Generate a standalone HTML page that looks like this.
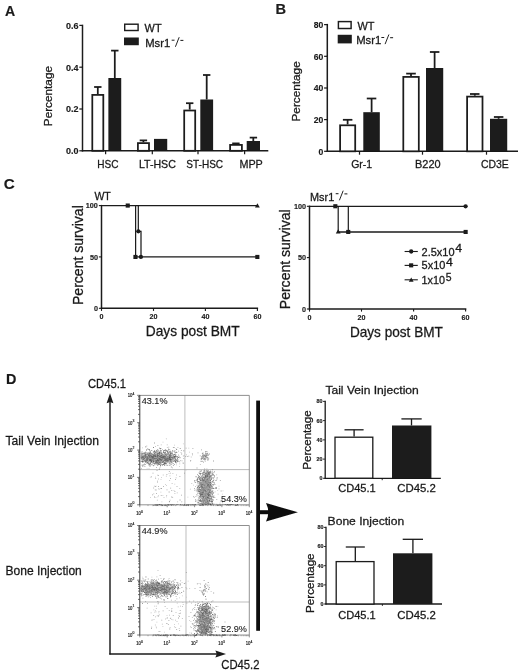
<!DOCTYPE html>
<html><head><meta charset="utf-8"><title>Figure</title>
<style>
html,body{margin:0;padding:0;background:#fff;}
body{width:520px;height:670px;overflow:hidden;font-family:"Liberation Sans",sans-serif;}
svg{display:block;font-family:"Liberation Sans",sans-serif;}
svg text{fill:#1a1a1a;stroke:#1a1a1a;stroke-width:0.28px;}
svg text.b{stroke-width:0.15px;}
</style></head>
<body>
<svg width="520" height="670" viewBox="0 0 520 670">
<rect width="520" height="670" fill="#fff"/>
<g filter="url(#soft)">
<text x="5.0" y="16.1" font-size="14" font-weight="bold" class="b" textLength="10.2" lengthAdjust="spacingAndGlyphs">A</text>
<line x1="82.5" y1="24.7" x2="82.5" y2="151.5" stroke="#1a1a1a" stroke-width="1.5"/>
<line x1="81.8" y1="150.8" x2="268.3" y2="150.8" stroke="#1a1a1a" stroke-width="1.5"/>
<line x1="79.3" y1="150.8" x2="82.5" y2="150.8" stroke="#1a1a1a" stroke-width="1.2"/>
<text x="65.9" y="154.1" font-size="9.4" font-weight="bold" class="b" textLength="12.5" lengthAdjust="spacingAndGlyphs">0.0</text>
<line x1="79.3" y1="109.0" x2="82.5" y2="109.0" stroke="#1a1a1a" stroke-width="1.2"/>
<text x="65.9" y="112.3" font-size="9.4" font-weight="bold" class="b" textLength="12.5" lengthAdjust="spacingAndGlyphs">0.2</text>
<line x1="79.3" y1="67.2" x2="82.5" y2="67.2" stroke="#1a1a1a" stroke-width="1.2"/>
<text x="65.9" y="70.5" font-size="9.4" font-weight="bold" class="b" textLength="12.5" lengthAdjust="spacingAndGlyphs">0.4</text>
<line x1="79.3" y1="25.4" x2="82.5" y2="25.4" stroke="#1a1a1a" stroke-width="1.2"/>
<text x="65.9" y="28.7" font-size="9.4" font-weight="bold" class="b" textLength="12.5" lengthAdjust="spacingAndGlyphs">0.6</text>
<text x="52.4" y="126.2" font-size="11.5" textLength="60.2" lengthAdjust="spacingAndGlyphs" transform="rotate(-90 52.4 126.2)">Percentage</text>
<line x1="97.8" y1="87.0" x2="97.8" y2="94.0" stroke="#1a1a1a" stroke-width="1.75"/>
<line x1="94.1" y1="87.0" x2="101.5" y2="87.0" stroke="#1a1a1a" stroke-width="1.75"/>
<rect x="92.3" y="94.9" width="11.0" height="55.9" fill="#fff" stroke="#1a1a1a" stroke-width="1.75"/>
<line x1="114.8" y1="50.6" x2="114.8" y2="78.0" stroke="#1a1a1a" stroke-width="1.75"/>
<line x1="111.1" y1="50.6" x2="118.5" y2="50.6" stroke="#1a1a1a" stroke-width="1.75"/>
<rect x="108.4" y="78.0" width="12.8" height="72.8" fill="#1a1a1a"/>
<line x1="143.4" y1="140.4" x2="143.4" y2="142.2" stroke="#1a1a1a" stroke-width="1.75"/>
<line x1="139.7" y1="140.4" x2="147.1" y2="140.4" stroke="#1a1a1a" stroke-width="1.75"/>
<rect x="137.9" y="143.1" width="11.1" height="7.7" fill="#fff" stroke="#1a1a1a" stroke-width="1.75"/>
<rect x="154.0" y="138.9" width="13.2" height="11.9" fill="#1a1a1a"/>
<line x1="189.7" y1="103.2" x2="189.7" y2="109.6" stroke="#1a1a1a" stroke-width="1.75"/>
<line x1="186.0" y1="103.2" x2="193.4" y2="103.2" stroke="#1a1a1a" stroke-width="1.75"/>
<rect x="184.2" y="110.5" width="11.0" height="40.3" fill="#fff" stroke="#1a1a1a" stroke-width="1.75"/>
<line x1="206.7" y1="75.0" x2="206.7" y2="99.5" stroke="#1a1a1a" stroke-width="1.75"/>
<line x1="203.0" y1="75.0" x2="210.4" y2="75.0" stroke="#1a1a1a" stroke-width="1.75"/>
<rect x="200.3" y="99.5" width="12.8" height="51.3" fill="#1a1a1a"/>
<line x1="235.9" y1="143.4" x2="235.9" y2="144.0" stroke="#1a1a1a" stroke-width="1.75"/>
<line x1="232.2" y1="143.4" x2="239.6" y2="143.4" stroke="#1a1a1a" stroke-width="1.75"/>
<rect x="230.1" y="144.9" width="11.8" height="5.9" fill="#fff" stroke="#1a1a1a" stroke-width="1.75"/>
<line x1="253.3" y1="137.6" x2="253.3" y2="141.0" stroke="#1a1a1a" stroke-width="1.75"/>
<line x1="249.7" y1="137.6" x2="257.1" y2="137.6" stroke="#1a1a1a" stroke-width="1.75"/>
<rect x="246.7" y="141.0" width="13.3" height="9.8" fill="#1a1a1a"/>
<line x1="105.6" y1="150.8" x2="105.6" y2="154.2" stroke="#1a1a1a" stroke-width="1.2"/>
<line x1="152.3" y1="150.8" x2="152.3" y2="154.2" stroke="#1a1a1a" stroke-width="1.2"/>
<line x1="198.0" y1="150.8" x2="198.0" y2="154.2" stroke="#1a1a1a" stroke-width="1.2"/>
<line x1="244.6" y1="150.8" x2="244.6" y2="154.2" stroke="#1a1a1a" stroke-width="1.2"/>
<text x="97.2" y="168.4" font-size="11.3" textLength="21.2" lengthAdjust="spacingAndGlyphs">HSC</text>
<text x="138.9" y="168.4" font-size="11.3" textLength="37.0" lengthAdjust="spacingAndGlyphs">LT-HSC</text>
<text x="186.3" y="168.4" font-size="11.3" textLength="36.8" lengthAdjust="spacingAndGlyphs">ST-HSC</text>
<text x="239.4" y="168.4" font-size="11.3" textLength="23.4" lengthAdjust="spacingAndGlyphs">MPP</text>
<rect x="124.7" y="24.2" width="13.4" height="6.3" fill="#fff" stroke="#1a1a1a" stroke-width="1.4"/>
<rect x="124.0" y="37.5" width="14.8" height="7.7" fill="#1a1a1a"/>
<text x="144.6" y="31.5" font-size="10.8" textLength="17.0" lengthAdjust="spacingAndGlyphs">WT</text>
<text x="145.2" y="47.0" font-size="10.8" textLength="25.0" lengthAdjust="spacingAndGlyphs">Msr1</text>
<line x1="171.7" y1="40.2" x2="174.5" y2="40.2" stroke="#1a1a1a" stroke-width="1.0"/>
<line x1="175.4" y1="46.8" x2="179.2" y2="37.2" stroke="#1a1a1a" stroke-width="0.95"/>
<line x1="180.4" y1="40.4" x2="183.4" y2="40.4" stroke="#1a1a1a" stroke-width="1.0"/>
<text x="275.5" y="13.7" font-size="14" font-weight="bold" class="b" textLength="10.6" lengthAdjust="spacingAndGlyphs">B</text>
<line x1="327.3" y1="23.9" x2="327.3" y2="152.0" stroke="#1a1a1a" stroke-width="1.5"/>
<line x1="326.6" y1="151.3" x2="518.0" y2="151.3" stroke="#1a1a1a" stroke-width="1.5"/>
<line x1="324.1" y1="151.3" x2="327.3" y2="151.3" stroke="#1a1a1a" stroke-width="1.2"/>
<text x="318.6" y="154.6" font-size="9.4" font-weight="bold" class="b" textLength="4.8" lengthAdjust="spacingAndGlyphs">0</text>
<line x1="324.1" y1="119.6" x2="327.3" y2="119.6" stroke="#1a1a1a" stroke-width="1.2"/>
<text x="313.8" y="122.9" font-size="9.4" font-weight="bold" class="b" textLength="9.6" lengthAdjust="spacingAndGlyphs">20</text>
<line x1="324.1" y1="88.0" x2="327.3" y2="88.0" stroke="#1a1a1a" stroke-width="1.2"/>
<text x="313.8" y="91.2" font-size="9.4" font-weight="bold" class="b" textLength="9.6" lengthAdjust="spacingAndGlyphs">40</text>
<line x1="324.1" y1="56.3" x2="327.3" y2="56.3" stroke="#1a1a1a" stroke-width="1.2"/>
<text x="313.8" y="59.6" font-size="9.4" font-weight="bold" class="b" textLength="9.6" lengthAdjust="spacingAndGlyphs">60</text>
<line x1="324.1" y1="24.6" x2="327.3" y2="24.6" stroke="#1a1a1a" stroke-width="1.2"/>
<text x="313.8" y="27.9" font-size="9.4" font-weight="bold" class="b" textLength="9.6" lengthAdjust="spacingAndGlyphs">80</text>
<text x="300.0" y="121.5" font-size="11.5" textLength="60.2" lengthAdjust="spacingAndGlyphs" transform="rotate(-90 300.0 121.5)">Percentage</text>
<line x1="347.6" y1="119.8" x2="347.6" y2="124.4" stroke="#1a1a1a" stroke-width="1.75"/>
<line x1="342.9" y1="119.8" x2="352.4" y2="119.8" stroke="#1a1a1a" stroke-width="1.75"/>
<rect x="340.1" y="125.3" width="15.1" height="26.0" fill="#fff" stroke="#1a1a1a" stroke-width="1.75"/>
<line x1="371.6" y1="98.5" x2="371.6" y2="112.2" stroke="#1a1a1a" stroke-width="1.75"/>
<line x1="366.8" y1="98.5" x2="376.3" y2="98.5" stroke="#1a1a1a" stroke-width="1.75"/>
<rect x="363.3" y="112.2" width="16.5" height="39.1" fill="#1a1a1a"/>
<line x1="411.0" y1="73.6" x2="411.0" y2="76.0" stroke="#1a1a1a" stroke-width="1.75"/>
<line x1="406.2" y1="73.6" x2="415.8" y2="73.6" stroke="#1a1a1a" stroke-width="1.75"/>
<rect x="403.3" y="76.9" width="15.5" height="74.4" fill="#fff" stroke="#1a1a1a" stroke-width="1.75"/>
<line x1="434.6" y1="52.0" x2="434.6" y2="68.0" stroke="#1a1a1a" stroke-width="1.75"/>
<line x1="429.9" y1="52.0" x2="439.4" y2="52.0" stroke="#1a1a1a" stroke-width="1.75"/>
<rect x="426.0" y="68.0" width="17.2" height="83.3" fill="#1a1a1a"/>
<line x1="474.8" y1="94.0" x2="474.8" y2="95.7" stroke="#1a1a1a" stroke-width="1.75"/>
<line x1="470.0" y1="94.0" x2="479.5" y2="94.0" stroke="#1a1a1a" stroke-width="1.75"/>
<rect x="467.1" y="96.6" width="15.4" height="54.7" fill="#fff" stroke="#1a1a1a" stroke-width="1.75"/>
<line x1="498.6" y1="117.0" x2="498.6" y2="118.8" stroke="#1a1a1a" stroke-width="1.75"/>
<line x1="493.9" y1="117.0" x2="503.4" y2="117.0" stroke="#1a1a1a" stroke-width="1.75"/>
<rect x="490.0" y="118.8" width="17.2" height="32.5" fill="#1a1a1a"/>
<line x1="359.5" y1="151.3" x2="359.5" y2="154.7" stroke="#1a1a1a" stroke-width="1.2"/>
<line x1="422.5" y1="151.3" x2="422.5" y2="154.7" stroke="#1a1a1a" stroke-width="1.2"/>
<line x1="486.5" y1="151.3" x2="486.5" y2="154.7" stroke="#1a1a1a" stroke-width="1.2"/>
<text x="351.2" y="167.5" font-size="11.4" textLength="21.0" lengthAdjust="spacingAndGlyphs">Gr-1</text>
<text x="415.0" y="167.6" font-size="11.3" textLength="25.6" lengthAdjust="spacingAndGlyphs">B220</text>
<text x="481.0" y="167.6" font-size="11.3" textLength="27.8" lengthAdjust="spacingAndGlyphs">CD3E</text>
<rect x="338.4" y="21.6" width="12.7" height="6.9" fill="#fff" stroke="#1a1a1a" stroke-width="1.45"/>
<rect x="337.7" y="34.8" width="14.1" height="8.6" fill="#1a1a1a"/>
<text x="357.4" y="29.6" font-size="10.8" textLength="17.0" lengthAdjust="spacingAndGlyphs">WT</text>
<text x="356.2" y="44.3" font-size="10.8" textLength="25.0" lengthAdjust="spacingAndGlyphs">Msr1</text>
<line x1="381.4" y1="37.5" x2="384.2" y2="37.5" stroke="#1a1a1a" stroke-width="1.0"/>
<line x1="385.1" y1="44.1" x2="388.9" y2="34.5" stroke="#1a1a1a" stroke-width="0.95"/>
<line x1="390.1" y1="37.7" x2="393.1" y2="37.7" stroke="#1a1a1a" stroke-width="1.0"/>
<text x="3.7" y="188.7" font-size="14" font-weight="bold" class="b" textLength="11.0" lengthAdjust="spacingAndGlyphs">C</text>
<line x1="101.5" y1="204.9" x2="101.5" y2="309.0" stroke="#1a1a1a" stroke-width="1.45"/>
<line x1="100.8" y1="308.3" x2="258.1" y2="308.3" stroke="#1a1a1a" stroke-width="1.45"/>
<line x1="98.9" y1="308.3" x2="101.5" y2="308.3" stroke="#1a1a1a" stroke-width="1.1"/>
<text x="94.0" y="311.1" font-size="8.0" font-weight="bold" class="b" textLength="4.0" lengthAdjust="spacingAndGlyphs">0</text>
<line x1="98.9" y1="256.9" x2="101.5" y2="256.9" stroke="#1a1a1a" stroke-width="1.1"/>
<text x="89.9" y="259.8" font-size="8.0" font-weight="bold" class="b" textLength="8.1" lengthAdjust="spacingAndGlyphs">50</text>
<line x1="98.9" y1="205.6" x2="101.5" y2="205.6" stroke="#1a1a1a" stroke-width="1.1"/>
<text x="85.8" y="208.4" font-size="8.0" font-weight="bold" class="b" textLength="12.1" lengthAdjust="spacingAndGlyphs">100</text>
<line x1="101.5" y1="308.3" x2="101.5" y2="310.9" stroke="#1a1a1a" stroke-width="1.1"/>
<text x="99.5" y="319.3" font-size="7.8" font-weight="bold" class="b" textLength="4.0" lengthAdjust="spacingAndGlyphs">0</text>
<line x1="153.5" y1="308.3" x2="153.5" y2="310.9" stroke="#1a1a1a" stroke-width="1.1"/>
<text x="149.5" y="319.3" font-size="7.8" font-weight="bold" class="b" textLength="8.0" lengthAdjust="spacingAndGlyphs">20</text>
<line x1="205.4" y1="308.3" x2="205.4" y2="310.9" stroke="#1a1a1a" stroke-width="1.1"/>
<text x="201.4" y="319.3" font-size="7.8" font-weight="bold" class="b" textLength="8.0" lengthAdjust="spacingAndGlyphs">40</text>
<line x1="257.4" y1="308.3" x2="257.4" y2="310.9" stroke="#1a1a1a" stroke-width="1.1"/>
<text x="253.4" y="319.3" font-size="7.8" font-weight="bold" class="b" textLength="8.0" lengthAdjust="spacingAndGlyphs">60</text>
<text x="82.6" y="305.0" font-size="14.3" textLength="99.8" lengthAdjust="spacingAndGlyphs" transform="rotate(-90 82.6 305.0)">Percent survival</text>
<text x="145.8" y="336.4" font-size="14.5" textLength="93.8" lengthAdjust="spacingAndGlyphs">Days post BMT</text>
<text x="94.4" y="200.0" font-size="10.8" textLength="16.4" lengthAdjust="spacingAndGlyphs">WT</text>
<path d="M101.5 205.6 L257.4 205.6" fill="none" stroke="#1a1a1a" stroke-width="1.2"/>
<path d="M135.6 205.6 L135.6 256.9 L257.4 256.9" fill="none" stroke="#1a1a1a" stroke-width="1.2"/>
<path d="M138.3 205.6 L138.3 231.3 L141.0 231.3 L141.0 256.9" fill="none" stroke="#1a1a1a" stroke-width="1.2"/>
<path d="M257.4 203.2 L259.8 207.5 L255.0 207.5Z" fill="#1a1a1a"/>
<rect x="125.7" y="203.5" width="4.1" height="4.1" fill="#1a1a1a"/>
<rect x="133.4" y="254.9" width="4.1" height="4.1" fill="#1a1a1a"/>
<rect x="255.3" y="254.9" width="4.1" height="4.1" fill="#1a1a1a"/>
<circle cx="138.3" cy="231.3" r="2.15" fill="#1a1a1a"/>
<circle cx="140.9" cy="256.9" r="2.15" fill="#1a1a1a"/>
<line x1="309.5" y1="205.6" x2="309.5" y2="309.7" stroke="#1a1a1a" stroke-width="1.45"/>
<line x1="308.8" y1="309.0" x2="466.3" y2="309.0" stroke="#1a1a1a" stroke-width="1.45"/>
<line x1="306.9" y1="309.0" x2="309.5" y2="309.0" stroke="#1a1a1a" stroke-width="1.1"/>
<text x="301.9" y="311.8" font-size="8.0" font-weight="bold" class="b" textLength="4.0" lengthAdjust="spacingAndGlyphs">0</text>
<line x1="306.9" y1="257.6" x2="309.5" y2="257.6" stroke="#1a1a1a" stroke-width="1.1"/>
<text x="297.9" y="260.4" font-size="8.0" font-weight="bold" class="b" textLength="8.1" lengthAdjust="spacingAndGlyphs">50</text>
<line x1="306.9" y1="206.3" x2="309.5" y2="206.3" stroke="#1a1a1a" stroke-width="1.1"/>
<text x="293.9" y="209.1" font-size="8.0" font-weight="bold" class="b" textLength="12.1" lengthAdjust="spacingAndGlyphs">100</text>
<line x1="309.5" y1="309.0" x2="309.5" y2="311.6" stroke="#1a1a1a" stroke-width="1.1"/>
<text x="307.5" y="320.0" font-size="7.8" font-weight="bold" class="b" textLength="4.0" lengthAdjust="spacingAndGlyphs">0</text>
<line x1="361.5" y1="309.0" x2="361.5" y2="311.6" stroke="#1a1a1a" stroke-width="1.1"/>
<text x="357.5" y="320.0" font-size="7.8" font-weight="bold" class="b" textLength="8.0" lengthAdjust="spacingAndGlyphs">20</text>
<line x1="413.6" y1="309.0" x2="413.6" y2="311.6" stroke="#1a1a1a" stroke-width="1.1"/>
<text x="409.6" y="320.0" font-size="7.8" font-weight="bold" class="b" textLength="8.0" lengthAdjust="spacingAndGlyphs">40</text>
<line x1="465.6" y1="309.0" x2="465.6" y2="311.6" stroke="#1a1a1a" stroke-width="1.1"/>
<text x="461.6" y="320.0" font-size="7.8" font-weight="bold" class="b" textLength="8.0" lengthAdjust="spacingAndGlyphs">60</text>
<text x="289.7" y="309.2" font-size="14.3" textLength="99.8" lengthAdjust="spacingAndGlyphs" transform="rotate(-90 289.7 309.2)">Percent survival</text>
<text x="349.9" y="337.1" font-size="14.5" textLength="93.0" lengthAdjust="spacingAndGlyphs">Days post BMT</text>
<text x="310.0" y="200.5" font-size="10.8" textLength="24.2" lengthAdjust="spacingAndGlyphs">Msr1</text>
<line x1="335.7" y1="193.7" x2="338.5" y2="193.7" stroke="#1a1a1a" stroke-width="1.0"/>
<line x1="339.4" y1="200.3" x2="343.2" y2="190.7" stroke="#1a1a1a" stroke-width="0.95"/>
<line x1="344.4" y1="193.9" x2="347.4" y2="193.9" stroke="#1a1a1a" stroke-width="1.0"/>
<path d="M309.5 206.3 L465.6 206.3" fill="none" stroke="#1a1a1a" stroke-width="1.2"/>
<path d="M338.2 206.3 L338.2 232.0" fill="none" stroke="#1a1a1a" stroke-width="1.2"/>
<path d="M338.2 232.0 L465.6 232.0" fill="none" stroke="#1a1a1a" stroke-width="1.7"/>
<path d="M348.3 206.3 L348.3 232.0" fill="none" stroke="#1a1a1a" stroke-width="1.2"/>
<circle cx="465.6" cy="206.3" r="2.15" fill="#1a1a1a"/>
<rect x="333.3" y="204.2" width="4.1" height="4.1" fill="#1a1a1a"/>
<rect x="346.2" y="229.9" width="4.1" height="4.1" fill="#1a1a1a"/>
<rect x="463.6" y="229.9" width="4.1" height="4.1" fill="#1a1a1a"/>
<path d="M338.2 229.3 L340.6 233.6 L335.8 233.6Z" fill="#1a1a1a"/>
<line x1="404.6" y1="251.5" x2="417.8" y2="251.5" stroke="#1a1a1a" stroke-width="1.1"/>
<circle cx="411.2" cy="251.5" r="2.15" fill="#1a1a1a"/>
<text x="421.6" y="255.5" font-size="10.4" textLength="33.0" lengthAdjust="spacingAndGlyphs">2.5x10</text>
<text x="455.3" y="252.4" font-size="10.2" textLength="6.8" lengthAdjust="spacingAndGlyphs">4</text>
<line x1="404.6" y1="265.4" x2="417.8" y2="265.4" stroke="#1a1a1a" stroke-width="1.1"/>
<rect x="409.1" y="263.3" width="4.1" height="4.1" fill="#1a1a1a"/>
<text x="421.6" y="269.4" font-size="10.4" textLength="23.8" lengthAdjust="spacingAndGlyphs">5x10</text>
<text x="446.1" y="266.3" font-size="10.2" textLength="6.8" lengthAdjust="spacingAndGlyphs">4</text>
<line x1="404.6" y1="279.8" x2="417.8" y2="279.8" stroke="#1a1a1a" stroke-width="1.1"/>
<path d="M411.2 277.4 L413.6 281.7 L408.8 281.7Z" fill="#1a1a1a"/>
<text x="421.6" y="283.8" font-size="10.4" textLength="23.4" lengthAdjust="spacingAndGlyphs">1x10</text>
<text x="445.7" y="280.7" font-size="10.2" textLength="5.8" lengthAdjust="spacingAndGlyphs">5</text>
<text x="6.1" y="383.7" font-size="14" font-weight="bold" class="b" textLength="10.4" lengthAdjust="spacingAndGlyphs">D</text>
<text x="88.0" y="388.0" font-size="12.2" textLength="38.0" lengthAdjust="spacingAndGlyphs">CD45.1</text>
<text x="221.3" y="669.0" font-size="12.2" textLength="38.2" lengthAdjust="spacingAndGlyphs">CD45.2</text>
<text x="5.5" y="444.8" font-size="12.3" textLength="93.6" lengthAdjust="spacingAndGlyphs">Tail Vein Injection</text>
<text x="5.5" y="574.6" font-size="12.3" textLength="76.3" lengthAdjust="spacingAndGlyphs">Bone Injection</text>
<line x1="110.0" y1="401.0" x2="110.0" y2="654.6" stroke="#1a1a1a" stroke-width="1.45"/>
<line x1="109.3" y1="653.9" x2="217.5" y2="653.9" stroke="#1a1a1a" stroke-width="1.45"/>
<path d="M110 393.3 L113.4 403.3 L110 402.0 L106.6 403.3Z" fill="#1a1a1a"/>
<path d="M226.0 653.9 L215.4 657.4 L216.8 653.9 L215.4 650.4Z" fill="#1a1a1a"/>
<line x1="184.9" y1="395.4" x2="184.9" y2="504.8" stroke="#a0a0a0" stroke-width="0.7"/>
<line x1="139.8" y1="469.6" x2="249.3" y2="469.6" stroke="#a0a0a0" stroke-width="0.7"/>
<line x1="139.8" y1="395.4" x2="249.3" y2="395.4" stroke="#7c7c7c" stroke-width="0.85"/>
<line x1="249.3" y1="395.4" x2="249.3" y2="504.8" stroke="#808080" stroke-width="0.85"/>
<line x1="139.8" y1="395.0" x2="139.8" y2="505.2" stroke="#3a3a3a" stroke-width="1.0"/>
<line x1="139.8" y1="504.8" x2="249.3" y2="504.8" stroke="#777" stroke-width="0.8"/>
<path d="M143.4 458.6h0.8v0.8h-0.8zM165.2 462.9h0.8v0.8h-0.8zM148.0 455.5h0.8v0.8h-0.8zM141.2 456.8h0.8v0.8h-0.8zM160.9 456.9h0.8v0.8h-0.8zM147.6 459.0h0.8v0.8h-0.8zM142.5 457.8h0.8v0.8h-0.8zM166.8 465.0h0.8v0.8h-0.8zM157.5 456.2h0.8v0.8h-0.8zM162.8 458.4h0.8v0.8h-0.8zM159.7 462.5h0.8v0.8h-0.8zM160.7 452.6h0.8v0.8h-0.8zM169.6 463.7h0.8v0.8h-0.8zM149.0 457.4h0.8v0.8h-0.8zM153.6 455.5h0.8v0.8h-0.8zM160.0 455.9h0.8v0.8h-0.8zM156.2 459.7h0.8v0.8h-0.8zM163.7 457.6h0.8v0.8h-0.8zM165.5 449.8h0.8v0.8h-0.8zM154.7 458.5h0.8v0.8h-0.8zM168.8 455.1h0.8v0.8h-0.8zM148.3 456.4h0.8v0.8h-0.8zM170.6 459.1h0.8v0.8h-0.8zM175.6 454.6h0.8v0.8h-0.8zM144.3 463.4h0.8v0.8h-0.8zM152.1 457.2h0.8v0.8h-0.8zM158.0 461.3h0.8v0.8h-0.8zM159.3 456.9h0.8v0.8h-0.8zM160.8 458.4h0.8v0.8h-0.8zM175.3 461.0h0.8v0.8h-0.8zM152.1 456.5h0.8v0.8h-0.8zM162.1 458.1h0.8v0.8h-0.8zM144.0 458.2h0.8v0.8h-0.8zM161.6 455.7h0.8v0.8h-0.8zM155.3 458.6h0.8v0.8h-0.8zM170.4 453.9h0.8v0.8h-0.8zM167.0 458.7h0.8v0.8h-0.8zM164.0 457.9h0.8v0.8h-0.8zM167.0 458.3h0.8v0.8h-0.8zM159.9 455.2h0.8v0.8h-0.8zM141.5 459.1h0.8v0.8h-0.8zM144.3 454.6h0.8v0.8h-0.8zM167.8 452.6h0.8v0.8h-0.8zM170.4 459.5h0.8v0.8h-0.8zM181.3 453.6h0.8v0.8h-0.8zM174.8 460.9h0.8v0.8h-0.8zM150.9 450.3h0.8v0.8h-0.8zM161.4 454.1h0.8v0.8h-0.8zM148.6 457.7h0.8v0.8h-0.8zM175.0 452.3h0.8v0.8h-0.8zM168.3 459.6h0.8v0.8h-0.8zM169.1 458.2h0.8v0.8h-0.8zM156.5 457.0h0.8v0.8h-0.8zM162.9 456.3h0.8v0.8h-0.8zM141.3 458.3h0.8v0.8h-0.8zM162.5 460.4h0.8v0.8h-0.8zM158.9 454.4h0.8v0.8h-0.8zM159.8 451.3h0.8v0.8h-0.8zM154.3 456.1h0.8v0.8h-0.8zM158.5 455.6h0.8v0.8h-0.8zM151.4 462.0h0.8v0.8h-0.8zM170.2 455.2h0.8v0.8h-0.8zM157.6 453.6h0.8v0.8h-0.8zM169.4 451.9h0.8v0.8h-0.8zM163.7 455.7h0.8v0.8h-0.8zM163.3 460.5h0.8v0.8h-0.8zM142.8 464.5h0.8v0.8h-0.8zM145.3 455.3h0.8v0.8h-0.8zM156.8 457.3h0.8v0.8h-0.8zM145.2 457.5h0.8v0.8h-0.8zM158.4 456.3h0.8v0.8h-0.8zM163.9 457.2h0.8v0.8h-0.8zM163.9 456.5h0.8v0.8h-0.8zM164.8 456.5h0.8v0.8h-0.8zM147.8 458.0h0.8v0.8h-0.8zM162.6 455.7h0.8v0.8h-0.8zM167.6 457.8h0.8v0.8h-0.8zM156.3 462.7h0.8v0.8h-0.8zM154.1 456.3h0.8v0.8h-0.8zM167.3 460.0h0.8v0.8h-0.8zM149.9 459.4h0.8v0.8h-0.8zM155.1 455.2h0.8v0.8h-0.8zM148.3 464.2h0.8v0.8h-0.8zM175.8 462.4h0.8v0.8h-0.8zM167.1 451.1h0.8v0.8h-0.8zM154.0 463.5h0.8v0.8h-0.8zM155.6 461.2h0.8v0.8h-0.8zM150.4 462.2h0.8v0.8h-0.8zM166.1 461.3h0.8v0.8h-0.8zM160.7 454.8h0.8v0.8h-0.8zM167.1 459.8h0.8v0.8h-0.8zM173.0 458.6h0.8v0.8h-0.8zM142.4 460.7h0.8v0.8h-0.8zM164.6 453.6h0.8v0.8h-0.8zM159.4 455.8h0.8v0.8h-0.8zM160.5 462.6h0.8v0.8h-0.8zM160.6 448.2h0.8v0.8h-0.8zM149.1 456.3h0.8v0.8h-0.8zM156.3 459.7h0.8v0.8h-0.8zM164.3 463.7h0.8v0.8h-0.8zM156.7 459.9h0.8v0.8h-0.8zM169.6 455.9h0.8v0.8h-0.8zM161.6 454.5h0.8v0.8h-0.8zM159.2 456.2h0.8v0.8h-0.8zM167.2 461.2h0.8v0.8h-0.8zM156.1 452.0h0.8v0.8h-0.8zM151.4 454.4h0.8v0.8h-0.8zM156.7 454.5h0.8v0.8h-0.8zM170.6 459.3h0.8v0.8h-0.8zM160.7 456.5h0.8v0.8h-0.8zM161.9 457.0h0.8v0.8h-0.8zM156.8 452.9h0.8v0.8h-0.8zM170.8 460.3h0.8v0.8h-0.8zM188.4 455.7h0.8v0.8h-0.8zM142.4 456.9h0.8v0.8h-0.8zM153.1 458.7h0.8v0.8h-0.8zM163.2 450.4h0.8v0.8h-0.8zM158.4 455.8h0.8v0.8h-0.8zM159.0 455.0h0.8v0.8h-0.8zM159.1 455.9h0.8v0.8h-0.8zM157.1 459.0h0.8v0.8h-0.8zM149.3 460.0h0.8v0.8h-0.8zM156.0 457.4h0.8v0.8h-0.8zM170.9 457.4h0.8v0.8h-0.8zM156.4 457.2h0.8v0.8h-0.8zM148.5 459.9h0.8v0.8h-0.8zM162.7 459.6h0.8v0.8h-0.8zM169.5 458.1h0.8v0.8h-0.8zM163.0 462.3h0.8v0.8h-0.8zM142.7 461.6h0.8v0.8h-0.8zM142.8 458.7h0.8v0.8h-0.8zM147.9 460.8h0.8v0.8h-0.8zM144.4 461.0h0.8v0.8h-0.8zM164.7 460.6h0.8v0.8h-0.8zM149.2 454.0h0.8v0.8h-0.8zM185.3 456.2h0.8v0.8h-0.8zM159.6 457.1h0.8v0.8h-0.8zM179.0 456.4h0.8v0.8h-0.8zM152.7 459.3h0.8v0.8h-0.8zM162.7 459.4h0.8v0.8h-0.8zM157.8 459.7h0.8v0.8h-0.8zM161.6 457.9h0.8v0.8h-0.8zM146.8 462.4h0.8v0.8h-0.8zM171.0 457.7h0.8v0.8h-0.8zM162.3 459.2h0.8v0.8h-0.8zM155.0 455.1h0.8v0.8h-0.8zM142.4 458.5h0.8v0.8h-0.8zM150.2 457.9h0.8v0.8h-0.8zM160.0 457.2h0.8v0.8h-0.8zM149.9 456.1h0.8v0.8h-0.8zM156.9 457.2h0.8v0.8h-0.8zM147.3 453.3h0.8v0.8h-0.8zM152.6 457.7h0.8v0.8h-0.8zM166.7 456.9h0.8v0.8h-0.8zM170.1 456.1h0.8v0.8h-0.8zM146.9 453.4h0.8v0.8h-0.8zM157.4 452.5h0.8v0.8h-0.8zM148.9 454.5h0.8v0.8h-0.8zM166.7 454.3h0.8v0.8h-0.8zM166.3 459.8h0.8v0.8h-0.8zM154.0 453.9h0.8v0.8h-0.8zM151.9 458.1h0.8v0.8h-0.8zM143.4 461.0h0.8v0.8h-0.8zM147.1 458.4h0.8v0.8h-0.8zM153.9 456.4h0.8v0.8h-0.8zM147.3 454.4h0.8v0.8h-0.8zM151.5 453.9h0.8v0.8h-0.8zM148.0 453.3h0.8v0.8h-0.8zM146.9 456.1h0.8v0.8h-0.8zM151.4 455.9h0.8v0.8h-0.8zM148.7 465.2h0.8v0.8h-0.8zM156.8 462.4h0.8v0.8h-0.8zM167.3 456.5h0.8v0.8h-0.8zM152.6 455.1h0.8v0.8h-0.8zM143.8 458.4h0.8v0.8h-0.8zM149.6 451.6h0.8v0.8h-0.8zM156.9 454.8h0.8v0.8h-0.8zM153.5 457.6h0.8v0.8h-0.8zM168.4 457.7h0.8v0.8h-0.8zM155.6 456.7h0.8v0.8h-0.8zM150.4 452.8h0.8v0.8h-0.8zM164.0 457.6h0.8v0.8h-0.8zM153.3 452.0h0.8v0.8h-0.8zM153.8 455.3h0.8v0.8h-0.8zM145.0 453.4h0.8v0.8h-0.8zM144.9 460.5h0.8v0.8h-0.8zM174.5 456.8h0.8v0.8h-0.8zM170.0 458.8h0.8v0.8h-0.8zM148.7 454.8h0.8v0.8h-0.8zM162.9 460.7h0.8v0.8h-0.8zM176.9 460.1h0.8v0.8h-0.8zM166.9 450.2h0.8v0.8h-0.8zM169.2 454.6h0.8v0.8h-0.8zM163.7 456.9h0.8v0.8h-0.8zM159.8 455.4h0.8v0.8h-0.8zM174.2 451.3h0.8v0.8h-0.8zM150.2 462.4h0.8v0.8h-0.8zM171.6 459.4h0.8v0.8h-0.8zM161.3 454.3h0.8v0.8h-0.8zM162.5 458.2h0.8v0.8h-0.8zM173.8 458.5h0.8v0.8h-0.8zM151.6 458.3h0.8v0.8h-0.8zM150.0 455.4h0.8v0.8h-0.8zM158.1 454.4h0.8v0.8h-0.8zM158.5 459.8h0.8v0.8h-0.8zM162.9 451.8h0.8v0.8h-0.8zM155.7 457.4h0.8v0.8h-0.8zM149.4 456.6h0.8v0.8h-0.8zM146.6 463.0h0.8v0.8h-0.8zM149.8 457.1h0.8v0.8h-0.8zM161.4 457.7h0.8v0.8h-0.8zM144.4 455.7h0.8v0.8h-0.8zM152.6 458.7h0.8v0.8h-0.8zM165.9 462.4h0.8v0.8h-0.8zM145.8 458.8h0.8v0.8h-0.8zM170.6 455.6h0.8v0.8h-0.8zM161.0 460.5h0.8v0.8h-0.8zM146.8 456.6h0.8v0.8h-0.8zM152.7 454.7h0.8v0.8h-0.8zM162.2 459.4h0.8v0.8h-0.8zM163.8 460.3h0.8v0.8h-0.8zM160.7 453.3h0.8v0.8h-0.8zM169.9 458.5h0.8v0.8h-0.8zM154.4 464.4h0.8v0.8h-0.8zM169.9 460.4h0.8v0.8h-0.8zM165.7 457.5h0.8v0.8h-0.8zM168.9 456.6h0.8v0.8h-0.8z" fill="#8a8a8a"/>
<path d="M143.5 453.1h0.8v0.8h-0.8zM164.0 452.7h0.8v0.8h-0.8zM142.0 453.0h0.8v0.8h-0.8zM145.4 459.7h0.8v0.8h-0.8zM169.0 457.0h0.8v0.8h-0.8zM152.3 459.8h0.8v0.8h-0.8zM176.4 456.2h0.8v0.8h-0.8zM169.5 461.3h0.8v0.8h-0.8zM152.9 459.8h0.8v0.8h-0.8zM147.9 455.3h0.8v0.8h-0.8zM143.6 457.6h0.8v0.8h-0.8zM152.0 456.5h0.8v0.8h-0.8zM148.6 449.3h0.8v0.8h-0.8zM153.8 456.6h0.8v0.8h-0.8zM156.3 454.5h0.8v0.8h-0.8zM170.4 459.3h0.8v0.8h-0.8zM168.7 459.3h0.8v0.8h-0.8zM165.7 454.9h0.8v0.8h-0.8zM151.6 454.7h0.8v0.8h-0.8zM153.9 456.5h0.8v0.8h-0.8zM174.1 460.2h0.8v0.8h-0.8zM155.7 458.7h0.8v0.8h-0.8zM153.2 457.8h0.8v0.8h-0.8zM158.0 459.2h0.8v0.8h-0.8zM163.2 457.2h0.8v0.8h-0.8zM161.5 455.1h0.8v0.8h-0.8zM158.0 453.3h0.8v0.8h-0.8zM166.2 460.0h0.8v0.8h-0.8zM142.4 465.7h0.8v0.8h-0.8zM153.8 451.4h0.8v0.8h-0.8zM163.1 464.3h0.8v0.8h-0.8zM156.1 462.6h0.8v0.8h-0.8zM154.7 457.5h0.8v0.8h-0.8zM170.1 456.1h0.8v0.8h-0.8zM152.7 458.3h0.8v0.8h-0.8zM155.3 456.9h0.8v0.8h-0.8zM171.2 461.6h0.8v0.8h-0.8zM164.0 457.8h0.8v0.8h-0.8zM162.4 461.8h0.8v0.8h-0.8zM159.1 458.6h0.8v0.8h-0.8zM176.3 448.9h0.8v0.8h-0.8zM160.3 460.5h0.8v0.8h-0.8zM153.4 456.5h0.8v0.8h-0.8zM174.0 457.4h0.8v0.8h-0.8zM159.9 448.2h0.8v0.8h-0.8zM157.0 460.7h0.8v0.8h-0.8zM158.7 452.6h0.8v0.8h-0.8zM143.9 452.8h0.8v0.8h-0.8zM141.2 455.9h0.8v0.8h-0.8zM190.3 460.5h0.8v0.8h-0.8zM157.4 462.9h0.8v0.8h-0.8zM152.5 458.2h0.8v0.8h-0.8zM159.9 456.8h0.8v0.8h-0.8zM166.4 457.6h0.8v0.8h-0.8zM146.9 461.9h0.8v0.8h-0.8zM147.6 458.8h0.8v0.8h-0.8zM162.6 454.0h0.8v0.8h-0.8zM151.9 454.9h0.8v0.8h-0.8zM160.6 455.2h0.8v0.8h-0.8zM143.2 456.2h0.8v0.8h-0.8zM145.4 452.6h0.8v0.8h-0.8zM161.6 458.1h0.8v0.8h-0.8zM143.2 457.6h0.8v0.8h-0.8zM170.1 452.6h0.8v0.8h-0.8zM149.6 465.8h0.8v0.8h-0.8zM173.9 454.5h0.8v0.8h-0.8zM163.0 451.9h0.8v0.8h-0.8zM152.9 455.4h0.8v0.8h-0.8zM153.1 460.9h0.8v0.8h-0.8zM146.4 461.3h0.8v0.8h-0.8zM149.0 453.1h0.8v0.8h-0.8zM145.8 456.0h0.8v0.8h-0.8zM158.0 453.2h0.8v0.8h-0.8zM157.2 459.6h0.8v0.8h-0.8zM149.1 453.6h0.8v0.8h-0.8zM152.8 456.4h0.8v0.8h-0.8zM163.2 461.2h0.8v0.8h-0.8zM145.2 454.3h0.8v0.8h-0.8zM163.9 460.3h0.8v0.8h-0.8zM146.4 459.6h0.8v0.8h-0.8zM160.1 455.9h0.8v0.8h-0.8zM145.6 457.0h0.8v0.8h-0.8zM158.6 464.1h0.8v0.8h-0.8zM164.2 463.6h0.8v0.8h-0.8zM158.4 459.1h0.8v0.8h-0.8zM159.1 455.6h0.8v0.8h-0.8zM151.8 460.8h0.8v0.8h-0.8zM153.7 451.0h0.8v0.8h-0.8zM164.9 454.7h0.8v0.8h-0.8zM165.6 461.1h0.8v0.8h-0.8zM151.5 459.4h0.8v0.8h-0.8zM159.3 452.1h0.8v0.8h-0.8zM152.7 456.2h0.8v0.8h-0.8zM157.3 453.6h0.8v0.8h-0.8zM147.5 456.3h0.8v0.8h-0.8zM153.2 455.3h0.8v0.8h-0.8zM142.2 456.2h0.8v0.8h-0.8zM157.0 458.9h0.8v0.8h-0.8zM155.7 450.7h0.8v0.8h-0.8zM174.8 459.0h0.8v0.8h-0.8zM153.2 447.0h0.8v0.8h-0.8zM169.9 457.3h0.8v0.8h-0.8zM140.8 460.9h0.8v0.8h-0.8zM157.4 464.6h0.8v0.8h-0.8zM150.3 460.2h0.8v0.8h-0.8zM154.5 458.0h0.8v0.8h-0.8zM164.6 457.7h0.8v0.8h-0.8zM159.9 453.4h0.8v0.8h-0.8zM145.1 455.6h0.8v0.8h-0.8zM157.9 450.4h0.8v0.8h-0.8zM144.5 458.2h0.8v0.8h-0.8zM164.7 461.2h0.8v0.8h-0.8zM158.5 455.2h0.8v0.8h-0.8zM150.4 459.1h0.8v0.8h-0.8zM152.4 454.8h0.8v0.8h-0.8zM154.2 455.7h0.8v0.8h-0.8zM140.9 458.0h0.8v0.8h-0.8zM145.4 446.5h0.8v0.8h-0.8zM174.4 460.7h0.8v0.8h-0.8zM177.1 456.5h0.8v0.8h-0.8zM153.1 461.1h0.8v0.8h-0.8zM165.2 458.4h0.8v0.8h-0.8zM151.5 456.3h0.8v0.8h-0.8zM144.3 459.9h0.8v0.8h-0.8zM165.3 460.8h0.8v0.8h-0.8zM143.6 452.4h0.8v0.8h-0.8zM148.1 462.9h0.8v0.8h-0.8zM149.8 459.0h0.8v0.8h-0.8zM161.4 452.8h0.8v0.8h-0.8zM142.4 459.8h0.8v0.8h-0.8zM161.4 454.0h0.8v0.8h-0.8zM150.2 453.8h0.8v0.8h-0.8zM175.0 461.8h0.8v0.8h-0.8zM145.2 459.5h0.8v0.8h-0.8zM142.3 461.1h0.8v0.8h-0.8zM159.0 454.5h0.8v0.8h-0.8zM154.2 454.2h0.8v0.8h-0.8zM150.5 460.1h0.8v0.8h-0.8zM158.9 454.9h0.8v0.8h-0.8zM154.0 450.6h0.8v0.8h-0.8zM162.8 456.9h0.8v0.8h-0.8zM149.0 463.6h0.8v0.8h-0.8zM149.9 457.4h0.8v0.8h-0.8zM146.0 459.3h0.8v0.8h-0.8zM169.4 459.5h0.8v0.8h-0.8zM159.9 457.2h0.8v0.8h-0.8zM142.5 456.9h0.8v0.8h-0.8zM169.8 455.1h0.8v0.8h-0.8zM154.8 452.5h0.8v0.8h-0.8zM154.9 459.4h0.8v0.8h-0.8zM161.6 453.7h0.8v0.8h-0.8zM150.4 457.9h0.8v0.8h-0.8zM154.4 454.5h0.8v0.8h-0.8zM166.4 458.2h0.8v0.8h-0.8zM159.6 463.6h0.8v0.8h-0.8zM166.1 459.2h0.8v0.8h-0.8zM152.3 454.4h0.8v0.8h-0.8zM170.8 453.2h0.8v0.8h-0.8zM159.4 461.9h0.8v0.8h-0.8zM166.4 457.8h0.8v0.8h-0.8zM144.7 464.0h0.8v0.8h-0.8zM153.3 460.9h0.8v0.8h-0.8zM161.7 457.3h0.8v0.8h-0.8zM163.8 450.3h0.8v0.8h-0.8zM155.9 457.7h0.8v0.8h-0.8zM164.8 462.6h0.8v0.8h-0.8zM155.2 463.3h0.8v0.8h-0.8zM150.8 453.3h0.8v0.8h-0.8zM169.8 458.7h0.8v0.8h-0.8zM175.9 452.0h0.8v0.8h-0.8zM150.7 460.3h0.8v0.8h-0.8zM162.5 453.7h0.8v0.8h-0.8zM155.2 456.1h0.8v0.8h-0.8zM145.8 461.8h0.8v0.8h-0.8zM157.5 459.5h0.8v0.8h-0.8zM171.4 454.9h0.8v0.8h-0.8zM167.6 453.2h0.8v0.8h-0.8zM156.8 456.4h0.8v0.8h-0.8zM162.4 458.0h0.8v0.8h-0.8zM149.9 456.0h0.8v0.8h-0.8zM167.1 457.8h0.8v0.8h-0.8zM162.0 457.3h0.8v0.8h-0.8zM171.5 455.2h0.8v0.8h-0.8zM157.7 456.3h0.8v0.8h-0.8zM155.1 458.9h0.8v0.8h-0.8zM153.7 454.4h0.8v0.8h-0.8zM166.8 456.3h0.8v0.8h-0.8zM163.8 459.2h0.8v0.8h-0.8zM156.8 456.1h0.8v0.8h-0.8zM158.8 452.1h0.8v0.8h-0.8zM159.2 458.2h0.8v0.8h-0.8zM162.4 456.7h0.8v0.8h-0.8zM158.0 455.8h0.8v0.8h-0.8zM152.5 457.4h0.8v0.8h-0.8zM155.6 462.3h0.8v0.8h-0.8zM146.0 460.5h0.8v0.8h-0.8zM168.4 460.6h0.8v0.8h-0.8zM161.4 457.2h0.8v0.8h-0.8zM161.2 457.0h0.8v0.8h-0.8zM148.8 454.7h0.8v0.8h-0.8zM168.1 460.7h0.8v0.8h-0.8zM175.3 461.8h0.8v0.8h-0.8zM142.7 458.9h0.8v0.8h-0.8zM164.3 456.3h0.8v0.8h-0.8zM174.3 454.1h0.8v0.8h-0.8zM151.9 457.8h0.8v0.8h-0.8zM174.5 454.3h0.8v0.8h-0.8zM163.8 454.7h0.8v0.8h-0.8zM157.4 460.3h0.8v0.8h-0.8zM171.5 456.9h0.8v0.8h-0.8zM152.4 457.5h0.8v0.8h-0.8zM149.3 455.7h0.8v0.8h-0.8zM165.0 459.5h0.8v0.8h-0.8zM172.0 457.4h0.8v0.8h-0.8zM164.8 456.5h0.8v0.8h-0.8zM149.4 460.0h0.8v0.8h-0.8zM172.7 461.2h0.8v0.8h-0.8zM152.2 458.8h0.8v0.8h-0.8zM165.8 463.0h0.8v0.8h-0.8zM170.3 458.4h0.8v0.8h-0.8zM163.9 463.1h0.8v0.8h-0.8zM161.5 454.3h0.8v0.8h-0.8zM153.1 459.4h0.8v0.8h-0.8zM142.0 454.4h0.8v0.8h-0.8zM167.1 451.5h0.8v0.8h-0.8z" fill="#3a3a3a"/>
<path d="M151.5 458.0h0.8v0.8h-0.8zM154.7 457.3h0.8v0.8h-0.8zM154.4 455.5h0.8v0.8h-0.8zM178.0 450.7h0.8v0.8h-0.8zM172.1 467.5h0.8v0.8h-0.8zM159.5 459.9h0.8v0.8h-0.8zM168.5 457.7h0.8v0.8h-0.8zM166.3 461.3h0.8v0.8h-0.8zM166.7 460.1h0.8v0.8h-0.8zM174.2 456.8h0.8v0.8h-0.8zM167.3 454.1h0.8v0.8h-0.8zM143.2 460.9h0.8v0.8h-0.8zM145.1 458.4h0.8v0.8h-0.8zM167.3 461.0h0.8v0.8h-0.8zM165.8 455.2h0.8v0.8h-0.8zM152.9 451.2h0.8v0.8h-0.8zM148.6 456.2h0.8v0.8h-0.8zM146.8 460.4h0.8v0.8h-0.8zM154.7 457.8h0.8v0.8h-0.8zM158.1 453.9h0.8v0.8h-0.8zM155.4 459.1h0.8v0.8h-0.8zM145.9 457.1h0.8v0.8h-0.8zM156.8 455.7h0.8v0.8h-0.8zM144.4 453.7h0.8v0.8h-0.8zM164.7 453.3h0.8v0.8h-0.8zM176.8 458.3h0.8v0.8h-0.8zM150.7 456.5h0.8v0.8h-0.8zM176.9 461.5h0.8v0.8h-0.8zM148.6 461.5h0.8v0.8h-0.8zM159.4 458.6h0.8v0.8h-0.8zM144.5 456.2h0.8v0.8h-0.8zM166.4 454.2h0.8v0.8h-0.8zM177.0 458.4h0.8v0.8h-0.8zM153.0 456.4h0.8v0.8h-0.8zM155.1 461.9h0.8v0.8h-0.8zM153.7 456.3h0.8v0.8h-0.8zM161.5 454.0h0.8v0.8h-0.8zM146.1 460.9h0.8v0.8h-0.8zM147.6 458.1h0.8v0.8h-0.8zM164.6 458.5h0.8v0.8h-0.8zM152.0 460.6h0.8v0.8h-0.8zM149.6 458.0h0.8v0.8h-0.8zM174.6 458.1h0.8v0.8h-0.8zM151.7 458.8h0.8v0.8h-0.8zM149.0 456.0h0.8v0.8h-0.8zM157.7 459.7h0.8v0.8h-0.8zM152.6 460.4h0.8v0.8h-0.8zM147.8 460.8h0.8v0.8h-0.8zM172.4 455.6h0.8v0.8h-0.8zM166.5 455.9h0.8v0.8h-0.8zM161.1 454.3h0.8v0.8h-0.8zM162.8 452.4h0.8v0.8h-0.8zM172.9 463.1h0.8v0.8h-0.8zM170.4 461.4h0.8v0.8h-0.8zM165.4 458.7h0.8v0.8h-0.8zM174.1 460.1h0.8v0.8h-0.8zM152.8 460.5h0.8v0.8h-0.8zM144.2 464.4h0.8v0.8h-0.8zM144.2 453.7h0.8v0.8h-0.8zM147.3 456.5h0.8v0.8h-0.8zM158.6 461.7h0.8v0.8h-0.8zM164.6 460.0h0.8v0.8h-0.8zM145.9 458.0h0.8v0.8h-0.8zM169.1 455.1h0.8v0.8h-0.8zM155.8 458.4h0.8v0.8h-0.8zM172.6 454.3h0.8v0.8h-0.8zM148.6 462.6h0.8v0.8h-0.8zM165.1 455.1h0.8v0.8h-0.8zM160.9 462.8h0.8v0.8h-0.8zM160.7 458.3h0.8v0.8h-0.8zM159.1 455.8h0.8v0.8h-0.8zM159.2 457.0h0.8v0.8h-0.8zM160.3 454.3h0.8v0.8h-0.8zM153.0 457.7h0.8v0.8h-0.8zM143.9 457.0h0.8v0.8h-0.8zM157.0 453.3h0.8v0.8h-0.8zM158.8 455.5h0.8v0.8h-0.8zM141.8 459.3h0.8v0.8h-0.8zM156.6 461.5h0.8v0.8h-0.8zM142.6 454.4h0.8v0.8h-0.8zM150.3 461.4h0.8v0.8h-0.8zM141.7 459.7h0.8v0.8h-0.8zM156.0 451.7h0.8v0.8h-0.8zM140.8 457.4h0.8v0.8h-0.8zM140.6 457.5h0.8v0.8h-0.8zM169.3 457.5h0.8v0.8h-0.8zM174.6 456.5h0.8v0.8h-0.8zM158.6 459.9h0.8v0.8h-0.8zM156.3 453.1h0.8v0.8h-0.8zM146.0 457.8h0.8v0.8h-0.8zM151.0 459.1h0.8v0.8h-0.8zM152.8 455.0h0.8v0.8h-0.8zM152.9 460.6h0.8v0.8h-0.8zM152.7 453.7h0.8v0.8h-0.8zM148.7 457.7h0.8v0.8h-0.8zM156.0 460.6h0.8v0.8h-0.8zM159.7 452.8h0.8v0.8h-0.8zM163.5 457.8h0.8v0.8h-0.8zM157.5 457.5h0.8v0.8h-0.8zM158.5 457.4h0.8v0.8h-0.8zM140.8 457.6h0.8v0.8h-0.8zM153.2 462.7h0.8v0.8h-0.8zM154.2 459.2h0.8v0.8h-0.8zM162.3 455.6h0.8v0.8h-0.8zM156.5 458.0h0.8v0.8h-0.8zM161.9 461.4h0.8v0.8h-0.8zM168.0 458.0h0.8v0.8h-0.8zM154.4 458.1h0.8v0.8h-0.8zM167.6 458.6h0.8v0.8h-0.8zM160.8 456.8h0.8v0.8h-0.8zM167.5 453.8h0.8v0.8h-0.8zM146.3 457.4h0.8v0.8h-0.8zM167.3 452.2h0.8v0.8h-0.8zM169.6 452.9h0.8v0.8h-0.8zM155.3 456.9h0.8v0.8h-0.8zM173.1 450.8h0.8v0.8h-0.8zM149.3 454.9h0.8v0.8h-0.8zM146.8 459.4h0.8v0.8h-0.8zM161.2 458.4h0.8v0.8h-0.8zM155.1 455.1h0.8v0.8h-0.8zM152.8 462.3h0.8v0.8h-0.8zM167.1 451.6h0.8v0.8h-0.8zM160.3 457.5h0.8v0.8h-0.8zM149.9 458.4h0.8v0.8h-0.8zM165.8 461.5h0.8v0.8h-0.8zM149.0 460.7h0.8v0.8h-0.8zM146.4 459.6h0.8v0.8h-0.8zM151.2 460.8h0.8v0.8h-0.8zM171.6 456.0h0.8v0.8h-0.8zM154.0 457.7h0.8v0.8h-0.8zM170.5 458.9h0.8v0.8h-0.8zM149.2 457.6h0.8v0.8h-0.8zM153.0 456.5h0.8v0.8h-0.8zM152.1 459.3h0.8v0.8h-0.8zM154.1 454.2h0.8v0.8h-0.8zM149.2 457.6h0.8v0.8h-0.8zM174.9 458.5h0.8v0.8h-0.8zM159.0 459.6h0.8v0.8h-0.8zM162.3 456.0h0.8v0.8h-0.8zM167.1 453.8h0.8v0.8h-0.8zM159.6 455.5h0.8v0.8h-0.8zM170.3 456.0h0.8v0.8h-0.8zM157.2 457.6h0.8v0.8h-0.8zM172.2 458.2h0.8v0.8h-0.8zM172.7 460.0h0.8v0.8h-0.8zM156.5 456.6h0.8v0.8h-0.8zM168.4 446.7h0.8v0.8h-0.8zM161.9 459.1h0.8v0.8h-0.8zM145.1 455.0h0.8v0.8h-0.8zM148.2 452.2h0.8v0.8h-0.8zM172.1 460.2h0.8v0.8h-0.8zM155.4 461.4h0.8v0.8h-0.8zM183.3 458.2h0.8v0.8h-0.8zM169.2 465.3h0.8v0.8h-0.8zM168.0 459.7h0.8v0.8h-0.8zM160.0 457.3h0.8v0.8h-0.8zM160.7 459.0h0.8v0.8h-0.8zM147.1 455.7h0.8v0.8h-0.8zM144.9 456.0h0.8v0.8h-0.8zM146.5 459.7h0.8v0.8h-0.8zM156.8 464.5h0.8v0.8h-0.8zM163.3 459.7h0.8v0.8h-0.8zM177.6 459.0h0.8v0.8h-0.8zM150.4 454.3h0.8v0.8h-0.8zM150.4 465.3h0.8v0.8h-0.8zM152.8 459.7h0.8v0.8h-0.8zM167.7 458.4h0.8v0.8h-0.8zM171.9 452.4h0.8v0.8h-0.8zM158.6 453.2h0.8v0.8h-0.8zM164.7 456.0h0.8v0.8h-0.8zM157.1 464.6h0.8v0.8h-0.8zM165.7 458.5h0.8v0.8h-0.8zM165.4 454.3h0.8v0.8h-0.8zM156.3 458.0h0.8v0.8h-0.8zM152.2 462.5h0.8v0.8h-0.8zM159.7 460.1h0.8v0.8h-0.8zM163.5 454.6h0.8v0.8h-0.8zM155.2 461.6h0.8v0.8h-0.8zM155.7 455.6h0.8v0.8h-0.8zM142.2 452.9h0.8v0.8h-0.8zM158.9 459.7h0.8v0.8h-0.8zM159.3 452.4h0.8v0.8h-0.8zM167.6 457.8h0.8v0.8h-0.8zM170.8 454.9h0.8v0.8h-0.8zM160.2 458.7h0.8v0.8h-0.8zM162.8 461.3h0.8v0.8h-0.8zM161.3 454.0h0.8v0.8h-0.8zM144.6 457.3h0.8v0.8h-0.8zM155.8 459.5h0.8v0.8h-0.8zM145.4 452.5h0.8v0.8h-0.8zM142.9 464.6h0.8v0.8h-0.8zM160.7 457.0h0.8v0.8h-0.8zM154.4 459.0h0.8v0.8h-0.8zM144.0 457.4h0.8v0.8h-0.8zM148.0 459.1h0.8v0.8h-0.8zM142.9 454.7h0.8v0.8h-0.8zM156.6 460.5h0.8v0.8h-0.8zM149.3 454.5h0.8v0.8h-0.8zM152.3 457.6h0.8v0.8h-0.8zM159.7 458.4h0.8v0.8h-0.8zM168.4 454.6h0.8v0.8h-0.8zM157.7 458.5h0.8v0.8h-0.8zM162.5 459.6h0.8v0.8h-0.8zM169.4 456.4h0.8v0.8h-0.8zM153.5 458.0h0.8v0.8h-0.8zM159.3 451.2h0.8v0.8h-0.8zM160.9 455.2h0.8v0.8h-0.8zM169.0 459.5h0.8v0.8h-0.8zM142.6 453.7h0.8v0.8h-0.8zM175.5 460.1h0.8v0.8h-0.8zM168.2 456.9h0.8v0.8h-0.8zM165.0 461.7h0.8v0.8h-0.8zM154.2 455.7h0.8v0.8h-0.8zM171.9 453.1h0.8v0.8h-0.8zM148.9 456.3h0.8v0.8h-0.8zM155.4 463.0h0.8v0.8h-0.8zM161.0 451.6h0.8v0.8h-0.8zM164.5 464.2h0.8v0.8h-0.8zM165.3 458.5h0.8v0.8h-0.8zM146.4 456.4h0.8v0.8h-0.8zM159.0 456.0h0.8v0.8h-0.8zM149.5 460.2h0.8v0.8h-0.8zM151.6 454.1h0.8v0.8h-0.8zM175.0 453.6h0.8v0.8h-0.8zM168.2 452.0h0.8v0.8h-0.8zM172.7 457.6h0.8v0.8h-0.8z" fill="#a0a0a0"/>
<path d="M148.5 453.6h0.8v0.8h-0.8zM164.5 458.2h0.8v0.8h-0.8zM154.9 454.6h0.8v0.8h-0.8zM157.7 457.3h0.8v0.8h-0.8zM176.6 459.6h0.8v0.8h-0.8zM164.3 462.4h0.8v0.8h-0.8zM149.5 463.9h0.8v0.8h-0.8zM154.2 456.2h0.8v0.8h-0.8zM164.5 458.4h0.8v0.8h-0.8zM160.2 459.1h0.8v0.8h-0.8zM161.1 455.1h0.8v0.8h-0.8zM150.5 455.6h0.8v0.8h-0.8zM153.7 457.8h0.8v0.8h-0.8zM154.7 461.4h0.8v0.8h-0.8zM172.7 454.2h0.8v0.8h-0.8zM163.9 452.2h0.8v0.8h-0.8zM164.4 456.3h0.8v0.8h-0.8zM174.4 456.1h0.8v0.8h-0.8zM169.6 462.8h0.8v0.8h-0.8zM147.2 462.4h0.8v0.8h-0.8zM152.9 462.6h0.8v0.8h-0.8zM142.7 456.7h0.8v0.8h-0.8zM161.2 458.4h0.8v0.8h-0.8zM155.9 461.1h0.8v0.8h-0.8zM162.1 461.9h0.8v0.8h-0.8zM163.4 456.0h0.8v0.8h-0.8zM162.2 456.3h0.8v0.8h-0.8zM142.6 457.0h0.8v0.8h-0.8zM159.6 458.9h0.8v0.8h-0.8zM150.5 459.9h0.8v0.8h-0.8zM156.4 459.0h0.8v0.8h-0.8zM158.6 454.0h0.8v0.8h-0.8zM161.6 458.4h0.8v0.8h-0.8zM155.3 453.7h0.8v0.8h-0.8zM145.0 461.5h0.8v0.8h-0.8zM175.4 455.8h0.8v0.8h-0.8zM157.7 455.3h0.8v0.8h-0.8zM140.8 457.3h0.8v0.8h-0.8zM154.1 462.9h0.8v0.8h-0.8zM149.6 458.6h0.8v0.8h-0.8zM150.9 461.1h0.8v0.8h-0.8zM149.8 459.8h0.8v0.8h-0.8zM165.1 453.8h0.8v0.8h-0.8zM161.4 456.6h0.8v0.8h-0.8zM141.7 464.8h0.8v0.8h-0.8zM164.9 456.1h0.8v0.8h-0.8zM168.6 457.2h0.8v0.8h-0.8zM155.3 459.2h0.8v0.8h-0.8zM162.9 457.8h0.8v0.8h-0.8zM154.3 453.1h0.8v0.8h-0.8zM158.2 456.0h0.8v0.8h-0.8zM151.0 458.8h0.8v0.8h-0.8zM156.0 461.5h0.8v0.8h-0.8zM151.0 456.5h0.8v0.8h-0.8zM167.2 451.6h0.8v0.8h-0.8zM163.6 455.2h0.8v0.8h-0.8zM175.6 460.7h0.8v0.8h-0.8zM171.2 452.4h0.8v0.8h-0.8zM159.9 456.1h0.8v0.8h-0.8zM153.1 456.2h0.8v0.8h-0.8zM153.3 456.6h0.8v0.8h-0.8zM163.1 456.6h0.8v0.8h-0.8zM147.4 448.5h0.8v0.8h-0.8zM164.7 453.4h0.8v0.8h-0.8zM142.5 457.0h0.8v0.8h-0.8zM171.3 457.1h0.8v0.8h-0.8zM155.1 457.1h0.8v0.8h-0.8zM151.7 457.8h0.8v0.8h-0.8zM151.6 464.2h0.8v0.8h-0.8zM158.1 454.3h0.8v0.8h-0.8zM146.3 458.3h0.8v0.8h-0.8zM148.9 459.1h0.8v0.8h-0.8zM176.5 459.3h0.8v0.8h-0.8zM152.1 457.6h0.8v0.8h-0.8zM141.3 456.1h0.8v0.8h-0.8zM170.4 456.9h0.8v0.8h-0.8zM162.3 461.9h0.8v0.8h-0.8zM169.9 453.6h0.8v0.8h-0.8zM169.0 454.5h0.8v0.8h-0.8zM164.9 457.2h0.8v0.8h-0.8zM154.9 461.5h0.8v0.8h-0.8zM160.4 451.7h0.8v0.8h-0.8zM150.4 455.8h0.8v0.8h-0.8zM161.7 459.6h0.8v0.8h-0.8zM149.2 449.5h0.8v0.8h-0.8zM158.0 463.3h0.8v0.8h-0.8zM141.4 457.7h0.8v0.8h-0.8zM142.7 457.1h0.8v0.8h-0.8zM156.2 460.5h0.8v0.8h-0.8zM154.8 451.7h0.8v0.8h-0.8zM157.7 458.4h0.8v0.8h-0.8zM151.5 457.2h0.8v0.8h-0.8zM145.2 456.6h0.8v0.8h-0.8zM155.2 456.4h0.8v0.8h-0.8zM156.4 450.2h0.8v0.8h-0.8zM175.2 458.4h0.8v0.8h-0.8zM164.0 457.1h0.8v0.8h-0.8zM156.4 459.9h0.8v0.8h-0.8zM146.0 449.6h0.8v0.8h-0.8zM150.6 455.5h0.8v0.8h-0.8zM170.3 456.8h0.8v0.8h-0.8zM149.7 455.0h0.8v0.8h-0.8zM168.7 451.8h0.8v0.8h-0.8zM159.5 455.6h0.8v0.8h-0.8zM166.5 455.0h0.8v0.8h-0.8zM152.9 465.1h0.8v0.8h-0.8zM158.7 458.1h0.8v0.8h-0.8zM169.4 458.8h0.8v0.8h-0.8zM150.0 456.0h0.8v0.8h-0.8zM157.1 455.1h0.8v0.8h-0.8zM140.9 456.0h0.8v0.8h-0.8zM151.3 461.1h0.8v0.8h-0.8zM159.7 460.7h0.8v0.8h-0.8zM167.1 456.5h0.8v0.8h-0.8zM169.1 457.2h0.8v0.8h-0.8zM159.7 463.7h0.8v0.8h-0.8zM157.4 460.0h0.8v0.8h-0.8zM146.9 457.1h0.8v0.8h-0.8zM160.6 459.9h0.8v0.8h-0.8zM161.7 457.2h0.8v0.8h-0.8zM167.8 458.1h0.8v0.8h-0.8zM160.4 456.0h0.8v0.8h-0.8zM170.7 453.7h0.8v0.8h-0.8zM159.5 459.6h0.8v0.8h-0.8zM149.2 455.4h0.8v0.8h-0.8zM161.8 457.5h0.8v0.8h-0.8zM159.5 461.1h0.8v0.8h-0.8zM157.9 460.8h0.8v0.8h-0.8zM174.3 457.4h0.8v0.8h-0.8zM175.3 461.3h0.8v0.8h-0.8zM166.7 460.7h0.8v0.8h-0.8zM156.1 457.7h0.8v0.8h-0.8zM150.0 459.2h0.8v0.8h-0.8zM155.8 461.8h0.8v0.8h-0.8zM149.9 451.5h0.8v0.8h-0.8zM152.8 459.9h0.8v0.8h-0.8zM155.9 456.9h0.8v0.8h-0.8zM159.7 458.6h0.8v0.8h-0.8zM161.0 456.7h0.8v0.8h-0.8zM165.4 459.1h0.8v0.8h-0.8zM159.3 456.0h0.8v0.8h-0.8zM156.7 454.4h0.8v0.8h-0.8zM165.8 459.4h0.8v0.8h-0.8zM165.0 449.8h0.8v0.8h-0.8zM146.9 458.3h0.8v0.8h-0.8zM173.6 455.9h0.8v0.8h-0.8zM145.6 456.5h0.8v0.8h-0.8zM148.3 461.8h0.8v0.8h-0.8zM145.5 454.4h0.8v0.8h-0.8zM161.8 457.4h0.8v0.8h-0.8zM146.9 457.0h0.8v0.8h-0.8zM168.3 456.0h0.8v0.8h-0.8zM162.2 464.7h0.8v0.8h-0.8zM162.8 455.9h0.8v0.8h-0.8zM170.1 459.0h0.8v0.8h-0.8zM169.5 457.4h0.8v0.8h-0.8zM169.1 456.4h0.8v0.8h-0.8zM164.6 456.7h0.8v0.8h-0.8zM171.6 462.7h0.8v0.8h-0.8zM157.1 458.8h0.8v0.8h-0.8zM154.5 458.0h0.8v0.8h-0.8zM168.7 458.3h0.8v0.8h-0.8zM160.3 465.1h0.8v0.8h-0.8zM158.9 461.7h0.8v0.8h-0.8zM154.9 456.5h0.8v0.8h-0.8zM168.0 448.8h0.8v0.8h-0.8zM165.1 451.9h0.8v0.8h-0.8zM167.2 459.9h0.8v0.8h-0.8zM173.5 457.0h0.8v0.8h-0.8zM156.7 456.5h0.8v0.8h-0.8zM162.3 461.5h0.8v0.8h-0.8zM147.4 459.1h0.8v0.8h-0.8zM158.2 463.5h0.8v0.8h-0.8zM170.2 459.6h0.8v0.8h-0.8zM151.7 455.9h0.8v0.8h-0.8zM140.8 454.9h0.8v0.8h-0.8zM161.0 460.8h0.8v0.8h-0.8zM160.9 456.5h0.8v0.8h-0.8zM171.6 459.0h0.8v0.8h-0.8zM171.9 457.6h0.8v0.8h-0.8zM154.2 454.6h0.8v0.8h-0.8zM163.2 450.7h0.8v0.8h-0.8zM169.5 450.9h0.8v0.8h-0.8zM162.5 464.1h0.8v0.8h-0.8zM176.4 459.3h0.8v0.8h-0.8zM168.9 459.5h0.8v0.8h-0.8zM183.4 450.5h0.8v0.8h-0.8zM144.8 455.0h0.8v0.8h-0.8zM174.8 459.7h0.8v0.8h-0.8zM160.6 462.1h0.8v0.8h-0.8zM160.5 459.4h0.8v0.8h-0.8zM154.8 452.2h0.8v0.8h-0.8zM165.9 450.7h0.8v0.8h-0.8zM158.1 460.1h0.8v0.8h-0.8zM155.6 456.3h0.8v0.8h-0.8zM147.7 453.9h0.8v0.8h-0.8zM165.2 459.8h0.8v0.8h-0.8zM166.4 453.6h0.8v0.8h-0.8zM158.4 462.2h0.8v0.8h-0.8zM162.5 461.9h0.8v0.8h-0.8zM172.9 458.5h0.8v0.8h-0.8zM155.2 460.0h0.8v0.8h-0.8zM156.7 460.2h0.8v0.8h-0.8zM157.5 451.6h0.8v0.8h-0.8zM143.6 459.1h0.8v0.8h-0.8zM150.6 461.4h0.8v0.8h-0.8zM165.8 463.4h0.8v0.8h-0.8zM154.8 456.5h0.8v0.8h-0.8zM155.8 461.6h0.8v0.8h-0.8zM142.0 456.3h0.8v0.8h-0.8zM143.7 459.5h0.8v0.8h-0.8zM157.4 457.1h0.8v0.8h-0.8zM151.4 457.6h0.8v0.8h-0.8zM156.8 458.4h0.8v0.8h-0.8zM175.8 451.7h0.8v0.8h-0.8zM159.0 458.7h0.8v0.8h-0.8zM173.0 456.7h0.8v0.8h-0.8zM149.1 456.4h0.8v0.8h-0.8zM143.8 454.8h0.8v0.8h-0.8zM149.7 460.4h0.8v0.8h-0.8zM153.0 460.9h0.8v0.8h-0.8zM167.4 459.3h0.8v0.8h-0.8zM159.8 456.1h0.8v0.8h-0.8zM162.3 458.6h0.8v0.8h-0.8zM162.4 458.5h0.8v0.8h-0.8zM168.5 455.4h0.8v0.8h-0.8zM175.0 456.5h0.8v0.8h-0.8zM150.7 460.4h0.8v0.8h-0.8zM170.0 451.4h0.8v0.8h-0.8z" fill="#555"/>
<path d="M141.3 454.0h0.8v0.8h-0.8zM162.3 457.4h0.8v0.8h-0.8zM158.7 454.1h0.8v0.8h-0.8zM150.5 456.5h0.8v0.8h-0.8zM150.5 458.5h0.8v0.8h-0.8zM168.2 459.9h0.8v0.8h-0.8zM158.8 462.5h0.8v0.8h-0.8zM169.1 455.7h0.8v0.8h-0.8zM164.4 450.3h0.8v0.8h-0.8zM157.4 457.9h0.8v0.8h-0.8zM168.0 453.2h0.8v0.8h-0.8zM147.2 460.1h0.8v0.8h-0.8zM154.7 461.8h0.8v0.8h-0.8zM164.8 462.7h0.8v0.8h-0.8zM146.0 453.9h0.8v0.8h-0.8zM161.5 459.8h0.8v0.8h-0.8zM171.6 456.8h0.8v0.8h-0.8zM150.9 460.3h0.8v0.8h-0.8zM153.6 454.7h0.8v0.8h-0.8zM159.6 462.8h0.8v0.8h-0.8zM165.7 455.7h0.8v0.8h-0.8zM169.8 459.8h0.8v0.8h-0.8zM178.2 456.8h0.8v0.8h-0.8zM162.1 454.3h0.8v0.8h-0.8zM166.2 458.2h0.8v0.8h-0.8zM164.6 458.9h0.8v0.8h-0.8zM142.2 456.7h0.8v0.8h-0.8zM144.5 456.7h0.8v0.8h-0.8zM148.8 456.4h0.8v0.8h-0.8zM153.4 458.9h0.8v0.8h-0.8zM144.0 457.9h0.8v0.8h-0.8zM160.9 452.9h0.8v0.8h-0.8zM155.2 455.4h0.8v0.8h-0.8zM142.1 455.9h0.8v0.8h-0.8zM146.8 457.7h0.8v0.8h-0.8zM166.0 458.8h0.8v0.8h-0.8zM156.2 459.2h0.8v0.8h-0.8zM157.6 460.5h0.8v0.8h-0.8zM168.2 459.3h0.8v0.8h-0.8zM150.8 460.5h0.8v0.8h-0.8zM159.0 447.8h0.8v0.8h-0.8zM165.9 455.0h0.8v0.8h-0.8zM169.4 462.6h0.8v0.8h-0.8zM154.4 453.8h0.8v0.8h-0.8zM175.2 455.3h0.8v0.8h-0.8zM157.0 459.5h0.8v0.8h-0.8zM160.4 460.3h0.8v0.8h-0.8zM157.2 461.5h0.8v0.8h-0.8zM141.7 455.0h0.8v0.8h-0.8zM177.1 461.1h0.8v0.8h-0.8zM143.8 455.8h0.8v0.8h-0.8zM166.8 462.2h0.8v0.8h-0.8zM156.2 461.7h0.8v0.8h-0.8zM146.3 455.7h0.8v0.8h-0.8zM157.9 460.2h0.8v0.8h-0.8zM162.1 454.4h0.8v0.8h-0.8zM154.5 455.2h0.8v0.8h-0.8zM164.9 463.3h0.8v0.8h-0.8zM150.2 463.1h0.8v0.8h-0.8zM151.5 458.4h0.8v0.8h-0.8zM170.3 460.9h0.8v0.8h-0.8zM161.0 459.6h0.8v0.8h-0.8zM159.1 456.1h0.8v0.8h-0.8zM161.4 457.8h0.8v0.8h-0.8zM158.0 459.3h0.8v0.8h-0.8zM164.7 460.0h0.8v0.8h-0.8zM167.5 456.1h0.8v0.8h-0.8zM159.1 455.1h0.8v0.8h-0.8zM154.4 457.9h0.8v0.8h-0.8zM162.2 459.2h0.8v0.8h-0.8zM158.9 460.1h0.8v0.8h-0.8zM168.8 449.0h0.8v0.8h-0.8zM163.4 462.8h0.8v0.8h-0.8zM151.8 462.4h0.8v0.8h-0.8zM160.3 457.8h0.8v0.8h-0.8zM169.0 454.7h0.8v0.8h-0.8zM149.6 459.4h0.8v0.8h-0.8zM176.3 460.3h0.8v0.8h-0.8zM140.9 457.4h0.8v0.8h-0.8zM167.4 451.1h0.8v0.8h-0.8zM160.1 456.6h0.8v0.8h-0.8zM157.2 462.1h0.8v0.8h-0.8zM155.3 454.5h0.8v0.8h-0.8zM153.7 456.1h0.8v0.8h-0.8zM156.5 460.0h0.8v0.8h-0.8zM162.7 455.8h0.8v0.8h-0.8zM150.6 459.4h0.8v0.8h-0.8zM153.9 455.3h0.8v0.8h-0.8zM164.9 453.8h0.8v0.8h-0.8zM161.5 457.8h0.8v0.8h-0.8zM157.0 457.1h0.8v0.8h-0.8zM141.5 453.3h0.8v0.8h-0.8zM140.8 456.2h0.8v0.8h-0.8zM145.3 461.7h0.8v0.8h-0.8zM163.8 457.5h0.8v0.8h-0.8zM149.1 459.4h0.8v0.8h-0.8zM151.8 459.5h0.8v0.8h-0.8zM153.7 459.0h0.8v0.8h-0.8zM157.6 455.8h0.8v0.8h-0.8zM145.1 456.8h0.8v0.8h-0.8zM144.6 454.9h0.8v0.8h-0.8zM165.0 460.4h0.8v0.8h-0.8zM169.9 453.6h0.8v0.8h-0.8zM160.2 455.5h0.8v0.8h-0.8zM165.3 457.2h0.8v0.8h-0.8zM142.2 461.6h0.8v0.8h-0.8zM161.4 458.6h0.8v0.8h-0.8zM156.6 454.3h0.8v0.8h-0.8zM161.9 458.5h0.8v0.8h-0.8zM150.5 455.0h0.8v0.8h-0.8zM155.1 460.9h0.8v0.8h-0.8zM161.4 456.5h0.8v0.8h-0.8zM149.2 460.2h0.8v0.8h-0.8zM163.7 460.0h0.8v0.8h-0.8zM147.6 457.2h0.8v0.8h-0.8zM162.2 456.7h0.8v0.8h-0.8zM145.0 460.6h0.8v0.8h-0.8zM156.8 456.6h0.8v0.8h-0.8zM145.6 454.6h0.8v0.8h-0.8zM159.8 458.9h0.8v0.8h-0.8zM162.3 457.9h0.8v0.8h-0.8zM173.1 455.8h0.8v0.8h-0.8zM147.2 454.4h0.8v0.8h-0.8zM172.2 450.3h0.8v0.8h-0.8zM153.6 459.0h0.8v0.8h-0.8zM154.8 455.1h0.8v0.8h-0.8zM157.3 458.6h0.8v0.8h-0.8zM173.9 464.0h0.8v0.8h-0.8zM158.9 453.1h0.8v0.8h-0.8zM153.4 454.5h0.8v0.8h-0.8zM140.6 453.5h0.8v0.8h-0.8zM148.9 456.8h0.8v0.8h-0.8zM154.1 461.5h0.8v0.8h-0.8zM148.4 457.6h0.8v0.8h-0.8zM164.9 456.9h0.8v0.8h-0.8zM178.4 461.2h0.8v0.8h-0.8zM165.0 459.2h0.8v0.8h-0.8zM177.1 457.9h0.8v0.8h-0.8zM168.1 458.3h0.8v0.8h-0.8zM158.7 462.2h0.8v0.8h-0.8zM151.6 456.8h0.8v0.8h-0.8zM163.3 456.6h0.8v0.8h-0.8zM145.0 461.3h0.8v0.8h-0.8zM172.9 465.0h0.8v0.8h-0.8zM156.4 462.0h0.8v0.8h-0.8zM154.2 455.1h0.8v0.8h-0.8zM143.0 458.2h0.8v0.8h-0.8zM160.1 449.7h0.8v0.8h-0.8zM149.4 452.0h0.8v0.8h-0.8zM164.2 457.1h0.8v0.8h-0.8zM164.4 462.1h0.8v0.8h-0.8zM152.8 453.7h0.8v0.8h-0.8zM158.1 453.4h0.8v0.8h-0.8zM146.9 458.7h0.8v0.8h-0.8zM152.0 456.0h0.8v0.8h-0.8zM161.0 453.1h0.8v0.8h-0.8zM156.6 463.2h0.8v0.8h-0.8zM149.1 455.0h0.8v0.8h-0.8zM159.3 453.3h0.8v0.8h-0.8zM175.5 456.7h0.8v0.8h-0.8zM157.2 453.1h0.8v0.8h-0.8zM170.6 461.7h0.8v0.8h-0.8zM155.0 457.2h0.8v0.8h-0.8zM148.1 459.4h0.8v0.8h-0.8zM171.7 458.9h0.8v0.8h-0.8zM162.5 455.6h0.8v0.8h-0.8zM143.2 455.5h0.8v0.8h-0.8zM150.5 461.7h0.8v0.8h-0.8zM142.1 458.2h0.8v0.8h-0.8zM155.1 462.2h0.8v0.8h-0.8zM147.5 456.2h0.8v0.8h-0.8zM158.3 463.5h0.8v0.8h-0.8zM164.8 451.4h0.8v0.8h-0.8zM165.2 458.5h0.8v0.8h-0.8zM144.2 456.3h0.8v0.8h-0.8zM166.7 458.1h0.8v0.8h-0.8zM150.7 455.9h0.8v0.8h-0.8zM149.6 463.8h0.8v0.8h-0.8zM155.0 458.4h0.8v0.8h-0.8zM160.5 457.9h0.8v0.8h-0.8zM163.0 457.8h0.8v0.8h-0.8zM158.5 457.6h0.8v0.8h-0.8zM168.5 462.4h0.8v0.8h-0.8zM141.5 452.6h0.8v0.8h-0.8zM156.1 450.8h0.8v0.8h-0.8zM169.6 454.8h0.8v0.8h-0.8zM179.5 457.4h0.8v0.8h-0.8zM170.6 460.7h0.8v0.8h-0.8zM150.2 456.8h0.8v0.8h-0.8zM163.2 456.7h0.8v0.8h-0.8zM151.6 453.6h0.8v0.8h-0.8zM154.6 458.6h0.8v0.8h-0.8zM167.2 455.8h0.8v0.8h-0.8zM166.8 457.0h0.8v0.8h-0.8zM177.9 457.1h0.8v0.8h-0.8zM173.2 455.3h0.8v0.8h-0.8zM148.5 458.3h0.8v0.8h-0.8zM151.4 456.6h0.8v0.8h-0.8zM163.3 460.9h0.8v0.8h-0.8zM143.1 457.0h0.8v0.8h-0.8zM157.6 461.6h0.8v0.8h-0.8zM168.4 454.3h0.8v0.8h-0.8zM141.0 457.5h0.8v0.8h-0.8zM143.6 460.0h0.8v0.8h-0.8zM151.0 454.9h0.8v0.8h-0.8zM164.5 457.0h0.8v0.8h-0.8zM165.8 450.1h0.8v0.8h-0.8zM144.2 452.8h0.8v0.8h-0.8zM145.2 457.0h0.8v0.8h-0.8zM154.4 460.1h0.8v0.8h-0.8zM149.6 454.4h0.8v0.8h-0.8zM156.9 450.8h0.8v0.8h-0.8zM164.1 456.1h0.8v0.8h-0.8zM157.9 455.3h0.8v0.8h-0.8zM161.7 456.6h0.8v0.8h-0.8zM146.6 453.2h0.8v0.8h-0.8zM150.3 452.6h0.8v0.8h-0.8zM168.4 458.3h0.8v0.8h-0.8zM153.5 455.3h0.8v0.8h-0.8zM167.4 457.9h0.8v0.8h-0.8zM159.7 452.0h0.8v0.8h-0.8zM156.0 463.4h0.8v0.8h-0.8zM164.0 456.6h0.8v0.8h-0.8zM171.1 459.4h0.8v0.8h-0.8zM166.9 458.0h0.8v0.8h-0.8zM159.0 454.6h0.8v0.8h-0.8zM166.6 458.3h0.8v0.8h-0.8zM166.8 459.3h0.8v0.8h-0.8zM171.9 453.5h0.8v0.8h-0.8z" fill="#6e6e6e"/>
<path d="M158.9 455.2h0.8v0.8h-0.8zM159.6 461.2h0.8v0.8h-0.8zM162.2 454.4h0.8v0.8h-0.8zM146.1 462.4h0.8v0.8h-0.8zM189.1 451.7h0.8v0.8h-0.8zM174.2 453.7h0.8v0.8h-0.8zM169.1 461.6h0.8v0.8h-0.8zM162.6 441.8h0.8v0.8h-0.8zM152.6 452.7h0.8v0.8h-0.8zM175.6 447.9h0.8v0.8h-0.8zM146.4 445.6h0.8v0.8h-0.8zM178.4 459.8h0.8v0.8h-0.8zM158.1 456.3h0.8v0.8h-0.8zM140.7 451.0h0.8v0.8h-0.8zM162.3 459.7h0.8v0.8h-0.8zM157.0 457.7h0.8v0.8h-0.8zM152.2 455.1h0.8v0.8h-0.8zM155.9 459.1h0.8v0.8h-0.8zM176.7 452.2h0.8v0.8h-0.8zM159.3 454.7h0.8v0.8h-0.8zM172.1 450.6h0.8v0.8h-0.8zM188.4 447.8h0.8v0.8h-0.8zM159.6 460.2h0.8v0.8h-0.8zM160.9 453.8h0.8v0.8h-0.8zM185.6 469.7h0.8v0.8h-0.8zM155.2 459.0h0.8v0.8h-0.8zM182.9 443.4h0.8v0.8h-0.8zM190.8 456.6h0.8v0.8h-0.8zM141.7 458.2h0.8v0.8h-0.8zM176.1 464.5h0.8v0.8h-0.8zM179.1 466.3h0.8v0.8h-0.8zM148.3 459.0h0.8v0.8h-0.8zM156.2 454.6h0.8v0.8h-0.8zM166.4 463.2h0.8v0.8h-0.8zM183.8 455.0h0.8v0.8h-0.8zM148.6 468.2h0.8v0.8h-0.8zM146.7 468.4h0.8v0.8h-0.8zM163.2 462.4h0.8v0.8h-0.8zM164.1 463.8h0.8v0.8h-0.8zM164.8 453.0h0.8v0.8h-0.8zM142.0 454.8h0.8v0.8h-0.8zM154.7 457.0h0.8v0.8h-0.8zM182.8 463.1h0.8v0.8h-0.8zM167.1 451.7h0.8v0.8h-0.8zM141.7 452.4h0.8v0.8h-0.8zM144.8 461.9h0.8v0.8h-0.8zM174.7 450.4h0.8v0.8h-0.8zM153.4 464.9h0.8v0.8h-0.8zM174.3 452.1h0.8v0.8h-0.8zM166.7 456.4h0.8v0.8h-0.8zM158.0 454.1h0.8v0.8h-0.8zM174.0 444.8h0.8v0.8h-0.8zM140.9 452.8h0.8v0.8h-0.8zM161.0 458.3h0.8v0.8h-0.8zM160.2 452.6h0.8v0.8h-0.8zM160.7 455.7h0.8v0.8h-0.8zM162.7 458.6h0.8v0.8h-0.8zM170.2 450.9h0.8v0.8h-0.8zM151.2 450.2h0.8v0.8h-0.8zM149.3 454.4h0.8v0.8h-0.8zM171.3 455.7h0.8v0.8h-0.8zM141.9 451.2h0.8v0.8h-0.8zM154.5 454.1h0.8v0.8h-0.8zM169.6 465.3h0.8v0.8h-0.8zM169.0 461.1h0.8v0.8h-0.8zM176.7 457.1h0.8v0.8h-0.8zM152.8 452.2h0.8v0.8h-0.8zM156.0 469.8h0.8v0.8h-0.8zM155.0 451.1h0.8v0.8h-0.8zM150.5 457.9h0.8v0.8h-0.8zM166.6 454.9h0.8v0.8h-0.8zM164.5 455.1h0.8v0.8h-0.8zM176.2 474.6h0.8v0.8h-0.8zM157.0 465.2h0.8v0.8h-0.8zM162.8 474.6h0.8v0.8h-0.8zM155.8 450.9h0.8v0.8h-0.8zM179.9 457.0h0.8v0.8h-0.8zM140.9 456.3h0.8v0.8h-0.8zM142.0 447.5h0.8v0.8h-0.8zM162.6 458.4h0.8v0.8h-0.8zM155.4 453.2h0.8v0.8h-0.8zM173.1 465.0h0.8v0.8h-0.8zM147.8 452.7h0.8v0.8h-0.8z" fill="#b8b8b8"/>
<path d="M155.7 457.1h0.8v0.8h-0.8zM156.1 454.7h0.8v0.8h-0.8zM161.0 462.1h0.8v0.8h-0.8zM166.8 444.4h0.8v0.8h-0.8zM144.0 455.4h0.8v0.8h-0.8zM182.9 455.6h0.8v0.8h-0.8zM191.9 453.0h0.8v0.8h-0.8zM147.8 449.1h0.8v0.8h-0.8zM199.9 464.0h0.8v0.8h-0.8zM155.0 446.3h0.8v0.8h-0.8zM167.5 456.2h0.8v0.8h-0.8zM163.7 454.5h0.8v0.8h-0.8zM186.0 454.5h0.8v0.8h-0.8zM169.7 449.7h0.8v0.8h-0.8zM165.9 438.4h0.8v0.8h-0.8zM172.7 457.8h0.8v0.8h-0.8zM177.5 460.4h0.8v0.8h-0.8zM151.3 464.2h0.8v0.8h-0.8zM169.3 454.2h0.8v0.8h-0.8zM154.1 456.9h0.8v0.8h-0.8zM167.5 457.3h0.8v0.8h-0.8zM172.0 461.6h0.8v0.8h-0.8zM164.6 456.9h0.8v0.8h-0.8zM152.9 465.5h0.8v0.8h-0.8zM162.2 449.2h0.8v0.8h-0.8zM174.4 450.2h0.8v0.8h-0.8zM144.5 466.1h0.8v0.8h-0.8zM155.8 452.0h0.8v0.8h-0.8zM170.1 464.4h0.8v0.8h-0.8zM144.4 460.4h0.8v0.8h-0.8zM154.8 456.9h0.8v0.8h-0.8zM158.3 459.2h0.8v0.8h-0.8zM165.9 453.8h0.8v0.8h-0.8zM154.5 456.9h0.8v0.8h-0.8zM179.4 463.4h0.8v0.8h-0.8zM164.4 453.2h0.8v0.8h-0.8zM151.6 458.5h0.8v0.8h-0.8zM161.1 461.5h0.8v0.8h-0.8zM177.5 446.9h0.8v0.8h-0.8zM170.6 457.3h0.8v0.8h-0.8zM155.4 461.2h0.8v0.8h-0.8zM155.6 463.9h0.8v0.8h-0.8zM160.8 444.4h0.8v0.8h-0.8zM157.5 445.1h0.8v0.8h-0.8zM152.5 459.3h0.8v0.8h-0.8zM156.4 457.0h0.8v0.8h-0.8zM178.2 454.5h0.8v0.8h-0.8zM165.2 461.1h0.8v0.8h-0.8zM153.9 458.9h0.8v0.8h-0.8zM180.6 451.9h0.8v0.8h-0.8zM156.9 449.4h0.8v0.8h-0.8zM178.4 455.0h0.8v0.8h-0.8zM160.9 454.0h0.8v0.8h-0.8zM145.3 451.6h0.8v0.8h-0.8zM176.0 462.4h0.8v0.8h-0.8zM166.9 446.9h0.8v0.8h-0.8zM150.0 454.0h0.8v0.8h-0.8zM141.5 456.2h0.8v0.8h-0.8zM157.4 449.1h0.8v0.8h-0.8zM156.0 463.3h0.8v0.8h-0.8zM176.9 456.6h0.8v0.8h-0.8zM166.0 453.8h0.8v0.8h-0.8zM165.9 457.3h0.8v0.8h-0.8zM200.6 458.0h0.8v0.8h-0.8zM168.3 452.6h0.8v0.8h-0.8zM164.8 449.2h0.8v0.8h-0.8zM180.2 460.0h0.8v0.8h-0.8zM149.7 463.5h0.8v0.8h-0.8zM161.3 464.1h0.8v0.8h-0.8zM141.1 468.0h0.8v0.8h-0.8zM155.8 451.7h0.8v0.8h-0.8zM156.8 470.0h0.8v0.8h-0.8zM165.8 456.1h0.8v0.8h-0.8zM153.5 451.7h0.8v0.8h-0.8zM160.4 463.4h0.8v0.8h-0.8zM156.7 451.0h0.8v0.8h-0.8zM149.6 457.8h0.8v0.8h-0.8zM172.1 459.3h0.8v0.8h-0.8zM150.0 456.3h0.8v0.8h-0.8zM165.1 449.4h0.8v0.8h-0.8z" fill="#a4a4a4"/>
<path d="M185.7 447.7h0.8v0.8h-0.8zM141.0 460.7h0.8v0.8h-0.8zM158.4 458.5h0.8v0.8h-0.8zM201.0 449.5h0.8v0.8h-0.8zM155.8 455.0h0.8v0.8h-0.8zM167.1 461.1h0.8v0.8h-0.8zM170.9 466.6h0.8v0.8h-0.8zM161.8 455.8h0.8v0.8h-0.8zM151.5 450.2h0.8v0.8h-0.8zM184.0 472.8h0.8v0.8h-0.8zM168.0 449.8h0.8v0.8h-0.8zM179.4 461.4h0.8v0.8h-0.8zM170.5 451.0h0.8v0.8h-0.8zM149.4 450.0h0.8v0.8h-0.8zM156.0 466.9h0.8v0.8h-0.8zM165.7 464.7h0.8v0.8h-0.8zM159.2 455.3h0.8v0.8h-0.8zM166.1 457.8h0.8v0.8h-0.8zM158.9 469.1h0.8v0.8h-0.8zM143.2 457.6h0.8v0.8h-0.8zM168.9 470.9h0.8v0.8h-0.8zM142.6 457.9h0.8v0.8h-0.8zM171.5 456.0h0.8v0.8h-0.8zM162.0 458.0h0.8v0.8h-0.8zM181.6 460.4h0.8v0.8h-0.8zM192.0 454.5h0.8v0.8h-0.8zM165.7 453.9h0.8v0.8h-0.8zM179.8 448.1h0.8v0.8h-0.8zM165.8 453.8h0.8v0.8h-0.8zM145.8 457.1h0.8v0.8h-0.8zM170.4 456.9h0.8v0.8h-0.8zM154.2 442.6h0.8v0.8h-0.8zM171.7 457.9h0.8v0.8h-0.8zM167.8 461.5h0.8v0.8h-0.8zM173.8 447.3h0.8v0.8h-0.8zM161.0 450.3h0.8v0.8h-0.8zM171.3 463.9h0.8v0.8h-0.8zM160.1 450.2h0.8v0.8h-0.8zM173.3 460.6h0.8v0.8h-0.8zM164.2 458.9h0.8v0.8h-0.8zM172.2 451.5h0.8v0.8h-0.8zM162.2 461.5h0.8v0.8h-0.8zM154.2 460.7h0.8v0.8h-0.8zM164.0 465.1h0.8v0.8h-0.8zM159.6 459.7h0.8v0.8h-0.8zM157.5 463.3h0.8v0.8h-0.8zM172.9 446.9h0.8v0.8h-0.8zM159.9 466.4h0.8v0.8h-0.8zM157.5 453.0h0.8v0.8h-0.8zM159.8 460.5h0.8v0.8h-0.8zM180.9 450.0h0.8v0.8h-0.8zM157.7 461.6h0.8v0.8h-0.8zM145.5 452.1h0.8v0.8h-0.8zM146.1 455.6h0.8v0.8h-0.8zM148.8 453.1h0.8v0.8h-0.8zM150.3 453.8h0.8v0.8h-0.8zM167.5 464.8h0.8v0.8h-0.8zM182.7 462.5h0.8v0.8h-0.8zM186.9 456.2h0.8v0.8h-0.8zM147.2 452.5h0.8v0.8h-0.8zM147.2 461.5h0.8v0.8h-0.8zM160.3 461.0h0.8v0.8h-0.8zM196.6 467.6h0.8v0.8h-0.8zM192.5 448.3h0.8v0.8h-0.8zM168.4 457.9h0.8v0.8h-0.8zM159.8 450.2h0.8v0.8h-0.8zM153.9 456.0h0.8v0.8h-0.8zM170.1 455.4h0.8v0.8h-0.8zM142.4 459.5h0.8v0.8h-0.8zM159.3 467.7h0.8v0.8h-0.8zM163.9 455.0h0.8v0.8h-0.8z" fill="#8a8a8a"/>
<path d="M207.1 503.8h0.8v0.8h-0.8zM208.7 489.4h0.8v0.8h-0.8zM205.2 490.3h0.8v0.8h-0.8zM205.3 487.9h0.8v0.8h-0.8zM203.1 503.8h0.8v0.8h-0.8zM204.9 481.8h0.8v0.8h-0.8zM200.2 495.1h0.8v0.8h-0.8zM204.8 490.1h0.8v0.8h-0.8zM204.6 486.5h0.8v0.8h-0.8zM201.6 483.9h0.8v0.8h-0.8zM203.9 496.5h0.8v0.8h-0.8zM209.1 487.2h0.8v0.8h-0.8zM208.1 489.5h0.8v0.8h-0.8zM211.5 477.1h0.8v0.8h-0.8zM200.9 470.2h0.8v0.8h-0.8zM197.9 475.1h0.8v0.8h-0.8zM213.5 495.6h0.8v0.8h-0.8zM204.6 482.9h0.8v0.8h-0.8zM207.2 496.8h0.8v0.8h-0.8zM212.3 477.7h0.8v0.8h-0.8zM199.2 503.8h0.8v0.8h-0.8zM208.6 493.5h0.8v0.8h-0.8zM207.5 477.0h0.8v0.8h-0.8zM201.6 479.7h0.8v0.8h-0.8zM205.2 480.4h0.8v0.8h-0.8zM200.6 494.1h0.8v0.8h-0.8zM211.6 500.8h0.8v0.8h-0.8zM203.8 483.6h0.8v0.8h-0.8zM208.7 487.1h0.8v0.8h-0.8zM205.3 478.6h0.8v0.8h-0.8zM208.0 480.3h0.8v0.8h-0.8zM208.3 476.6h0.8v0.8h-0.8zM207.0 499.3h0.8v0.8h-0.8zM206.2 499.2h0.8v0.8h-0.8zM205.1 503.8h0.8v0.8h-0.8zM206.0 490.7h0.8v0.8h-0.8zM204.9 503.8h0.8v0.8h-0.8zM204.5 482.8h0.8v0.8h-0.8zM203.4 493.8h0.8v0.8h-0.8zM204.8 489.2h0.8v0.8h-0.8zM205.6 481.1h0.8v0.8h-0.8zM207.8 501.3h0.8v0.8h-0.8zM206.0 488.4h0.8v0.8h-0.8zM194.6 481.8h0.8v0.8h-0.8zM209.2 484.8h0.8v0.8h-0.8zM209.9 482.0h0.8v0.8h-0.8zM200.7 500.2h0.8v0.8h-0.8zM198.9 488.3h0.8v0.8h-0.8zM202.1 484.1h0.8v0.8h-0.8zM203.3 495.5h0.8v0.8h-0.8zM199.0 489.6h0.8v0.8h-0.8zM206.2 488.4h0.8v0.8h-0.8zM208.6 485.6h0.8v0.8h-0.8zM204.9 488.3h0.8v0.8h-0.8zM207.5 472.7h0.8v0.8h-0.8zM203.1 474.4h0.8v0.8h-0.8zM208.1 503.8h0.8v0.8h-0.8zM204.8 503.5h0.8v0.8h-0.8zM204.8 503.8h0.8v0.8h-0.8zM207.5 485.9h0.8v0.8h-0.8zM204.9 480.3h0.8v0.8h-0.8zM207.1 487.6h0.8v0.8h-0.8zM208.8 482.2h0.8v0.8h-0.8zM208.5 490.6h0.8v0.8h-0.8zM202.8 503.4h0.8v0.8h-0.8zM206.4 475.9h0.8v0.8h-0.8zM201.8 503.5h0.8v0.8h-0.8zM208.0 496.0h0.8v0.8h-0.8zM207.0 484.8h0.8v0.8h-0.8zM200.6 484.1h0.8v0.8h-0.8zM204.1 486.3h0.8v0.8h-0.8zM199.8 503.8h0.8v0.8h-0.8zM207.5 472.2h0.8v0.8h-0.8zM207.6 495.0h0.8v0.8h-0.8zM207.2 489.5h0.8v0.8h-0.8zM206.5 474.6h0.8v0.8h-0.8zM203.8 490.8h0.8v0.8h-0.8zM203.1 500.4h0.8v0.8h-0.8zM208.9 481.9h0.8v0.8h-0.8zM203.7 477.2h0.8v0.8h-0.8zM209.4 496.5h0.8v0.8h-0.8zM207.6 489.6h0.8v0.8h-0.8zM201.9 482.4h0.8v0.8h-0.8zM204.1 480.3h0.8v0.8h-0.8zM209.3 486.4h0.8v0.8h-0.8zM201.4 491.9h0.8v0.8h-0.8zM202.0 495.1h0.8v0.8h-0.8zM210.5 477.5h0.8v0.8h-0.8zM204.9 482.8h0.8v0.8h-0.8zM206.2 470.2h0.8v0.8h-0.8zM201.4 501.1h0.8v0.8h-0.8zM207.4 487.4h0.8v0.8h-0.8zM206.3 491.6h0.8v0.8h-0.8zM204.2 499.7h0.8v0.8h-0.8zM207.4 498.0h0.8v0.8h-0.8zM207.5 479.9h0.8v0.8h-0.8zM207.7 503.0h0.8v0.8h-0.8zM205.4 490.5h0.8v0.8h-0.8zM200.2 501.0h0.8v0.8h-0.8zM208.2 497.8h0.8v0.8h-0.8zM199.1 503.8h0.8v0.8h-0.8zM204.7 480.1h0.8v0.8h-0.8zM209.4 483.6h0.8v0.8h-0.8zM201.2 482.0h0.8v0.8h-0.8zM201.1 485.5h0.8v0.8h-0.8zM205.1 503.8h0.8v0.8h-0.8zM200.3 479.9h0.8v0.8h-0.8zM204.5 489.1h0.8v0.8h-0.8zM204.6 490.7h0.8v0.8h-0.8zM205.0 491.4h0.8v0.8h-0.8zM210.6 472.7h0.8v0.8h-0.8zM199.9 483.1h0.8v0.8h-0.8zM206.3 481.1h0.8v0.8h-0.8zM202.5 473.1h0.8v0.8h-0.8zM206.0 480.2h0.8v0.8h-0.8zM207.2 499.8h0.8v0.8h-0.8zM210.2 503.7h0.8v0.8h-0.8zM205.1 473.4h0.8v0.8h-0.8zM202.2 483.2h0.8v0.8h-0.8zM208.0 474.1h0.8v0.8h-0.8zM198.2 498.5h0.8v0.8h-0.8zM201.8 501.3h0.8v0.8h-0.8zM204.2 474.3h0.8v0.8h-0.8zM201.2 495.8h0.8v0.8h-0.8zM208.9 498.4h0.8v0.8h-0.8zM211.9 481.8h0.8v0.8h-0.8zM207.3 494.0h0.8v0.8h-0.8zM208.8 477.8h0.8v0.8h-0.8zM204.5 492.6h0.8v0.8h-0.8zM204.2 491.8h0.8v0.8h-0.8zM202.1 493.3h0.8v0.8h-0.8zM201.7 480.3h0.8v0.8h-0.8zM210.2 476.0h0.8v0.8h-0.8zM208.5 500.9h0.8v0.8h-0.8zM206.9 502.2h0.8v0.8h-0.8zM198.8 478.0h0.8v0.8h-0.8zM210.0 479.6h0.8v0.8h-0.8zM207.3 481.7h0.8v0.8h-0.8zM206.3 491.3h0.8v0.8h-0.8zM206.1 483.2h0.8v0.8h-0.8zM198.3 503.8h0.8v0.8h-0.8zM207.5 473.8h0.8v0.8h-0.8zM197.1 489.6h0.8v0.8h-0.8zM204.7 486.8h0.8v0.8h-0.8zM206.8 481.2h0.8v0.8h-0.8zM206.6 495.3h0.8v0.8h-0.8zM203.4 491.0h0.8v0.8h-0.8zM203.4 488.7h0.8v0.8h-0.8zM209.5 484.9h0.8v0.8h-0.8zM207.5 496.7h0.8v0.8h-0.8zM203.0 493.8h0.8v0.8h-0.8zM204.3 480.9h0.8v0.8h-0.8zM208.2 491.3h0.8v0.8h-0.8zM207.2 473.7h0.8v0.8h-0.8zM203.8 494.3h0.8v0.8h-0.8zM203.3 483.2h0.8v0.8h-0.8zM208.1 484.3h0.8v0.8h-0.8zM201.5 496.1h0.8v0.8h-0.8zM204.5 479.7h0.8v0.8h-0.8zM204.8 489.8h0.8v0.8h-0.8zM211.5 503.8h0.8v0.8h-0.8zM200.1 495.1h0.8v0.8h-0.8zM207.4 488.8h0.8v0.8h-0.8zM207.6 503.8h0.8v0.8h-0.8zM201.6 501.2h0.8v0.8h-0.8zM202.3 489.2h0.8v0.8h-0.8zM199.4 491.0h0.8v0.8h-0.8zM208.9 497.4h0.8v0.8h-0.8zM203.7 477.7h0.8v0.8h-0.8zM210.9 478.2h0.8v0.8h-0.8zM200.9 500.8h0.8v0.8h-0.8zM206.0 489.6h0.8v0.8h-0.8zM205.4 481.2h0.8v0.8h-0.8zM205.0 490.6h0.8v0.8h-0.8zM203.8 499.1h0.8v0.8h-0.8zM205.9 503.8h0.8v0.8h-0.8zM204.0 486.9h0.8v0.8h-0.8zM203.6 496.8h0.8v0.8h-0.8zM203.5 470.2h0.8v0.8h-0.8zM204.0 497.9h0.8v0.8h-0.8zM207.7 488.5h0.8v0.8h-0.8zM208.9 490.5h0.8v0.8h-0.8zM201.5 503.8h0.8v0.8h-0.8zM202.2 483.9h0.8v0.8h-0.8zM205.6 487.7h0.8v0.8h-0.8zM204.9 495.3h0.8v0.8h-0.8zM209.3 479.5h0.8v0.8h-0.8zM204.1 482.2h0.8v0.8h-0.8zM209.4 475.9h0.8v0.8h-0.8zM202.0 479.3h0.8v0.8h-0.8zM203.8 488.8h0.8v0.8h-0.8zM207.6 482.6h0.8v0.8h-0.8zM210.9 499.2h0.8v0.8h-0.8zM209.3 492.7h0.8v0.8h-0.8zM200.4 482.7h0.8v0.8h-0.8zM208.7 485.8h0.8v0.8h-0.8zM199.8 479.1h0.8v0.8h-0.8zM207.1 488.1h0.8v0.8h-0.8zM207.8 495.6h0.8v0.8h-0.8zM206.7 484.8h0.8v0.8h-0.8zM203.9 489.4h0.8v0.8h-0.8zM208.1 486.1h0.8v0.8h-0.8zM209.7 490.1h0.8v0.8h-0.8zM209.0 503.8h0.8v0.8h-0.8zM202.6 471.9h0.8v0.8h-0.8zM205.2 484.9h0.8v0.8h-0.8zM200.4 489.4h0.8v0.8h-0.8zM201.3 489.4h0.8v0.8h-0.8zM207.0 498.6h0.8v0.8h-0.8zM206.8 495.0h0.8v0.8h-0.8zM201.3 479.3h0.8v0.8h-0.8zM199.7 498.9h0.8v0.8h-0.8zM205.4 492.8h0.8v0.8h-0.8zM205.3 473.6h0.8v0.8h-0.8zM207.7 503.8h0.8v0.8h-0.8zM202.2 501.5h0.8v0.8h-0.8zM207.0 490.9h0.8v0.8h-0.8zM206.1 492.3h0.8v0.8h-0.8zM210.8 483.2h0.8v0.8h-0.8zM208.7 488.7h0.8v0.8h-0.8zM206.2 476.4h0.8v0.8h-0.8zM211.3 493.2h0.8v0.8h-0.8zM204.0 503.2h0.8v0.8h-0.8zM199.7 503.8h0.8v0.8h-0.8zM203.2 489.6h0.8v0.8h-0.8zM200.3 503.8h0.8v0.8h-0.8zM206.7 503.8h0.8v0.8h-0.8zM208.9 503.8h0.8v0.8h-0.8zM201.0 484.5h0.8v0.8h-0.8zM205.1 497.9h0.8v0.8h-0.8zM207.6 484.8h0.8v0.8h-0.8zM202.1 486.2h0.8v0.8h-0.8zM207.0 503.8h0.8v0.8h-0.8zM200.8 483.8h0.8v0.8h-0.8zM201.6 479.2h0.8v0.8h-0.8zM205.3 472.9h0.8v0.8h-0.8zM204.1 503.8h0.8v0.8h-0.8zM209.5 472.2h0.8v0.8h-0.8zM202.8 487.0h0.8v0.8h-0.8zM207.4 486.3h0.8v0.8h-0.8zM200.7 503.3h0.8v0.8h-0.8zM207.2 478.6h0.8v0.8h-0.8zM197.9 485.9h0.8v0.8h-0.8zM213.0 503.8h0.8v0.8h-0.8zM212.7 472.5h0.8v0.8h-0.8zM205.7 488.4h0.8v0.8h-0.8zM203.3 489.1h0.8v0.8h-0.8zM206.0 503.4h0.8v0.8h-0.8zM201.4 482.4h0.8v0.8h-0.8zM209.9 495.6h0.8v0.8h-0.8zM209.0 485.0h0.8v0.8h-0.8zM203.8 474.1h0.8v0.8h-0.8zM205.2 484.2h0.8v0.8h-0.8zM205.9 483.9h0.8v0.8h-0.8zM204.5 503.8h0.8v0.8h-0.8zM205.0 490.5h0.8v0.8h-0.8zM202.1 475.5h0.8v0.8h-0.8zM206.3 490.3h0.8v0.8h-0.8zM203.1 499.6h0.8v0.8h-0.8zM202.1 485.2h0.8v0.8h-0.8zM201.4 497.7h0.8v0.8h-0.8zM202.9 503.8h0.8v0.8h-0.8zM206.5 487.1h0.8v0.8h-0.8zM196.8 477.5h0.8v0.8h-0.8zM205.3 492.1h0.8v0.8h-0.8zM202.2 478.1h0.8v0.8h-0.8zM203.7 491.7h0.8v0.8h-0.8zM206.7 473.7h0.8v0.8h-0.8zM203.8 475.4h0.8v0.8h-0.8zM203.0 495.8h0.8v0.8h-0.8zM195.7 476.2h0.8v0.8h-0.8zM209.3 503.8h0.8v0.8h-0.8zM201.0 477.2h0.8v0.8h-0.8zM203.3 482.8h0.8v0.8h-0.8zM197.4 489.3h0.8v0.8h-0.8zM204.4 486.6h0.8v0.8h-0.8zM205.2 482.6h0.8v0.8h-0.8zM207.1 490.6h0.8v0.8h-0.8zM201.5 491.8h0.8v0.8h-0.8zM199.1 487.0h0.8v0.8h-0.8zM214.1 476.2h0.8v0.8h-0.8zM202.5 489.6h0.8v0.8h-0.8zM212.3 493.3h0.8v0.8h-0.8zM213.3 492.2h0.8v0.8h-0.8zM207.2 485.1h0.8v0.8h-0.8zM202.6 486.9h0.8v0.8h-0.8zM204.6 482.2h0.8v0.8h-0.8zM208.7 473.6h0.8v0.8h-0.8zM209.9 488.4h0.8v0.8h-0.8zM209.0 500.5h0.8v0.8h-0.8zM208.6 503.8h0.8v0.8h-0.8zM201.5 492.3h0.8v0.8h-0.8zM204.7 500.0h0.8v0.8h-0.8zM201.9 487.7h0.8v0.8h-0.8zM204.0 471.8h0.8v0.8h-0.8zM206.4 495.0h0.8v0.8h-0.8zM209.8 499.4h0.8v0.8h-0.8zM207.6 481.9h0.8v0.8h-0.8zM203.8 482.7h0.8v0.8h-0.8zM198.2 487.5h0.8v0.8h-0.8zM208.7 488.1h0.8v0.8h-0.8zM199.7 481.8h0.8v0.8h-0.8zM208.0 485.2h0.8v0.8h-0.8zM208.2 503.8h0.8v0.8h-0.8z" fill="#8a8a8a"/>
<path d="M205.8 482.0h0.8v0.8h-0.8zM201.8 487.8h0.8v0.8h-0.8zM200.8 494.5h0.8v0.8h-0.8zM205.1 483.5h0.8v0.8h-0.8zM199.7 500.2h0.8v0.8h-0.8zM202.9 488.0h0.8v0.8h-0.8zM200.5 486.8h0.8v0.8h-0.8zM209.5 494.0h0.8v0.8h-0.8zM199.1 485.0h0.8v0.8h-0.8zM197.8 499.8h0.8v0.8h-0.8zM199.3 486.9h0.8v0.8h-0.8zM204.3 483.6h0.8v0.8h-0.8zM207.1 497.1h0.8v0.8h-0.8zM207.2 498.2h0.8v0.8h-0.8zM205.0 485.9h0.8v0.8h-0.8zM204.9 475.1h0.8v0.8h-0.8zM207.7 475.5h0.8v0.8h-0.8zM204.1 496.2h0.8v0.8h-0.8zM200.0 500.4h0.8v0.8h-0.8zM208.1 491.1h0.8v0.8h-0.8zM206.5 489.0h0.8v0.8h-0.8zM202.6 489.5h0.8v0.8h-0.8zM205.8 481.4h0.8v0.8h-0.8zM208.8 483.1h0.8v0.8h-0.8zM203.9 484.1h0.8v0.8h-0.8zM206.0 494.3h0.8v0.8h-0.8zM207.0 486.7h0.8v0.8h-0.8zM208.0 486.9h0.8v0.8h-0.8zM205.1 476.1h0.8v0.8h-0.8zM206.4 496.3h0.8v0.8h-0.8zM206.7 476.3h0.8v0.8h-0.8zM205.0 492.8h0.8v0.8h-0.8zM207.8 485.0h0.8v0.8h-0.8zM206.3 483.3h0.8v0.8h-0.8zM201.7 489.5h0.8v0.8h-0.8zM200.1 491.3h0.8v0.8h-0.8zM215.6 480.2h0.8v0.8h-0.8zM204.6 485.5h0.8v0.8h-0.8zM203.3 495.2h0.8v0.8h-0.8zM203.0 503.8h0.8v0.8h-0.8zM203.8 491.8h0.8v0.8h-0.8zM197.2 480.8h0.8v0.8h-0.8zM199.8 478.6h0.8v0.8h-0.8zM209.5 495.8h0.8v0.8h-0.8zM205.9 498.6h0.8v0.8h-0.8zM203.2 491.6h0.8v0.8h-0.8zM207.3 479.7h0.8v0.8h-0.8zM208.0 484.6h0.8v0.8h-0.8zM198.8 491.4h0.8v0.8h-0.8zM203.5 479.3h0.8v0.8h-0.8zM198.7 478.6h0.8v0.8h-0.8zM204.8 481.4h0.8v0.8h-0.8zM202.6 483.1h0.8v0.8h-0.8zM202.3 498.0h0.8v0.8h-0.8zM194.0 480.4h0.8v0.8h-0.8zM202.8 502.1h0.8v0.8h-0.8zM200.9 483.3h0.8v0.8h-0.8zM212.1 490.7h0.8v0.8h-0.8zM201.1 495.0h0.8v0.8h-0.8zM204.7 500.4h0.8v0.8h-0.8zM209.5 498.4h0.8v0.8h-0.8zM208.9 488.6h0.8v0.8h-0.8zM205.9 490.4h0.8v0.8h-0.8zM206.7 500.8h0.8v0.8h-0.8zM205.3 483.5h0.8v0.8h-0.8zM208.8 472.8h0.8v0.8h-0.8zM203.5 483.9h0.8v0.8h-0.8zM200.8 489.9h0.8v0.8h-0.8zM210.3 481.5h0.8v0.8h-0.8zM206.9 479.1h0.8v0.8h-0.8zM207.7 473.8h0.8v0.8h-0.8zM197.1 478.6h0.8v0.8h-0.8zM196.5 494.4h0.8v0.8h-0.8zM204.6 473.6h0.8v0.8h-0.8zM205.0 485.7h0.8v0.8h-0.8zM206.9 486.3h0.8v0.8h-0.8zM206.1 497.6h0.8v0.8h-0.8zM212.2 473.6h0.8v0.8h-0.8zM199.8 473.8h0.8v0.8h-0.8zM204.6 476.2h0.8v0.8h-0.8zM209.1 494.5h0.8v0.8h-0.8zM203.8 490.4h0.8v0.8h-0.8zM206.7 475.8h0.8v0.8h-0.8zM206.8 474.0h0.8v0.8h-0.8zM200.0 489.4h0.8v0.8h-0.8zM201.5 480.2h0.8v0.8h-0.8zM210.9 490.8h0.8v0.8h-0.8zM198.7 489.7h0.8v0.8h-0.8zM203.9 489.8h0.8v0.8h-0.8zM205.5 487.1h0.8v0.8h-0.8zM205.7 475.1h0.8v0.8h-0.8zM201.6 495.6h0.8v0.8h-0.8zM202.6 494.0h0.8v0.8h-0.8zM202.5 488.8h0.8v0.8h-0.8zM204.9 489.5h0.8v0.8h-0.8zM199.3 492.7h0.8v0.8h-0.8zM203.1 497.3h0.8v0.8h-0.8zM201.7 490.2h0.8v0.8h-0.8zM202.3 495.4h0.8v0.8h-0.8zM206.8 503.8h0.8v0.8h-0.8zM202.4 492.0h0.8v0.8h-0.8zM209.6 498.1h0.8v0.8h-0.8zM208.9 485.9h0.8v0.8h-0.8zM208.4 491.7h0.8v0.8h-0.8zM201.0 483.2h0.8v0.8h-0.8zM202.8 490.9h0.8v0.8h-0.8zM210.4 471.2h0.8v0.8h-0.8zM200.9 498.4h0.8v0.8h-0.8zM208.5 484.0h0.8v0.8h-0.8zM207.6 484.8h0.8v0.8h-0.8zM204.0 500.0h0.8v0.8h-0.8zM199.1 503.8h0.8v0.8h-0.8zM208.9 500.1h0.8v0.8h-0.8zM203.6 488.7h0.8v0.8h-0.8zM210.3 503.8h0.8v0.8h-0.8zM202.8 499.4h0.8v0.8h-0.8zM206.1 487.7h0.8v0.8h-0.8zM200.2 485.6h0.8v0.8h-0.8zM199.7 496.3h0.8v0.8h-0.8zM204.9 498.2h0.8v0.8h-0.8zM207.5 489.0h0.8v0.8h-0.8zM205.3 483.6h0.8v0.8h-0.8zM208.8 489.8h0.8v0.8h-0.8zM205.0 476.7h0.8v0.8h-0.8zM203.7 485.0h0.8v0.8h-0.8zM202.5 499.9h0.8v0.8h-0.8zM202.7 492.4h0.8v0.8h-0.8zM206.4 488.7h0.8v0.8h-0.8zM206.7 479.3h0.8v0.8h-0.8zM208.1 480.6h0.8v0.8h-0.8zM206.1 488.6h0.8v0.8h-0.8zM209.5 503.5h0.8v0.8h-0.8zM205.3 496.5h0.8v0.8h-0.8zM207.1 471.4h0.8v0.8h-0.8zM203.3 480.2h0.8v0.8h-0.8zM210.0 479.9h0.8v0.8h-0.8zM206.2 472.9h0.8v0.8h-0.8zM200.9 486.3h0.8v0.8h-0.8zM211.7 493.4h0.8v0.8h-0.8zM203.9 488.9h0.8v0.8h-0.8zM207.0 491.2h0.8v0.8h-0.8zM206.9 496.6h0.8v0.8h-0.8zM207.3 497.0h0.8v0.8h-0.8zM208.0 479.8h0.8v0.8h-0.8zM204.7 487.4h0.8v0.8h-0.8zM211.1 501.3h0.8v0.8h-0.8zM212.0 501.3h0.8v0.8h-0.8zM196.7 479.4h0.8v0.8h-0.8zM207.7 502.4h0.8v0.8h-0.8zM204.9 496.3h0.8v0.8h-0.8zM205.9 503.8h0.8v0.8h-0.8zM205.0 487.2h0.8v0.8h-0.8zM200.4 494.2h0.8v0.8h-0.8zM202.1 478.0h0.8v0.8h-0.8zM204.1 478.8h0.8v0.8h-0.8zM207.7 491.9h0.8v0.8h-0.8zM205.0 483.7h0.8v0.8h-0.8zM207.5 503.8h0.8v0.8h-0.8zM205.7 501.9h0.8v0.8h-0.8zM206.2 480.8h0.8v0.8h-0.8zM202.1 503.6h0.8v0.8h-0.8zM201.3 485.5h0.8v0.8h-0.8zM203.1 488.0h0.8v0.8h-0.8zM202.5 494.1h0.8v0.8h-0.8zM203.9 477.2h0.8v0.8h-0.8zM206.1 491.4h0.8v0.8h-0.8zM205.0 497.1h0.8v0.8h-0.8zM205.3 494.0h0.8v0.8h-0.8zM209.1 477.0h0.8v0.8h-0.8zM207.8 495.3h0.8v0.8h-0.8zM207.8 470.6h0.8v0.8h-0.8zM202.8 480.2h0.8v0.8h-0.8zM209.8 484.2h0.8v0.8h-0.8zM207.2 503.8h0.8v0.8h-0.8zM205.9 491.1h0.8v0.8h-0.8zM206.9 488.1h0.8v0.8h-0.8zM203.2 495.7h0.8v0.8h-0.8zM200.7 488.9h0.8v0.8h-0.8zM209.6 485.3h0.8v0.8h-0.8zM204.4 483.7h0.8v0.8h-0.8zM197.8 480.9h0.8v0.8h-0.8zM204.9 483.7h0.8v0.8h-0.8zM204.5 482.1h0.8v0.8h-0.8zM202.3 503.8h0.8v0.8h-0.8zM198.1 490.6h0.8v0.8h-0.8zM204.8 483.3h0.8v0.8h-0.8zM202.2 478.1h0.8v0.8h-0.8zM197.9 486.5h0.8v0.8h-0.8zM207.8 503.8h0.8v0.8h-0.8zM206.5 503.8h0.8v0.8h-0.8zM206.1 500.8h0.8v0.8h-0.8zM207.8 492.1h0.8v0.8h-0.8zM205.9 495.0h0.8v0.8h-0.8zM199.2 483.4h0.8v0.8h-0.8zM204.9 503.8h0.8v0.8h-0.8zM205.1 491.2h0.8v0.8h-0.8zM207.7 503.8h0.8v0.8h-0.8zM201.0 501.2h0.8v0.8h-0.8zM201.8 480.8h0.8v0.8h-0.8zM209.1 500.5h0.8v0.8h-0.8zM207.5 490.8h0.8v0.8h-0.8zM211.3 491.9h0.8v0.8h-0.8zM205.6 503.0h0.8v0.8h-0.8zM202.3 503.8h0.8v0.8h-0.8zM202.8 503.8h0.8v0.8h-0.8zM208.3 488.9h0.8v0.8h-0.8zM208.2 494.6h0.8v0.8h-0.8zM205.3 481.9h0.8v0.8h-0.8zM202.5 487.0h0.8v0.8h-0.8zM205.5 475.8h0.8v0.8h-0.8zM203.4 501.1h0.8v0.8h-0.8zM209.8 490.1h0.8v0.8h-0.8zM206.2 499.0h0.8v0.8h-0.8zM205.8 474.2h0.8v0.8h-0.8zM199.0 476.2h0.8v0.8h-0.8zM205.8 498.1h0.8v0.8h-0.8zM204.3 493.5h0.8v0.8h-0.8zM202.0 478.6h0.8v0.8h-0.8zM204.7 473.5h0.8v0.8h-0.8zM197.2 487.1h0.8v0.8h-0.8zM206.6 493.2h0.8v0.8h-0.8zM205.1 503.8h0.8v0.8h-0.8zM203.1 491.6h0.8v0.8h-0.8zM207.5 486.8h0.8v0.8h-0.8zM201.9 489.6h0.8v0.8h-0.8zM202.6 493.0h0.8v0.8h-0.8zM208.2 482.6h0.8v0.8h-0.8zM210.6 478.5h0.8v0.8h-0.8zM210.3 503.8h0.8v0.8h-0.8zM210.8 503.8h0.8v0.8h-0.8zM206.3 496.5h0.8v0.8h-0.8zM207.0 480.1h0.8v0.8h-0.8zM207.5 492.3h0.8v0.8h-0.8zM198.9 485.4h0.8v0.8h-0.8zM211.9 488.3h0.8v0.8h-0.8zM203.9 484.9h0.8v0.8h-0.8zM203.2 496.7h0.8v0.8h-0.8zM206.7 503.3h0.8v0.8h-0.8zM202.7 481.6h0.8v0.8h-0.8zM210.7 486.5h0.8v0.8h-0.8zM202.7 476.4h0.8v0.8h-0.8zM207.3 500.3h0.8v0.8h-0.8zM206.2 477.1h0.8v0.8h-0.8zM209.5 485.7h0.8v0.8h-0.8zM203.2 488.7h0.8v0.8h-0.8zM203.7 486.2h0.8v0.8h-0.8zM209.3 497.9h0.8v0.8h-0.8zM205.4 489.7h0.8v0.8h-0.8zM203.1 486.2h0.8v0.8h-0.8zM203.2 483.5h0.8v0.8h-0.8zM207.2 474.9h0.8v0.8h-0.8zM206.0 487.9h0.8v0.8h-0.8zM199.6 493.4h0.8v0.8h-0.8zM203.1 479.6h0.8v0.8h-0.8zM206.0 502.1h0.8v0.8h-0.8zM209.9 481.9h0.8v0.8h-0.8zM201.9 492.2h0.8v0.8h-0.8zM204.6 484.3h0.8v0.8h-0.8zM199.6 472.7h0.8v0.8h-0.8zM209.2 487.7h0.8v0.8h-0.8zM202.1 492.7h0.8v0.8h-0.8zM201.7 485.3h0.8v0.8h-0.8zM209.2 491.4h0.8v0.8h-0.8zM206.4 481.3h0.8v0.8h-0.8zM201.3 491.9h0.8v0.8h-0.8zM205.0 495.0h0.8v0.8h-0.8zM205.4 480.4h0.8v0.8h-0.8zM201.5 493.9h0.8v0.8h-0.8zM209.2 482.8h0.8v0.8h-0.8zM203.1 471.7h0.8v0.8h-0.8zM202.4 492.5h0.8v0.8h-0.8zM205.3 503.0h0.8v0.8h-0.8zM209.5 486.1h0.8v0.8h-0.8zM201.7 486.0h0.8v0.8h-0.8zM204.0 479.1h0.8v0.8h-0.8zM206.4 489.8h0.8v0.8h-0.8zM208.3 496.8h0.8v0.8h-0.8zM205.2 492.3h0.8v0.8h-0.8zM210.6 484.6h0.8v0.8h-0.8zM205.0 481.0h0.8v0.8h-0.8zM211.8 490.8h0.8v0.8h-0.8zM203.6 503.3h0.8v0.8h-0.8zM208.8 478.5h0.8v0.8h-0.8zM206.7 483.9h0.8v0.8h-0.8zM199.2 472.7h0.8v0.8h-0.8z" fill="#3a3a3a"/>
<path d="M206.1 485.9h0.8v0.8h-0.8zM208.8 473.3h0.8v0.8h-0.8zM209.8 490.4h0.8v0.8h-0.8zM207.6 479.2h0.8v0.8h-0.8zM205.5 488.4h0.8v0.8h-0.8zM202.3 488.2h0.8v0.8h-0.8zM206.7 475.7h0.8v0.8h-0.8zM208.2 472.9h0.8v0.8h-0.8zM198.5 481.0h0.8v0.8h-0.8zM204.7 501.5h0.8v0.8h-0.8zM200.0 496.7h0.8v0.8h-0.8zM199.8 493.2h0.8v0.8h-0.8zM205.3 497.1h0.8v0.8h-0.8zM204.3 479.2h0.8v0.8h-0.8zM208.4 500.3h0.8v0.8h-0.8zM202.7 479.4h0.8v0.8h-0.8zM201.9 482.6h0.8v0.8h-0.8zM209.0 503.8h0.8v0.8h-0.8zM203.3 492.1h0.8v0.8h-0.8zM206.2 487.1h0.8v0.8h-0.8zM209.1 499.1h0.8v0.8h-0.8zM212.0 486.5h0.8v0.8h-0.8zM209.3 484.9h0.8v0.8h-0.8zM204.7 491.9h0.8v0.8h-0.8zM202.8 496.9h0.8v0.8h-0.8zM215.3 487.5h0.8v0.8h-0.8zM203.0 484.4h0.8v0.8h-0.8zM204.0 493.1h0.8v0.8h-0.8zM204.8 478.4h0.8v0.8h-0.8zM203.2 486.6h0.8v0.8h-0.8zM211.7 502.0h0.8v0.8h-0.8zM205.6 501.4h0.8v0.8h-0.8zM202.5 494.2h0.8v0.8h-0.8zM209.8 483.5h0.8v0.8h-0.8zM200.7 488.4h0.8v0.8h-0.8zM206.1 501.7h0.8v0.8h-0.8zM201.5 482.1h0.8v0.8h-0.8zM209.6 476.3h0.8v0.8h-0.8zM200.1 491.8h0.8v0.8h-0.8zM201.3 492.5h0.8v0.8h-0.8zM204.8 478.4h0.8v0.8h-0.8zM205.0 488.5h0.8v0.8h-0.8zM206.9 485.6h0.8v0.8h-0.8zM206.3 490.3h0.8v0.8h-0.8zM202.1 488.8h0.8v0.8h-0.8zM209.9 496.5h0.8v0.8h-0.8zM209.7 495.7h0.8v0.8h-0.8zM209.4 474.4h0.8v0.8h-0.8zM207.9 503.8h0.8v0.8h-0.8zM205.5 477.8h0.8v0.8h-0.8zM204.9 479.9h0.8v0.8h-0.8zM207.2 480.3h0.8v0.8h-0.8zM206.6 503.8h0.8v0.8h-0.8zM202.0 485.2h0.8v0.8h-0.8zM213.1 496.7h0.8v0.8h-0.8zM206.0 497.1h0.8v0.8h-0.8zM202.8 491.5h0.8v0.8h-0.8zM199.7 500.4h0.8v0.8h-0.8zM202.7 481.5h0.8v0.8h-0.8zM202.6 487.9h0.8v0.8h-0.8zM207.4 478.4h0.8v0.8h-0.8zM209.1 494.5h0.8v0.8h-0.8zM209.6 503.8h0.8v0.8h-0.8zM202.3 475.4h0.8v0.8h-0.8zM211.6 503.8h0.8v0.8h-0.8zM204.9 488.7h0.8v0.8h-0.8zM196.9 491.4h0.8v0.8h-0.8zM203.6 484.0h0.8v0.8h-0.8zM205.7 491.0h0.8v0.8h-0.8zM203.7 485.1h0.8v0.8h-0.8zM209.3 473.6h0.8v0.8h-0.8zM204.2 483.4h0.8v0.8h-0.8zM210.9 478.8h0.8v0.8h-0.8zM202.6 474.2h0.8v0.8h-0.8zM203.1 503.8h0.8v0.8h-0.8zM207.9 480.3h0.8v0.8h-0.8zM201.8 478.2h0.8v0.8h-0.8zM210.2 483.5h0.8v0.8h-0.8zM210.9 479.1h0.8v0.8h-0.8zM201.9 478.4h0.8v0.8h-0.8zM207.7 491.4h0.8v0.8h-0.8zM206.6 489.0h0.8v0.8h-0.8zM198.1 489.6h0.8v0.8h-0.8zM209.4 472.4h0.8v0.8h-0.8zM206.9 489.5h0.8v0.8h-0.8zM200.7 503.8h0.8v0.8h-0.8zM204.3 503.8h0.8v0.8h-0.8zM209.0 500.8h0.8v0.8h-0.8zM206.1 483.4h0.8v0.8h-0.8zM198.2 501.9h0.8v0.8h-0.8zM209.5 491.2h0.8v0.8h-0.8zM204.7 502.7h0.8v0.8h-0.8zM203.5 487.3h0.8v0.8h-0.8zM207.2 482.2h0.8v0.8h-0.8zM205.2 494.1h0.8v0.8h-0.8zM202.7 490.1h0.8v0.8h-0.8zM201.2 500.8h0.8v0.8h-0.8zM204.5 470.4h0.8v0.8h-0.8zM198.9 499.9h0.8v0.8h-0.8zM211.0 475.0h0.8v0.8h-0.8zM211.6 503.8h0.8v0.8h-0.8zM209.7 489.4h0.8v0.8h-0.8zM209.2 498.5h0.8v0.8h-0.8zM201.8 488.6h0.8v0.8h-0.8zM204.6 491.6h0.8v0.8h-0.8zM209.8 483.5h0.8v0.8h-0.8zM205.8 488.0h0.8v0.8h-0.8zM206.6 496.1h0.8v0.8h-0.8zM198.9 491.1h0.8v0.8h-0.8zM202.5 473.5h0.8v0.8h-0.8zM207.1 494.7h0.8v0.8h-0.8zM206.6 502.7h0.8v0.8h-0.8zM201.6 493.9h0.8v0.8h-0.8zM200.7 485.4h0.8v0.8h-0.8zM204.2 502.8h0.8v0.8h-0.8zM204.2 492.7h0.8v0.8h-0.8zM209.7 488.0h0.8v0.8h-0.8zM204.2 503.8h0.8v0.8h-0.8zM202.9 483.8h0.8v0.8h-0.8zM201.6 485.0h0.8v0.8h-0.8zM205.2 491.9h0.8v0.8h-0.8zM209.8 488.4h0.8v0.8h-0.8zM200.8 494.3h0.8v0.8h-0.8zM199.6 496.1h0.8v0.8h-0.8zM202.1 487.7h0.8v0.8h-0.8zM205.6 502.0h0.8v0.8h-0.8zM204.0 494.7h0.8v0.8h-0.8zM205.4 490.8h0.8v0.8h-0.8zM204.3 503.8h0.8v0.8h-0.8zM207.8 487.2h0.8v0.8h-0.8zM204.5 470.8h0.8v0.8h-0.8zM203.0 477.1h0.8v0.8h-0.8zM204.3 486.0h0.8v0.8h-0.8zM203.3 492.1h0.8v0.8h-0.8zM201.8 482.5h0.8v0.8h-0.8zM201.5 492.9h0.8v0.8h-0.8zM207.3 486.3h0.8v0.8h-0.8zM212.0 503.0h0.8v0.8h-0.8zM209.0 503.8h0.8v0.8h-0.8zM208.8 494.2h0.8v0.8h-0.8zM204.4 471.7h0.8v0.8h-0.8zM200.3 476.9h0.8v0.8h-0.8zM203.9 480.7h0.8v0.8h-0.8zM200.8 486.5h0.8v0.8h-0.8zM206.6 493.0h0.8v0.8h-0.8zM204.7 487.3h0.8v0.8h-0.8zM206.4 497.2h0.8v0.8h-0.8zM212.0 494.5h0.8v0.8h-0.8zM202.8 492.2h0.8v0.8h-0.8zM203.6 486.7h0.8v0.8h-0.8zM207.7 488.1h0.8v0.8h-0.8zM210.5 488.9h0.8v0.8h-0.8zM203.5 489.5h0.8v0.8h-0.8zM212.4 496.0h0.8v0.8h-0.8zM210.1 492.3h0.8v0.8h-0.8zM205.1 499.4h0.8v0.8h-0.8zM206.7 494.4h0.8v0.8h-0.8zM208.0 472.3h0.8v0.8h-0.8zM206.5 486.5h0.8v0.8h-0.8zM203.7 494.8h0.8v0.8h-0.8zM205.3 494.0h0.8v0.8h-0.8zM212.0 481.3h0.8v0.8h-0.8zM204.6 472.5h0.8v0.8h-0.8zM205.4 490.3h0.8v0.8h-0.8zM204.2 503.8h0.8v0.8h-0.8zM206.4 482.7h0.8v0.8h-0.8zM204.3 491.6h0.8v0.8h-0.8zM208.7 472.5h0.8v0.8h-0.8zM206.9 497.9h0.8v0.8h-0.8zM207.0 503.8h0.8v0.8h-0.8zM204.0 481.8h0.8v0.8h-0.8zM209.2 476.0h0.8v0.8h-0.8zM210.0 475.2h0.8v0.8h-0.8zM205.1 482.3h0.8v0.8h-0.8zM211.0 498.1h0.8v0.8h-0.8zM206.6 497.4h0.8v0.8h-0.8zM214.0 471.5h0.8v0.8h-0.8zM209.1 491.9h0.8v0.8h-0.8zM206.5 503.8h0.8v0.8h-0.8zM206.9 482.8h0.8v0.8h-0.8zM201.0 485.1h0.8v0.8h-0.8zM200.2 494.7h0.8v0.8h-0.8zM209.7 503.8h0.8v0.8h-0.8zM207.2 494.3h0.8v0.8h-0.8zM206.9 485.8h0.8v0.8h-0.8zM202.9 484.6h0.8v0.8h-0.8zM205.1 497.3h0.8v0.8h-0.8zM199.8 503.8h0.8v0.8h-0.8zM213.3 488.2h0.8v0.8h-0.8zM205.0 491.5h0.8v0.8h-0.8zM208.5 502.1h0.8v0.8h-0.8zM205.0 477.1h0.8v0.8h-0.8zM205.3 496.6h0.8v0.8h-0.8zM202.2 486.3h0.8v0.8h-0.8zM201.5 503.8h0.8v0.8h-0.8zM205.8 477.3h0.8v0.8h-0.8zM205.3 489.6h0.8v0.8h-0.8zM208.0 491.9h0.8v0.8h-0.8zM205.9 494.0h0.8v0.8h-0.8zM215.9 487.2h0.8v0.8h-0.8zM200.2 480.1h0.8v0.8h-0.8zM208.2 494.4h0.8v0.8h-0.8zM206.7 494.1h0.8v0.8h-0.8zM206.1 496.9h0.8v0.8h-0.8zM200.1 503.8h0.8v0.8h-0.8zM204.7 488.6h0.8v0.8h-0.8zM201.8 483.9h0.8v0.8h-0.8zM200.6 503.8h0.8v0.8h-0.8zM204.3 480.3h0.8v0.8h-0.8zM205.4 482.4h0.8v0.8h-0.8zM206.8 470.7h0.8v0.8h-0.8zM207.1 501.3h0.8v0.8h-0.8zM206.0 480.7h0.8v0.8h-0.8zM205.0 494.5h0.8v0.8h-0.8zM209.2 477.2h0.8v0.8h-0.8zM204.2 493.4h0.8v0.8h-0.8zM203.0 478.7h0.8v0.8h-0.8zM210.9 484.9h0.8v0.8h-0.8zM206.4 486.3h0.8v0.8h-0.8zM209.3 481.9h0.8v0.8h-0.8zM206.5 485.8h0.8v0.8h-0.8zM207.4 503.8h0.8v0.8h-0.8zM205.7 502.3h0.8v0.8h-0.8zM200.7 490.3h0.8v0.8h-0.8zM204.6 499.0h0.8v0.8h-0.8zM201.9 491.2h0.8v0.8h-0.8zM200.4 503.4h0.8v0.8h-0.8zM209.0 503.8h0.8v0.8h-0.8zM204.3 485.5h0.8v0.8h-0.8zM202.0 484.9h0.8v0.8h-0.8zM205.3 503.4h0.8v0.8h-0.8zM206.5 497.5h0.8v0.8h-0.8zM206.3 482.2h0.8v0.8h-0.8zM206.6 502.6h0.8v0.8h-0.8zM204.8 484.4h0.8v0.8h-0.8zM203.4 479.1h0.8v0.8h-0.8zM201.6 503.8h0.8v0.8h-0.8zM203.5 490.6h0.8v0.8h-0.8zM204.9 485.6h0.8v0.8h-0.8zM204.0 487.9h0.8v0.8h-0.8zM206.9 500.5h0.8v0.8h-0.8zM200.8 495.3h0.8v0.8h-0.8zM202.2 478.9h0.8v0.8h-0.8zM201.7 489.1h0.8v0.8h-0.8zM202.7 481.5h0.8v0.8h-0.8zM203.4 489.3h0.8v0.8h-0.8zM202.7 494.9h0.8v0.8h-0.8zM210.7 501.4h0.8v0.8h-0.8zM210.5 472.5h0.8v0.8h-0.8zM204.9 484.2h0.8v0.8h-0.8zM205.9 479.3h0.8v0.8h-0.8zM203.5 486.6h0.8v0.8h-0.8zM207.7 492.5h0.8v0.8h-0.8zM212.5 474.7h0.8v0.8h-0.8zM206.0 481.1h0.8v0.8h-0.8zM206.2 475.8h0.8v0.8h-0.8zM211.2 496.2h0.8v0.8h-0.8zM204.2 479.9h0.8v0.8h-0.8zM205.9 493.7h0.8v0.8h-0.8zM202.6 491.0h0.8v0.8h-0.8zM198.8 481.4h0.8v0.8h-0.8zM210.2 495.3h0.8v0.8h-0.8zM203.9 499.9h0.8v0.8h-0.8zM207.4 494.4h0.8v0.8h-0.8zM205.9 500.9h0.8v0.8h-0.8zM207.6 487.4h0.8v0.8h-0.8zM201.3 494.7h0.8v0.8h-0.8zM200.0 473.5h0.8v0.8h-0.8zM199.8 483.9h0.8v0.8h-0.8zM207.0 483.6h0.8v0.8h-0.8zM207.1 475.5h0.8v0.8h-0.8zM204.3 492.6h0.8v0.8h-0.8zM205.5 494.3h0.8v0.8h-0.8zM203.3 490.6h0.8v0.8h-0.8zM207.0 489.4h0.8v0.8h-0.8zM201.2 487.5h0.8v0.8h-0.8zM205.8 503.8h0.8v0.8h-0.8zM207.3 484.2h0.8v0.8h-0.8zM203.6 488.5h0.8v0.8h-0.8zM210.2 493.4h0.8v0.8h-0.8zM202.5 491.5h0.8v0.8h-0.8z" fill="#555"/>
<path d="M207.0 500.2h0.8v0.8h-0.8zM204.9 498.6h0.8v0.8h-0.8zM200.3 489.7h0.8v0.8h-0.8zM208.2 498.2h0.8v0.8h-0.8zM207.4 497.3h0.8v0.8h-0.8zM202.8 492.0h0.8v0.8h-0.8zM206.4 479.5h0.8v0.8h-0.8zM213.1 474.4h0.8v0.8h-0.8zM205.7 497.4h0.8v0.8h-0.8zM201.1 480.2h0.8v0.8h-0.8zM203.6 503.8h0.8v0.8h-0.8zM209.3 478.8h0.8v0.8h-0.8zM209.0 486.2h0.8v0.8h-0.8zM198.3 485.8h0.8v0.8h-0.8zM204.4 494.7h0.8v0.8h-0.8zM207.9 497.5h0.8v0.8h-0.8zM204.2 478.8h0.8v0.8h-0.8zM209.7 489.0h0.8v0.8h-0.8zM206.2 479.9h0.8v0.8h-0.8zM200.5 499.9h0.8v0.8h-0.8zM202.8 480.4h0.8v0.8h-0.8zM207.4 489.4h0.8v0.8h-0.8zM200.4 493.5h0.8v0.8h-0.8zM197.9 477.2h0.8v0.8h-0.8zM201.3 493.2h0.8v0.8h-0.8zM212.0 484.0h0.8v0.8h-0.8zM205.5 485.7h0.8v0.8h-0.8zM201.1 484.7h0.8v0.8h-0.8zM206.6 477.9h0.8v0.8h-0.8zM206.1 480.4h0.8v0.8h-0.8zM205.4 498.3h0.8v0.8h-0.8zM205.1 490.2h0.8v0.8h-0.8zM209.7 472.2h0.8v0.8h-0.8zM203.1 490.8h0.8v0.8h-0.8zM198.7 489.0h0.8v0.8h-0.8zM201.7 501.5h0.8v0.8h-0.8zM209.5 498.9h0.8v0.8h-0.8zM198.8 477.0h0.8v0.8h-0.8zM202.9 485.9h0.8v0.8h-0.8zM208.5 485.0h0.8v0.8h-0.8zM200.7 478.5h0.8v0.8h-0.8zM208.3 497.0h0.8v0.8h-0.8zM207.3 491.3h0.8v0.8h-0.8zM203.6 488.2h0.8v0.8h-0.8zM200.5 471.1h0.8v0.8h-0.8zM200.5 491.2h0.8v0.8h-0.8zM207.1 479.9h0.8v0.8h-0.8zM208.6 494.3h0.8v0.8h-0.8zM206.8 493.5h0.8v0.8h-0.8zM204.8 489.5h0.8v0.8h-0.8zM202.7 483.6h0.8v0.8h-0.8zM206.7 491.8h0.8v0.8h-0.8zM203.8 491.6h0.8v0.8h-0.8zM211.6 499.8h0.8v0.8h-0.8zM204.8 487.3h0.8v0.8h-0.8zM211.2 486.3h0.8v0.8h-0.8zM206.6 485.6h0.8v0.8h-0.8zM200.4 482.2h0.8v0.8h-0.8zM207.1 488.6h0.8v0.8h-0.8zM205.3 490.9h0.8v0.8h-0.8zM206.3 474.3h0.8v0.8h-0.8zM213.1 487.9h0.8v0.8h-0.8zM203.8 490.3h0.8v0.8h-0.8zM207.7 491.4h0.8v0.8h-0.8zM205.7 485.3h0.8v0.8h-0.8zM197.9 488.3h0.8v0.8h-0.8zM199.8 483.9h0.8v0.8h-0.8zM203.1 481.5h0.8v0.8h-0.8zM203.7 479.1h0.8v0.8h-0.8zM199.0 478.7h0.8v0.8h-0.8zM210.0 484.2h0.8v0.8h-0.8zM205.8 502.3h0.8v0.8h-0.8zM202.0 477.3h0.8v0.8h-0.8zM202.6 482.4h0.8v0.8h-0.8zM209.5 471.2h0.8v0.8h-0.8zM213.2 484.2h0.8v0.8h-0.8zM209.2 494.9h0.8v0.8h-0.8zM207.7 490.6h0.8v0.8h-0.8zM205.5 487.8h0.8v0.8h-0.8zM204.8 485.6h0.8v0.8h-0.8zM207.8 503.8h0.8v0.8h-0.8zM206.3 493.7h0.8v0.8h-0.8zM205.0 499.6h0.8v0.8h-0.8zM209.2 492.3h0.8v0.8h-0.8zM209.2 490.5h0.8v0.8h-0.8zM208.1 492.9h0.8v0.8h-0.8zM203.4 500.4h0.8v0.8h-0.8zM199.7 473.3h0.8v0.8h-0.8zM208.8 495.4h0.8v0.8h-0.8zM204.4 495.9h0.8v0.8h-0.8zM199.4 493.6h0.8v0.8h-0.8zM207.1 479.5h0.8v0.8h-0.8zM202.8 488.9h0.8v0.8h-0.8zM205.1 502.5h0.8v0.8h-0.8zM205.1 491.9h0.8v0.8h-0.8zM204.5 490.9h0.8v0.8h-0.8zM206.0 488.2h0.8v0.8h-0.8zM205.5 500.9h0.8v0.8h-0.8zM199.6 495.5h0.8v0.8h-0.8zM203.3 498.3h0.8v0.8h-0.8zM203.3 490.0h0.8v0.8h-0.8zM203.4 479.3h0.8v0.8h-0.8zM205.8 488.4h0.8v0.8h-0.8zM202.8 484.5h0.8v0.8h-0.8zM198.5 490.9h0.8v0.8h-0.8zM201.1 484.5h0.8v0.8h-0.8zM210.0 479.2h0.8v0.8h-0.8zM211.7 500.6h0.8v0.8h-0.8zM208.4 478.2h0.8v0.8h-0.8zM204.8 502.6h0.8v0.8h-0.8zM199.5 496.0h0.8v0.8h-0.8zM205.1 503.8h0.8v0.8h-0.8zM203.8 478.4h0.8v0.8h-0.8zM209.9 498.3h0.8v0.8h-0.8zM207.4 482.3h0.8v0.8h-0.8zM201.0 483.3h0.8v0.8h-0.8zM200.9 502.8h0.8v0.8h-0.8zM204.4 491.0h0.8v0.8h-0.8zM210.3 492.2h0.8v0.8h-0.8zM206.5 494.6h0.8v0.8h-0.8zM195.3 501.3h0.8v0.8h-0.8zM203.8 493.2h0.8v0.8h-0.8zM204.5 477.9h0.8v0.8h-0.8zM208.0 493.2h0.8v0.8h-0.8zM204.7 501.7h0.8v0.8h-0.8zM202.5 496.2h0.8v0.8h-0.8zM203.5 493.9h0.8v0.8h-0.8zM206.7 498.8h0.8v0.8h-0.8zM204.5 489.8h0.8v0.8h-0.8zM200.1 499.3h0.8v0.8h-0.8zM204.3 489.0h0.8v0.8h-0.8zM206.2 489.4h0.8v0.8h-0.8zM204.9 475.2h0.8v0.8h-0.8zM201.9 496.7h0.8v0.8h-0.8zM205.1 483.3h0.8v0.8h-0.8zM216.2 488.3h0.8v0.8h-0.8zM205.3 488.5h0.8v0.8h-0.8zM207.1 493.1h0.8v0.8h-0.8zM203.9 487.6h0.8v0.8h-0.8zM202.4 492.0h0.8v0.8h-0.8zM203.0 502.3h0.8v0.8h-0.8zM205.9 481.2h0.8v0.8h-0.8zM205.3 487.2h0.8v0.8h-0.8zM206.9 487.8h0.8v0.8h-0.8zM212.8 492.8h0.8v0.8h-0.8zM207.9 475.8h0.8v0.8h-0.8zM201.1 491.6h0.8v0.8h-0.8zM205.6 492.3h0.8v0.8h-0.8zM211.2 498.1h0.8v0.8h-0.8zM209.4 487.5h0.8v0.8h-0.8zM211.8 491.3h0.8v0.8h-0.8zM209.7 476.0h0.8v0.8h-0.8zM202.5 487.0h0.8v0.8h-0.8zM205.4 486.2h0.8v0.8h-0.8zM212.9 481.8h0.8v0.8h-0.8zM205.4 497.3h0.8v0.8h-0.8zM197.8 484.8h0.8v0.8h-0.8zM201.9 487.9h0.8v0.8h-0.8zM204.9 495.8h0.8v0.8h-0.8zM207.6 486.4h0.8v0.8h-0.8zM207.0 490.1h0.8v0.8h-0.8zM207.6 488.1h0.8v0.8h-0.8zM207.5 501.2h0.8v0.8h-0.8zM208.1 492.2h0.8v0.8h-0.8zM206.2 496.8h0.8v0.8h-0.8zM205.7 499.7h0.8v0.8h-0.8zM201.4 472.9h0.8v0.8h-0.8zM211.7 499.2h0.8v0.8h-0.8zM205.5 483.3h0.8v0.8h-0.8zM201.4 487.7h0.8v0.8h-0.8zM204.5 485.7h0.8v0.8h-0.8zM207.2 485.6h0.8v0.8h-0.8zM201.1 489.6h0.8v0.8h-0.8zM205.7 489.2h0.8v0.8h-0.8zM202.8 472.0h0.8v0.8h-0.8zM207.4 476.0h0.8v0.8h-0.8zM207.3 478.1h0.8v0.8h-0.8zM208.3 473.6h0.8v0.8h-0.8zM205.8 481.5h0.8v0.8h-0.8zM205.4 493.6h0.8v0.8h-0.8zM205.8 499.1h0.8v0.8h-0.8zM204.8 494.8h0.8v0.8h-0.8zM197.2 486.7h0.8v0.8h-0.8zM200.2 500.5h0.8v0.8h-0.8zM209.4 494.9h0.8v0.8h-0.8zM201.6 495.9h0.8v0.8h-0.8zM209.1 492.1h0.8v0.8h-0.8zM214.7 488.0h0.8v0.8h-0.8zM203.8 492.6h0.8v0.8h-0.8zM205.2 499.1h0.8v0.8h-0.8zM206.3 478.9h0.8v0.8h-0.8zM210.2 501.2h0.8v0.8h-0.8zM207.4 498.2h0.8v0.8h-0.8zM201.1 492.7h0.8v0.8h-0.8zM202.6 489.4h0.8v0.8h-0.8zM214.4 497.0h0.8v0.8h-0.8zM201.1 475.8h0.8v0.8h-0.8zM207.4 500.0h0.8v0.8h-0.8zM213.2 480.0h0.8v0.8h-0.8zM206.4 482.8h0.8v0.8h-0.8zM200.3 495.2h0.8v0.8h-0.8zM205.9 496.5h0.8v0.8h-0.8zM205.8 502.4h0.8v0.8h-0.8zM211.1 496.9h0.8v0.8h-0.8zM203.8 495.4h0.8v0.8h-0.8zM203.7 486.9h0.8v0.8h-0.8zM201.6 483.7h0.8v0.8h-0.8zM210.0 489.8h0.8v0.8h-0.8zM200.9 485.9h0.8v0.8h-0.8zM207.7 477.5h0.8v0.8h-0.8zM205.5 490.0h0.8v0.8h-0.8zM203.1 482.9h0.8v0.8h-0.8zM207.7 499.2h0.8v0.8h-0.8zM207.0 472.6h0.8v0.8h-0.8zM206.3 487.1h0.8v0.8h-0.8zM205.0 483.3h0.8v0.8h-0.8zM197.3 488.5h0.8v0.8h-0.8zM206.2 472.3h0.8v0.8h-0.8zM202.8 493.0h0.8v0.8h-0.8zM203.1 482.5h0.8v0.8h-0.8zM206.5 478.3h0.8v0.8h-0.8zM202.0 499.7h0.8v0.8h-0.8zM213.1 477.6h0.8v0.8h-0.8zM201.8 480.0h0.8v0.8h-0.8zM199.5 482.2h0.8v0.8h-0.8zM204.7 503.8h0.8v0.8h-0.8zM205.7 480.8h0.8v0.8h-0.8zM202.6 483.0h0.8v0.8h-0.8zM204.1 493.7h0.8v0.8h-0.8zM203.1 490.8h0.8v0.8h-0.8zM199.2 488.4h0.8v0.8h-0.8zM203.0 495.9h0.8v0.8h-0.8zM210.1 487.0h0.8v0.8h-0.8zM204.8 494.8h0.8v0.8h-0.8zM207.5 497.4h0.8v0.8h-0.8zM208.1 503.0h0.8v0.8h-0.8zM204.5 483.9h0.8v0.8h-0.8zM207.5 491.2h0.8v0.8h-0.8zM201.9 493.5h0.8v0.8h-0.8zM201.4 488.3h0.8v0.8h-0.8zM202.9 492.4h0.8v0.8h-0.8zM205.3 479.8h0.8v0.8h-0.8zM195.9 490.5h0.8v0.8h-0.8zM205.9 500.5h0.8v0.8h-0.8zM207.2 478.9h0.8v0.8h-0.8zM204.6 483.6h0.8v0.8h-0.8zM203.3 494.6h0.8v0.8h-0.8zM202.7 499.1h0.8v0.8h-0.8zM208.6 493.5h0.8v0.8h-0.8zM206.1 492.8h0.8v0.8h-0.8zM203.1 477.0h0.8v0.8h-0.8zM204.5 480.4h0.8v0.8h-0.8zM205.3 481.8h0.8v0.8h-0.8zM209.0 476.9h0.8v0.8h-0.8zM202.3 484.4h0.8v0.8h-0.8zM204.0 484.3h0.8v0.8h-0.8zM206.5 503.8h0.8v0.8h-0.8zM199.8 492.0h0.8v0.8h-0.8zM204.5 490.5h0.8v0.8h-0.8zM209.8 477.0h0.8v0.8h-0.8zM199.5 489.2h0.8v0.8h-0.8zM200.2 492.4h0.8v0.8h-0.8zM203.1 492.6h0.8v0.8h-0.8zM206.7 481.9h0.8v0.8h-0.8zM207.1 498.3h0.8v0.8h-0.8zM209.2 479.9h0.8v0.8h-0.8zM205.8 500.1h0.8v0.8h-0.8zM203.0 503.8h0.8v0.8h-0.8zM198.4 476.5h0.8v0.8h-0.8zM205.9 484.8h0.8v0.8h-0.8zM208.1 496.6h0.8v0.8h-0.8zM207.9 481.6h0.8v0.8h-0.8zM210.8 476.0h0.8v0.8h-0.8zM213.9 474.9h0.8v0.8h-0.8zM210.5 499.8h0.8v0.8h-0.8zM206.2 503.8h0.8v0.8h-0.8zM199.7 486.6h0.8v0.8h-0.8zM204.3 492.2h0.8v0.8h-0.8zM211.8 491.4h0.8v0.8h-0.8zM207.6 487.7h0.8v0.8h-0.8zM205.0 486.7h0.8v0.8h-0.8zM207.6 484.5h0.8v0.8h-0.8zM204.4 490.7h0.8v0.8h-0.8zM206.5 477.1h0.8v0.8h-0.8zM207.8 490.4h0.8v0.8h-0.8zM208.1 503.8h0.8v0.8h-0.8zM204.6 501.2h0.8v0.8h-0.8z" fill="#6e6e6e"/>
<path d="M204.0 481.3h0.8v0.8h-0.8zM208.3 489.9h0.8v0.8h-0.8zM207.6 491.8h0.8v0.8h-0.8zM205.5 482.1h0.8v0.8h-0.8zM205.6 481.2h0.8v0.8h-0.8zM201.5 489.3h0.8v0.8h-0.8zM211.9 487.4h0.8v0.8h-0.8zM203.8 482.9h0.8v0.8h-0.8zM205.9 471.8h0.8v0.8h-0.8zM207.0 480.3h0.8v0.8h-0.8zM208.0 492.3h0.8v0.8h-0.8zM205.1 492.3h0.8v0.8h-0.8zM201.0 480.7h0.8v0.8h-0.8zM206.1 503.8h0.8v0.8h-0.8zM200.3 475.5h0.8v0.8h-0.8zM201.9 490.9h0.8v0.8h-0.8zM205.8 490.5h0.8v0.8h-0.8zM203.1 495.4h0.8v0.8h-0.8zM204.4 483.9h0.8v0.8h-0.8zM203.6 494.8h0.8v0.8h-0.8zM204.0 480.4h0.8v0.8h-0.8zM208.9 483.8h0.8v0.8h-0.8zM201.2 493.4h0.8v0.8h-0.8zM208.9 485.0h0.8v0.8h-0.8zM203.8 503.8h0.8v0.8h-0.8zM197.0 482.8h0.8v0.8h-0.8zM207.6 470.6h0.8v0.8h-0.8zM203.5 474.0h0.8v0.8h-0.8zM207.3 498.3h0.8v0.8h-0.8zM203.1 499.0h0.8v0.8h-0.8zM209.8 495.7h0.8v0.8h-0.8zM211.0 487.8h0.8v0.8h-0.8zM212.9 485.2h0.8v0.8h-0.8zM207.1 477.6h0.8v0.8h-0.8zM208.2 475.0h0.8v0.8h-0.8zM198.5 472.5h0.8v0.8h-0.8zM210.0 491.3h0.8v0.8h-0.8zM208.4 497.7h0.8v0.8h-0.8zM201.8 490.0h0.8v0.8h-0.8zM205.5 477.3h0.8v0.8h-0.8zM212.7 481.5h0.8v0.8h-0.8zM203.7 492.5h0.8v0.8h-0.8zM204.9 486.0h0.8v0.8h-0.8zM203.7 484.4h0.8v0.8h-0.8zM206.1 494.5h0.8v0.8h-0.8zM205.1 502.4h0.8v0.8h-0.8zM206.6 475.1h0.8v0.8h-0.8zM201.4 480.1h0.8v0.8h-0.8zM206.3 490.7h0.8v0.8h-0.8zM207.2 487.6h0.8v0.8h-0.8zM209.4 482.8h0.8v0.8h-0.8zM201.9 491.5h0.8v0.8h-0.8zM204.5 494.9h0.8v0.8h-0.8zM209.4 496.2h0.8v0.8h-0.8zM206.2 484.0h0.8v0.8h-0.8zM205.8 495.7h0.8v0.8h-0.8zM201.1 477.9h0.8v0.8h-0.8zM208.0 486.7h0.8v0.8h-0.8zM212.4 491.9h0.8v0.8h-0.8zM208.8 482.9h0.8v0.8h-0.8zM206.3 477.1h0.8v0.8h-0.8zM207.5 491.0h0.8v0.8h-0.8zM199.7 470.4h0.8v0.8h-0.8zM206.8 486.6h0.8v0.8h-0.8zM204.5 483.2h0.8v0.8h-0.8zM204.7 488.0h0.8v0.8h-0.8zM204.9 480.1h0.8v0.8h-0.8zM205.7 503.8h0.8v0.8h-0.8zM208.1 483.0h0.8v0.8h-0.8zM202.1 481.2h0.8v0.8h-0.8zM208.0 488.6h0.8v0.8h-0.8zM212.2 499.1h0.8v0.8h-0.8zM208.6 488.7h0.8v0.8h-0.8zM201.3 489.2h0.8v0.8h-0.8zM210.1 493.4h0.8v0.8h-0.8zM205.3 492.9h0.8v0.8h-0.8zM202.0 481.8h0.8v0.8h-0.8zM205.2 496.4h0.8v0.8h-0.8zM204.0 482.6h0.8v0.8h-0.8zM206.8 488.6h0.8v0.8h-0.8zM208.5 490.6h0.8v0.8h-0.8zM203.1 494.4h0.8v0.8h-0.8zM206.0 484.5h0.8v0.8h-0.8zM206.7 491.5h0.8v0.8h-0.8zM194.6 489.5h0.8v0.8h-0.8zM205.3 486.3h0.8v0.8h-0.8zM212.9 474.1h0.8v0.8h-0.8zM207.2 470.8h0.8v0.8h-0.8zM208.3 480.6h0.8v0.8h-0.8zM209.3 499.2h0.8v0.8h-0.8zM203.5 489.8h0.8v0.8h-0.8zM196.3 488.7h0.8v0.8h-0.8zM206.8 484.0h0.8v0.8h-0.8zM205.4 486.8h0.8v0.8h-0.8zM206.3 494.1h0.8v0.8h-0.8zM206.2 484.8h0.8v0.8h-0.8zM211.0 485.5h0.8v0.8h-0.8zM204.0 493.1h0.8v0.8h-0.8zM208.2 480.0h0.8v0.8h-0.8zM203.4 487.5h0.8v0.8h-0.8zM201.1 500.5h0.8v0.8h-0.8zM209.3 475.2h0.8v0.8h-0.8zM195.6 480.1h0.8v0.8h-0.8zM196.9 502.4h0.8v0.8h-0.8zM203.8 491.2h0.8v0.8h-0.8zM206.2 486.6h0.8v0.8h-0.8zM205.5 493.9h0.8v0.8h-0.8zM201.7 481.6h0.8v0.8h-0.8zM206.2 474.0h0.8v0.8h-0.8zM206.6 490.2h0.8v0.8h-0.8zM207.6 501.4h0.8v0.8h-0.8zM203.7 500.3h0.8v0.8h-0.8zM204.1 497.8h0.8v0.8h-0.8zM200.4 496.7h0.8v0.8h-0.8zM202.1 489.0h0.8v0.8h-0.8zM211.3 498.9h0.8v0.8h-0.8zM203.6 502.2h0.8v0.8h-0.8zM209.3 481.2h0.8v0.8h-0.8zM207.1 481.9h0.8v0.8h-0.8zM198.5 497.1h0.8v0.8h-0.8zM203.4 488.6h0.8v0.8h-0.8zM205.0 501.3h0.8v0.8h-0.8zM205.4 492.6h0.8v0.8h-0.8zM209.4 497.0h0.8v0.8h-0.8zM201.3 483.4h0.8v0.8h-0.8zM205.2 488.4h0.8v0.8h-0.8zM200.9 482.1h0.8v0.8h-0.8zM204.4 494.3h0.8v0.8h-0.8zM199.5 483.7h0.8v0.8h-0.8zM203.5 494.5h0.8v0.8h-0.8zM203.7 503.8h0.8v0.8h-0.8zM207.3 498.6h0.8v0.8h-0.8zM207.7 481.7h0.8v0.8h-0.8zM203.4 489.5h0.8v0.8h-0.8zM209.4 477.4h0.8v0.8h-0.8zM200.9 478.3h0.8v0.8h-0.8zM200.0 486.8h0.8v0.8h-0.8zM204.6 484.6h0.8v0.8h-0.8zM208.9 485.9h0.8v0.8h-0.8zM203.4 499.4h0.8v0.8h-0.8zM205.3 482.8h0.8v0.8h-0.8zM203.7 491.7h0.8v0.8h-0.8zM206.9 491.1h0.8v0.8h-0.8zM204.4 495.5h0.8v0.8h-0.8zM203.6 501.7h0.8v0.8h-0.8zM202.6 482.4h0.8v0.8h-0.8zM211.1 496.7h0.8v0.8h-0.8zM206.2 480.0h0.8v0.8h-0.8zM202.6 497.5h0.8v0.8h-0.8zM207.4 490.1h0.8v0.8h-0.8zM205.5 486.4h0.8v0.8h-0.8zM207.6 487.6h0.8v0.8h-0.8zM200.4 503.8h0.8v0.8h-0.8zM208.6 498.6h0.8v0.8h-0.8zM207.1 498.5h0.8v0.8h-0.8zM206.2 486.2h0.8v0.8h-0.8zM205.2 503.8h0.8v0.8h-0.8zM205.0 492.8h0.8v0.8h-0.8zM205.3 502.7h0.8v0.8h-0.8zM201.6 481.5h0.8v0.8h-0.8zM203.2 476.4h0.8v0.8h-0.8zM206.2 490.1h0.8v0.8h-0.8zM206.8 491.2h0.8v0.8h-0.8zM206.3 503.6h0.8v0.8h-0.8zM205.7 489.2h0.8v0.8h-0.8zM202.8 481.2h0.8v0.8h-0.8zM202.1 477.3h0.8v0.8h-0.8zM202.1 488.5h0.8v0.8h-0.8zM208.3 496.2h0.8v0.8h-0.8zM203.2 503.8h0.8v0.8h-0.8zM202.5 476.9h0.8v0.8h-0.8zM197.7 488.2h0.8v0.8h-0.8zM204.1 496.7h0.8v0.8h-0.8zM206.4 490.2h0.8v0.8h-0.8zM202.5 493.3h0.8v0.8h-0.8zM203.0 473.6h0.8v0.8h-0.8zM200.5 490.5h0.8v0.8h-0.8zM195.0 486.0h0.8v0.8h-0.8zM212.9 499.0h0.8v0.8h-0.8zM199.6 485.0h0.8v0.8h-0.8zM201.8 503.5h0.8v0.8h-0.8zM203.5 471.5h0.8v0.8h-0.8zM201.5 489.6h0.8v0.8h-0.8zM211.7 503.8h0.8v0.8h-0.8zM211.1 481.8h0.8v0.8h-0.8zM200.5 482.3h0.8v0.8h-0.8zM200.9 495.6h0.8v0.8h-0.8zM204.4 503.8h0.8v0.8h-0.8zM206.2 489.9h0.8v0.8h-0.8zM205.3 491.4h0.8v0.8h-0.8zM203.4 503.8h0.8v0.8h-0.8zM205.1 475.4h0.8v0.8h-0.8zM202.4 486.2h0.8v0.8h-0.8zM197.1 480.1h0.8v0.8h-0.8zM212.6 472.4h0.8v0.8h-0.8zM209.4 494.6h0.8v0.8h-0.8zM203.3 479.1h0.8v0.8h-0.8zM207.2 492.6h0.8v0.8h-0.8zM207.3 489.3h0.8v0.8h-0.8zM205.2 477.8h0.8v0.8h-0.8zM205.7 484.6h0.8v0.8h-0.8zM208.4 487.7h0.8v0.8h-0.8zM198.9 484.6h0.8v0.8h-0.8zM201.0 476.3h0.8v0.8h-0.8zM206.2 483.5h0.8v0.8h-0.8zM204.2 488.3h0.8v0.8h-0.8zM208.7 483.7h0.8v0.8h-0.8zM199.6 484.6h0.8v0.8h-0.8zM206.8 482.4h0.8v0.8h-0.8zM205.9 480.9h0.8v0.8h-0.8zM207.5 490.2h0.8v0.8h-0.8zM202.1 490.4h0.8v0.8h-0.8zM203.5 485.7h0.8v0.8h-0.8zM212.4 495.8h0.8v0.8h-0.8zM211.6 481.4h0.8v0.8h-0.8zM209.3 484.4h0.8v0.8h-0.8zM204.9 498.9h0.8v0.8h-0.8zM204.7 497.5h0.8v0.8h-0.8zM204.3 484.8h0.8v0.8h-0.8zM203.6 489.1h0.8v0.8h-0.8zM202.2 499.0h0.8v0.8h-0.8zM206.9 491.9h0.8v0.8h-0.8zM203.2 493.9h0.8v0.8h-0.8zM202.2 488.5h0.8v0.8h-0.8zM212.3 491.5h0.8v0.8h-0.8zM203.3 488.0h0.8v0.8h-0.8zM206.2 484.8h0.8v0.8h-0.8zM209.2 488.8h0.8v0.8h-0.8zM210.4 492.8h0.8v0.8h-0.8zM208.0 490.8h0.8v0.8h-0.8zM206.7 497.7h0.8v0.8h-0.8zM201.4 490.8h0.8v0.8h-0.8zM208.8 503.8h0.8v0.8h-0.8zM206.7 499.7h0.8v0.8h-0.8zM201.5 500.7h0.8v0.8h-0.8zM208.6 489.9h0.8v0.8h-0.8zM204.0 478.7h0.8v0.8h-0.8zM203.7 474.0h0.8v0.8h-0.8zM205.1 483.1h0.8v0.8h-0.8zM203.6 483.3h0.8v0.8h-0.8zM207.4 478.1h0.8v0.8h-0.8zM202.8 479.1h0.8v0.8h-0.8zM205.5 481.5h0.8v0.8h-0.8zM205.8 475.9h0.8v0.8h-0.8zM210.5 476.4h0.8v0.8h-0.8zM210.1 470.5h0.8v0.8h-0.8zM202.1 494.8h0.8v0.8h-0.8zM206.3 471.3h0.8v0.8h-0.8zM205.8 495.0h0.8v0.8h-0.8zM199.0 496.4h0.8v0.8h-0.8zM205.9 487.9h0.8v0.8h-0.8zM210.6 494.5h0.8v0.8h-0.8zM205.1 489.2h0.8v0.8h-0.8zM204.8 488.3h0.8v0.8h-0.8zM210.9 483.2h0.8v0.8h-0.8zM206.5 486.7h0.8v0.8h-0.8zM209.0 481.2h0.8v0.8h-0.8zM200.3 486.0h0.8v0.8h-0.8zM200.1 491.2h0.8v0.8h-0.8zM203.2 494.7h0.8v0.8h-0.8zM205.6 487.2h0.8v0.8h-0.8zM207.8 500.1h0.8v0.8h-0.8zM199.4 479.6h0.8v0.8h-0.8zM202.7 503.2h0.8v0.8h-0.8zM206.1 489.1h0.8v0.8h-0.8zM201.9 487.9h0.8v0.8h-0.8zM206.8 487.7h0.8v0.8h-0.8zM201.1 496.1h0.8v0.8h-0.8zM210.0 495.2h0.8v0.8h-0.8zM199.6 496.7h0.8v0.8h-0.8zM206.6 493.9h0.8v0.8h-0.8zM203.6 479.3h0.8v0.8h-0.8zM205.4 498.4h0.8v0.8h-0.8zM202.5 496.7h0.8v0.8h-0.8zM200.6 461.1h0.8v0.8h-0.8zM208.3 500.0h0.8v0.8h-0.8zM205.5 483.7h0.8v0.8h-0.8zM202.2 478.0h0.8v0.8h-0.8zM204.1 485.9h0.8v0.8h-0.8zM207.3 479.7h0.8v0.8h-0.8zM203.5 490.9h0.8v0.8h-0.8zM202.8 502.7h0.8v0.8h-0.8zM199.3 483.5h0.8v0.8h-0.8zM203.1 483.8h0.8v0.8h-0.8zM206.0 501.1h0.8v0.8h-0.8zM201.1 491.6h0.8v0.8h-0.8zM206.3 502.4h0.8v0.8h-0.8zM209.4 499.3h0.8v0.8h-0.8zM204.7 496.1h0.8v0.8h-0.8zM206.9 481.4h0.8v0.8h-0.8zM212.5 487.0h0.8v0.8h-0.8zM205.6 493.9h0.8v0.8h-0.8zM207.3 491.1h0.8v0.8h-0.8zM204.5 483.1h0.8v0.8h-0.8zM206.0 497.1h0.8v0.8h-0.8zM207.2 495.6h0.8v0.8h-0.8zM203.4 498.4h0.8v0.8h-0.8zM204.0 488.6h0.8v0.8h-0.8zM207.7 479.6h0.8v0.8h-0.8zM203.3 500.4h0.8v0.8h-0.8zM202.1 482.9h0.8v0.8h-0.8zM206.2 492.6h0.8v0.8h-0.8zM206.8 486.3h0.8v0.8h-0.8zM205.2 497.4h0.8v0.8h-0.8zM208.8 475.5h0.8v0.8h-0.8zM209.9 488.2h0.8v0.8h-0.8zM208.5 475.5h0.8v0.8h-0.8zM203.1 483.3h0.8v0.8h-0.8zM210.7 497.9h0.8v0.8h-0.8zM210.9 487.9h0.8v0.8h-0.8zM207.3 486.2h0.8v0.8h-0.8zM206.2 498.0h0.8v0.8h-0.8z" fill="#a0a0a0"/>
<path d="M210.4 477.8h0.8v0.8h-0.8zM202.0 482.6h0.8v0.8h-0.8zM205.8 495.4h0.8v0.8h-0.8zM209.8 488.1h0.8v0.8h-0.8zM201.9 476.5h0.8v0.8h-0.8zM205.6 492.6h0.8v0.8h-0.8zM204.8 485.4h0.8v0.8h-0.8zM202.4 495.2h0.8v0.8h-0.8zM198.9 476.4h0.8v0.8h-0.8zM196.5 487.7h0.8v0.8h-0.8zM204.3 502.7h0.8v0.8h-0.8zM195.7 500.6h0.8v0.8h-0.8zM210.9 484.5h0.8v0.8h-0.8zM205.7 481.8h0.8v0.8h-0.8zM198.9 492.4h0.8v0.8h-0.8zM210.1 489.4h0.8v0.8h-0.8zM222.0 502.3h0.8v0.8h-0.8zM207.8 486.9h0.8v0.8h-0.8zM207.2 495.3h0.8v0.8h-0.8zM221.9 493.8h0.8v0.8h-0.8zM203.7 490.8h0.8v0.8h-0.8zM198.8 503.8h0.8v0.8h-0.8zM203.5 482.2h0.8v0.8h-0.8zM205.4 474.2h0.8v0.8h-0.8zM203.0 486.4h0.8v0.8h-0.8zM193.1 484.8h0.8v0.8h-0.8zM204.4 491.6h0.8v0.8h-0.8zM205.8 501.4h0.8v0.8h-0.8zM207.5 476.9h0.8v0.8h-0.8zM209.9 490.7h0.8v0.8h-0.8zM205.6 500.0h0.8v0.8h-0.8zM204.1 473.7h0.8v0.8h-0.8zM204.5 496.9h0.8v0.8h-0.8zM197.7 496.4h0.8v0.8h-0.8zM200.8 502.2h0.8v0.8h-0.8zM202.3 490.7h0.8v0.8h-0.8zM210.2 478.9h0.8v0.8h-0.8zM222.6 490.5h0.8v0.8h-0.8zM205.8 478.6h0.8v0.8h-0.8zM203.7 482.8h0.8v0.8h-0.8zM209.0 488.4h0.8v0.8h-0.8zM202.0 484.9h0.8v0.8h-0.8zM200.7 479.0h0.8v0.8h-0.8zM210.5 479.1h0.8v0.8h-0.8zM214.7 491.5h0.8v0.8h-0.8zM205.0 503.8h0.8v0.8h-0.8zM218.6 485.8h0.8v0.8h-0.8zM207.5 482.4h0.8v0.8h-0.8zM199.3 470.9h0.8v0.8h-0.8zM212.1 493.1h0.8v0.8h-0.8zM203.4 503.8h0.8v0.8h-0.8zM203.1 484.7h0.8v0.8h-0.8zM212.0 484.5h0.8v0.8h-0.8zM207.9 490.9h0.8v0.8h-0.8zM209.6 488.2h0.8v0.8h-0.8zM217.3 490.0h0.8v0.8h-0.8zM208.1 491.0h0.8v0.8h-0.8zM211.9 489.8h0.8v0.8h-0.8zM199.5 503.8h0.8v0.8h-0.8zM206.3 484.9h0.8v0.8h-0.8zM209.9 500.5h0.8v0.8h-0.8zM197.7 499.6h0.8v0.8h-0.8zM204.1 492.1h0.8v0.8h-0.8zM205.9 490.0h0.8v0.8h-0.8zM211.1 491.9h0.8v0.8h-0.8zM209.0 497.1h0.8v0.8h-0.8zM187.5 496.8h0.8v0.8h-0.8zM202.9 498.4h0.8v0.8h-0.8zM203.4 486.1h0.8v0.8h-0.8zM206.7 496.0h0.8v0.8h-0.8zM198.0 488.2h0.8v0.8h-0.8zM198.9 488.5h0.8v0.8h-0.8zM214.8 484.0h0.8v0.8h-0.8zM204.1 502.2h0.8v0.8h-0.8zM205.2 503.8h0.8v0.8h-0.8zM210.5 472.9h0.8v0.8h-0.8zM208.9 498.8h0.8v0.8h-0.8zM199.2 484.8h0.8v0.8h-0.8zM201.4 485.5h0.8v0.8h-0.8zM201.1 497.7h0.8v0.8h-0.8zM203.9 481.5h0.8v0.8h-0.8zM214.2 477.2h0.8v0.8h-0.8zM207.4 503.8h0.8v0.8h-0.8zM206.4 491.8h0.8v0.8h-0.8zM212.7 490.4h0.8v0.8h-0.8z" fill="#b8b8b8"/>
<path d="M200.8 497.2h0.8v0.8h-0.8zM211.8 494.1h0.8v0.8h-0.8zM207.8 486.5h0.8v0.8h-0.8zM206.2 487.2h0.8v0.8h-0.8zM202.6 484.5h0.8v0.8h-0.8zM195.2 481.9h0.8v0.8h-0.8zM208.8 471.3h0.8v0.8h-0.8zM208.7 489.6h0.8v0.8h-0.8zM207.7 503.8h0.8v0.8h-0.8zM206.9 481.3h0.8v0.8h-0.8zM209.2 482.1h0.8v0.8h-0.8zM199.8 477.6h0.8v0.8h-0.8zM211.9 469.2h0.8v0.8h-0.8zM212.0 471.5h0.8v0.8h-0.8zM208.3 485.4h0.8v0.8h-0.8zM203.1 490.5h0.8v0.8h-0.8zM220.7 490.6h0.8v0.8h-0.8zM204.7 500.3h0.8v0.8h-0.8zM195.6 476.5h0.8v0.8h-0.8zM217.0 477.4h0.8v0.8h-0.8zM202.7 491.5h0.8v0.8h-0.8zM205.5 493.1h0.8v0.8h-0.8zM203.3 479.3h0.8v0.8h-0.8zM197.2 474.0h0.8v0.8h-0.8zM216.5 478.8h0.8v0.8h-0.8zM207.0 489.7h0.8v0.8h-0.8zM197.3 501.7h0.8v0.8h-0.8zM208.6 497.7h0.8v0.8h-0.8zM197.3 489.8h0.8v0.8h-0.8zM207.4 482.5h0.8v0.8h-0.8zM201.6 499.7h0.8v0.8h-0.8zM211.6 474.0h0.8v0.8h-0.8zM197.2 481.4h0.8v0.8h-0.8zM209.0 477.5h0.8v0.8h-0.8zM216.4 498.9h0.8v0.8h-0.8zM212.7 480.2h0.8v0.8h-0.8zM205.8 482.8h0.8v0.8h-0.8zM210.7 495.8h0.8v0.8h-0.8zM207.0 477.9h0.8v0.8h-0.8zM202.3 499.4h0.8v0.8h-0.8zM213.5 479.5h0.8v0.8h-0.8zM198.4 475.8h0.8v0.8h-0.8zM200.9 503.8h0.8v0.8h-0.8zM196.8 481.7h0.8v0.8h-0.8zM206.8 470.8h0.8v0.8h-0.8zM208.6 481.4h0.8v0.8h-0.8zM205.4 496.8h0.8v0.8h-0.8zM208.8 498.3h0.8v0.8h-0.8zM201.2 488.4h0.8v0.8h-0.8zM206.1 477.3h0.8v0.8h-0.8zM207.4 501.8h0.8v0.8h-0.8zM198.2 492.7h0.8v0.8h-0.8zM204.1 480.7h0.8v0.8h-0.8zM201.9 493.0h0.8v0.8h-0.8zM210.9 497.6h0.8v0.8h-0.8zM196.6 484.8h0.8v0.8h-0.8zM206.2 472.8h0.8v0.8h-0.8zM193.3 496.2h0.8v0.8h-0.8zM195.3 498.9h0.8v0.8h-0.8zM205.6 492.4h0.8v0.8h-0.8zM204.8 503.3h0.8v0.8h-0.8zM204.1 470.3h0.8v0.8h-0.8zM204.4 503.8h0.8v0.8h-0.8zM209.2 475.9h0.8v0.8h-0.8zM211.0 487.8h0.8v0.8h-0.8zM214.0 482.6h0.8v0.8h-0.8zM195.5 496.3h0.8v0.8h-0.8zM197.7 503.8h0.8v0.8h-0.8zM201.1 491.1h0.8v0.8h-0.8zM207.2 492.9h0.8v0.8h-0.8zM203.7 490.3h0.8v0.8h-0.8zM204.3 468.6h0.8v0.8h-0.8zM202.7 503.8h0.8v0.8h-0.8zM208.9 503.8h0.8v0.8h-0.8zM202.7 479.4h0.8v0.8h-0.8zM200.8 495.2h0.8v0.8h-0.8zM202.8 501.1h0.8v0.8h-0.8zM208.8 475.2h0.8v0.8h-0.8zM199.1 501.4h0.8v0.8h-0.8zM202.9 487.0h0.8v0.8h-0.8zM199.2 497.8h0.8v0.8h-0.8zM202.7 490.8h0.8v0.8h-0.8zM211.1 498.1h0.8v0.8h-0.8zM207.7 486.0h0.8v0.8h-0.8zM212.7 497.1h0.8v0.8h-0.8zM204.4 480.1h0.8v0.8h-0.8zM204.2 496.3h0.8v0.8h-0.8zM194.1 488.3h0.8v0.8h-0.8zM212.3 469.4h0.8v0.8h-0.8zM204.1 498.7h0.8v0.8h-0.8zM205.3 488.5h0.8v0.8h-0.8zM216.6 477.4h0.8v0.8h-0.8zM203.1 498.1h0.8v0.8h-0.8zM213.7 503.8h0.8v0.8h-0.8zM220.4 500.6h0.8v0.8h-0.8zM202.7 501.2h0.8v0.8h-0.8zM198.1 503.8h0.8v0.8h-0.8zM208.8 491.8h0.8v0.8h-0.8zM202.9 491.2h0.8v0.8h-0.8zM207.3 496.2h0.8v0.8h-0.8zM198.8 482.4h0.8v0.8h-0.8zM198.7 482.1h0.8v0.8h-0.8zM205.6 503.8h0.8v0.8h-0.8zM202.8 480.3h0.8v0.8h-0.8zM201.4 490.4h0.8v0.8h-0.8z" fill="#8a8a8a"/>
<path d="M201.0 503.8h0.8v0.8h-0.8zM206.5 483.4h0.8v0.8h-0.8zM198.1 503.8h0.8v0.8h-0.8zM195.4 500.2h0.8v0.8h-0.8zM216.3 474.4h0.8v0.8h-0.8zM197.1 486.8h0.8v0.8h-0.8zM203.5 493.2h0.8v0.8h-0.8zM195.9 479.7h0.8v0.8h-0.8zM215.9 487.4h0.8v0.8h-0.8zM207.1 477.5h0.8v0.8h-0.8zM205.2 485.2h0.8v0.8h-0.8zM205.6 500.1h0.8v0.8h-0.8zM211.7 497.8h0.8v0.8h-0.8zM218.6 488.4h0.8v0.8h-0.8zM210.1 483.1h0.8v0.8h-0.8zM210.2 489.2h0.8v0.8h-0.8zM191.4 482.9h0.8v0.8h-0.8zM205.3 489.3h0.8v0.8h-0.8zM211.0 487.6h0.8v0.8h-0.8zM207.2 503.8h0.8v0.8h-0.8zM210.6 475.1h0.8v0.8h-0.8zM203.6 498.3h0.8v0.8h-0.8zM203.6 492.9h0.8v0.8h-0.8zM208.0 490.3h0.8v0.8h-0.8zM200.6 489.2h0.8v0.8h-0.8zM200.8 488.0h0.8v0.8h-0.8zM197.6 489.0h0.8v0.8h-0.8zM204.6 471.9h0.8v0.8h-0.8zM205.7 478.0h0.8v0.8h-0.8zM213.7 482.5h0.8v0.8h-0.8zM189.9 488.7h0.8v0.8h-0.8zM200.1 480.9h0.8v0.8h-0.8zM217.7 493.7h0.8v0.8h-0.8zM207.6 474.2h0.8v0.8h-0.8zM199.6 498.1h0.8v0.8h-0.8zM212.0 488.1h0.8v0.8h-0.8zM205.8 488.1h0.8v0.8h-0.8zM197.0 493.3h0.8v0.8h-0.8zM211.9 490.7h0.8v0.8h-0.8zM203.9 487.0h0.8v0.8h-0.8zM216.4 503.8h0.8v0.8h-0.8zM206.5 468.6h0.8v0.8h-0.8zM213.2 492.8h0.8v0.8h-0.8zM203.8 501.1h0.8v0.8h-0.8zM199.3 503.8h0.8v0.8h-0.8zM201.5 492.5h0.8v0.8h-0.8zM204.9 484.1h0.8v0.8h-0.8zM211.9 495.7h0.8v0.8h-0.8zM204.5 499.6h0.8v0.8h-0.8zM214.6 503.8h0.8v0.8h-0.8zM206.5 473.8h0.8v0.8h-0.8zM214.0 484.0h0.8v0.8h-0.8zM201.7 501.7h0.8v0.8h-0.8zM207.5 487.4h0.8v0.8h-0.8zM206.0 472.1h0.8v0.8h-0.8zM201.0 489.4h0.8v0.8h-0.8zM201.1 483.3h0.8v0.8h-0.8zM211.5 495.6h0.8v0.8h-0.8zM210.9 496.6h0.8v0.8h-0.8zM197.7 495.3h0.8v0.8h-0.8zM194.4 490.0h0.8v0.8h-0.8zM212.2 485.8h0.8v0.8h-0.8zM202.9 494.9h0.8v0.8h-0.8zM222.4 503.8h0.8v0.8h-0.8zM207.5 488.1h0.8v0.8h-0.8zM209.4 473.1h0.8v0.8h-0.8zM198.6 501.0h0.8v0.8h-0.8zM199.8 491.6h0.8v0.8h-0.8zM201.6 500.9h0.8v0.8h-0.8zM205.6 493.9h0.8v0.8h-0.8zM208.7 484.7h0.8v0.8h-0.8zM201.2 491.1h0.8v0.8h-0.8zM204.1 481.6h0.8v0.8h-0.8zM219.6 502.7h0.8v0.8h-0.8zM198.4 483.3h0.8v0.8h-0.8zM198.6 485.1h0.8v0.8h-0.8zM201.3 495.1h0.8v0.8h-0.8zM211.9 474.7h0.8v0.8h-0.8zM200.0 503.8h0.8v0.8h-0.8zM219.9 480.1h0.8v0.8h-0.8zM206.3 502.4h0.8v0.8h-0.8zM205.7 479.7h0.8v0.8h-0.8zM203.7 493.4h0.8v0.8h-0.8zM193.8 497.0h0.8v0.8h-0.8zM205.0 480.3h0.8v0.8h-0.8zM205.9 503.3h0.8v0.8h-0.8zM209.6 490.0h0.8v0.8h-0.8zM201.4 479.5h0.8v0.8h-0.8zM205.6 499.1h0.8v0.8h-0.8zM209.3 498.7h0.8v0.8h-0.8zM205.3 487.3h0.8v0.8h-0.8zM204.4 494.6h0.8v0.8h-0.8zM212.9 500.0h0.8v0.8h-0.8zM204.9 499.0h0.8v0.8h-0.8zM197.9 490.1h0.8v0.8h-0.8z" fill="#a4a4a4"/>
<path d="M205.1 456.1h0.8v0.8h-0.8zM205.8 453.3h0.8v0.8h-0.8zM206.8 455.0h0.8v0.8h-0.8zM203.9 455.2h0.8v0.8h-0.8zM204.7 455.3h0.8v0.8h-0.8zM206.9 457.1h0.8v0.8h-0.8zM202.4 453.6h0.8v0.8h-0.8zM203.5 456.1h0.8v0.8h-0.8zM208.1 454.8h0.8v0.8h-0.8zM203.7 458.3h0.8v0.8h-0.8zM204.3 458.0h0.8v0.8h-0.8zM205.7 455.4h0.8v0.8h-0.8zM203.5 456.6h0.8v0.8h-0.8zM202.0 455.0h0.8v0.8h-0.8zM205.8 456.4h0.8v0.8h-0.8zM204.1 458.8h0.8v0.8h-0.8zM207.0 453.3h0.8v0.8h-0.8zM201.1 457.9h0.8v0.8h-0.8zM205.8 456.4h0.8v0.8h-0.8zM208.3 457.7h0.8v0.8h-0.8zM203.2 455.6h0.8v0.8h-0.8zM205.0 452.7h0.8v0.8h-0.8zM206.5 451.3h0.8v0.8h-0.8zM205.7 454.6h0.8v0.8h-0.8zM205.3 451.2h0.8v0.8h-0.8zM205.8 455.3h0.8v0.8h-0.8zM206.2 457.5h0.8v0.8h-0.8zM201.8 456.2h0.8v0.8h-0.8z" fill="#6a6a6a"/>
<path d="M206.5 456.5h0.8v0.8h-0.8zM202.0 458.2h0.8v0.8h-0.8zM203.2 457.3h0.8v0.8h-0.8zM201.6 461.3h0.8v0.8h-0.8zM201.9 453.2h0.8v0.8h-0.8zM203.6 455.9h0.8v0.8h-0.8zM203.3 455.4h0.8v0.8h-0.8zM199.8 455.5h0.8v0.8h-0.8zM203.3 457.7h0.8v0.8h-0.8zM204.2 455.1h0.8v0.8h-0.8zM209.2 453.6h0.8v0.8h-0.8zM203.2 459.2h0.8v0.8h-0.8zM201.4 458.6h0.8v0.8h-0.8zM203.6 454.8h0.8v0.8h-0.8zM204.8 456.6h0.8v0.8h-0.8zM202.1 456.8h0.8v0.8h-0.8zM205.1 459.5h0.8v0.8h-0.8zM213.0 460.6h0.8v0.8h-0.8zM202.4 457.8h0.8v0.8h-0.8zM207.5 460.3h0.8v0.8h-0.8zM201.4 457.0h0.8v0.8h-0.8zM206.8 454.3h0.8v0.8h-0.8zM201.1 456.5h0.8v0.8h-0.8zM201.7 460.8h0.8v0.8h-0.8zM203.9 458.0h0.8v0.8h-0.8zM204.1 459.2h0.8v0.8h-0.8zM203.4 457.8h0.8v0.8h-0.8zM205.6 454.1h0.8v0.8h-0.8zM197.6 452.4h0.8v0.8h-0.8zM202.6 452.6h0.8v0.8h-0.8zM205.6 455.4h0.8v0.8h-0.8zM205.4 458.8h0.8v0.8h-0.8zM205.1 457.8h0.8v0.8h-0.8zM207.4 452.8h0.8v0.8h-0.8zM207.5 459.1h0.8v0.8h-0.8z" fill="#888"/>
<path d="M205.6 453.4h0.8v0.8h-0.8zM207.7 454.0h0.8v0.8h-0.8zM204.3 459.6h0.8v0.8h-0.8zM204.9 454.8h0.8v0.8h-0.8zM203.0 461.9h0.8v0.8h-0.8zM206.5 453.2h0.8v0.8h-0.8zM203.1 454.0h0.8v0.8h-0.8zM201.2 459.1h0.8v0.8h-0.8zM203.7 454.0h0.8v0.8h-0.8zM203.0 457.0h0.8v0.8h-0.8zM208.3 458.8h0.8v0.8h-0.8zM204.8 461.0h0.8v0.8h-0.8zM205.9 456.9h0.8v0.8h-0.8zM202.7 460.9h0.8v0.8h-0.8zM207.1 457.9h0.8v0.8h-0.8zM207.6 454.2h0.8v0.8h-0.8zM200.5 459.5h0.8v0.8h-0.8zM207.9 458.8h0.8v0.8h-0.8zM205.5 451.6h0.8v0.8h-0.8zM204.3 458.8h0.8v0.8h-0.8zM206.1 456.0h0.8v0.8h-0.8zM205.2 457.8h0.8v0.8h-0.8zM201.7 456.1h0.8v0.8h-0.8zM206.9 457.0h0.8v0.8h-0.8zM203.8 457.7h0.8v0.8h-0.8zM207.5 454.4h0.8v0.8h-0.8zM202.8 455.8h0.8v0.8h-0.8z" fill="#a8a8a8"/>
<path d="M165.9 475.8h0.8v0.8h-0.8zM157.4 474.7h0.8v0.8h-0.8zM153.3 487.6h0.8v0.8h-0.8zM157.9 475.1h0.8v0.8h-0.8zM174.5 493.2h0.8v0.8h-0.8zM156.9 499.7h0.8v0.8h-0.8zM172.5 473.2h0.8v0.8h-0.8zM163.6 497.0h0.8v0.8h-0.8zM169.7 499.7h0.8v0.8h-0.8zM177.3 501.4h0.8v0.8h-0.8zM160.8 495.1h0.8v0.8h-0.8zM169.5 475.5h0.8v0.8h-0.8zM160.5 488.2h0.8v0.8h-0.8zM153.4 493.4h0.8v0.8h-0.8zM176.8 492.5h0.8v0.8h-0.8zM169.3 480.3h0.8v0.8h-0.8zM175.7 477.4h0.8v0.8h-0.8zM179.5 476.1h0.8v0.8h-0.8zM179.4 488.2h0.8v0.8h-0.8zM153.9 485.7h0.8v0.8h-0.8zM158.2 488.5h0.8v0.8h-0.8zM170.1 472.8h0.8v0.8h-0.8zM166.3 495.3h0.8v0.8h-0.8zM172.3 497.2h0.8v0.8h-0.8zM158.0 495.4h0.8v0.8h-0.8z" fill="#a4a4a4"/>
<path d="M157.2 482.3h0.8v0.8h-0.8zM168.6 472.9h0.8v0.8h-0.8zM173.6 490.0h0.8v0.8h-0.8zM171.7 483.1h0.8v0.8h-0.8zM161.2 476.9h0.8v0.8h-0.8zM160.6 479.0h0.8v0.8h-0.8zM166.2 496.4h0.8v0.8h-0.8zM149.9 476.8h0.8v0.8h-0.8zM155.2 476.8h0.8v0.8h-0.8zM166.1 485.2h0.8v0.8h-0.8zM155.3 478.1h0.8v0.8h-0.8zM155.7 485.7h0.8v0.8h-0.8zM161.5 501.5h0.8v0.8h-0.8zM154.7 489.5h0.8v0.8h-0.8zM155.5 497.0h0.8v0.8h-0.8zM158.1 478.6h0.8v0.8h-0.8zM159.2 488.7h0.8v0.8h-0.8zM174.4 483.7h0.8v0.8h-0.8zM160.5 491.8h0.8v0.8h-0.8zM162.5 495.0h0.8v0.8h-0.8zM157.4 496.4h0.8v0.8h-0.8zM165.0 484.0h0.8v0.8h-0.8zM150.2 496.9h0.8v0.8h-0.8z" fill="#b8b8b8"/>
<path d="M151.0 476.4h0.8v0.8h-0.8zM166.5 474.2h0.8v0.8h-0.8zM171.4 490.3h0.8v0.8h-0.8zM175.2 479.0h0.8v0.8h-0.8zM158.2 485.9h0.8v0.8h-0.8zM170.3 487.8h0.8v0.8h-0.8zM179.6 499.6h0.8v0.8h-0.8zM174.5 491.3h0.8v0.8h-0.8zM155.2 486.0h0.8v0.8h-0.8zM181.4 501.4h0.8v0.8h-0.8zM168.9 501.4h0.8v0.8h-0.8zM152.6 472.8h0.8v0.8h-0.8zM155.6 489.6h0.8v0.8h-0.8zM179.7 499.8h0.8v0.8h-0.8zM160.9 488.1h0.8v0.8h-0.8zM157.0 480.7h0.8v0.8h-0.8zM154.0 496.6h0.8v0.8h-0.8zM163.2 485.9h0.8v0.8h-0.8zM168.7 491.6h0.8v0.8h-0.8zM156.1 493.3h0.8v0.8h-0.8zM171.4 496.6h0.8v0.8h-0.8zM170.2 478.2h0.8v0.8h-0.8zM176.6 486.2h0.8v0.8h-0.8zM152.2 494.4h0.8v0.8h-0.8zM181.2 494.8h0.8v0.8h-0.8zM166.6 489.5h0.8v0.8h-0.8zM169.0 500.9h0.8v0.8h-0.8z" fill="#8a8a8a"/>
<path d="M226.4 504.6h0.8v0.8h-0.8zM201.9 504.3h0.8v0.8h-0.8zM229.0 504.4h0.8v0.8h-0.8zM157.2 504.9h0.8v0.8h-0.8zM217.0 505.0h0.8v0.8h-0.8zM227.3 504.1h0.8v0.8h-0.8zM155.2 504.6h0.8v0.8h-0.8zM237.0 504.0h0.8v0.8h-0.8zM184.7 505.0h0.8v0.8h-0.8zM201.4 505.0h0.8v0.8h-0.8zM156.9 504.3h0.8v0.8h-0.8zM156.3 504.8h0.8v0.8h-0.8zM168.5 504.9h0.8v0.8h-0.8zM186.6 504.9h0.8v0.8h-0.8zM205.7 504.2h0.8v0.8h-0.8zM190.6 504.2h0.8v0.8h-0.8zM210.0 504.1h0.8v0.8h-0.8zM184.2 504.8h0.8v0.8h-0.8zM205.4 504.2h0.8v0.8h-0.8zM217.8 505.0h0.8v0.8h-0.8zM217.1 505.0h0.8v0.8h-0.8zM188.0 504.2h0.8v0.8h-0.8zM202.6 504.1h0.8v0.8h-0.8zM185.9 504.5h0.8v0.8h-0.8zM159.0 504.1h0.8v0.8h-0.8zM162.2 504.9h0.8v0.8h-0.8zM171.5 504.2h0.8v0.8h-0.8zM226.3 504.5h0.8v0.8h-0.8zM180.4 504.1h0.8v0.8h-0.8zM161.9 505.1h0.8v0.8h-0.8zM164.9 504.9h0.8v0.8h-0.8zM237.2 504.7h0.8v0.8h-0.8zM169.7 504.1h0.8v0.8h-0.8zM228.1 504.5h0.8v0.8h-0.8zM167.9 504.5h0.8v0.8h-0.8zM205.1 504.5h0.8v0.8h-0.8zM200.1 504.9h0.8v0.8h-0.8zM184.1 504.4h0.8v0.8h-0.8zM184.2 504.2h0.8v0.8h-0.8zM161.4 504.2h0.8v0.8h-0.8zM158.6 504.1h0.8v0.8h-0.8zM176.6 504.1h0.8v0.8h-0.8zM203.3 505.0h0.8v0.8h-0.8zM231.0 504.1h0.8v0.8h-0.8zM230.7 504.1h0.8v0.8h-0.8zM232.5 504.3h0.8v0.8h-0.8zM225.0 504.3h0.8v0.8h-0.8zM173.4 504.6h0.8v0.8h-0.8zM235.1 505.0h0.8v0.8h-0.8zM199.4 505.0h0.8v0.8h-0.8zM194.9 504.1h0.8v0.8h-0.8zM172.3 504.5h0.8v0.8h-0.8z" fill="#444"/>
<path d="M230.2 504.1h0.8v0.8h-0.8zM187.7 504.3h0.8v0.8h-0.8zM164.5 505.0h0.8v0.8h-0.8zM227.3 504.5h0.8v0.8h-0.8zM193.7 504.1h0.8v0.8h-0.8zM235.6 505.0h0.8v0.8h-0.8zM167.5 504.1h0.8v0.8h-0.8zM171.4 504.5h0.8v0.8h-0.8zM161.9 505.0h0.8v0.8h-0.8zM192.3 504.1h0.8v0.8h-0.8zM228.6 504.1h0.8v0.8h-0.8zM186.6 504.7h0.8v0.8h-0.8zM236.2 505.1h0.8v0.8h-0.8zM218.6 504.3h0.8v0.8h-0.8zM219.6 504.4h0.8v0.8h-0.8zM153.3 505.0h0.8v0.8h-0.8zM182.0 504.4h0.8v0.8h-0.8zM195.5 504.8h0.8v0.8h-0.8zM187.1 504.2h0.8v0.8h-0.8zM229.7 504.5h0.8v0.8h-0.8zM211.8 504.4h0.8v0.8h-0.8zM181.5 505.0h0.8v0.8h-0.8zM183.5 505.0h0.8v0.8h-0.8zM154.7 504.0h0.8v0.8h-0.8zM193.5 504.2h0.8v0.8h-0.8zM232.6 504.5h0.8v0.8h-0.8zM188.2 505.1h0.8v0.8h-0.8zM202.0 504.6h0.8v0.8h-0.8zM216.4 504.5h0.8v0.8h-0.8zM161.3 505.0h0.8v0.8h-0.8zM160.1 504.5h0.8v0.8h-0.8zM223.7 504.3h0.8v0.8h-0.8zM165.8 504.9h0.8v0.8h-0.8zM160.3 504.3h0.8v0.8h-0.8zM170.7 504.5h0.8v0.8h-0.8zM170.8 505.1h0.8v0.8h-0.8zM168.2 504.2h0.8v0.8h-0.8zM156.3 504.2h0.8v0.8h-0.8zM221.8 504.4h0.8v0.8h-0.8zM216.9 504.6h0.8v0.8h-0.8zM208.0 504.5h0.8v0.8h-0.8z" fill="#666"/>
<path d="M174.0 504.2h0.8v0.8h-0.8zM186.2 504.1h0.8v0.8h-0.8zM155.1 504.5h0.8v0.8h-0.8zM199.3 504.7h0.8v0.8h-0.8zM205.7 504.7h0.8v0.8h-0.8zM167.2 504.1h0.8v0.8h-0.8zM155.8 504.5h0.8v0.8h-0.8zM178.3 504.0h0.8v0.8h-0.8zM227.9 505.0h0.8v0.8h-0.8zM203.3 504.9h0.8v0.8h-0.8zM188.4 504.2h0.8v0.8h-0.8zM231.6 504.2h0.8v0.8h-0.8zM176.3 504.8h0.8v0.8h-0.8zM217.1 505.1h0.8v0.8h-0.8zM189.5 504.3h0.8v0.8h-0.8zM210.7 505.0h0.8v0.8h-0.8zM220.2 504.2h0.8v0.8h-0.8zM156.3 504.5h0.8v0.8h-0.8zM164.7 504.1h0.8v0.8h-0.8zM213.2 504.6h0.8v0.8h-0.8zM155.1 504.1h0.8v0.8h-0.8zM228.2 504.6h0.8v0.8h-0.8zM231.8 504.3h0.8v0.8h-0.8zM203.7 504.2h0.8v0.8h-0.8zM235.0 504.0h0.8v0.8h-0.8zM154.8 504.5h0.8v0.8h-0.8zM162.5 504.9h0.8v0.8h-0.8zM220.0 504.9h0.8v0.8h-0.8zM199.9 505.0h0.8v0.8h-0.8zM187.1 504.3h0.8v0.8h-0.8zM186.6 504.7h0.8v0.8h-0.8zM236.7 505.0h0.8v0.8h-0.8zM236.0 504.6h0.8v0.8h-0.8zM154.2 505.0h0.8v0.8h-0.8zM234.9 504.4h0.8v0.8h-0.8zM165.6 504.5h0.8v0.8h-0.8zM172.4 504.2h0.8v0.8h-0.8z" fill="#888"/>
<line x1="148.0" y1="504.8" x2="148.0" y2="506.1" stroke="#666" stroke-width="0.5"/>
<line x1="138.0" y1="496.6" x2="139.8" y2="496.6" stroke="#333" stroke-width="0.7"/>
<line x1="152.9" y1="504.8" x2="152.9" y2="506.1" stroke="#666" stroke-width="0.5"/>
<line x1="138.0" y1="491.7" x2="139.8" y2="491.7" stroke="#333" stroke-width="0.7"/>
<line x1="156.3" y1="504.8" x2="156.3" y2="506.1" stroke="#666" stroke-width="0.5"/>
<line x1="138.0" y1="488.3" x2="139.8" y2="488.3" stroke="#333" stroke-width="0.7"/>
<line x1="158.9" y1="504.8" x2="158.9" y2="506.1" stroke="#666" stroke-width="0.5"/>
<line x1="138.0" y1="485.7" x2="139.8" y2="485.7" stroke="#333" stroke-width="0.7"/>
<line x1="161.1" y1="504.8" x2="161.1" y2="506.1" stroke="#666" stroke-width="0.5"/>
<line x1="138.0" y1="483.5" x2="139.8" y2="483.5" stroke="#333" stroke-width="0.7"/>
<line x1="162.9" y1="504.8" x2="162.9" y2="506.1" stroke="#666" stroke-width="0.5"/>
<line x1="138.0" y1="481.7" x2="139.8" y2="481.7" stroke="#333" stroke-width="0.7"/>
<line x1="164.5" y1="504.8" x2="164.5" y2="506.1" stroke="#666" stroke-width="0.5"/>
<line x1="138.0" y1="480.1" x2="139.8" y2="480.1" stroke="#333" stroke-width="0.7"/>
<line x1="165.9" y1="504.8" x2="165.9" y2="506.1" stroke="#666" stroke-width="0.5"/>
<line x1="138.0" y1="478.7" x2="139.8" y2="478.7" stroke="#333" stroke-width="0.7"/>
<line x1="175.4" y1="504.8" x2="175.4" y2="506.1" stroke="#666" stroke-width="0.5"/>
<line x1="138.0" y1="469.2" x2="139.8" y2="469.2" stroke="#333" stroke-width="0.7"/>
<line x1="180.2" y1="504.8" x2="180.2" y2="506.1" stroke="#666" stroke-width="0.5"/>
<line x1="138.0" y1="464.4" x2="139.8" y2="464.4" stroke="#333" stroke-width="0.7"/>
<line x1="183.7" y1="504.8" x2="183.7" y2="506.1" stroke="#666" stroke-width="0.5"/>
<line x1="138.0" y1="460.9" x2="139.8" y2="460.9" stroke="#333" stroke-width="0.7"/>
<line x1="186.3" y1="504.8" x2="186.3" y2="506.1" stroke="#666" stroke-width="0.5"/>
<line x1="138.0" y1="458.3" x2="139.8" y2="458.3" stroke="#333" stroke-width="0.7"/>
<line x1="188.5" y1="504.8" x2="188.5" y2="506.1" stroke="#666" stroke-width="0.5"/>
<line x1="138.0" y1="456.1" x2="139.8" y2="456.1" stroke="#333" stroke-width="0.7"/>
<line x1="190.3" y1="504.8" x2="190.3" y2="506.1" stroke="#666" stroke-width="0.5"/>
<line x1="138.0" y1="454.3" x2="139.8" y2="454.3" stroke="#333" stroke-width="0.7"/>
<line x1="191.9" y1="504.8" x2="191.9" y2="506.1" stroke="#666" stroke-width="0.5"/>
<line x1="138.0" y1="452.7" x2="139.8" y2="452.7" stroke="#333" stroke-width="0.7"/>
<line x1="193.3" y1="504.8" x2="193.3" y2="506.1" stroke="#666" stroke-width="0.5"/>
<line x1="138.0" y1="451.3" x2="139.8" y2="451.3" stroke="#333" stroke-width="0.7"/>
<line x1="202.8" y1="504.8" x2="202.8" y2="506.1" stroke="#666" stroke-width="0.5"/>
<line x1="138.0" y1="441.8" x2="139.8" y2="441.8" stroke="#333" stroke-width="0.7"/>
<line x1="207.6" y1="504.8" x2="207.6" y2="506.1" stroke="#666" stroke-width="0.5"/>
<line x1="138.0" y1="437.0" x2="139.8" y2="437.0" stroke="#333" stroke-width="0.7"/>
<line x1="211.0" y1="504.8" x2="211.0" y2="506.1" stroke="#666" stroke-width="0.5"/>
<line x1="138.0" y1="433.6" x2="139.8" y2="433.6" stroke="#333" stroke-width="0.7"/>
<line x1="213.7" y1="504.8" x2="213.7" y2="506.1" stroke="#666" stroke-width="0.5"/>
<line x1="138.0" y1="430.9" x2="139.8" y2="430.9" stroke="#333" stroke-width="0.7"/>
<line x1="215.9" y1="504.8" x2="215.9" y2="506.1" stroke="#666" stroke-width="0.5"/>
<line x1="138.0" y1="428.7" x2="139.8" y2="428.7" stroke="#333" stroke-width="0.7"/>
<line x1="217.7" y1="504.8" x2="217.7" y2="506.1" stroke="#666" stroke-width="0.5"/>
<line x1="138.0" y1="426.9" x2="139.8" y2="426.9" stroke="#333" stroke-width="0.7"/>
<line x1="219.3" y1="504.8" x2="219.3" y2="506.1" stroke="#666" stroke-width="0.5"/>
<line x1="138.0" y1="425.3" x2="139.8" y2="425.3" stroke="#333" stroke-width="0.7"/>
<line x1="220.7" y1="504.8" x2="220.7" y2="506.1" stroke="#666" stroke-width="0.5"/>
<line x1="138.0" y1="423.9" x2="139.8" y2="423.9" stroke="#333" stroke-width="0.7"/>
<line x1="230.2" y1="504.8" x2="230.2" y2="506.1" stroke="#666" stroke-width="0.5"/>
<line x1="138.0" y1="414.4" x2="139.8" y2="414.4" stroke="#333" stroke-width="0.7"/>
<line x1="235.0" y1="504.8" x2="235.0" y2="506.1" stroke="#666" stroke-width="0.5"/>
<line x1="138.0" y1="409.6" x2="139.8" y2="409.6" stroke="#333" stroke-width="0.7"/>
<line x1="238.4" y1="504.8" x2="238.4" y2="506.1" stroke="#666" stroke-width="0.5"/>
<line x1="138.0" y1="406.2" x2="139.8" y2="406.2" stroke="#333" stroke-width="0.7"/>
<line x1="241.1" y1="504.8" x2="241.1" y2="506.1" stroke="#666" stroke-width="0.5"/>
<line x1="138.0" y1="403.5" x2="139.8" y2="403.5" stroke="#333" stroke-width="0.7"/>
<line x1="243.2" y1="504.8" x2="243.2" y2="506.1" stroke="#666" stroke-width="0.5"/>
<line x1="138.0" y1="401.4" x2="139.8" y2="401.4" stroke="#333" stroke-width="0.7"/>
<line x1="245.1" y1="504.8" x2="245.1" y2="506.1" stroke="#666" stroke-width="0.5"/>
<line x1="138.0" y1="399.5" x2="139.8" y2="399.5" stroke="#333" stroke-width="0.7"/>
<line x1="246.6" y1="504.8" x2="246.6" y2="506.1" stroke="#666" stroke-width="0.5"/>
<line x1="138.0" y1="398.0" x2="139.8" y2="398.0" stroke="#333" stroke-width="0.7"/>
<line x1="248.0" y1="504.8" x2="248.0" y2="506.1" stroke="#666" stroke-width="0.5"/>
<line x1="138.0" y1="396.6" x2="139.8" y2="396.6" stroke="#333" stroke-width="0.7"/>
<line x1="139.8" y1="504.8" x2="139.8" y2="507.2" stroke="#444" stroke-width="0.6"/>
<line x1="137.2" y1="504.8" x2="139.8" y2="504.8" stroke="#333" stroke-width="0.7"/>
<text x="136.2" y="514.8" font-size="5.4" textLength="4.7" lengthAdjust="spacingAndGlyphs" fill="#222" style="stroke-width:0.2px">10</text>
<text x="141.0" y="512.6" font-size="3.4" fill="#222" style="stroke-width:0.15px">0</text>
<text x="127.7" y="506.7" font-size="5.4" textLength="4.7" lengthAdjust="spacingAndGlyphs" fill="#222" style="stroke-width:0.2px">10</text>
<text x="132.6" y="504.2" font-size="3.4" fill="#222" style="stroke-width:0.15px">0</text>
<line x1="167.2" y1="504.8" x2="167.2" y2="507.2" stroke="#444" stroke-width="0.6"/>
<line x1="137.2" y1="477.4" x2="139.8" y2="477.4" stroke="#333" stroke-width="0.7"/>
<text x="163.6" y="514.8" font-size="5.4" textLength="4.7" lengthAdjust="spacingAndGlyphs" fill="#222" style="stroke-width:0.2px">10</text>
<text x="168.4" y="512.6" font-size="3.4" fill="#222" style="stroke-width:0.15px">1</text>
<text x="127.7" y="479.3" font-size="5.4" textLength="4.7" lengthAdjust="spacingAndGlyphs" fill="#222" style="stroke-width:0.2px">10</text>
<text x="132.6" y="476.8" font-size="3.4" fill="#222" style="stroke-width:0.15px">1</text>
<line x1="194.6" y1="504.8" x2="194.6" y2="507.2" stroke="#444" stroke-width="0.6"/>
<line x1="137.2" y1="450.1" x2="139.8" y2="450.1" stroke="#333" stroke-width="0.7"/>
<text x="191.0" y="514.8" font-size="5.4" textLength="4.7" lengthAdjust="spacingAndGlyphs" fill="#222" style="stroke-width:0.2px">10</text>
<text x="195.8" y="512.6" font-size="3.4" fill="#222" style="stroke-width:0.15px">2</text>
<text x="127.7" y="451.9" font-size="5.4" textLength="4.7" lengthAdjust="spacingAndGlyphs" fill="#222" style="stroke-width:0.2px">10</text>
<text x="132.6" y="449.4" font-size="3.4" fill="#222" style="stroke-width:0.15px">2</text>
<line x1="221.9" y1="504.8" x2="221.9" y2="507.2" stroke="#444" stroke-width="0.6"/>
<line x1="137.2" y1="422.7" x2="139.8" y2="422.7" stroke="#333" stroke-width="0.7"/>
<text x="218.3" y="514.8" font-size="5.4" textLength="4.7" lengthAdjust="spacingAndGlyphs" fill="#222" style="stroke-width:0.2px">10</text>
<text x="223.1" y="512.6" font-size="3.4" fill="#222" style="stroke-width:0.15px">3</text>
<text x="127.7" y="424.6" font-size="5.4" textLength="4.7" lengthAdjust="spacingAndGlyphs" fill="#222" style="stroke-width:0.2px">10</text>
<text x="132.6" y="422.1" font-size="3.4" fill="#222" style="stroke-width:0.15px">3</text>
<line x1="249.3" y1="504.8" x2="249.3" y2="507.2" stroke="#444" stroke-width="0.6"/>
<line x1="137.2" y1="395.3" x2="139.8" y2="395.3" stroke="#333" stroke-width="0.7"/>
<text x="245.7" y="514.8" font-size="5.4" textLength="4.7" lengthAdjust="spacingAndGlyphs" fill="#222" style="stroke-width:0.2px">10</text>
<text x="250.5" y="512.6" font-size="3.4" fill="#222" style="stroke-width:0.15px">4</text>
<text x="127.7" y="397.2" font-size="5.4" textLength="4.7" lengthAdjust="spacingAndGlyphs" fill="#222" style="stroke-width:0.2px">10</text>
<text x="132.6" y="394.7" font-size="3.4" fill="#222" style="stroke-width:0.15px">4</text>
<text x="141.7" y="404.3" font-size="9.8" textLength="25.8" lengthAdjust="spacingAndGlyphs" fill="#222" style="stroke-width:0.12px">43.1%</text>
<text x="221.1" y="501.9" font-size="9.8" textLength="25.8" lengthAdjust="spacingAndGlyphs" fill="#222" style="stroke-width:0.12px">54.3%</text>
<line x1="186.0" y1="525.5" x2="186.0" y2="635.0" stroke="#a0a0a0" stroke-width="0.7"/>
<line x1="139.8" y1="602.0" x2="249.3" y2="602.0" stroke="#a0a0a0" stroke-width="0.7"/>
<line x1="139.8" y1="525.5" x2="249.3" y2="525.5" stroke="#7c7c7c" stroke-width="0.85"/>
<line x1="249.3" y1="525.5" x2="249.3" y2="635.0" stroke="#808080" stroke-width="0.85"/>
<line x1="139.8" y1="525.1" x2="139.8" y2="635.4" stroke="#3a3a3a" stroke-width="1.0"/>
<line x1="139.8" y1="635.0" x2="249.3" y2="635.0" stroke="#777" stroke-width="0.8"/>
<path d="M179.9 584.4h0.8v0.8h-0.8zM153.6 588.4h0.8v0.8h-0.8zM168.8 587.7h0.8v0.8h-0.8zM153.6 589.1h0.8v0.8h-0.8zM159.8 589.2h0.8v0.8h-0.8zM153.2 592.7h0.8v0.8h-0.8zM155.7 589.8h0.8v0.8h-0.8zM144.6 579.7h0.8v0.8h-0.8zM163.3 587.5h0.8v0.8h-0.8zM148.4 587.3h0.8v0.8h-0.8zM164.5 589.1h0.8v0.8h-0.8zM155.9 584.8h0.8v0.8h-0.8zM147.5 587.7h0.8v0.8h-0.8zM145.4 591.6h0.8v0.8h-0.8zM152.8 593.9h0.8v0.8h-0.8zM161.4 586.2h0.8v0.8h-0.8zM152.4 588.7h0.8v0.8h-0.8zM147.6 590.3h0.8v0.8h-0.8zM154.8 586.3h0.8v0.8h-0.8zM150.6 587.7h0.8v0.8h-0.8zM160.0 588.9h0.8v0.8h-0.8zM150.8 579.8h0.8v0.8h-0.8zM142.2 590.5h0.8v0.8h-0.8zM161.2 586.6h0.8v0.8h-0.8zM162.8 586.6h0.8v0.8h-0.8zM147.2 586.2h0.8v0.8h-0.8zM143.0 586.3h0.8v0.8h-0.8zM152.1 586.8h0.8v0.8h-0.8zM167.2 593.5h0.8v0.8h-0.8zM164.7 590.6h0.8v0.8h-0.8zM165.6 589.6h0.8v0.8h-0.8zM156.7 584.5h0.8v0.8h-0.8zM150.6 585.3h0.8v0.8h-0.8zM166.4 594.4h0.8v0.8h-0.8zM166.7 589.4h0.8v0.8h-0.8zM167.8 585.5h0.8v0.8h-0.8zM140.8 587.0h0.8v0.8h-0.8zM152.1 586.3h0.8v0.8h-0.8zM177.9 587.1h0.8v0.8h-0.8zM149.8 589.4h0.8v0.8h-0.8zM164.0 581.3h0.8v0.8h-0.8zM159.9 588.2h0.8v0.8h-0.8zM152.0 582.2h0.8v0.8h-0.8zM140.6 588.0h0.8v0.8h-0.8zM157.4 595.6h0.8v0.8h-0.8zM160.0 590.1h0.8v0.8h-0.8zM144.4 587.2h0.8v0.8h-0.8zM151.7 588.4h0.8v0.8h-0.8zM165.7 592.8h0.8v0.8h-0.8zM171.2 594.4h0.8v0.8h-0.8zM145.3 594.3h0.8v0.8h-0.8zM168.5 590.7h0.8v0.8h-0.8zM154.2 586.8h0.8v0.8h-0.8zM151.7 583.6h0.8v0.8h-0.8zM151.8 585.3h0.8v0.8h-0.8zM172.4 586.6h0.8v0.8h-0.8zM156.3 588.8h0.8v0.8h-0.8zM151.3 593.1h0.8v0.8h-0.8zM148.2 592.0h0.8v0.8h-0.8zM155.1 592.1h0.8v0.8h-0.8zM165.6 582.4h0.8v0.8h-0.8zM172.1 590.6h0.8v0.8h-0.8zM163.6 588.9h0.8v0.8h-0.8zM146.5 594.7h0.8v0.8h-0.8zM151.0 592.3h0.8v0.8h-0.8zM164.4 587.8h0.8v0.8h-0.8zM149.4 590.8h0.8v0.8h-0.8zM144.5 585.8h0.8v0.8h-0.8zM152.8 588.2h0.8v0.8h-0.8zM163.7 589.0h0.8v0.8h-0.8zM160.3 587.2h0.8v0.8h-0.8zM170.3 587.8h0.8v0.8h-0.8zM168.0 586.8h0.8v0.8h-0.8zM149.1 587.7h0.8v0.8h-0.8zM149.2 589.1h0.8v0.8h-0.8zM147.6 594.4h0.8v0.8h-0.8zM145.9 591.9h0.8v0.8h-0.8zM144.0 588.8h0.8v0.8h-0.8zM154.4 589.6h0.8v0.8h-0.8zM150.9 582.9h0.8v0.8h-0.8zM158.3 591.9h0.8v0.8h-0.8zM156.9 586.6h0.8v0.8h-0.8zM143.6 588.4h0.8v0.8h-0.8zM146.9 587.9h0.8v0.8h-0.8zM156.8 588.2h0.8v0.8h-0.8zM166.9 584.2h0.8v0.8h-0.8zM151.8 587.9h0.8v0.8h-0.8zM160.2 588.5h0.8v0.8h-0.8zM150.7 588.0h0.8v0.8h-0.8zM158.2 583.3h0.8v0.8h-0.8zM161.8 589.0h0.8v0.8h-0.8zM175.2 586.6h0.8v0.8h-0.8zM153.4 588.2h0.8v0.8h-0.8zM151.6 588.9h0.8v0.8h-0.8zM147.3 591.0h0.8v0.8h-0.8zM158.9 589.5h0.8v0.8h-0.8zM168.6 583.6h0.8v0.8h-0.8zM156.5 596.7h0.8v0.8h-0.8zM173.2 589.3h0.8v0.8h-0.8zM157.4 585.4h0.8v0.8h-0.8zM153.1 584.8h0.8v0.8h-0.8zM161.6 588.8h0.8v0.8h-0.8zM167.4 588.5h0.8v0.8h-0.8zM157.1 593.4h0.8v0.8h-0.8zM158.3 589.4h0.8v0.8h-0.8zM150.3 588.6h0.8v0.8h-0.8zM155.9 590.3h0.8v0.8h-0.8zM160.5 589.9h0.8v0.8h-0.8zM163.3 592.2h0.8v0.8h-0.8zM167.4 582.2h0.8v0.8h-0.8zM154.6 586.2h0.8v0.8h-0.8zM156.9 591.4h0.8v0.8h-0.8zM162.7 585.2h0.8v0.8h-0.8zM144.8 588.6h0.8v0.8h-0.8zM164.2 588.3h0.8v0.8h-0.8zM163.0 585.9h0.8v0.8h-0.8zM167.1 587.2h0.8v0.8h-0.8zM145.5 586.6h0.8v0.8h-0.8zM153.1 594.3h0.8v0.8h-0.8zM148.8 592.3h0.8v0.8h-0.8zM170.2 588.3h0.8v0.8h-0.8zM163.6 590.8h0.8v0.8h-0.8zM143.7 586.1h0.8v0.8h-0.8zM150.8 586.7h0.8v0.8h-0.8zM168.6 589.4h0.8v0.8h-0.8zM171.4 592.7h0.8v0.8h-0.8zM165.4 586.8h0.8v0.8h-0.8zM141.0 590.5h0.8v0.8h-0.8zM171.5 586.5h0.8v0.8h-0.8zM158.3 582.9h0.8v0.8h-0.8zM159.7 587.4h0.8v0.8h-0.8zM164.2 591.6h0.8v0.8h-0.8zM158.4 584.2h0.8v0.8h-0.8zM161.8 585.8h0.8v0.8h-0.8zM155.2 591.8h0.8v0.8h-0.8zM152.6 587.2h0.8v0.8h-0.8zM157.5 591.1h0.8v0.8h-0.8zM164.2 588.0h0.8v0.8h-0.8zM154.3 589.1h0.8v0.8h-0.8zM167.1 592.1h0.8v0.8h-0.8zM154.2 584.3h0.8v0.8h-0.8zM158.0 596.8h0.8v0.8h-0.8zM142.7 579.8h0.8v0.8h-0.8zM149.9 583.9h0.8v0.8h-0.8zM161.9 585.2h0.8v0.8h-0.8zM166.0 585.1h0.8v0.8h-0.8zM141.3 587.7h0.8v0.8h-0.8zM173.9 593.5h0.8v0.8h-0.8zM154.8 587.9h0.8v0.8h-0.8zM164.7 585.3h0.8v0.8h-0.8zM155.8 581.9h0.8v0.8h-0.8zM162.7 587.0h0.8v0.8h-0.8zM155.3 589.0h0.8v0.8h-0.8zM158.6 587.2h0.8v0.8h-0.8zM145.0 586.5h0.8v0.8h-0.8zM172.5 592.6h0.8v0.8h-0.8zM174.9 591.7h0.8v0.8h-0.8zM164.8 585.4h0.8v0.8h-0.8zM152.5 583.2h0.8v0.8h-0.8zM162.5 586.1h0.8v0.8h-0.8zM153.7 589.7h0.8v0.8h-0.8zM165.9 589.1h0.8v0.8h-0.8zM158.0 584.8h0.8v0.8h-0.8zM163.8 584.5h0.8v0.8h-0.8zM166.1 586.1h0.8v0.8h-0.8zM166.0 587.4h0.8v0.8h-0.8zM165.5 591.4h0.8v0.8h-0.8zM158.8 582.7h0.8v0.8h-0.8zM156.3 585.2h0.8v0.8h-0.8zM151.6 588.2h0.8v0.8h-0.8zM159.4 589.4h0.8v0.8h-0.8zM163.5 587.5h0.8v0.8h-0.8zM165.6 596.4h0.8v0.8h-0.8zM148.7 588.0h0.8v0.8h-0.8zM142.4 588.3h0.8v0.8h-0.8zM169.4 588.4h0.8v0.8h-0.8zM158.2 591.2h0.8v0.8h-0.8zM149.4 590.3h0.8v0.8h-0.8zM163.5 585.4h0.8v0.8h-0.8zM160.0 585.8h0.8v0.8h-0.8zM147.5 591.0h0.8v0.8h-0.8zM161.9 593.1h0.8v0.8h-0.8zM158.8 590.0h0.8v0.8h-0.8zM158.7 592.2h0.8v0.8h-0.8zM145.7 590.7h0.8v0.8h-0.8zM152.7 591.4h0.8v0.8h-0.8zM155.7 589.8h0.8v0.8h-0.8zM150.1 591.3h0.8v0.8h-0.8zM143.9 592.1h0.8v0.8h-0.8zM169.3 588.2h0.8v0.8h-0.8zM170.1 595.2h0.8v0.8h-0.8zM151.7 587.8h0.8v0.8h-0.8zM141.3 586.8h0.8v0.8h-0.8zM144.3 588.3h0.8v0.8h-0.8zM168.4 583.2h0.8v0.8h-0.8zM141.5 586.1h0.8v0.8h-0.8zM140.9 588.8h0.8v0.8h-0.8zM150.2 594.6h0.8v0.8h-0.8zM150.8 585.3h0.8v0.8h-0.8zM168.8 591.4h0.8v0.8h-0.8zM144.9 587.0h0.8v0.8h-0.8zM163.2 582.0h0.8v0.8h-0.8zM164.5 590.0h0.8v0.8h-0.8zM154.6 589.0h0.8v0.8h-0.8zM154.6 593.7h0.8v0.8h-0.8zM148.2 593.4h0.8v0.8h-0.8zM163.0 593.2h0.8v0.8h-0.8zM167.2 591.8h0.8v0.8h-0.8zM171.1 587.7h0.8v0.8h-0.8zM169.7 585.5h0.8v0.8h-0.8zM162.0 588.7h0.8v0.8h-0.8zM141.6 594.8h0.8v0.8h-0.8zM153.2 580.5h0.8v0.8h-0.8zM174.0 584.6h0.8v0.8h-0.8zM147.2 582.2h0.8v0.8h-0.8zM151.1 586.8h0.8v0.8h-0.8zM154.8 592.9h0.8v0.8h-0.8zM161.3 580.7h0.8v0.8h-0.8zM146.8 588.8h0.8v0.8h-0.8zM175.9 592.4h0.8v0.8h-0.8zM175.1 593.4h0.8v0.8h-0.8zM157.3 591.1h0.8v0.8h-0.8zM153.1 587.6h0.8v0.8h-0.8zM167.3 587.5h0.8v0.8h-0.8zM141.2 583.3h0.8v0.8h-0.8zM143.7 589.2h0.8v0.8h-0.8zM146.0 589.2h0.8v0.8h-0.8zM159.2 583.2h0.8v0.8h-0.8zM155.9 579.8h0.8v0.8h-0.8zM154.5 582.9h0.8v0.8h-0.8zM161.2 591.5h0.8v0.8h-0.8zM161.5 591.1h0.8v0.8h-0.8zM150.4 588.7h0.8v0.8h-0.8zM153.4 592.5h0.8v0.8h-0.8zM148.5 588.4h0.8v0.8h-0.8zM165.4 591.2h0.8v0.8h-0.8zM151.9 586.5h0.8v0.8h-0.8zM151.2 586.8h0.8v0.8h-0.8zM160.9 585.2h0.8v0.8h-0.8zM149.2 587.7h0.8v0.8h-0.8zM174.2 588.1h0.8v0.8h-0.8zM160.3 584.5h0.8v0.8h-0.8zM144.4 584.5h0.8v0.8h-0.8zM158.4 589.2h0.8v0.8h-0.8zM173.2 591.0h0.8v0.8h-0.8zM153.1 582.9h0.8v0.8h-0.8zM151.4 586.2h0.8v0.8h-0.8zM151.1 591.4h0.8v0.8h-0.8zM154.9 587.2h0.8v0.8h-0.8z" fill="#3a3a3a"/>
<path d="M165.4 588.5h0.8v0.8h-0.8zM166.7 590.2h0.8v0.8h-0.8zM164.7 590.2h0.8v0.8h-0.8zM159.7 588.0h0.8v0.8h-0.8zM155.9 585.1h0.8v0.8h-0.8zM148.9 588.7h0.8v0.8h-0.8zM146.5 589.3h0.8v0.8h-0.8zM165.1 581.6h0.8v0.8h-0.8zM161.6 591.5h0.8v0.8h-0.8zM156.6 589.4h0.8v0.8h-0.8zM154.5 588.6h0.8v0.8h-0.8zM147.3 590.5h0.8v0.8h-0.8zM156.5 597.9h0.8v0.8h-0.8zM158.5 592.7h0.8v0.8h-0.8zM146.8 595.3h0.8v0.8h-0.8zM161.0 590.7h0.8v0.8h-0.8zM164.9 589.3h0.8v0.8h-0.8zM149.6 588.5h0.8v0.8h-0.8zM147.5 590.1h0.8v0.8h-0.8zM156.2 582.0h0.8v0.8h-0.8zM155.0 591.0h0.8v0.8h-0.8zM168.9 588.4h0.8v0.8h-0.8zM165.3 592.0h0.8v0.8h-0.8zM149.8 594.0h0.8v0.8h-0.8zM159.2 584.0h0.8v0.8h-0.8zM150.7 590.0h0.8v0.8h-0.8zM158.1 587.3h0.8v0.8h-0.8zM148.9 592.0h0.8v0.8h-0.8zM153.4 581.7h0.8v0.8h-0.8zM174.3 584.8h0.8v0.8h-0.8zM161.6 589.7h0.8v0.8h-0.8zM147.7 589.8h0.8v0.8h-0.8zM165.9 584.0h0.8v0.8h-0.8zM167.3 583.0h0.8v0.8h-0.8zM151.0 593.7h0.8v0.8h-0.8zM169.1 594.3h0.8v0.8h-0.8zM143.8 586.1h0.8v0.8h-0.8zM160.4 588.9h0.8v0.8h-0.8zM149.1 592.0h0.8v0.8h-0.8zM163.3 593.1h0.8v0.8h-0.8zM152.6 583.6h0.8v0.8h-0.8zM167.6 588.7h0.8v0.8h-0.8zM156.2 583.3h0.8v0.8h-0.8zM153.8 586.4h0.8v0.8h-0.8zM146.9 581.1h0.8v0.8h-0.8zM166.8 591.1h0.8v0.8h-0.8zM160.3 584.9h0.8v0.8h-0.8zM154.2 581.4h0.8v0.8h-0.8zM142.6 587.8h0.8v0.8h-0.8zM144.8 588.2h0.8v0.8h-0.8zM155.0 589.2h0.8v0.8h-0.8zM142.2 591.3h0.8v0.8h-0.8zM160.1 586.9h0.8v0.8h-0.8zM159.9 586.8h0.8v0.8h-0.8zM168.8 589.2h0.8v0.8h-0.8zM141.6 588.0h0.8v0.8h-0.8zM166.6 585.9h0.8v0.8h-0.8zM149.4 586.5h0.8v0.8h-0.8zM162.0 585.7h0.8v0.8h-0.8zM140.6 587.2h0.8v0.8h-0.8zM154.2 586.2h0.8v0.8h-0.8zM158.6 586.5h0.8v0.8h-0.8zM155.0 582.1h0.8v0.8h-0.8zM152.7 580.0h0.8v0.8h-0.8zM163.8 583.4h0.8v0.8h-0.8zM171.1 584.8h0.8v0.8h-0.8zM174.1 588.7h0.8v0.8h-0.8zM159.7 585.6h0.8v0.8h-0.8zM170.5 588.6h0.8v0.8h-0.8zM150.4 590.3h0.8v0.8h-0.8zM143.5 586.2h0.8v0.8h-0.8zM158.5 592.1h0.8v0.8h-0.8zM150.0 591.2h0.8v0.8h-0.8zM165.8 587.7h0.8v0.8h-0.8zM156.3 584.8h0.8v0.8h-0.8zM142.9 588.5h0.8v0.8h-0.8zM147.2 588.9h0.8v0.8h-0.8zM144.9 589.2h0.8v0.8h-0.8zM158.0 582.0h0.8v0.8h-0.8zM157.0 587.8h0.8v0.8h-0.8zM151.6 581.2h0.8v0.8h-0.8zM147.1 591.1h0.8v0.8h-0.8zM165.8 590.3h0.8v0.8h-0.8zM146.6 587.9h0.8v0.8h-0.8zM152.3 588.9h0.8v0.8h-0.8zM162.5 588.6h0.8v0.8h-0.8zM157.4 591.6h0.8v0.8h-0.8zM147.4 586.7h0.8v0.8h-0.8zM142.6 587.9h0.8v0.8h-0.8zM173.9 585.5h0.8v0.8h-0.8zM151.9 591.7h0.8v0.8h-0.8zM157.3 587.9h0.8v0.8h-0.8zM146.7 586.2h0.8v0.8h-0.8zM158.1 589.7h0.8v0.8h-0.8zM156.6 587.6h0.8v0.8h-0.8zM164.3 585.4h0.8v0.8h-0.8zM157.5 585.9h0.8v0.8h-0.8zM170.2 585.2h0.8v0.8h-0.8zM142.7 590.9h0.8v0.8h-0.8zM156.3 588.2h0.8v0.8h-0.8zM170.3 596.2h0.8v0.8h-0.8zM157.6 585.2h0.8v0.8h-0.8zM153.7 591.4h0.8v0.8h-0.8zM141.6 591.6h0.8v0.8h-0.8zM160.7 590.9h0.8v0.8h-0.8zM161.6 596.3h0.8v0.8h-0.8zM172.8 588.6h0.8v0.8h-0.8zM149.9 585.7h0.8v0.8h-0.8zM151.3 583.4h0.8v0.8h-0.8zM166.0 589.6h0.8v0.8h-0.8zM172.2 589.5h0.8v0.8h-0.8zM163.6 578.1h0.8v0.8h-0.8zM168.5 586.0h0.8v0.8h-0.8zM153.3 590.2h0.8v0.8h-0.8zM149.5 591.8h0.8v0.8h-0.8zM160.9 588.2h0.8v0.8h-0.8zM145.6 590.4h0.8v0.8h-0.8zM166.2 589.3h0.8v0.8h-0.8zM149.6 585.1h0.8v0.8h-0.8zM166.4 592.1h0.8v0.8h-0.8zM165.5 591.1h0.8v0.8h-0.8zM166.1 591.8h0.8v0.8h-0.8zM165.5 583.3h0.8v0.8h-0.8zM145.7 590.1h0.8v0.8h-0.8zM171.8 591.7h0.8v0.8h-0.8zM160.8 584.5h0.8v0.8h-0.8zM173.4 586.3h0.8v0.8h-0.8zM170.8 591.0h0.8v0.8h-0.8zM168.0 589.5h0.8v0.8h-0.8zM154.6 591.6h0.8v0.8h-0.8zM142.7 588.7h0.8v0.8h-0.8zM147.7 583.4h0.8v0.8h-0.8zM144.7 588.7h0.8v0.8h-0.8zM148.8 589.1h0.8v0.8h-0.8zM163.6 587.2h0.8v0.8h-0.8zM157.3 590.1h0.8v0.8h-0.8zM148.4 585.6h0.8v0.8h-0.8zM156.8 584.6h0.8v0.8h-0.8zM148.9 586.2h0.8v0.8h-0.8zM159.6 583.7h0.8v0.8h-0.8zM149.2 595.4h0.8v0.8h-0.8zM158.6 583.8h0.8v0.8h-0.8zM163.1 584.7h0.8v0.8h-0.8zM142.7 587.9h0.8v0.8h-0.8zM156.9 587.9h0.8v0.8h-0.8zM163.4 585.6h0.8v0.8h-0.8zM156.0 589.3h0.8v0.8h-0.8zM161.9 590.1h0.8v0.8h-0.8zM161.9 591.5h0.8v0.8h-0.8zM170.8 581.2h0.8v0.8h-0.8zM160.8 593.6h0.8v0.8h-0.8zM160.0 586.8h0.8v0.8h-0.8zM156.0 591.9h0.8v0.8h-0.8zM147.6 583.1h0.8v0.8h-0.8zM162.8 589.1h0.8v0.8h-0.8zM164.2 592.4h0.8v0.8h-0.8zM173.9 585.6h0.8v0.8h-0.8zM159.9 588.2h0.8v0.8h-0.8zM175.7 595.9h0.8v0.8h-0.8zM154.2 584.6h0.8v0.8h-0.8zM173.3 585.3h0.8v0.8h-0.8zM143.5 586.8h0.8v0.8h-0.8zM168.4 590.2h0.8v0.8h-0.8zM156.0 585.9h0.8v0.8h-0.8zM148.4 587.6h0.8v0.8h-0.8zM156.0 594.4h0.8v0.8h-0.8zM163.2 582.4h0.8v0.8h-0.8zM159.3 589.4h0.8v0.8h-0.8zM153.3 587.4h0.8v0.8h-0.8zM163.1 584.6h0.8v0.8h-0.8zM162.2 590.7h0.8v0.8h-0.8zM167.6 586.0h0.8v0.8h-0.8zM165.4 583.7h0.8v0.8h-0.8zM149.1 591.9h0.8v0.8h-0.8zM148.1 588.9h0.8v0.8h-0.8zM147.9 585.4h0.8v0.8h-0.8zM159.1 584.4h0.8v0.8h-0.8zM169.3 589.4h0.8v0.8h-0.8zM157.1 580.9h0.8v0.8h-0.8zM143.7 589.4h0.8v0.8h-0.8zM141.8 582.1h0.8v0.8h-0.8zM164.5 589.0h0.8v0.8h-0.8zM165.7 586.9h0.8v0.8h-0.8zM148.4 587.8h0.8v0.8h-0.8zM162.2 587.7h0.8v0.8h-0.8zM148.5 588.0h0.8v0.8h-0.8zM160.8 582.7h0.8v0.8h-0.8zM158.7 588.3h0.8v0.8h-0.8zM153.2 592.2h0.8v0.8h-0.8zM150.7 587.8h0.8v0.8h-0.8zM154.9 584.0h0.8v0.8h-0.8zM165.9 585.9h0.8v0.8h-0.8zM143.9 594.2h0.8v0.8h-0.8zM151.2 589.0h0.8v0.8h-0.8zM158.3 588.6h0.8v0.8h-0.8zM144.7 591.5h0.8v0.8h-0.8zM153.5 591.4h0.8v0.8h-0.8zM153.0 588.7h0.8v0.8h-0.8zM141.3 585.4h0.8v0.8h-0.8zM150.0 583.6h0.8v0.8h-0.8zM163.1 582.2h0.8v0.8h-0.8zM166.1 588.7h0.8v0.8h-0.8zM170.2 585.2h0.8v0.8h-0.8zM169.7 594.5h0.8v0.8h-0.8zM144.6 588.4h0.8v0.8h-0.8zM143.6 588.9h0.8v0.8h-0.8zM157.4 588.5h0.8v0.8h-0.8zM157.2 592.0h0.8v0.8h-0.8zM155.9 585.7h0.8v0.8h-0.8zM166.4 587.7h0.8v0.8h-0.8zM151.1 585.9h0.8v0.8h-0.8zM146.4 586.3h0.8v0.8h-0.8zM163.1 587.8h0.8v0.8h-0.8zM154.8 595.2h0.8v0.8h-0.8zM143.2 587.0h0.8v0.8h-0.8zM164.8 593.0h0.8v0.8h-0.8zM165.9 586.1h0.8v0.8h-0.8zM151.2 588.7h0.8v0.8h-0.8zM160.2 587.9h0.8v0.8h-0.8zM158.3 587.5h0.8v0.8h-0.8zM167.3 583.6h0.8v0.8h-0.8zM152.8 589.6h0.8v0.8h-0.8zM156.3 584.8h0.8v0.8h-0.8zM151.2 587.7h0.8v0.8h-0.8zM157.5 601.1h0.8v0.8h-0.8zM172.8 591.0h0.8v0.8h-0.8zM162.0 588.6h0.8v0.8h-0.8z" fill="#8a8a8a"/>
<path d="M150.3 587.9h0.8v0.8h-0.8zM145.9 586.2h0.8v0.8h-0.8zM165.6 585.9h0.8v0.8h-0.8zM150.5 582.0h0.8v0.8h-0.8zM150.9 589.5h0.8v0.8h-0.8zM181.3 591.9h0.8v0.8h-0.8zM154.4 584.6h0.8v0.8h-0.8zM166.7 588.3h0.8v0.8h-0.8zM152.2 596.0h0.8v0.8h-0.8zM155.2 589.6h0.8v0.8h-0.8zM170.5 596.3h0.8v0.8h-0.8zM161.9 588.0h0.8v0.8h-0.8zM174.1 591.9h0.8v0.8h-0.8zM149.0 584.6h0.8v0.8h-0.8zM140.4 589.5h0.8v0.8h-0.8zM165.0 588.8h0.8v0.8h-0.8zM142.3 583.6h0.8v0.8h-0.8zM145.4 585.6h0.8v0.8h-0.8zM146.5 592.9h0.8v0.8h-0.8zM165.6 592.5h0.8v0.8h-0.8zM152.8 586.7h0.8v0.8h-0.8zM162.5 582.5h0.8v0.8h-0.8zM147.0 584.5h0.8v0.8h-0.8zM167.8 590.8h0.8v0.8h-0.8zM156.6 586.7h0.8v0.8h-0.8zM158.9 582.7h0.8v0.8h-0.8zM170.7 586.6h0.8v0.8h-0.8zM147.1 585.2h0.8v0.8h-0.8zM140.5 593.6h0.8v0.8h-0.8zM147.5 587.8h0.8v0.8h-0.8zM161.3 588.9h0.8v0.8h-0.8zM164.8 590.6h0.8v0.8h-0.8zM171.6 589.3h0.8v0.8h-0.8zM158.5 584.0h0.8v0.8h-0.8zM152.2 594.2h0.8v0.8h-0.8zM167.5 588.0h0.8v0.8h-0.8zM177.4 586.6h0.8v0.8h-0.8zM153.9 594.4h0.8v0.8h-0.8zM144.7 587.9h0.8v0.8h-0.8zM169.3 584.1h0.8v0.8h-0.8zM153.6 594.0h0.8v0.8h-0.8zM163.2 589.5h0.8v0.8h-0.8zM148.0 590.6h0.8v0.8h-0.8zM157.5 591.3h0.8v0.8h-0.8zM164.0 586.3h0.8v0.8h-0.8zM167.4 585.0h0.8v0.8h-0.8zM158.2 585.0h0.8v0.8h-0.8zM169.6 591.5h0.8v0.8h-0.8zM147.5 587.6h0.8v0.8h-0.8zM146.7 586.2h0.8v0.8h-0.8zM177.8 588.3h0.8v0.8h-0.8zM155.6 591.4h0.8v0.8h-0.8zM166.4 587.2h0.8v0.8h-0.8zM169.6 592.0h0.8v0.8h-0.8zM172.9 587.0h0.8v0.8h-0.8zM168.4 590.3h0.8v0.8h-0.8zM155.0 589.8h0.8v0.8h-0.8zM165.9 589.9h0.8v0.8h-0.8zM149.9 584.4h0.8v0.8h-0.8zM148.9 588.8h0.8v0.8h-0.8zM145.5 591.5h0.8v0.8h-0.8zM144.1 587.4h0.8v0.8h-0.8zM155.5 594.3h0.8v0.8h-0.8zM164.7 585.3h0.8v0.8h-0.8zM168.5 591.7h0.8v0.8h-0.8zM183.3 590.7h0.8v0.8h-0.8zM167.0 591.8h0.8v0.8h-0.8zM154.7 586.4h0.8v0.8h-0.8zM164.5 592.1h0.8v0.8h-0.8zM152.7 589.5h0.8v0.8h-0.8zM169.7 588.5h0.8v0.8h-0.8zM141.0 590.4h0.8v0.8h-0.8zM166.4 589.9h0.8v0.8h-0.8zM170.0 591.4h0.8v0.8h-0.8zM151.6 586.1h0.8v0.8h-0.8zM175.2 591.1h0.8v0.8h-0.8zM165.6 592.2h0.8v0.8h-0.8zM155.9 589.1h0.8v0.8h-0.8zM146.9 586.6h0.8v0.8h-0.8zM150.5 592.0h0.8v0.8h-0.8zM159.3 587.0h0.8v0.8h-0.8zM177.4 583.6h0.8v0.8h-0.8zM161.1 589.8h0.8v0.8h-0.8zM142.6 589.1h0.8v0.8h-0.8zM166.3 592.5h0.8v0.8h-0.8zM156.0 592.3h0.8v0.8h-0.8zM163.3 588.0h0.8v0.8h-0.8zM152.4 587.8h0.8v0.8h-0.8zM156.0 590.8h0.8v0.8h-0.8zM164.0 586.7h0.8v0.8h-0.8zM147.1 592.6h0.8v0.8h-0.8zM145.0 589.9h0.8v0.8h-0.8zM161.2 587.7h0.8v0.8h-0.8zM152.5 588.9h0.8v0.8h-0.8zM147.8 586.4h0.8v0.8h-0.8zM157.2 587.9h0.8v0.8h-0.8zM154.8 592.0h0.8v0.8h-0.8zM163.3 592.2h0.8v0.8h-0.8zM145.5 589.3h0.8v0.8h-0.8zM149.7 586.6h0.8v0.8h-0.8zM143.6 590.4h0.8v0.8h-0.8zM171.2 587.0h0.8v0.8h-0.8zM163.9 593.9h0.8v0.8h-0.8zM149.7 588.5h0.8v0.8h-0.8zM169.6 584.1h0.8v0.8h-0.8zM149.2 591.9h0.8v0.8h-0.8zM153.6 594.3h0.8v0.8h-0.8zM143.7 581.0h0.8v0.8h-0.8zM159.2 589.8h0.8v0.8h-0.8zM156.9 585.6h0.8v0.8h-0.8zM149.2 587.5h0.8v0.8h-0.8zM148.1 592.2h0.8v0.8h-0.8zM163.7 591.5h0.8v0.8h-0.8zM154.0 588.1h0.8v0.8h-0.8zM146.6 592.8h0.8v0.8h-0.8zM146.9 590.4h0.8v0.8h-0.8zM146.3 584.1h0.8v0.8h-0.8zM159.4 586.4h0.8v0.8h-0.8zM167.2 595.7h0.8v0.8h-0.8zM144.5 592.1h0.8v0.8h-0.8zM161.2 589.4h0.8v0.8h-0.8zM163.9 591.4h0.8v0.8h-0.8zM156.0 590.0h0.8v0.8h-0.8zM163.4 592.9h0.8v0.8h-0.8zM143.1 594.5h0.8v0.8h-0.8zM146.8 582.9h0.8v0.8h-0.8zM160.9 581.6h0.8v0.8h-0.8zM159.6 589.1h0.8v0.8h-0.8zM158.6 590.2h0.8v0.8h-0.8zM167.4 598.1h0.8v0.8h-0.8zM153.9 589.5h0.8v0.8h-0.8zM144.9 585.6h0.8v0.8h-0.8zM158.1 582.7h0.8v0.8h-0.8zM154.5 587.4h0.8v0.8h-0.8zM155.9 589.1h0.8v0.8h-0.8zM142.2 586.3h0.8v0.8h-0.8zM145.3 586.2h0.8v0.8h-0.8zM151.2 593.3h0.8v0.8h-0.8zM163.7 599.7h0.8v0.8h-0.8zM147.4 584.9h0.8v0.8h-0.8zM163.0 589.1h0.8v0.8h-0.8zM152.5 589.8h0.8v0.8h-0.8zM150.6 586.6h0.8v0.8h-0.8zM168.0 587.4h0.8v0.8h-0.8zM142.1 589.1h0.8v0.8h-0.8zM156.7 592.4h0.8v0.8h-0.8zM158.5 589.0h0.8v0.8h-0.8zM153.9 588.2h0.8v0.8h-0.8zM162.5 581.3h0.8v0.8h-0.8zM151.7 591.5h0.8v0.8h-0.8zM148.6 581.5h0.8v0.8h-0.8zM169.7 584.3h0.8v0.8h-0.8zM143.7 588.8h0.8v0.8h-0.8zM150.9 585.0h0.8v0.8h-0.8zM164.0 587.8h0.8v0.8h-0.8zM154.4 583.4h0.8v0.8h-0.8zM164.0 587.1h0.8v0.8h-0.8zM164.4 590.8h0.8v0.8h-0.8zM175.9 585.1h0.8v0.8h-0.8zM156.0 588.4h0.8v0.8h-0.8zM172.0 587.8h0.8v0.8h-0.8zM160.5 591.6h0.8v0.8h-0.8zM161.0 586.9h0.8v0.8h-0.8zM144.0 588.3h0.8v0.8h-0.8zM165.5 589.1h0.8v0.8h-0.8zM155.2 587.2h0.8v0.8h-0.8zM148.7 588.6h0.8v0.8h-0.8zM168.1 589.9h0.8v0.8h-0.8zM151.4 587.0h0.8v0.8h-0.8zM147.6 594.0h0.8v0.8h-0.8zM148.7 591.2h0.8v0.8h-0.8zM143.3 590.1h0.8v0.8h-0.8zM143.3 587.4h0.8v0.8h-0.8zM164.4 584.7h0.8v0.8h-0.8zM158.6 589.2h0.8v0.8h-0.8zM148.8 588.1h0.8v0.8h-0.8zM147.0 586.4h0.8v0.8h-0.8zM166.0 581.2h0.8v0.8h-0.8zM153.5 590.0h0.8v0.8h-0.8zM162.4 589.2h0.8v0.8h-0.8zM152.1 590.5h0.8v0.8h-0.8zM168.6 581.2h0.8v0.8h-0.8zM155.5 589.0h0.8v0.8h-0.8zM160.0 587.3h0.8v0.8h-0.8zM150.5 593.3h0.8v0.8h-0.8zM143.2 590.9h0.8v0.8h-0.8zM170.3 587.6h0.8v0.8h-0.8zM172.5 585.6h0.8v0.8h-0.8zM154.4 585.7h0.8v0.8h-0.8zM145.0 583.6h0.8v0.8h-0.8zM162.9 586.0h0.8v0.8h-0.8zM153.9 586.8h0.8v0.8h-0.8zM156.1 591.0h0.8v0.8h-0.8zM159.2 589.2h0.8v0.8h-0.8zM148.7 589.6h0.8v0.8h-0.8zM154.9 587.8h0.8v0.8h-0.8zM161.2 588.2h0.8v0.8h-0.8zM147.7 594.0h0.8v0.8h-0.8zM146.9 592.8h0.8v0.8h-0.8zM143.9 587.2h0.8v0.8h-0.8zM146.6 584.4h0.8v0.8h-0.8zM158.9 583.6h0.8v0.8h-0.8zM142.1 586.9h0.8v0.8h-0.8zM168.3 583.4h0.8v0.8h-0.8zM144.9 584.9h0.8v0.8h-0.8zM157.2 587.8h0.8v0.8h-0.8zM148.4 585.9h0.8v0.8h-0.8zM158.4 585.3h0.8v0.8h-0.8zM141.5 585.6h0.8v0.8h-0.8zM157.3 588.1h0.8v0.8h-0.8zM153.8 589.2h0.8v0.8h-0.8zM147.4 592.8h0.8v0.8h-0.8zM141.6 581.0h0.8v0.8h-0.8zM151.2 585.5h0.8v0.8h-0.8z" fill="#555"/>
<path d="M155.8 588.8h0.8v0.8h-0.8zM142.3 585.6h0.8v0.8h-0.8zM159.8 593.6h0.8v0.8h-0.8zM156.6 584.9h0.8v0.8h-0.8zM150.2 597.2h0.8v0.8h-0.8zM149.8 584.5h0.8v0.8h-0.8zM153.1 589.9h0.8v0.8h-0.8zM141.1 586.5h0.8v0.8h-0.8zM157.9 583.9h0.8v0.8h-0.8zM149.3 586.0h0.8v0.8h-0.8zM160.2 587.8h0.8v0.8h-0.8zM154.0 586.7h0.8v0.8h-0.8zM142.4 587.1h0.8v0.8h-0.8zM156.8 581.2h0.8v0.8h-0.8zM160.4 592.4h0.8v0.8h-0.8zM158.5 586.9h0.8v0.8h-0.8zM171.3 587.8h0.8v0.8h-0.8zM162.5 584.0h0.8v0.8h-0.8zM142.0 591.5h0.8v0.8h-0.8zM169.4 587.3h0.8v0.8h-0.8zM157.5 588.6h0.8v0.8h-0.8zM159.6 583.9h0.8v0.8h-0.8zM161.2 587.9h0.8v0.8h-0.8zM147.3 588.0h0.8v0.8h-0.8zM147.2 591.8h0.8v0.8h-0.8zM148.5 592.7h0.8v0.8h-0.8zM147.2 585.8h0.8v0.8h-0.8zM158.2 590.2h0.8v0.8h-0.8zM160.6 585.9h0.8v0.8h-0.8zM149.7 588.7h0.8v0.8h-0.8zM158.7 585.2h0.8v0.8h-0.8zM157.3 586.7h0.8v0.8h-0.8zM145.9 584.6h0.8v0.8h-0.8zM155.2 589.9h0.8v0.8h-0.8zM172.5 587.3h0.8v0.8h-0.8zM145.9 586.8h0.8v0.8h-0.8zM155.8 585.4h0.8v0.8h-0.8zM143.5 588.6h0.8v0.8h-0.8zM169.9 589.3h0.8v0.8h-0.8zM143.3 587.5h0.8v0.8h-0.8zM148.6 587.1h0.8v0.8h-0.8zM153.5 587.8h0.8v0.8h-0.8zM140.5 586.7h0.8v0.8h-0.8zM164.7 589.6h0.8v0.8h-0.8zM145.4 587.5h0.8v0.8h-0.8zM159.4 589.7h0.8v0.8h-0.8zM163.5 593.9h0.8v0.8h-0.8zM160.7 584.8h0.8v0.8h-0.8zM150.5 586.9h0.8v0.8h-0.8zM146.3 590.6h0.8v0.8h-0.8zM154.5 584.9h0.8v0.8h-0.8zM163.1 584.8h0.8v0.8h-0.8zM154.6 585.9h0.8v0.8h-0.8zM148.5 591.2h0.8v0.8h-0.8zM147.6 590.8h0.8v0.8h-0.8zM150.5 587.8h0.8v0.8h-0.8zM158.2 589.6h0.8v0.8h-0.8zM148.3 583.0h0.8v0.8h-0.8zM155.9 587.9h0.8v0.8h-0.8zM164.0 587.8h0.8v0.8h-0.8zM141.6 585.1h0.8v0.8h-0.8zM164.9 582.5h0.8v0.8h-0.8zM154.9 586.3h0.8v0.8h-0.8zM147.6 586.4h0.8v0.8h-0.8zM141.8 591.6h0.8v0.8h-0.8zM165.2 582.1h0.8v0.8h-0.8zM144.8 589.3h0.8v0.8h-0.8zM150.4 589.5h0.8v0.8h-0.8zM157.1 587.7h0.8v0.8h-0.8zM170.5 583.9h0.8v0.8h-0.8zM141.3 585.7h0.8v0.8h-0.8zM161.5 593.0h0.8v0.8h-0.8zM175.7 584.0h0.8v0.8h-0.8zM151.8 590.2h0.8v0.8h-0.8zM168.3 593.3h0.8v0.8h-0.8zM154.8 588.2h0.8v0.8h-0.8zM149.3 589.7h0.8v0.8h-0.8zM167.6 591.0h0.8v0.8h-0.8zM162.0 591.1h0.8v0.8h-0.8zM169.4 580.1h0.8v0.8h-0.8zM145.7 590.1h0.8v0.8h-0.8zM146.4 580.9h0.8v0.8h-0.8zM167.2 588.1h0.8v0.8h-0.8zM149.8 593.0h0.8v0.8h-0.8zM149.6 584.6h0.8v0.8h-0.8zM146.6 586.8h0.8v0.8h-0.8zM150.1 582.7h0.8v0.8h-0.8zM150.8 585.2h0.8v0.8h-0.8zM159.7 593.7h0.8v0.8h-0.8zM150.7 590.4h0.8v0.8h-0.8zM158.8 590.0h0.8v0.8h-0.8zM149.3 588.9h0.8v0.8h-0.8zM142.1 587.5h0.8v0.8h-0.8zM167.9 588.4h0.8v0.8h-0.8zM161.8 588.0h0.8v0.8h-0.8zM169.0 583.7h0.8v0.8h-0.8zM168.5 590.1h0.8v0.8h-0.8zM148.3 584.2h0.8v0.8h-0.8zM157.0 587.6h0.8v0.8h-0.8zM155.7 588.1h0.8v0.8h-0.8zM177.4 582.1h0.8v0.8h-0.8zM151.8 595.5h0.8v0.8h-0.8zM149.6 587.8h0.8v0.8h-0.8zM165.0 589.5h0.8v0.8h-0.8zM141.3 587.3h0.8v0.8h-0.8zM165.6 594.0h0.8v0.8h-0.8zM155.7 581.3h0.8v0.8h-0.8zM156.1 591.1h0.8v0.8h-0.8zM151.8 590.6h0.8v0.8h-0.8zM145.3 593.2h0.8v0.8h-0.8zM153.5 590.1h0.8v0.8h-0.8zM147.8 584.6h0.8v0.8h-0.8zM141.5 583.6h0.8v0.8h-0.8zM163.9 586.5h0.8v0.8h-0.8zM167.2 588.2h0.8v0.8h-0.8zM153.4 588.2h0.8v0.8h-0.8zM148.8 585.6h0.8v0.8h-0.8zM162.9 588.0h0.8v0.8h-0.8zM163.0 590.1h0.8v0.8h-0.8zM159.3 591.8h0.8v0.8h-0.8zM163.3 589.8h0.8v0.8h-0.8zM169.5 593.4h0.8v0.8h-0.8zM164.9 590.3h0.8v0.8h-0.8zM174.4 590.1h0.8v0.8h-0.8zM160.9 590.7h0.8v0.8h-0.8zM148.3 589.0h0.8v0.8h-0.8zM154.4 588.5h0.8v0.8h-0.8zM156.0 590.7h0.8v0.8h-0.8zM157.8 586.5h0.8v0.8h-0.8zM150.2 590.5h0.8v0.8h-0.8zM160.2 596.3h0.8v0.8h-0.8zM169.0 588.8h0.8v0.8h-0.8zM143.5 586.4h0.8v0.8h-0.8zM160.7 584.9h0.8v0.8h-0.8zM146.5 590.8h0.8v0.8h-0.8zM143.9 589.4h0.8v0.8h-0.8zM160.4 586.1h0.8v0.8h-0.8zM168.4 590.9h0.8v0.8h-0.8zM163.8 593.4h0.8v0.8h-0.8zM158.2 584.0h0.8v0.8h-0.8zM151.8 585.1h0.8v0.8h-0.8zM157.3 585.4h0.8v0.8h-0.8zM172.6 584.5h0.8v0.8h-0.8zM166.4 593.8h0.8v0.8h-0.8zM163.6 591.4h0.8v0.8h-0.8zM154.6 588.0h0.8v0.8h-0.8zM145.1 584.5h0.8v0.8h-0.8zM158.9 587.1h0.8v0.8h-0.8zM163.1 587.5h0.8v0.8h-0.8zM157.4 590.6h0.8v0.8h-0.8zM158.8 591.2h0.8v0.8h-0.8zM160.2 593.6h0.8v0.8h-0.8zM176.5 587.3h0.8v0.8h-0.8zM172.7 588.2h0.8v0.8h-0.8zM142.1 587.6h0.8v0.8h-0.8zM147.7 591.9h0.8v0.8h-0.8zM147.7 588.4h0.8v0.8h-0.8zM172.1 591.0h0.8v0.8h-0.8zM153.0 584.7h0.8v0.8h-0.8zM147.9 594.6h0.8v0.8h-0.8zM162.2 595.7h0.8v0.8h-0.8zM167.4 588.2h0.8v0.8h-0.8zM165.3 580.9h0.8v0.8h-0.8zM170.8 590.4h0.8v0.8h-0.8zM153.4 584.5h0.8v0.8h-0.8zM159.1 587.9h0.8v0.8h-0.8zM167.8 589.9h0.8v0.8h-0.8zM162.5 588.6h0.8v0.8h-0.8zM155.1 582.3h0.8v0.8h-0.8zM153.3 585.6h0.8v0.8h-0.8zM173.3 583.4h0.8v0.8h-0.8zM161.9 587.6h0.8v0.8h-0.8zM162.3 587.7h0.8v0.8h-0.8zM145.7 591.5h0.8v0.8h-0.8zM154.9 593.7h0.8v0.8h-0.8zM166.7 588.2h0.8v0.8h-0.8zM143.1 588.8h0.8v0.8h-0.8zM149.3 586.2h0.8v0.8h-0.8zM172.9 590.8h0.8v0.8h-0.8zM151.3 585.9h0.8v0.8h-0.8zM143.4 587.0h0.8v0.8h-0.8zM163.2 593.2h0.8v0.8h-0.8zM142.6 583.0h0.8v0.8h-0.8zM149.7 590.6h0.8v0.8h-0.8zM143.0 586.8h0.8v0.8h-0.8zM167.5 589.0h0.8v0.8h-0.8zM169.0 590.1h0.8v0.8h-0.8zM149.9 584.3h0.8v0.8h-0.8zM177.0 590.4h0.8v0.8h-0.8zM150.4 586.9h0.8v0.8h-0.8zM151.1 593.9h0.8v0.8h-0.8zM158.1 588.5h0.8v0.8h-0.8zM162.4 584.2h0.8v0.8h-0.8zM146.2 588.2h0.8v0.8h-0.8zM146.9 593.5h0.8v0.8h-0.8zM149.6 589.0h0.8v0.8h-0.8zM147.6 588.5h0.8v0.8h-0.8zM156.2 585.0h0.8v0.8h-0.8zM161.3 588.9h0.8v0.8h-0.8zM164.0 591.5h0.8v0.8h-0.8zM171.3 592.7h0.8v0.8h-0.8zM166.3 582.6h0.8v0.8h-0.8zM176.3 582.3h0.8v0.8h-0.8zM145.1 586.5h0.8v0.8h-0.8zM151.1 592.4h0.8v0.8h-0.8zM148.7 592.6h0.8v0.8h-0.8zM149.8 585.4h0.8v0.8h-0.8zM150.9 588.9h0.8v0.8h-0.8zM155.3 593.0h0.8v0.8h-0.8zM143.4 584.9h0.8v0.8h-0.8zM173.0 589.2h0.8v0.8h-0.8zM153.2 590.8h0.8v0.8h-0.8zM150.9 591.4h0.8v0.8h-0.8zM153.4 592.2h0.8v0.8h-0.8zM144.1 587.1h0.8v0.8h-0.8zM168.9 585.7h0.8v0.8h-0.8zM159.4 590.6h0.8v0.8h-0.8zM143.2 588.8h0.8v0.8h-0.8zM167.4 592.0h0.8v0.8h-0.8zM148.5 591.5h0.8v0.8h-0.8z" fill="#a0a0a0"/>
<path d="M158.9 590.1h0.8v0.8h-0.8zM149.8 590.2h0.8v0.8h-0.8zM153.0 588.3h0.8v0.8h-0.8zM144.9 587.2h0.8v0.8h-0.8zM175.0 586.6h0.8v0.8h-0.8zM167.0 587.2h0.8v0.8h-0.8zM148.8 586.5h0.8v0.8h-0.8zM175.2 589.8h0.8v0.8h-0.8zM142.8 591.3h0.8v0.8h-0.8zM164.4 587.0h0.8v0.8h-0.8zM158.1 588.7h0.8v0.8h-0.8zM155.2 580.5h0.8v0.8h-0.8zM155.1 584.7h0.8v0.8h-0.8zM173.8 587.3h0.8v0.8h-0.8zM141.1 590.6h0.8v0.8h-0.8zM167.5 583.4h0.8v0.8h-0.8zM153.3 586.8h0.8v0.8h-0.8zM162.5 588.6h0.8v0.8h-0.8zM159.6 592.0h0.8v0.8h-0.8zM168.0 594.3h0.8v0.8h-0.8zM155.1 584.4h0.8v0.8h-0.8zM177.5 589.2h0.8v0.8h-0.8zM154.2 586.7h0.8v0.8h-0.8zM151.2 589.2h0.8v0.8h-0.8zM147.0 586.2h0.8v0.8h-0.8zM153.1 582.0h0.8v0.8h-0.8zM162.2 588.0h0.8v0.8h-0.8zM155.5 582.7h0.8v0.8h-0.8zM152.9 589.4h0.8v0.8h-0.8zM157.3 588.6h0.8v0.8h-0.8zM157.1 582.0h0.8v0.8h-0.8zM157.0 593.0h0.8v0.8h-0.8zM155.8 587.9h0.8v0.8h-0.8zM149.6 587.5h0.8v0.8h-0.8zM151.1 589.9h0.8v0.8h-0.8zM165.5 583.8h0.8v0.8h-0.8zM145.4 584.4h0.8v0.8h-0.8zM155.6 590.2h0.8v0.8h-0.8zM151.2 588.7h0.8v0.8h-0.8zM173.3 581.4h0.8v0.8h-0.8zM146.1 592.2h0.8v0.8h-0.8zM146.0 587.7h0.8v0.8h-0.8zM151.7 587.2h0.8v0.8h-0.8zM161.5 590.6h0.8v0.8h-0.8zM155.3 587.5h0.8v0.8h-0.8zM146.5 584.7h0.8v0.8h-0.8zM156.9 582.8h0.8v0.8h-0.8zM145.4 593.2h0.8v0.8h-0.8zM156.9 587.8h0.8v0.8h-0.8zM172.5 591.9h0.8v0.8h-0.8zM168.2 585.2h0.8v0.8h-0.8zM141.7 586.2h0.8v0.8h-0.8zM154.8 588.3h0.8v0.8h-0.8zM157.6 592.4h0.8v0.8h-0.8zM172.2 587.4h0.8v0.8h-0.8zM157.2 585.2h0.8v0.8h-0.8zM145.8 594.0h0.8v0.8h-0.8zM156.7 592.2h0.8v0.8h-0.8zM145.2 583.5h0.8v0.8h-0.8zM168.9 586.9h0.8v0.8h-0.8zM156.2 588.9h0.8v0.8h-0.8zM172.4 583.7h0.8v0.8h-0.8zM146.7 586.5h0.8v0.8h-0.8zM156.1 584.5h0.8v0.8h-0.8zM150.3 591.9h0.8v0.8h-0.8zM156.1 586.1h0.8v0.8h-0.8zM149.8 588.4h0.8v0.8h-0.8zM166.1 592.8h0.8v0.8h-0.8zM156.8 586.2h0.8v0.8h-0.8zM146.2 587.3h0.8v0.8h-0.8zM157.3 588.4h0.8v0.8h-0.8zM164.1 588.5h0.8v0.8h-0.8zM147.0 584.4h0.8v0.8h-0.8zM151.8 591.0h0.8v0.8h-0.8zM145.0 588.3h0.8v0.8h-0.8zM152.8 583.7h0.8v0.8h-0.8zM146.4 584.3h0.8v0.8h-0.8zM157.9 585.2h0.8v0.8h-0.8zM143.3 587.8h0.8v0.8h-0.8zM148.0 584.8h0.8v0.8h-0.8zM145.5 589.7h0.8v0.8h-0.8zM142.5 589.2h0.8v0.8h-0.8zM140.7 589.0h0.8v0.8h-0.8zM151.4 585.1h0.8v0.8h-0.8zM152.3 588.2h0.8v0.8h-0.8zM161.6 586.3h0.8v0.8h-0.8zM168.8 588.3h0.8v0.8h-0.8zM142.6 585.5h0.8v0.8h-0.8zM169.4 587.9h0.8v0.8h-0.8zM172.6 583.8h0.8v0.8h-0.8zM145.4 593.0h0.8v0.8h-0.8zM164.0 594.7h0.8v0.8h-0.8zM160.7 585.6h0.8v0.8h-0.8zM168.9 588.6h0.8v0.8h-0.8zM166.8 590.5h0.8v0.8h-0.8zM147.4 587.1h0.8v0.8h-0.8zM150.4 586.6h0.8v0.8h-0.8zM149.4 587.0h0.8v0.8h-0.8zM163.3 593.5h0.8v0.8h-0.8zM155.9 590.3h0.8v0.8h-0.8zM157.6 582.4h0.8v0.8h-0.8zM165.5 589.3h0.8v0.8h-0.8zM158.7 585.0h0.8v0.8h-0.8zM154.7 591.4h0.8v0.8h-0.8zM142.9 587.0h0.8v0.8h-0.8zM167.4 592.5h0.8v0.8h-0.8zM156.4 588.3h0.8v0.8h-0.8zM150.3 590.6h0.8v0.8h-0.8zM165.3 587.8h0.8v0.8h-0.8zM145.6 589.9h0.8v0.8h-0.8zM156.4 584.9h0.8v0.8h-0.8zM147.6 584.6h0.8v0.8h-0.8zM163.9 586.1h0.8v0.8h-0.8zM166.8 586.2h0.8v0.8h-0.8zM148.9 591.1h0.8v0.8h-0.8zM150.9 584.0h0.8v0.8h-0.8zM167.8 591.4h0.8v0.8h-0.8zM163.1 588.7h0.8v0.8h-0.8zM161.4 584.1h0.8v0.8h-0.8zM172.0 593.1h0.8v0.8h-0.8zM141.8 585.6h0.8v0.8h-0.8zM174.6 586.1h0.8v0.8h-0.8zM154.2 585.2h0.8v0.8h-0.8zM146.7 591.7h0.8v0.8h-0.8zM144.5 592.5h0.8v0.8h-0.8zM147.5 584.4h0.8v0.8h-0.8zM158.5 587.0h0.8v0.8h-0.8zM153.5 582.7h0.8v0.8h-0.8zM161.8 588.5h0.8v0.8h-0.8zM143.3 591.3h0.8v0.8h-0.8zM169.1 593.7h0.8v0.8h-0.8zM152.5 593.6h0.8v0.8h-0.8zM149.0 587.6h0.8v0.8h-0.8zM150.6 589.9h0.8v0.8h-0.8zM156.2 583.5h0.8v0.8h-0.8zM152.5 588.2h0.8v0.8h-0.8zM165.7 593.8h0.8v0.8h-0.8zM153.6 585.4h0.8v0.8h-0.8zM177.4 588.1h0.8v0.8h-0.8zM161.6 589.8h0.8v0.8h-0.8zM177.1 594.2h0.8v0.8h-0.8zM157.0 589.2h0.8v0.8h-0.8zM172.6 589.9h0.8v0.8h-0.8zM175.1 586.4h0.8v0.8h-0.8zM153.0 588.5h0.8v0.8h-0.8zM156.9 583.2h0.8v0.8h-0.8zM152.3 588.0h0.8v0.8h-0.8zM169.3 589.1h0.8v0.8h-0.8zM147.8 596.4h0.8v0.8h-0.8zM158.2 589.5h0.8v0.8h-0.8zM159.6 588.7h0.8v0.8h-0.8zM168.9 589.5h0.8v0.8h-0.8zM140.7 591.3h0.8v0.8h-0.8zM163.9 584.1h0.8v0.8h-0.8zM161.1 594.9h0.8v0.8h-0.8zM174.5 587.7h0.8v0.8h-0.8zM156.3 585.9h0.8v0.8h-0.8zM145.9 594.1h0.8v0.8h-0.8zM166.8 583.0h0.8v0.8h-0.8zM148.3 594.3h0.8v0.8h-0.8zM167.3 585.1h0.8v0.8h-0.8zM169.4 583.5h0.8v0.8h-0.8zM150.6 594.7h0.8v0.8h-0.8zM148.7 589.4h0.8v0.8h-0.8zM164.1 595.2h0.8v0.8h-0.8zM145.5 588.2h0.8v0.8h-0.8zM157.6 589.7h0.8v0.8h-0.8zM147.4 591.7h0.8v0.8h-0.8zM174.4 588.2h0.8v0.8h-0.8zM156.5 582.1h0.8v0.8h-0.8zM178.0 586.7h0.8v0.8h-0.8zM149.0 584.7h0.8v0.8h-0.8zM163.3 579.2h0.8v0.8h-0.8zM162.7 586.4h0.8v0.8h-0.8zM154.1 584.5h0.8v0.8h-0.8zM142.6 589.9h0.8v0.8h-0.8zM155.4 582.8h0.8v0.8h-0.8zM169.7 589.7h0.8v0.8h-0.8zM161.8 586.9h0.8v0.8h-0.8zM159.5 588.8h0.8v0.8h-0.8zM151.1 590.7h0.8v0.8h-0.8zM177.4 588.2h0.8v0.8h-0.8zM160.4 587.0h0.8v0.8h-0.8zM164.2 590.9h0.8v0.8h-0.8zM158.0 587.1h0.8v0.8h-0.8zM171.5 587.1h0.8v0.8h-0.8zM169.1 588.2h0.8v0.8h-0.8zM165.9 590.6h0.8v0.8h-0.8zM165.9 592.6h0.8v0.8h-0.8zM156.4 587.6h0.8v0.8h-0.8zM145.6 590.2h0.8v0.8h-0.8zM144.8 587.5h0.8v0.8h-0.8zM146.2 595.8h0.8v0.8h-0.8zM141.5 593.2h0.8v0.8h-0.8zM155.5 588.3h0.8v0.8h-0.8zM149.8 586.4h0.8v0.8h-0.8zM144.7 580.7h0.8v0.8h-0.8zM160.9 589.1h0.8v0.8h-0.8zM166.8 581.8h0.8v0.8h-0.8zM156.5 584.3h0.8v0.8h-0.8zM159.8 597.7h0.8v0.8h-0.8zM149.4 586.5h0.8v0.8h-0.8zM151.0 589.7h0.8v0.8h-0.8zM168.0 591.5h0.8v0.8h-0.8zM155.1 596.0h0.8v0.8h-0.8zM162.3 588.8h0.8v0.8h-0.8zM154.2 590.2h0.8v0.8h-0.8zM155.4 587.4h0.8v0.8h-0.8zM158.2 595.6h0.8v0.8h-0.8zM166.9 589.7h0.8v0.8h-0.8zM147.9 586.3h0.8v0.8h-0.8zM157.4 584.8h0.8v0.8h-0.8zM146.6 594.1h0.8v0.8h-0.8zM147.5 590.4h0.8v0.8h-0.8zM169.8 583.6h0.8v0.8h-0.8zM155.8 588.3h0.8v0.8h-0.8zM152.4 584.4h0.8v0.8h-0.8zM147.3 585.2h0.8v0.8h-0.8zM147.4 588.2h0.8v0.8h-0.8zM156.5 583.8h0.8v0.8h-0.8zM171.2 592.9h0.8v0.8h-0.8zM151.5 585.1h0.8v0.8h-0.8zM146.1 585.6h0.8v0.8h-0.8zM146.4 590.7h0.8v0.8h-0.8zM152.0 586.9h0.8v0.8h-0.8zM173.4 592.8h0.8v0.8h-0.8zM165.2 581.9h0.8v0.8h-0.8zM159.3 587.3h0.8v0.8h-0.8zM161.6 588.9h0.8v0.8h-0.8zM149.3 587.8h0.8v0.8h-0.8zM171.0 584.4h0.8v0.8h-0.8zM144.3 585.9h0.8v0.8h-0.8zM153.2 594.5h0.8v0.8h-0.8zM168.9 582.5h0.8v0.8h-0.8zM165.0 589.5h0.8v0.8h-0.8zM148.6 589.2h0.8v0.8h-0.8zM153.1 584.9h0.8v0.8h-0.8zM157.7 588.2h0.8v0.8h-0.8z" fill="#6e6e6e"/>
<path d="M170.9 599.7h0.8v0.8h-0.8zM164.1 593.1h0.8v0.8h-0.8zM150.7 581.1h0.8v0.8h-0.8zM186.5 602.8h0.8v0.8h-0.8zM171.9 580.7h0.8v0.8h-0.8zM161.6 595.2h0.8v0.8h-0.8zM159.2 585.2h0.8v0.8h-0.8zM140.8 593.6h0.8v0.8h-0.8zM161.4 585.7h0.8v0.8h-0.8zM155.1 584.0h0.8v0.8h-0.8zM142.1 603.1h0.8v0.8h-0.8zM141.1 593.8h0.8v0.8h-0.8zM183.9 583.1h0.8v0.8h-0.8zM157.1 592.6h0.8v0.8h-0.8zM159.7 574.9h0.8v0.8h-0.8zM156.4 592.3h0.8v0.8h-0.8zM158.2 578.8h0.8v0.8h-0.8zM145.6 576.6h0.8v0.8h-0.8zM163.8 599.5h0.8v0.8h-0.8zM163.7 585.4h0.8v0.8h-0.8zM159.6 583.7h0.8v0.8h-0.8zM141.0 595.5h0.8v0.8h-0.8zM156.9 594.6h0.8v0.8h-0.8zM166.0 585.1h0.8v0.8h-0.8zM151.2 582.3h0.8v0.8h-0.8zM157.8 602.6h0.8v0.8h-0.8zM147.1 602.9h0.8v0.8h-0.8zM161.4 586.8h0.8v0.8h-0.8zM168.5 584.5h0.8v0.8h-0.8zM154.9 594.5h0.8v0.8h-0.8zM149.5 589.0h0.8v0.8h-0.8zM177.1 588.2h0.8v0.8h-0.8zM176.5 598.5h0.8v0.8h-0.8zM152.8 591.6h0.8v0.8h-0.8zM148.8 592.2h0.8v0.8h-0.8zM156.1 593.4h0.8v0.8h-0.8zM159.7 586.7h0.8v0.8h-0.8zM178.0 584.4h0.8v0.8h-0.8zM146.2 593.1h0.8v0.8h-0.8zM156.3 597.8h0.8v0.8h-0.8zM147.8 578.6h0.8v0.8h-0.8zM171.7 590.1h0.8v0.8h-0.8zM144.2 590.8h0.8v0.8h-0.8zM150.6 592.9h0.8v0.8h-0.8zM147.7 583.8h0.8v0.8h-0.8zM162.2 592.1h0.8v0.8h-0.8zM171.3 594.2h0.8v0.8h-0.8zM155.8 593.9h0.8v0.8h-0.8zM171.2 582.3h0.8v0.8h-0.8zM152.4 579.3h0.8v0.8h-0.8zM141.7 589.1h0.8v0.8h-0.8zM172.2 585.9h0.8v0.8h-0.8zM154.9 589.1h0.8v0.8h-0.8zM173.8 584.3h0.8v0.8h-0.8zM158.1 584.8h0.8v0.8h-0.8zM185.9 572.0h0.8v0.8h-0.8zM155.7 583.3h0.8v0.8h-0.8zM142.6 578.3h0.8v0.8h-0.8zM180.3 580.4h0.8v0.8h-0.8zM160.0 593.0h0.8v0.8h-0.8zM169.6 587.6h0.8v0.8h-0.8zM151.9 588.8h0.8v0.8h-0.8zM142.5 597.7h0.8v0.8h-0.8zM163.4 583.3h0.8v0.8h-0.8zM156.6 591.4h0.8v0.8h-0.8zM179.7 583.2h0.8v0.8h-0.8zM162.3 580.2h0.8v0.8h-0.8zM151.8 590.4h0.8v0.8h-0.8zM145.2 595.7h0.8v0.8h-0.8zM151.9 585.1h0.8v0.8h-0.8zM145.3 600.9h0.8v0.8h-0.8zM140.4 590.0h0.8v0.8h-0.8zM146.5 587.7h0.8v0.8h-0.8zM170.2 596.6h0.8v0.8h-0.8zM152.2 583.4h0.8v0.8h-0.8zM164.1 583.4h0.8v0.8h-0.8zM154.8 590.0h0.8v0.8h-0.8zM153.9 591.0h0.8v0.8h-0.8zM145.1 591.2h0.8v0.8h-0.8zM194.6 587.9h0.8v0.8h-0.8zM186.4 588.4h0.8v0.8h-0.8z" fill="#8a8a8a"/>
<path d="M167.9 593.0h0.8v0.8h-0.8zM150.2 589.7h0.8v0.8h-0.8zM174.8 600.3h0.8v0.8h-0.8zM142.8 590.0h0.8v0.8h-0.8zM149.1 592.8h0.8v0.8h-0.8zM160.0 586.2h0.8v0.8h-0.8zM176.8 594.1h0.8v0.8h-0.8zM178.3 584.9h0.8v0.8h-0.8zM150.6 583.6h0.8v0.8h-0.8zM161.6 590.7h0.8v0.8h-0.8zM167.9 587.7h0.8v0.8h-0.8zM150.9 592.0h0.8v0.8h-0.8zM163.3 598.9h0.8v0.8h-0.8zM173.4 579.9h0.8v0.8h-0.8zM176.8 602.8h0.8v0.8h-0.8zM156.5 576.4h0.8v0.8h-0.8zM157.7 603.5h0.8v0.8h-0.8zM163.1 591.3h0.8v0.8h-0.8zM158.7 585.4h0.8v0.8h-0.8zM157.8 596.8h0.8v0.8h-0.8zM159.6 583.7h0.8v0.8h-0.8zM167.3 581.2h0.8v0.8h-0.8zM150.8 586.2h0.8v0.8h-0.8zM152.5 582.3h0.8v0.8h-0.8zM177.2 592.2h0.8v0.8h-0.8zM157.2 584.2h0.8v0.8h-0.8zM158.5 590.6h0.8v0.8h-0.8zM144.8 586.3h0.8v0.8h-0.8zM185.6 587.0h0.8v0.8h-0.8zM158.3 586.6h0.8v0.8h-0.8zM144.1 594.0h0.8v0.8h-0.8zM153.7 586.0h0.8v0.8h-0.8zM164.1 602.2h0.8v0.8h-0.8zM169.3 591.2h0.8v0.8h-0.8zM175.1 579.4h0.8v0.8h-0.8zM162.9 582.1h0.8v0.8h-0.8zM161.8 587.2h0.8v0.8h-0.8zM159.0 597.2h0.8v0.8h-0.8zM153.4 591.2h0.8v0.8h-0.8zM153.9 579.1h0.8v0.8h-0.8zM174.2 582.2h0.8v0.8h-0.8zM168.0 579.7h0.8v0.8h-0.8zM154.8 583.7h0.8v0.8h-0.8zM154.2 584.4h0.8v0.8h-0.8zM166.0 585.0h0.8v0.8h-0.8zM145.4 579.0h0.8v0.8h-0.8zM143.0 587.3h0.8v0.8h-0.8zM178.8 591.8h0.8v0.8h-0.8zM168.4 585.8h0.8v0.8h-0.8zM172.8 595.0h0.8v0.8h-0.8zM161.3 598.6h0.8v0.8h-0.8zM154.7 592.1h0.8v0.8h-0.8zM149.0 583.7h0.8v0.8h-0.8zM155.3 590.4h0.8v0.8h-0.8zM179.6 592.9h0.8v0.8h-0.8zM141.8 587.0h0.8v0.8h-0.8zM168.7 578.3h0.8v0.8h-0.8zM146.9 587.6h0.8v0.8h-0.8zM155.2 586.3h0.8v0.8h-0.8zM140.7 580.1h0.8v0.8h-0.8zM165.3 590.3h0.8v0.8h-0.8zM160.3 593.1h0.8v0.8h-0.8zM160.6 578.3h0.8v0.8h-0.8zM167.2 580.8h0.8v0.8h-0.8zM146.7 607.8h0.8v0.8h-0.8zM182.5 602.2h0.8v0.8h-0.8zM144.1 581.5h0.8v0.8h-0.8zM149.8 591.3h0.8v0.8h-0.8zM179.4 588.2h0.8v0.8h-0.8zM150.4 581.9h0.8v0.8h-0.8zM175.8 592.3h0.8v0.8h-0.8zM162.3 593.1h0.8v0.8h-0.8zM177.9 585.2h0.8v0.8h-0.8zM170.7 593.8h0.8v0.8h-0.8zM162.5 584.5h0.8v0.8h-0.8zM160.4 591.9h0.8v0.8h-0.8zM169.3 590.3h0.8v0.8h-0.8z" fill="#a4a4a4"/>
<path d="M187.7 580.7h0.8v0.8h-0.8zM169.6 587.7h0.8v0.8h-0.8zM150.4 588.9h0.8v0.8h-0.8zM142.3 576.7h0.8v0.8h-0.8zM152.0 580.5h0.8v0.8h-0.8zM153.6 585.0h0.8v0.8h-0.8zM145.4 591.3h0.8v0.8h-0.8zM155.8 586.1h0.8v0.8h-0.8zM162.7 596.3h0.8v0.8h-0.8zM181.9 595.5h0.8v0.8h-0.8zM182.2 606.1h0.8v0.8h-0.8zM159.8 589.1h0.8v0.8h-0.8zM173.7 584.2h0.8v0.8h-0.8zM171.4 586.7h0.8v0.8h-0.8zM149.6 594.1h0.8v0.8h-0.8zM157.8 591.4h0.8v0.8h-0.8zM177.7 593.1h0.8v0.8h-0.8zM178.0 585.6h0.8v0.8h-0.8zM145.4 576.5h0.8v0.8h-0.8zM145.6 593.0h0.8v0.8h-0.8zM164.7 595.8h0.8v0.8h-0.8zM162.5 584.0h0.8v0.8h-0.8zM155.9 594.4h0.8v0.8h-0.8zM149.9 586.7h0.8v0.8h-0.8zM155.6 582.1h0.8v0.8h-0.8zM151.4 588.1h0.8v0.8h-0.8zM158.5 592.8h0.8v0.8h-0.8zM185.9 596.8h0.8v0.8h-0.8zM174.2 579.0h0.8v0.8h-0.8zM145.6 585.4h0.8v0.8h-0.8zM151.2 579.2h0.8v0.8h-0.8zM164.7 586.2h0.8v0.8h-0.8zM181.9 586.9h0.8v0.8h-0.8zM141.9 588.0h0.8v0.8h-0.8zM147.3 582.6h0.8v0.8h-0.8zM150.5 583.7h0.8v0.8h-0.8zM151.3 592.8h0.8v0.8h-0.8zM164.9 585.8h0.8v0.8h-0.8zM155.5 590.9h0.8v0.8h-0.8zM153.6 592.3h0.8v0.8h-0.8zM159.0 588.7h0.8v0.8h-0.8zM152.1 582.2h0.8v0.8h-0.8zM163.4 587.2h0.8v0.8h-0.8zM179.0 597.5h0.8v0.8h-0.8zM147.5 590.2h0.8v0.8h-0.8zM174.6 579.0h0.8v0.8h-0.8zM159.4 593.7h0.8v0.8h-0.8zM167.2 580.7h0.8v0.8h-0.8zM148.3 590.0h0.8v0.8h-0.8zM163.2 593.8h0.8v0.8h-0.8zM157.6 570.1h0.8v0.8h-0.8zM181.1 586.9h0.8v0.8h-0.8zM189.3 588.2h0.8v0.8h-0.8zM156.4 596.1h0.8v0.8h-0.8zM167.7 584.6h0.8v0.8h-0.8zM149.4 594.1h0.8v0.8h-0.8zM173.5 584.4h0.8v0.8h-0.8zM160.0 592.0h0.8v0.8h-0.8zM149.6 593.4h0.8v0.8h-0.8zM154.9 582.2h0.8v0.8h-0.8zM147.8 586.8h0.8v0.8h-0.8zM162.4 590.7h0.8v0.8h-0.8zM170.5 591.0h0.8v0.8h-0.8zM166.6 596.5h0.8v0.8h-0.8zM162.8 595.7h0.8v0.8h-0.8zM156.6 593.9h0.8v0.8h-0.8zM177.3 585.6h0.8v0.8h-0.8zM178.6 584.9h0.8v0.8h-0.8zM160.4 590.7h0.8v0.8h-0.8zM156.0 593.2h0.8v0.8h-0.8zM170.7 582.8h0.8v0.8h-0.8zM151.5 576.8h0.8v0.8h-0.8zM185.0 582.6h0.8v0.8h-0.8zM159.5 594.5h0.8v0.8h-0.8zM181.7 582.0h0.8v0.8h-0.8zM166.6 589.5h0.8v0.8h-0.8zM153.7 583.3h0.8v0.8h-0.8z" fill="#b8b8b8"/>
<path d="M210.2 634.0h0.8v0.8h-0.8zM209.0 625.9h0.8v0.8h-0.8zM203.8 632.2h0.8v0.8h-0.8zM211.5 609.7h0.8v0.8h-0.8zM207.2 622.6h0.8v0.8h-0.8zM199.1 631.6h0.8v0.8h-0.8zM202.0 634.0h0.8v0.8h-0.8zM204.6 632.9h0.8v0.8h-0.8zM207.9 611.9h0.8v0.8h-0.8zM208.4 616.1h0.8v0.8h-0.8zM203.0 621.4h0.8v0.8h-0.8zM207.2 603.1h0.8v0.8h-0.8zM204.4 610.8h0.8v0.8h-0.8zM203.9 617.7h0.8v0.8h-0.8zM207.2 618.7h0.8v0.8h-0.8zM205.3 611.3h0.8v0.8h-0.8zM205.7 631.0h0.8v0.8h-0.8zM202.5 625.2h0.8v0.8h-0.8zM201.9 615.9h0.8v0.8h-0.8zM201.7 610.5h0.8v0.8h-0.8zM199.7 615.9h0.8v0.8h-0.8zM200.6 616.4h0.8v0.8h-0.8zM195.5 625.9h0.8v0.8h-0.8zM204.9 618.5h0.8v0.8h-0.8zM204.3 617.7h0.8v0.8h-0.8zM201.3 633.5h0.8v0.8h-0.8zM202.9 624.6h0.8v0.8h-0.8zM204.8 627.1h0.8v0.8h-0.8zM197.6 607.0h0.8v0.8h-0.8zM203.9 634.0h0.8v0.8h-0.8zM205.0 633.3h0.8v0.8h-0.8zM204.6 617.6h0.8v0.8h-0.8zM212.2 634.0h0.8v0.8h-0.8zM203.5 621.0h0.8v0.8h-0.8zM203.5 623.2h0.8v0.8h-0.8zM207.7 616.5h0.8v0.8h-0.8zM204.5 607.8h0.8v0.8h-0.8zM202.0 634.0h0.8v0.8h-0.8zM200.5 621.7h0.8v0.8h-0.8zM202.3 615.8h0.8v0.8h-0.8zM206.4 634.0h0.8v0.8h-0.8zM202.8 609.7h0.8v0.8h-0.8zM208.7 623.3h0.8v0.8h-0.8zM195.7 630.9h0.8v0.8h-0.8zM202.2 603.9h0.8v0.8h-0.8zM204.2 627.1h0.8v0.8h-0.8zM202.7 632.0h0.8v0.8h-0.8zM205.4 606.0h0.8v0.8h-0.8zM199.0 623.0h0.8v0.8h-0.8zM206.5 619.8h0.8v0.8h-0.8zM206.6 616.0h0.8v0.8h-0.8zM199.6 625.0h0.8v0.8h-0.8zM203.2 603.9h0.8v0.8h-0.8zM204.8 612.1h0.8v0.8h-0.8zM208.0 618.9h0.8v0.8h-0.8zM202.2 609.3h0.8v0.8h-0.8zM207.0 626.8h0.8v0.8h-0.8zM198.6 633.9h0.8v0.8h-0.8zM206.5 621.6h0.8v0.8h-0.8zM200.4 617.0h0.8v0.8h-0.8zM204.8 616.5h0.8v0.8h-0.8zM206.8 634.0h0.8v0.8h-0.8zM200.4 620.2h0.8v0.8h-0.8zM202.7 627.1h0.8v0.8h-0.8zM206.4 631.1h0.8v0.8h-0.8zM212.0 609.9h0.8v0.8h-0.8zM202.0 621.6h0.8v0.8h-0.8zM207.4 618.5h0.8v0.8h-0.8zM204.5 611.9h0.8v0.8h-0.8zM211.1 627.7h0.8v0.8h-0.8zM201.0 629.9h0.8v0.8h-0.8zM202.8 622.2h0.8v0.8h-0.8zM205.7 621.6h0.8v0.8h-0.8zM203.6 622.4h0.8v0.8h-0.8zM202.6 634.0h0.8v0.8h-0.8zM197.8 611.5h0.8v0.8h-0.8zM208.0 634.0h0.8v0.8h-0.8zM197.2 604.8h0.8v0.8h-0.8zM203.7 620.7h0.8v0.8h-0.8zM210.2 618.8h0.8v0.8h-0.8zM207.8 615.6h0.8v0.8h-0.8zM203.1 619.1h0.8v0.8h-0.8zM203.0 626.7h0.8v0.8h-0.8zM204.2 625.2h0.8v0.8h-0.8zM201.9 618.8h0.8v0.8h-0.8zM210.6 619.3h0.8v0.8h-0.8zM201.0 608.0h0.8v0.8h-0.8zM211.7 625.8h0.8v0.8h-0.8zM198.7 617.6h0.8v0.8h-0.8zM207.3 616.1h0.8v0.8h-0.8zM204.5 626.4h0.8v0.8h-0.8zM210.1 634.0h0.8v0.8h-0.8zM203.9 621.4h0.8v0.8h-0.8zM202.7 614.4h0.8v0.8h-0.8zM203.9 628.6h0.8v0.8h-0.8zM206.0 619.2h0.8v0.8h-0.8zM206.5 622.6h0.8v0.8h-0.8zM205.1 624.2h0.8v0.8h-0.8zM205.7 634.0h0.8v0.8h-0.8zM203.1 621.1h0.8v0.8h-0.8zM198.8 616.1h0.8v0.8h-0.8zM205.8 617.7h0.8v0.8h-0.8zM203.2 619.7h0.8v0.8h-0.8zM211.1 632.3h0.8v0.8h-0.8zM200.2 618.3h0.8v0.8h-0.8zM208.8 626.9h0.8v0.8h-0.8zM204.3 616.4h0.8v0.8h-0.8zM204.3 625.2h0.8v0.8h-0.8zM200.1 603.9h0.8v0.8h-0.8zM205.4 616.4h0.8v0.8h-0.8zM197.5 630.4h0.8v0.8h-0.8zM206.5 613.0h0.8v0.8h-0.8zM205.5 617.7h0.8v0.8h-0.8zM202.8 621.5h0.8v0.8h-0.8zM201.9 616.1h0.8v0.8h-0.8zM205.3 616.5h0.8v0.8h-0.8zM209.9 612.4h0.8v0.8h-0.8zM207.1 631.5h0.8v0.8h-0.8zM203.6 627.9h0.8v0.8h-0.8zM209.3 621.2h0.8v0.8h-0.8zM198.7 621.5h0.8v0.8h-0.8zM202.6 612.6h0.8v0.8h-0.8zM194.6 615.2h0.8v0.8h-0.8zM198.4 630.6h0.8v0.8h-0.8zM202.2 605.1h0.8v0.8h-0.8zM208.2 615.3h0.8v0.8h-0.8zM204.7 631.8h0.8v0.8h-0.8zM203.5 606.2h0.8v0.8h-0.8zM210.4 629.5h0.8v0.8h-0.8zM197.3 612.0h0.8v0.8h-0.8zM202.3 619.1h0.8v0.8h-0.8zM208.5 627.0h0.8v0.8h-0.8zM202.5 627.9h0.8v0.8h-0.8zM209.9 630.8h0.8v0.8h-0.8zM205.9 608.9h0.8v0.8h-0.8zM206.8 631.0h0.8v0.8h-0.8zM205.8 605.6h0.8v0.8h-0.8zM203.8 622.8h0.8v0.8h-0.8zM202.9 619.0h0.8v0.8h-0.8zM204.1 630.2h0.8v0.8h-0.8zM200.4 619.1h0.8v0.8h-0.8zM193.7 615.3h0.8v0.8h-0.8zM197.8 616.3h0.8v0.8h-0.8zM205.0 615.6h0.8v0.8h-0.8zM198.0 609.4h0.8v0.8h-0.8zM215.0 614.4h0.8v0.8h-0.8zM203.5 615.5h0.8v0.8h-0.8zM203.6 621.6h0.8v0.8h-0.8zM208.5 622.3h0.8v0.8h-0.8zM204.4 623.3h0.8v0.8h-0.8zM199.4 615.1h0.8v0.8h-0.8zM201.9 633.2h0.8v0.8h-0.8zM203.9 616.0h0.8v0.8h-0.8zM205.2 611.4h0.8v0.8h-0.8zM204.8 617.9h0.8v0.8h-0.8zM207.0 629.3h0.8v0.8h-0.8zM202.5 607.5h0.8v0.8h-0.8zM205.3 629.1h0.8v0.8h-0.8zM206.1 618.1h0.8v0.8h-0.8zM208.4 628.1h0.8v0.8h-0.8zM197.3 632.7h0.8v0.8h-0.8zM207.4 634.0h0.8v0.8h-0.8zM202.6 624.0h0.8v0.8h-0.8zM203.2 614.2h0.8v0.8h-0.8zM203.4 616.2h0.8v0.8h-0.8zM204.6 618.7h0.8v0.8h-0.8zM203.2 625.6h0.8v0.8h-0.8zM202.9 610.2h0.8v0.8h-0.8zM204.7 634.0h0.8v0.8h-0.8zM205.1 634.0h0.8v0.8h-0.8zM201.9 623.9h0.8v0.8h-0.8zM197.2 611.3h0.8v0.8h-0.8zM201.3 628.4h0.8v0.8h-0.8zM200.7 632.3h0.8v0.8h-0.8zM205.6 622.5h0.8v0.8h-0.8zM205.1 629.7h0.8v0.8h-0.8zM197.8 628.7h0.8v0.8h-0.8zM212.2 614.1h0.8v0.8h-0.8zM204.8 612.2h0.8v0.8h-0.8zM199.3 607.6h0.8v0.8h-0.8zM201.8 610.5h0.8v0.8h-0.8zM202.8 621.7h0.8v0.8h-0.8zM202.1 633.4h0.8v0.8h-0.8zM205.2 629.4h0.8v0.8h-0.8zM205.8 606.6h0.8v0.8h-0.8zM203.0 633.0h0.8v0.8h-0.8zM205.7 626.0h0.8v0.8h-0.8zM211.0 629.4h0.8v0.8h-0.8zM200.9 612.0h0.8v0.8h-0.8zM210.1 607.6h0.8v0.8h-0.8zM202.3 623.0h0.8v0.8h-0.8zM203.4 618.2h0.8v0.8h-0.8zM209.4 611.2h0.8v0.8h-0.8zM205.0 613.6h0.8v0.8h-0.8zM209.9 624.4h0.8v0.8h-0.8zM203.8 623.8h0.8v0.8h-0.8zM201.7 629.1h0.8v0.8h-0.8zM207.8 629.0h0.8v0.8h-0.8zM210.3 615.7h0.8v0.8h-0.8zM202.4 613.9h0.8v0.8h-0.8zM199.4 621.4h0.8v0.8h-0.8zM198.9 617.6h0.8v0.8h-0.8zM208.6 623.3h0.8v0.8h-0.8zM205.5 608.7h0.8v0.8h-0.8zM212.9 616.7h0.8v0.8h-0.8zM201.7 626.0h0.8v0.8h-0.8zM207.4 616.0h0.8v0.8h-0.8zM204.0 618.8h0.8v0.8h-0.8zM202.8 631.9h0.8v0.8h-0.8zM203.4 628.6h0.8v0.8h-0.8zM203.9 621.0h0.8v0.8h-0.8zM205.3 612.2h0.8v0.8h-0.8zM208.0 606.1h0.8v0.8h-0.8zM203.5 626.0h0.8v0.8h-0.8zM202.6 631.0h0.8v0.8h-0.8zM207.7 628.4h0.8v0.8h-0.8zM201.2 610.3h0.8v0.8h-0.8zM208.0 620.8h0.8v0.8h-0.8zM203.6 626.8h0.8v0.8h-0.8zM210.3 622.4h0.8v0.8h-0.8zM206.2 616.2h0.8v0.8h-0.8zM203.7 622.6h0.8v0.8h-0.8zM204.2 625.9h0.8v0.8h-0.8zM206.0 618.8h0.8v0.8h-0.8zM200.9 628.6h0.8v0.8h-0.8zM206.3 625.2h0.8v0.8h-0.8zM205.8 604.6h0.8v0.8h-0.8zM206.5 613.8h0.8v0.8h-0.8zM202.1 633.4h0.8v0.8h-0.8zM208.7 622.5h0.8v0.8h-0.8zM208.8 625.9h0.8v0.8h-0.8zM204.4 609.4h0.8v0.8h-0.8zM204.7 631.9h0.8v0.8h-0.8zM205.0 634.0h0.8v0.8h-0.8zM200.1 624.8h0.8v0.8h-0.8zM205.3 625.9h0.8v0.8h-0.8zM206.1 629.6h0.8v0.8h-0.8zM202.6 624.1h0.8v0.8h-0.8zM203.9 610.4h0.8v0.8h-0.8zM214.5 613.6h0.8v0.8h-0.8zM213.5 615.4h0.8v0.8h-0.8zM199.7 622.1h0.8v0.8h-0.8zM207.5 614.9h0.8v0.8h-0.8zM201.7 613.9h0.8v0.8h-0.8zM203.9 621.3h0.8v0.8h-0.8zM203.7 621.0h0.8v0.8h-0.8zM204.2 617.7h0.8v0.8h-0.8zM200.9 621.3h0.8v0.8h-0.8zM202.9 628.2h0.8v0.8h-0.8zM199.1 630.4h0.8v0.8h-0.8zM206.4 625.4h0.8v0.8h-0.8zM206.1 623.1h0.8v0.8h-0.8zM199.9 625.6h0.8v0.8h-0.8zM196.8 633.3h0.8v0.8h-0.8zM205.8 627.4h0.8v0.8h-0.8zM202.7 625.4h0.8v0.8h-0.8zM199.8 634.0h0.8v0.8h-0.8zM199.9 625.7h0.8v0.8h-0.8zM207.0 622.0h0.8v0.8h-0.8zM204.3 616.7h0.8v0.8h-0.8zM206.3 610.4h0.8v0.8h-0.8zM204.1 628.7h0.8v0.8h-0.8zM204.1 634.0h0.8v0.8h-0.8zM202.7 616.7h0.8v0.8h-0.8zM205.6 613.1h0.8v0.8h-0.8zM202.9 621.4h0.8v0.8h-0.8zM205.0 629.3h0.8v0.8h-0.8zM207.5 631.5h0.8v0.8h-0.8zM199.8 616.3h0.8v0.8h-0.8zM198.0 609.3h0.8v0.8h-0.8zM211.4 634.0h0.8v0.8h-0.8zM210.2 607.5h0.8v0.8h-0.8zM202.1 609.4h0.8v0.8h-0.8zM202.5 607.9h0.8v0.8h-0.8zM209.3 618.9h0.8v0.8h-0.8zM206.4 614.8h0.8v0.8h-0.8zM206.6 618.5h0.8v0.8h-0.8zM205.7 626.8h0.8v0.8h-0.8zM206.7 621.1h0.8v0.8h-0.8zM210.8 631.5h0.8v0.8h-0.8zM201.6 628.3h0.8v0.8h-0.8zM204.7 632.5h0.8v0.8h-0.8zM204.0 614.9h0.8v0.8h-0.8zM201.3 621.6h0.8v0.8h-0.8zM208.9 612.1h0.8v0.8h-0.8zM203.5 610.3h0.8v0.8h-0.8zM207.6 624.8h0.8v0.8h-0.8zM207.8 616.4h0.8v0.8h-0.8zM207.2 611.2h0.8v0.8h-0.8zM204.0 627.1h0.8v0.8h-0.8zM203.4 615.3h0.8v0.8h-0.8zM207.8 630.4h0.8v0.8h-0.8zM200.9 634.0h0.8v0.8h-0.8zM204.9 623.5h0.8v0.8h-0.8zM200.7 618.3h0.8v0.8h-0.8zM205.0 624.0h0.8v0.8h-0.8zM200.1 631.5h0.8v0.8h-0.8zM201.3 629.5h0.8v0.8h-0.8zM206.0 612.6h0.8v0.8h-0.8zM201.7 631.5h0.8v0.8h-0.8zM206.0 608.2h0.8v0.8h-0.8zM210.3 633.7h0.8v0.8h-0.8zM202.3 613.0h0.8v0.8h-0.8zM202.7 615.1h0.8v0.8h-0.8zM201.9 607.5h0.8v0.8h-0.8zM204.1 606.3h0.8v0.8h-0.8zM200.7 632.2h0.8v0.8h-0.8zM201.5 627.3h0.8v0.8h-0.8zM202.0 619.2h0.8v0.8h-0.8zM204.3 634.0h0.8v0.8h-0.8zM206.6 615.3h0.8v0.8h-0.8zM197.8 626.3h0.8v0.8h-0.8zM202.1 609.1h0.8v0.8h-0.8zM212.5 614.2h0.8v0.8h-0.8zM205.6 618.6h0.8v0.8h-0.8zM213.3 625.0h0.8v0.8h-0.8zM203.9 631.9h0.8v0.8h-0.8zM205.9 634.0h0.8v0.8h-0.8zM204.2 625.6h0.8v0.8h-0.8zM207.3 617.8h0.8v0.8h-0.8zM207.2 624.8h0.8v0.8h-0.8zM203.6 631.4h0.8v0.8h-0.8zM203.3 622.5h0.8v0.8h-0.8zM203.4 619.7h0.8v0.8h-0.8z" fill="#555"/>
<path d="M201.0 609.2h0.8v0.8h-0.8zM211.8 620.9h0.8v0.8h-0.8zM200.9 625.2h0.8v0.8h-0.8zM198.8 628.2h0.8v0.8h-0.8zM209.7 621.6h0.8v0.8h-0.8zM205.9 633.2h0.8v0.8h-0.8zM204.1 623.4h0.8v0.8h-0.8zM199.2 622.0h0.8v0.8h-0.8zM202.0 617.5h0.8v0.8h-0.8zM210.6 630.9h0.8v0.8h-0.8zM202.5 617.9h0.8v0.8h-0.8zM207.7 621.0h0.8v0.8h-0.8zM205.6 630.8h0.8v0.8h-0.8zM201.0 621.0h0.8v0.8h-0.8zM200.2 621.4h0.8v0.8h-0.8zM203.5 619.7h0.8v0.8h-0.8zM203.6 615.6h0.8v0.8h-0.8zM202.8 624.4h0.8v0.8h-0.8zM211.0 619.3h0.8v0.8h-0.8zM204.9 629.6h0.8v0.8h-0.8zM203.7 624.6h0.8v0.8h-0.8zM210.5 629.5h0.8v0.8h-0.8zM201.7 627.3h0.8v0.8h-0.8zM204.1 618.6h0.8v0.8h-0.8zM201.1 615.5h0.8v0.8h-0.8zM203.1 616.6h0.8v0.8h-0.8zM197.6 625.1h0.8v0.8h-0.8zM209.4 613.7h0.8v0.8h-0.8zM204.4 633.4h0.8v0.8h-0.8zM201.4 613.8h0.8v0.8h-0.8zM202.4 630.7h0.8v0.8h-0.8zM207.6 622.5h0.8v0.8h-0.8zM206.2 629.0h0.8v0.8h-0.8zM198.5 628.8h0.8v0.8h-0.8zM201.8 626.5h0.8v0.8h-0.8zM211.2 612.7h0.8v0.8h-0.8zM203.1 634.0h0.8v0.8h-0.8zM204.8 629.0h0.8v0.8h-0.8zM205.4 609.3h0.8v0.8h-0.8zM201.6 616.7h0.8v0.8h-0.8zM208.8 611.3h0.8v0.8h-0.8zM199.5 614.3h0.8v0.8h-0.8zM204.9 617.0h0.8v0.8h-0.8zM201.8 620.3h0.8v0.8h-0.8zM201.2 626.9h0.8v0.8h-0.8zM204.4 634.0h0.8v0.8h-0.8zM203.0 621.3h0.8v0.8h-0.8zM204.5 610.9h0.8v0.8h-0.8zM206.6 621.0h0.8v0.8h-0.8zM206.7 618.5h0.8v0.8h-0.8zM203.5 603.8h0.8v0.8h-0.8zM204.4 621.9h0.8v0.8h-0.8zM203.4 617.0h0.8v0.8h-0.8zM208.3 622.3h0.8v0.8h-0.8zM214.7 615.7h0.8v0.8h-0.8zM208.5 631.9h0.8v0.8h-0.8zM209.8 624.7h0.8v0.8h-0.8zM196.8 618.3h0.8v0.8h-0.8zM204.7 608.6h0.8v0.8h-0.8zM204.5 609.3h0.8v0.8h-0.8zM200.3 621.0h0.8v0.8h-0.8zM201.0 630.0h0.8v0.8h-0.8zM202.4 612.6h0.8v0.8h-0.8zM205.2 617.6h0.8v0.8h-0.8zM202.9 627.3h0.8v0.8h-0.8zM202.1 617.7h0.8v0.8h-0.8zM206.1 612.8h0.8v0.8h-0.8zM206.8 611.9h0.8v0.8h-0.8zM209.7 634.0h0.8v0.8h-0.8zM202.8 620.9h0.8v0.8h-0.8zM203.3 609.7h0.8v0.8h-0.8zM205.6 627.2h0.8v0.8h-0.8zM209.9 619.1h0.8v0.8h-0.8zM204.5 612.0h0.8v0.8h-0.8zM202.1 617.9h0.8v0.8h-0.8zM203.3 614.5h0.8v0.8h-0.8zM205.6 607.3h0.8v0.8h-0.8zM200.7 612.2h0.8v0.8h-0.8zM207.9 624.8h0.8v0.8h-0.8zM201.1 609.9h0.8v0.8h-0.8zM203.5 611.9h0.8v0.8h-0.8zM206.3 614.3h0.8v0.8h-0.8zM206.5 629.7h0.8v0.8h-0.8zM207.2 634.0h0.8v0.8h-0.8zM207.7 615.6h0.8v0.8h-0.8zM203.2 617.1h0.8v0.8h-0.8zM200.5 622.3h0.8v0.8h-0.8zM206.9 624.4h0.8v0.8h-0.8zM203.1 626.7h0.8v0.8h-0.8zM199.6 616.6h0.8v0.8h-0.8zM201.5 619.8h0.8v0.8h-0.8zM201.1 613.4h0.8v0.8h-0.8zM206.4 617.1h0.8v0.8h-0.8zM204.3 620.9h0.8v0.8h-0.8zM207.2 615.3h0.8v0.8h-0.8zM204.5 620.7h0.8v0.8h-0.8zM204.1 610.2h0.8v0.8h-0.8zM203.7 612.6h0.8v0.8h-0.8zM198.4 628.4h0.8v0.8h-0.8zM197.7 630.1h0.8v0.8h-0.8zM198.2 608.8h0.8v0.8h-0.8zM203.9 616.3h0.8v0.8h-0.8zM206.9 622.4h0.8v0.8h-0.8zM207.0 612.0h0.8v0.8h-0.8zM202.7 630.1h0.8v0.8h-0.8zM208.0 622.2h0.8v0.8h-0.8zM202.8 621.4h0.8v0.8h-0.8zM204.9 634.0h0.8v0.8h-0.8zM203.3 628.7h0.8v0.8h-0.8zM203.6 617.5h0.8v0.8h-0.8zM201.0 607.9h0.8v0.8h-0.8zM203.7 624.7h0.8v0.8h-0.8zM197.3 624.9h0.8v0.8h-0.8zM204.5 616.7h0.8v0.8h-0.8zM202.0 619.9h0.8v0.8h-0.8zM202.7 606.6h0.8v0.8h-0.8zM203.3 608.2h0.8v0.8h-0.8zM202.5 632.2h0.8v0.8h-0.8zM196.2 634.0h0.8v0.8h-0.8zM206.1 608.8h0.8v0.8h-0.8zM204.1 634.0h0.8v0.8h-0.8zM206.0 608.8h0.8v0.8h-0.8zM208.1 619.1h0.8v0.8h-0.8zM202.5 612.8h0.8v0.8h-0.8zM207.5 613.4h0.8v0.8h-0.8zM203.2 615.6h0.8v0.8h-0.8zM210.2 626.7h0.8v0.8h-0.8zM202.8 623.9h0.8v0.8h-0.8zM201.6 621.4h0.8v0.8h-0.8zM201.6 606.8h0.8v0.8h-0.8zM205.8 623.1h0.8v0.8h-0.8zM200.1 619.8h0.8v0.8h-0.8zM207.8 621.6h0.8v0.8h-0.8zM200.9 612.5h0.8v0.8h-0.8zM199.4 622.5h0.8v0.8h-0.8zM204.0 608.1h0.8v0.8h-0.8zM201.8 619.2h0.8v0.8h-0.8zM206.9 606.3h0.8v0.8h-0.8zM205.8 634.0h0.8v0.8h-0.8zM202.6 624.4h0.8v0.8h-0.8zM207.0 621.3h0.8v0.8h-0.8zM202.3 618.1h0.8v0.8h-0.8zM194.1 633.3h0.8v0.8h-0.8zM202.0 613.1h0.8v0.8h-0.8zM202.2 617.3h0.8v0.8h-0.8zM202.8 628.8h0.8v0.8h-0.8zM200.3 623.4h0.8v0.8h-0.8zM208.6 634.0h0.8v0.8h-0.8zM207.5 613.4h0.8v0.8h-0.8zM204.2 609.7h0.8v0.8h-0.8zM208.3 608.2h0.8v0.8h-0.8zM205.7 618.3h0.8v0.8h-0.8zM210.9 611.9h0.8v0.8h-0.8zM204.8 608.8h0.8v0.8h-0.8zM210.5 618.3h0.8v0.8h-0.8zM209.5 611.5h0.8v0.8h-0.8zM204.6 632.9h0.8v0.8h-0.8zM201.7 622.5h0.8v0.8h-0.8zM205.3 631.9h0.8v0.8h-0.8zM206.6 609.7h0.8v0.8h-0.8zM199.4 631.8h0.8v0.8h-0.8zM204.5 603.0h0.8v0.8h-0.8zM194.2 614.7h0.8v0.8h-0.8zM211.7 631.9h0.8v0.8h-0.8zM200.5 630.7h0.8v0.8h-0.8zM201.8 634.0h0.8v0.8h-0.8zM205.9 604.3h0.8v0.8h-0.8zM210.0 604.0h0.8v0.8h-0.8zM207.5 616.2h0.8v0.8h-0.8zM197.0 620.6h0.8v0.8h-0.8zM206.5 630.0h0.8v0.8h-0.8zM209.3 625.8h0.8v0.8h-0.8zM205.1 618.0h0.8v0.8h-0.8zM204.4 634.0h0.8v0.8h-0.8zM208.0 626.5h0.8v0.8h-0.8zM198.8 607.9h0.8v0.8h-0.8zM199.2 611.9h0.8v0.8h-0.8zM206.3 615.4h0.8v0.8h-0.8zM206.4 630.4h0.8v0.8h-0.8zM204.2 634.0h0.8v0.8h-0.8zM201.6 620.3h0.8v0.8h-0.8zM201.6 625.3h0.8v0.8h-0.8zM206.6 613.3h0.8v0.8h-0.8zM206.1 632.6h0.8v0.8h-0.8zM208.4 621.5h0.8v0.8h-0.8zM207.4 607.6h0.8v0.8h-0.8zM208.3 626.5h0.8v0.8h-0.8zM207.3 629.0h0.8v0.8h-0.8zM207.4 628.4h0.8v0.8h-0.8zM206.2 619.8h0.8v0.8h-0.8zM204.9 606.9h0.8v0.8h-0.8zM199.2 622.3h0.8v0.8h-0.8zM206.4 619.1h0.8v0.8h-0.8zM202.6 628.9h0.8v0.8h-0.8zM205.6 598.8h0.8v0.8h-0.8zM203.9 621.8h0.8v0.8h-0.8zM214.9 631.3h0.8v0.8h-0.8zM211.4 634.0h0.8v0.8h-0.8zM205.3 611.2h0.8v0.8h-0.8zM206.1 625.7h0.8v0.8h-0.8zM203.2 627.2h0.8v0.8h-0.8zM210.5 628.3h0.8v0.8h-0.8zM199.5 616.8h0.8v0.8h-0.8zM211.4 618.4h0.8v0.8h-0.8zM201.6 625.6h0.8v0.8h-0.8zM206.4 610.9h0.8v0.8h-0.8zM204.0 629.8h0.8v0.8h-0.8zM201.2 628.0h0.8v0.8h-0.8zM205.4 610.5h0.8v0.8h-0.8zM201.7 615.4h0.8v0.8h-0.8zM201.5 618.1h0.8v0.8h-0.8zM210.3 627.8h0.8v0.8h-0.8zM201.2 621.4h0.8v0.8h-0.8zM207.4 613.0h0.8v0.8h-0.8zM210.0 613.1h0.8v0.8h-0.8zM203.9 617.9h0.8v0.8h-0.8zM204.1 627.3h0.8v0.8h-0.8zM200.3 610.5h0.8v0.8h-0.8zM203.2 622.6h0.8v0.8h-0.8zM200.7 634.0h0.8v0.8h-0.8zM198.8 621.0h0.8v0.8h-0.8zM191.9 623.5h0.8v0.8h-0.8zM206.6 602.5h0.8v0.8h-0.8zM203.6 634.0h0.8v0.8h-0.8zM209.1 620.2h0.8v0.8h-0.8zM203.4 621.6h0.8v0.8h-0.8zM202.1 613.0h0.8v0.8h-0.8zM203.3 620.6h0.8v0.8h-0.8zM206.7 624.6h0.8v0.8h-0.8zM198.6 613.1h0.8v0.8h-0.8zM202.1 618.6h0.8v0.8h-0.8zM202.3 608.4h0.8v0.8h-0.8zM199.5 619.3h0.8v0.8h-0.8zM203.2 633.5h0.8v0.8h-0.8zM207.8 631.8h0.8v0.8h-0.8zM205.3 629.7h0.8v0.8h-0.8zM206.4 622.6h0.8v0.8h-0.8zM202.4 630.4h0.8v0.8h-0.8zM202.7 625.9h0.8v0.8h-0.8zM210.4 623.6h0.8v0.8h-0.8zM208.4 621.5h0.8v0.8h-0.8zM203.5 611.8h0.8v0.8h-0.8zM205.1 624.9h0.8v0.8h-0.8zM208.8 616.6h0.8v0.8h-0.8zM207.6 625.1h0.8v0.8h-0.8zM206.1 612.6h0.8v0.8h-0.8zM204.6 629.8h0.8v0.8h-0.8zM210.8 634.0h0.8v0.8h-0.8zM202.8 612.9h0.8v0.8h-0.8zM200.2 621.6h0.8v0.8h-0.8zM201.0 634.0h0.8v0.8h-0.8zM203.0 629.7h0.8v0.8h-0.8zM196.0 634.0h0.8v0.8h-0.8zM204.5 627.8h0.8v0.8h-0.8zM201.3 631.9h0.8v0.8h-0.8zM200.6 615.1h0.8v0.8h-0.8zM198.4 625.2h0.8v0.8h-0.8zM204.2 610.8h0.8v0.8h-0.8zM208.6 627.1h0.8v0.8h-0.8zM197.1 629.6h0.8v0.8h-0.8zM209.6 627.2h0.8v0.8h-0.8zM206.2 627.8h0.8v0.8h-0.8zM207.2 634.0h0.8v0.8h-0.8zM199.7 605.9h0.8v0.8h-0.8zM202.3 609.2h0.8v0.8h-0.8zM207.2 614.2h0.8v0.8h-0.8zM206.9 615.4h0.8v0.8h-0.8zM200.2 614.4h0.8v0.8h-0.8zM198.6 613.7h0.8v0.8h-0.8zM205.8 620.2h0.8v0.8h-0.8zM205.5 609.0h0.8v0.8h-0.8zM205.8 626.9h0.8v0.8h-0.8zM204.1 627.4h0.8v0.8h-0.8zM201.6 631.5h0.8v0.8h-0.8zM199.9 624.2h0.8v0.8h-0.8zM206.0 616.7h0.8v0.8h-0.8zM206.9 629.0h0.8v0.8h-0.8zM200.9 623.5h0.8v0.8h-0.8zM210.0 622.8h0.8v0.8h-0.8zM201.9 623.9h0.8v0.8h-0.8zM202.0 614.6h0.8v0.8h-0.8zM203.3 623.1h0.8v0.8h-0.8zM203.6 627.3h0.8v0.8h-0.8zM202.9 612.7h0.8v0.8h-0.8zM206.9 620.2h0.8v0.8h-0.8zM208.9 611.9h0.8v0.8h-0.8zM213.5 616.9h0.8v0.8h-0.8zM204.5 615.3h0.8v0.8h-0.8zM202.2 620.4h0.8v0.8h-0.8zM204.1 630.8h0.8v0.8h-0.8zM204.2 620.2h0.8v0.8h-0.8zM213.6 627.5h0.8v0.8h-0.8zM202.2 618.1h0.8v0.8h-0.8zM204.1 634.0h0.8v0.8h-0.8zM207.1 634.0h0.8v0.8h-0.8zM209.5 621.7h0.8v0.8h-0.8z" fill="#3a3a3a"/>
<path d="M204.9 630.4h0.8v0.8h-0.8zM205.4 623.3h0.8v0.8h-0.8zM203.4 620.6h0.8v0.8h-0.8zM201.5 625.3h0.8v0.8h-0.8zM204.7 634.0h0.8v0.8h-0.8zM204.9 627.8h0.8v0.8h-0.8zM207.9 613.7h0.8v0.8h-0.8zM202.1 620.5h0.8v0.8h-0.8zM207.1 614.1h0.8v0.8h-0.8zM204.2 607.8h0.8v0.8h-0.8zM199.7 613.4h0.8v0.8h-0.8zM205.0 622.0h0.8v0.8h-0.8zM205.7 608.5h0.8v0.8h-0.8zM206.8 628.1h0.8v0.8h-0.8zM204.9 619.6h0.8v0.8h-0.8zM205.8 610.2h0.8v0.8h-0.8zM203.7 615.3h0.8v0.8h-0.8zM209.4 612.7h0.8v0.8h-0.8zM204.8 634.0h0.8v0.8h-0.8zM207.1 629.4h0.8v0.8h-0.8zM210.3 616.7h0.8v0.8h-0.8zM209.1 610.8h0.8v0.8h-0.8zM206.9 609.2h0.8v0.8h-0.8zM203.4 608.6h0.8v0.8h-0.8zM202.8 625.2h0.8v0.8h-0.8zM198.0 612.0h0.8v0.8h-0.8zM212.5 608.4h0.8v0.8h-0.8zM206.4 626.2h0.8v0.8h-0.8zM206.6 620.3h0.8v0.8h-0.8zM204.5 631.0h0.8v0.8h-0.8zM192.9 608.0h0.8v0.8h-0.8zM200.9 618.2h0.8v0.8h-0.8zM201.1 616.8h0.8v0.8h-0.8zM203.2 624.9h0.8v0.8h-0.8zM203.5 625.3h0.8v0.8h-0.8zM199.9 633.7h0.8v0.8h-0.8zM203.9 609.1h0.8v0.8h-0.8zM208.6 618.5h0.8v0.8h-0.8zM204.0 614.9h0.8v0.8h-0.8zM197.1 616.2h0.8v0.8h-0.8zM213.3 628.2h0.8v0.8h-0.8zM205.7 627.4h0.8v0.8h-0.8zM205.2 634.0h0.8v0.8h-0.8zM196.4 623.8h0.8v0.8h-0.8zM208.3 625.8h0.8v0.8h-0.8zM208.3 613.7h0.8v0.8h-0.8zM200.6 618.4h0.8v0.8h-0.8zM200.5 613.5h0.8v0.8h-0.8zM199.0 623.1h0.8v0.8h-0.8zM206.1 624.9h0.8v0.8h-0.8zM206.3 634.0h0.8v0.8h-0.8zM203.9 624.2h0.8v0.8h-0.8zM192.3 634.0h0.8v0.8h-0.8zM209.3 619.4h0.8v0.8h-0.8zM206.5 626.4h0.8v0.8h-0.8zM201.0 620.3h0.8v0.8h-0.8zM200.9 617.2h0.8v0.8h-0.8zM202.0 634.0h0.8v0.8h-0.8zM203.7 617.5h0.8v0.8h-0.8zM205.7 614.6h0.8v0.8h-0.8zM199.3 607.9h0.8v0.8h-0.8zM198.6 617.8h0.8v0.8h-0.8zM206.7 622.9h0.8v0.8h-0.8zM200.8 622.2h0.8v0.8h-0.8zM207.8 627.7h0.8v0.8h-0.8zM207.4 620.4h0.8v0.8h-0.8zM199.0 622.2h0.8v0.8h-0.8zM204.4 632.8h0.8v0.8h-0.8zM202.7 629.5h0.8v0.8h-0.8zM209.4 611.0h0.8v0.8h-0.8zM200.2 611.5h0.8v0.8h-0.8zM198.7 625.1h0.8v0.8h-0.8zM199.3 606.4h0.8v0.8h-0.8zM205.6 615.0h0.8v0.8h-0.8zM204.1 634.0h0.8v0.8h-0.8zM205.2 620.6h0.8v0.8h-0.8zM197.9 615.7h0.8v0.8h-0.8zM198.4 620.0h0.8v0.8h-0.8zM211.4 631.6h0.8v0.8h-0.8zM201.2 615.9h0.8v0.8h-0.8zM211.6 623.6h0.8v0.8h-0.8zM200.1 631.4h0.8v0.8h-0.8zM197.3 622.6h0.8v0.8h-0.8zM203.6 611.2h0.8v0.8h-0.8zM204.1 634.0h0.8v0.8h-0.8zM204.3 623.7h0.8v0.8h-0.8zM203.1 628.1h0.8v0.8h-0.8zM201.8 618.9h0.8v0.8h-0.8zM205.7 615.9h0.8v0.8h-0.8zM202.0 606.7h0.8v0.8h-0.8zM209.4 625.2h0.8v0.8h-0.8zM201.6 634.0h0.8v0.8h-0.8zM212.0 628.8h0.8v0.8h-0.8zM207.5 605.6h0.8v0.8h-0.8zM208.3 621.3h0.8v0.8h-0.8zM204.9 623.7h0.8v0.8h-0.8zM196.0 610.7h0.8v0.8h-0.8zM205.0 619.5h0.8v0.8h-0.8zM203.2 607.9h0.8v0.8h-0.8zM203.2 632.0h0.8v0.8h-0.8zM204.3 624.0h0.8v0.8h-0.8zM199.8 619.5h0.8v0.8h-0.8zM205.5 628.5h0.8v0.8h-0.8zM199.4 614.5h0.8v0.8h-0.8zM200.2 610.7h0.8v0.8h-0.8zM210.5 622.8h0.8v0.8h-0.8zM198.9 626.4h0.8v0.8h-0.8zM199.6 612.1h0.8v0.8h-0.8zM204.3 622.1h0.8v0.8h-0.8zM208.9 625.7h0.8v0.8h-0.8zM199.7 619.2h0.8v0.8h-0.8zM206.9 618.7h0.8v0.8h-0.8zM203.6 622.1h0.8v0.8h-0.8zM205.0 626.5h0.8v0.8h-0.8zM198.3 626.4h0.8v0.8h-0.8zM199.5 626.4h0.8v0.8h-0.8zM206.7 620.7h0.8v0.8h-0.8zM203.0 619.7h0.8v0.8h-0.8zM201.8 621.9h0.8v0.8h-0.8zM203.9 619.6h0.8v0.8h-0.8zM198.6 613.3h0.8v0.8h-0.8zM209.1 616.6h0.8v0.8h-0.8zM201.8 622.3h0.8v0.8h-0.8zM201.4 623.7h0.8v0.8h-0.8zM207.4 631.5h0.8v0.8h-0.8zM205.5 605.4h0.8v0.8h-0.8zM198.0 616.0h0.8v0.8h-0.8zM201.7 625.9h0.8v0.8h-0.8zM201.3 608.5h0.8v0.8h-0.8zM206.2 624.3h0.8v0.8h-0.8zM207.6 628.8h0.8v0.8h-0.8zM202.5 620.1h0.8v0.8h-0.8zM204.4 604.8h0.8v0.8h-0.8zM207.2 615.8h0.8v0.8h-0.8zM205.0 630.4h0.8v0.8h-0.8zM203.6 614.5h0.8v0.8h-0.8zM194.2 629.7h0.8v0.8h-0.8zM195.5 620.5h0.8v0.8h-0.8zM206.3 632.8h0.8v0.8h-0.8zM200.4 621.0h0.8v0.8h-0.8zM196.8 630.4h0.8v0.8h-0.8zM203.1 607.5h0.8v0.8h-0.8zM196.7 615.9h0.8v0.8h-0.8zM207.5 605.7h0.8v0.8h-0.8zM202.4 626.7h0.8v0.8h-0.8zM211.6 629.6h0.8v0.8h-0.8zM193.9 622.7h0.8v0.8h-0.8zM198.8 622.6h0.8v0.8h-0.8zM202.3 622.1h0.8v0.8h-0.8zM210.5 629.4h0.8v0.8h-0.8zM204.9 624.4h0.8v0.8h-0.8zM196.7 619.1h0.8v0.8h-0.8zM204.4 618.4h0.8v0.8h-0.8zM200.9 620.7h0.8v0.8h-0.8zM208.3 634.0h0.8v0.8h-0.8zM204.1 610.2h0.8v0.8h-0.8zM207.1 610.3h0.8v0.8h-0.8zM202.4 625.5h0.8v0.8h-0.8zM210.0 606.7h0.8v0.8h-0.8zM204.2 619.9h0.8v0.8h-0.8zM215.3 617.2h0.8v0.8h-0.8zM203.7 616.9h0.8v0.8h-0.8zM206.3 634.0h0.8v0.8h-0.8zM196.2 612.1h0.8v0.8h-0.8zM194.1 609.3h0.8v0.8h-0.8zM197.5 615.0h0.8v0.8h-0.8zM207.6 610.9h0.8v0.8h-0.8zM199.0 617.1h0.8v0.8h-0.8zM198.2 606.9h0.8v0.8h-0.8zM200.3 613.5h0.8v0.8h-0.8zM201.3 620.1h0.8v0.8h-0.8zM204.1 629.7h0.8v0.8h-0.8zM203.8 634.0h0.8v0.8h-0.8zM200.0 613.3h0.8v0.8h-0.8zM203.2 616.1h0.8v0.8h-0.8zM203.7 619.4h0.8v0.8h-0.8zM198.5 623.7h0.8v0.8h-0.8zM202.5 623.6h0.8v0.8h-0.8zM202.6 629.0h0.8v0.8h-0.8zM203.2 626.7h0.8v0.8h-0.8zM206.1 634.0h0.8v0.8h-0.8zM211.8 615.8h0.8v0.8h-0.8zM204.6 634.0h0.8v0.8h-0.8zM203.3 618.4h0.8v0.8h-0.8zM205.0 634.0h0.8v0.8h-0.8zM208.0 629.8h0.8v0.8h-0.8zM200.0 616.4h0.8v0.8h-0.8zM195.3 619.9h0.8v0.8h-0.8zM205.5 621.4h0.8v0.8h-0.8zM202.2 620.2h0.8v0.8h-0.8zM202.4 634.0h0.8v0.8h-0.8zM200.7 617.8h0.8v0.8h-0.8zM204.6 620.3h0.8v0.8h-0.8zM205.0 603.4h0.8v0.8h-0.8zM207.8 627.6h0.8v0.8h-0.8zM205.8 617.4h0.8v0.8h-0.8zM204.0 625.9h0.8v0.8h-0.8zM199.8 610.6h0.8v0.8h-0.8zM211.4 612.4h0.8v0.8h-0.8zM208.9 614.3h0.8v0.8h-0.8zM206.7 619.3h0.8v0.8h-0.8zM204.4 619.5h0.8v0.8h-0.8zM205.8 617.1h0.8v0.8h-0.8zM201.8 629.4h0.8v0.8h-0.8zM206.2 625.9h0.8v0.8h-0.8zM209.2 632.0h0.8v0.8h-0.8zM203.4 630.5h0.8v0.8h-0.8zM206.6 622.2h0.8v0.8h-0.8zM196.3 617.1h0.8v0.8h-0.8zM202.6 611.4h0.8v0.8h-0.8zM199.5 626.7h0.8v0.8h-0.8zM201.6 612.6h0.8v0.8h-0.8zM207.1 623.3h0.8v0.8h-0.8zM197.4 633.4h0.8v0.8h-0.8zM206.8 629.1h0.8v0.8h-0.8zM198.2 634.0h0.8v0.8h-0.8zM207.2 608.4h0.8v0.8h-0.8zM204.5 630.7h0.8v0.8h-0.8zM206.2 627.0h0.8v0.8h-0.8zM204.0 609.1h0.8v0.8h-0.8zM209.7 609.3h0.8v0.8h-0.8zM203.9 621.9h0.8v0.8h-0.8zM213.9 623.2h0.8v0.8h-0.8zM205.4 615.2h0.8v0.8h-0.8zM203.0 614.4h0.8v0.8h-0.8zM203.6 607.3h0.8v0.8h-0.8zM207.2 614.8h0.8v0.8h-0.8zM200.0 619.3h0.8v0.8h-0.8zM211.0 633.0h0.8v0.8h-0.8zM205.3 616.6h0.8v0.8h-0.8zM208.8 616.7h0.8v0.8h-0.8zM204.1 622.0h0.8v0.8h-0.8zM203.7 611.4h0.8v0.8h-0.8zM208.8 625.8h0.8v0.8h-0.8zM206.4 616.3h0.8v0.8h-0.8zM202.8 616.1h0.8v0.8h-0.8zM207.5 626.6h0.8v0.8h-0.8zM204.9 624.4h0.8v0.8h-0.8zM208.0 624.5h0.8v0.8h-0.8zM198.8 617.3h0.8v0.8h-0.8zM200.5 634.0h0.8v0.8h-0.8zM209.6 622.9h0.8v0.8h-0.8zM206.9 627.9h0.8v0.8h-0.8zM202.6 623.2h0.8v0.8h-0.8zM200.0 618.7h0.8v0.8h-0.8zM201.4 634.0h0.8v0.8h-0.8zM204.3 632.4h0.8v0.8h-0.8zM199.3 613.5h0.8v0.8h-0.8zM204.9 621.4h0.8v0.8h-0.8zM205.5 627.1h0.8v0.8h-0.8zM206.0 624.6h0.8v0.8h-0.8zM201.1 621.8h0.8v0.8h-0.8zM207.7 612.0h0.8v0.8h-0.8zM204.2 630.0h0.8v0.8h-0.8zM201.1 608.4h0.8v0.8h-0.8zM200.8 618.2h0.8v0.8h-0.8zM205.8 634.0h0.8v0.8h-0.8zM202.9 624.8h0.8v0.8h-0.8zM200.6 628.8h0.8v0.8h-0.8zM199.3 634.0h0.8v0.8h-0.8zM205.4 613.2h0.8v0.8h-0.8zM196.6 621.0h0.8v0.8h-0.8zM209.6 625.1h0.8v0.8h-0.8zM204.5 609.3h0.8v0.8h-0.8zM206.4 613.3h0.8v0.8h-0.8zM200.5 634.0h0.8v0.8h-0.8zM201.0 634.0h0.8v0.8h-0.8zM206.7 621.7h0.8v0.8h-0.8zM202.4 631.0h0.8v0.8h-0.8zM206.7 628.9h0.8v0.8h-0.8zM206.0 611.5h0.8v0.8h-0.8zM205.0 622.7h0.8v0.8h-0.8zM208.5 613.0h0.8v0.8h-0.8zM204.9 607.0h0.8v0.8h-0.8zM204.1 627.3h0.8v0.8h-0.8zM213.2 625.3h0.8v0.8h-0.8zM204.2 606.7h0.8v0.8h-0.8zM205.4 617.3h0.8v0.8h-0.8zM200.6 615.3h0.8v0.8h-0.8zM191.9 616.9h0.8v0.8h-0.8zM206.8 626.8h0.8v0.8h-0.8zM203.8 622.1h0.8v0.8h-0.8zM206.4 626.4h0.8v0.8h-0.8z" fill="#a0a0a0"/>
<path d="M201.5 615.1h0.8v0.8h-0.8zM198.9 615.8h0.8v0.8h-0.8zM201.3 618.9h0.8v0.8h-0.8zM200.8 615.9h0.8v0.8h-0.8zM198.2 611.8h0.8v0.8h-0.8zM201.1 627.6h0.8v0.8h-0.8zM205.2 625.2h0.8v0.8h-0.8zM206.4 630.2h0.8v0.8h-0.8zM205.5 630.9h0.8v0.8h-0.8zM212.5 621.6h0.8v0.8h-0.8zM200.3 627.2h0.8v0.8h-0.8zM203.6 634.0h0.8v0.8h-0.8zM202.0 617.8h0.8v0.8h-0.8zM201.8 630.3h0.8v0.8h-0.8zM213.8 614.6h0.8v0.8h-0.8zM199.7 620.0h0.8v0.8h-0.8zM204.9 625.7h0.8v0.8h-0.8zM206.9 618.2h0.8v0.8h-0.8zM200.1 633.0h0.8v0.8h-0.8zM209.0 631.1h0.8v0.8h-0.8zM200.2 632.6h0.8v0.8h-0.8zM192.1 609.5h0.8v0.8h-0.8zM206.5 634.0h0.8v0.8h-0.8zM206.2 619.4h0.8v0.8h-0.8zM204.1 612.3h0.8v0.8h-0.8zM194.2 625.1h0.8v0.8h-0.8zM202.8 632.7h0.8v0.8h-0.8zM201.0 607.1h0.8v0.8h-0.8zM205.9 605.1h0.8v0.8h-0.8zM199.9 629.0h0.8v0.8h-0.8zM203.1 616.1h0.8v0.8h-0.8zM194.8 621.8h0.8v0.8h-0.8zM206.3 612.1h0.8v0.8h-0.8zM201.1 625.7h0.8v0.8h-0.8zM201.4 623.7h0.8v0.8h-0.8zM213.0 628.4h0.8v0.8h-0.8zM208.5 629.2h0.8v0.8h-0.8zM203.4 618.3h0.8v0.8h-0.8zM203.3 627.1h0.8v0.8h-0.8zM202.7 626.6h0.8v0.8h-0.8zM200.5 627.7h0.8v0.8h-0.8zM209.5 622.7h0.8v0.8h-0.8zM202.7 623.3h0.8v0.8h-0.8zM206.4 615.2h0.8v0.8h-0.8zM198.4 616.9h0.8v0.8h-0.8zM195.3 634.0h0.8v0.8h-0.8zM206.0 633.6h0.8v0.8h-0.8zM204.8 617.8h0.8v0.8h-0.8zM206.4 628.4h0.8v0.8h-0.8zM204.4 620.3h0.8v0.8h-0.8zM204.3 622.1h0.8v0.8h-0.8zM205.7 621.9h0.8v0.8h-0.8zM204.1 618.7h0.8v0.8h-0.8zM203.9 609.1h0.8v0.8h-0.8zM210.4 620.6h0.8v0.8h-0.8zM200.5 610.9h0.8v0.8h-0.8zM204.8 631.2h0.8v0.8h-0.8zM202.5 625.1h0.8v0.8h-0.8zM201.9 609.9h0.8v0.8h-0.8zM205.7 634.0h0.8v0.8h-0.8zM204.9 608.4h0.8v0.8h-0.8zM203.0 627.2h0.8v0.8h-0.8zM207.2 633.6h0.8v0.8h-0.8zM206.7 610.9h0.8v0.8h-0.8zM202.8 618.0h0.8v0.8h-0.8zM208.9 634.0h0.8v0.8h-0.8zM206.8 622.4h0.8v0.8h-0.8zM206.7 616.7h0.8v0.8h-0.8zM204.1 634.0h0.8v0.8h-0.8zM207.7 624.0h0.8v0.8h-0.8zM195.5 620.5h0.8v0.8h-0.8zM202.5 615.1h0.8v0.8h-0.8zM206.8 634.0h0.8v0.8h-0.8zM216.0 634.0h0.8v0.8h-0.8zM204.3 619.1h0.8v0.8h-0.8zM205.1 612.7h0.8v0.8h-0.8zM203.5 633.4h0.8v0.8h-0.8zM205.0 623.9h0.8v0.8h-0.8zM206.7 626.2h0.8v0.8h-0.8zM210.5 634.0h0.8v0.8h-0.8zM205.5 624.0h0.8v0.8h-0.8zM214.1 618.1h0.8v0.8h-0.8zM203.3 626.0h0.8v0.8h-0.8zM211.8 627.6h0.8v0.8h-0.8zM203.1 626.5h0.8v0.8h-0.8zM201.1 630.3h0.8v0.8h-0.8zM203.9 607.7h0.8v0.8h-0.8zM201.8 623.4h0.8v0.8h-0.8zM205.1 622.0h0.8v0.8h-0.8zM205.7 619.2h0.8v0.8h-0.8zM205.9 626.5h0.8v0.8h-0.8zM203.0 623.9h0.8v0.8h-0.8zM203.8 625.3h0.8v0.8h-0.8zM208.1 634.0h0.8v0.8h-0.8zM204.6 613.8h0.8v0.8h-0.8zM210.4 634.0h0.8v0.8h-0.8zM206.9 617.5h0.8v0.8h-0.8zM194.9 622.0h0.8v0.8h-0.8zM208.1 634.0h0.8v0.8h-0.8zM196.5 622.3h0.8v0.8h-0.8zM201.1 614.7h0.8v0.8h-0.8zM204.4 623.3h0.8v0.8h-0.8zM202.3 623.6h0.8v0.8h-0.8zM196.1 623.7h0.8v0.8h-0.8zM204.9 613.7h0.8v0.8h-0.8zM202.5 634.0h0.8v0.8h-0.8zM202.9 622.1h0.8v0.8h-0.8zM202.6 627.0h0.8v0.8h-0.8zM207.5 623.3h0.8v0.8h-0.8zM203.1 633.3h0.8v0.8h-0.8zM204.7 625.0h0.8v0.8h-0.8zM205.8 634.0h0.8v0.8h-0.8zM208.2 620.9h0.8v0.8h-0.8zM207.9 617.1h0.8v0.8h-0.8zM205.8 619.9h0.8v0.8h-0.8zM204.5 618.8h0.8v0.8h-0.8zM202.0 619.3h0.8v0.8h-0.8zM206.4 634.0h0.8v0.8h-0.8zM204.5 615.5h0.8v0.8h-0.8zM199.7 632.6h0.8v0.8h-0.8zM198.8 619.7h0.8v0.8h-0.8zM203.9 617.6h0.8v0.8h-0.8zM206.2 630.0h0.8v0.8h-0.8zM200.9 622.8h0.8v0.8h-0.8zM212.4 621.4h0.8v0.8h-0.8zM204.4 634.0h0.8v0.8h-0.8zM202.2 616.7h0.8v0.8h-0.8zM206.2 615.8h0.8v0.8h-0.8zM207.2 629.4h0.8v0.8h-0.8zM207.9 613.6h0.8v0.8h-0.8zM196.9 630.7h0.8v0.8h-0.8zM202.2 615.6h0.8v0.8h-0.8zM203.1 627.2h0.8v0.8h-0.8zM206.5 624.0h0.8v0.8h-0.8zM206.0 632.2h0.8v0.8h-0.8zM200.4 625.9h0.8v0.8h-0.8zM198.2 626.6h0.8v0.8h-0.8zM204.9 605.7h0.8v0.8h-0.8zM196.3 631.1h0.8v0.8h-0.8zM203.6 634.0h0.8v0.8h-0.8zM208.3 625.5h0.8v0.8h-0.8zM206.1 625.9h0.8v0.8h-0.8zM199.6 618.2h0.8v0.8h-0.8zM197.5 612.5h0.8v0.8h-0.8zM206.8 634.0h0.8v0.8h-0.8zM206.5 620.5h0.8v0.8h-0.8zM204.0 616.8h0.8v0.8h-0.8zM200.3 624.6h0.8v0.8h-0.8zM200.4 615.6h0.8v0.8h-0.8zM202.3 626.0h0.8v0.8h-0.8zM212.7 634.0h0.8v0.8h-0.8zM201.5 608.2h0.8v0.8h-0.8zM206.5 616.7h0.8v0.8h-0.8zM201.1 633.1h0.8v0.8h-0.8zM206.0 617.2h0.8v0.8h-0.8zM205.3 622.7h0.8v0.8h-0.8zM199.8 629.2h0.8v0.8h-0.8zM208.7 608.4h0.8v0.8h-0.8zM204.5 623.8h0.8v0.8h-0.8zM207.5 626.3h0.8v0.8h-0.8zM202.7 629.3h0.8v0.8h-0.8zM203.0 621.0h0.8v0.8h-0.8zM203.9 616.0h0.8v0.8h-0.8zM207.1 610.8h0.8v0.8h-0.8zM208.7 622.0h0.8v0.8h-0.8zM195.4 613.4h0.8v0.8h-0.8zM207.6 607.5h0.8v0.8h-0.8zM210.9 615.3h0.8v0.8h-0.8zM198.3 634.0h0.8v0.8h-0.8zM202.4 621.0h0.8v0.8h-0.8zM206.9 611.8h0.8v0.8h-0.8zM209.6 633.2h0.8v0.8h-0.8zM209.5 631.4h0.8v0.8h-0.8zM198.6 634.0h0.8v0.8h-0.8zM194.8 625.1h0.8v0.8h-0.8zM203.3 634.0h0.8v0.8h-0.8zM206.1 613.7h0.8v0.8h-0.8zM203.9 619.2h0.8v0.8h-0.8zM208.6 629.5h0.8v0.8h-0.8zM195.3 604.2h0.8v0.8h-0.8zM199.5 619.8h0.8v0.8h-0.8zM206.6 617.5h0.8v0.8h-0.8zM200.0 629.1h0.8v0.8h-0.8zM200.7 611.5h0.8v0.8h-0.8zM196.1 631.0h0.8v0.8h-0.8zM206.5 620.8h0.8v0.8h-0.8zM207.3 604.6h0.8v0.8h-0.8zM210.9 617.5h0.8v0.8h-0.8zM207.1 622.4h0.8v0.8h-0.8zM201.2 619.1h0.8v0.8h-0.8zM206.5 611.2h0.8v0.8h-0.8zM196.9 619.5h0.8v0.8h-0.8zM208.5 623.0h0.8v0.8h-0.8zM209.0 603.0h0.8v0.8h-0.8zM197.7 618.9h0.8v0.8h-0.8zM199.1 610.3h0.8v0.8h-0.8zM212.3 609.0h0.8v0.8h-0.8zM210.7 628.2h0.8v0.8h-0.8zM203.1 619.5h0.8v0.8h-0.8zM198.7 612.8h0.8v0.8h-0.8zM207.9 608.6h0.8v0.8h-0.8zM203.0 623.7h0.8v0.8h-0.8zM207.6 621.0h0.8v0.8h-0.8zM200.8 627.4h0.8v0.8h-0.8zM201.0 634.0h0.8v0.8h-0.8zM203.7 612.1h0.8v0.8h-0.8zM201.7 616.1h0.8v0.8h-0.8zM199.1 609.6h0.8v0.8h-0.8zM211.7 623.0h0.8v0.8h-0.8zM199.4 627.6h0.8v0.8h-0.8zM200.7 607.6h0.8v0.8h-0.8zM200.8 630.8h0.8v0.8h-0.8zM205.0 618.5h0.8v0.8h-0.8zM210.4 621.7h0.8v0.8h-0.8zM215.9 626.1h0.8v0.8h-0.8zM204.4 610.5h0.8v0.8h-0.8zM208.9 607.1h0.8v0.8h-0.8zM211.5 626.7h0.8v0.8h-0.8zM206.3 616.0h0.8v0.8h-0.8zM200.2 625.1h0.8v0.8h-0.8zM204.2 621.4h0.8v0.8h-0.8zM203.2 614.7h0.8v0.8h-0.8zM204.8 634.0h0.8v0.8h-0.8zM204.0 634.0h0.8v0.8h-0.8zM199.1 606.9h0.8v0.8h-0.8zM205.6 618.5h0.8v0.8h-0.8zM203.1 627.0h0.8v0.8h-0.8zM202.5 618.1h0.8v0.8h-0.8zM204.0 624.8h0.8v0.8h-0.8zM207.5 614.3h0.8v0.8h-0.8zM200.2 617.4h0.8v0.8h-0.8zM207.3 616.0h0.8v0.8h-0.8zM205.7 615.5h0.8v0.8h-0.8zM197.0 627.4h0.8v0.8h-0.8zM201.9 615.8h0.8v0.8h-0.8zM200.6 606.1h0.8v0.8h-0.8zM202.3 616.5h0.8v0.8h-0.8zM204.6 614.4h0.8v0.8h-0.8zM202.0 611.7h0.8v0.8h-0.8zM204.9 613.3h0.8v0.8h-0.8zM202.8 622.1h0.8v0.8h-0.8zM207.3 609.6h0.8v0.8h-0.8zM203.3 617.1h0.8v0.8h-0.8zM207.1 616.5h0.8v0.8h-0.8zM206.9 617.3h0.8v0.8h-0.8zM208.8 634.0h0.8v0.8h-0.8zM203.4 619.3h0.8v0.8h-0.8zM202.5 602.8h0.8v0.8h-0.8zM202.9 617.9h0.8v0.8h-0.8zM197.4 629.1h0.8v0.8h-0.8zM205.7 624.8h0.8v0.8h-0.8zM204.8 616.3h0.8v0.8h-0.8zM206.2 614.3h0.8v0.8h-0.8zM204.2 612.6h0.8v0.8h-0.8zM194.4 607.2h0.8v0.8h-0.8zM211.8 628.0h0.8v0.8h-0.8zM206.4 625.0h0.8v0.8h-0.8zM210.2 612.8h0.8v0.8h-0.8zM202.7 628.5h0.8v0.8h-0.8zM205.2 620.1h0.8v0.8h-0.8zM202.6 620.3h0.8v0.8h-0.8zM205.4 617.1h0.8v0.8h-0.8zM211.2 625.2h0.8v0.8h-0.8zM203.2 609.6h0.8v0.8h-0.8zM203.9 610.7h0.8v0.8h-0.8zM208.5 616.4h0.8v0.8h-0.8zM205.7 612.1h0.8v0.8h-0.8zM200.7 619.8h0.8v0.8h-0.8zM197.8 619.1h0.8v0.8h-0.8zM205.6 629.8h0.8v0.8h-0.8zM205.8 632.1h0.8v0.8h-0.8zM204.9 618.3h0.8v0.8h-0.8zM202.5 632.6h0.8v0.8h-0.8zM201.6 606.3h0.8v0.8h-0.8zM205.1 625.1h0.8v0.8h-0.8z" fill="#8a8a8a"/>
<path d="M204.8 626.5h0.8v0.8h-0.8zM205.1 626.3h0.8v0.8h-0.8zM207.6 616.2h0.8v0.8h-0.8zM208.2 617.6h0.8v0.8h-0.8zM207.5 618.3h0.8v0.8h-0.8zM201.2 631.2h0.8v0.8h-0.8zM206.5 625.2h0.8v0.8h-0.8zM201.7 624.6h0.8v0.8h-0.8zM207.7 622.9h0.8v0.8h-0.8zM204.1 620.0h0.8v0.8h-0.8zM200.5 625.6h0.8v0.8h-0.8zM208.5 630.5h0.8v0.8h-0.8zM199.1 618.8h0.8v0.8h-0.8zM205.6 615.7h0.8v0.8h-0.8zM202.2 609.6h0.8v0.8h-0.8zM206.6 604.5h0.8v0.8h-0.8zM207.5 628.0h0.8v0.8h-0.8zM208.2 618.5h0.8v0.8h-0.8zM200.5 610.7h0.8v0.8h-0.8zM203.1 624.9h0.8v0.8h-0.8zM206.7 625.5h0.8v0.8h-0.8zM206.4 629.8h0.8v0.8h-0.8zM203.8 625.1h0.8v0.8h-0.8zM200.7 632.1h0.8v0.8h-0.8zM206.4 612.4h0.8v0.8h-0.8zM199.4 618.9h0.8v0.8h-0.8zM199.7 618.5h0.8v0.8h-0.8zM201.7 609.4h0.8v0.8h-0.8zM205.9 610.6h0.8v0.8h-0.8zM200.8 623.9h0.8v0.8h-0.8zM207.2 612.4h0.8v0.8h-0.8zM203.0 620.2h0.8v0.8h-0.8zM198.9 620.3h0.8v0.8h-0.8zM203.9 606.2h0.8v0.8h-0.8zM198.2 619.5h0.8v0.8h-0.8zM199.0 625.5h0.8v0.8h-0.8zM201.0 633.0h0.8v0.8h-0.8zM195.3 630.1h0.8v0.8h-0.8zM204.3 627.6h0.8v0.8h-0.8zM199.0 614.2h0.8v0.8h-0.8zM206.7 609.6h0.8v0.8h-0.8zM209.7 614.9h0.8v0.8h-0.8zM197.9 625.4h0.8v0.8h-0.8zM200.9 626.5h0.8v0.8h-0.8zM199.3 605.1h0.8v0.8h-0.8zM206.0 610.0h0.8v0.8h-0.8zM201.8 620.7h0.8v0.8h-0.8zM203.8 626.8h0.8v0.8h-0.8zM199.0 622.8h0.8v0.8h-0.8zM205.3 610.8h0.8v0.8h-0.8zM206.3 618.0h0.8v0.8h-0.8zM204.1 625.9h0.8v0.8h-0.8zM203.5 621.8h0.8v0.8h-0.8zM206.6 616.6h0.8v0.8h-0.8zM198.9 620.0h0.8v0.8h-0.8zM201.5 634.0h0.8v0.8h-0.8zM203.0 615.3h0.8v0.8h-0.8zM206.1 629.1h0.8v0.8h-0.8zM204.0 620.6h0.8v0.8h-0.8zM206.4 626.5h0.8v0.8h-0.8zM208.3 623.9h0.8v0.8h-0.8zM206.0 616.1h0.8v0.8h-0.8zM205.4 624.6h0.8v0.8h-0.8zM205.2 613.7h0.8v0.8h-0.8zM200.0 623.9h0.8v0.8h-0.8zM208.9 613.3h0.8v0.8h-0.8zM207.1 619.4h0.8v0.8h-0.8zM201.9 627.7h0.8v0.8h-0.8zM205.7 634.0h0.8v0.8h-0.8zM206.0 634.0h0.8v0.8h-0.8zM202.9 624.4h0.8v0.8h-0.8zM206.4 622.2h0.8v0.8h-0.8zM205.4 628.8h0.8v0.8h-0.8zM199.8 621.0h0.8v0.8h-0.8zM208.7 620.1h0.8v0.8h-0.8zM209.8 622.4h0.8v0.8h-0.8zM204.3 616.6h0.8v0.8h-0.8zM207.8 607.4h0.8v0.8h-0.8zM210.8 634.0h0.8v0.8h-0.8zM211.6 626.9h0.8v0.8h-0.8zM204.1 605.9h0.8v0.8h-0.8zM206.7 626.6h0.8v0.8h-0.8zM203.2 610.8h0.8v0.8h-0.8zM208.4 629.0h0.8v0.8h-0.8zM204.4 617.9h0.8v0.8h-0.8zM205.4 628.1h0.8v0.8h-0.8zM209.7 621.7h0.8v0.8h-0.8zM209.5 621.9h0.8v0.8h-0.8zM206.6 629.3h0.8v0.8h-0.8zM209.7 614.3h0.8v0.8h-0.8zM204.0 634.0h0.8v0.8h-0.8zM205.7 634.0h0.8v0.8h-0.8zM201.0 616.5h0.8v0.8h-0.8zM202.7 620.0h0.8v0.8h-0.8zM202.1 623.7h0.8v0.8h-0.8zM202.7 621.2h0.8v0.8h-0.8zM203.5 634.0h0.8v0.8h-0.8zM202.8 634.0h0.8v0.8h-0.8zM199.5 614.9h0.8v0.8h-0.8zM202.5 616.9h0.8v0.8h-0.8zM201.2 630.4h0.8v0.8h-0.8zM204.8 607.9h0.8v0.8h-0.8zM204.8 613.5h0.8v0.8h-0.8zM209.3 618.4h0.8v0.8h-0.8zM198.2 609.3h0.8v0.8h-0.8zM199.5 617.3h0.8v0.8h-0.8zM217.7 625.9h0.8v0.8h-0.8zM208.3 607.6h0.8v0.8h-0.8zM205.9 617.4h0.8v0.8h-0.8zM205.9 615.6h0.8v0.8h-0.8zM201.1 626.2h0.8v0.8h-0.8zM202.0 631.1h0.8v0.8h-0.8zM202.6 619.0h0.8v0.8h-0.8zM199.5 627.1h0.8v0.8h-0.8zM202.9 626.0h0.8v0.8h-0.8zM202.0 622.9h0.8v0.8h-0.8zM202.7 616.9h0.8v0.8h-0.8zM210.7 611.3h0.8v0.8h-0.8zM206.0 629.3h0.8v0.8h-0.8zM203.3 627.0h0.8v0.8h-0.8zM204.2 626.8h0.8v0.8h-0.8zM202.2 614.9h0.8v0.8h-0.8zM202.4 620.3h0.8v0.8h-0.8zM205.3 605.8h0.8v0.8h-0.8zM201.9 629.2h0.8v0.8h-0.8zM196.2 630.4h0.8v0.8h-0.8zM201.3 634.0h0.8v0.8h-0.8zM200.5 611.7h0.8v0.8h-0.8zM206.5 634.0h0.8v0.8h-0.8zM200.2 608.4h0.8v0.8h-0.8zM205.1 609.7h0.8v0.8h-0.8zM200.2 617.3h0.8v0.8h-0.8zM200.3 617.1h0.8v0.8h-0.8zM203.6 622.6h0.8v0.8h-0.8zM201.4 634.0h0.8v0.8h-0.8zM211.8 627.0h0.8v0.8h-0.8zM205.1 628.6h0.8v0.8h-0.8zM203.4 634.0h0.8v0.8h-0.8zM209.8 633.6h0.8v0.8h-0.8zM198.6 614.7h0.8v0.8h-0.8zM205.5 615.8h0.8v0.8h-0.8zM203.4 624.3h0.8v0.8h-0.8zM198.5 622.2h0.8v0.8h-0.8zM206.2 610.7h0.8v0.8h-0.8zM208.8 627.8h0.8v0.8h-0.8zM200.9 625.5h0.8v0.8h-0.8zM204.5 619.6h0.8v0.8h-0.8zM204.4 616.6h0.8v0.8h-0.8zM207.9 616.8h0.8v0.8h-0.8zM199.3 625.0h0.8v0.8h-0.8zM206.8 614.9h0.8v0.8h-0.8zM204.0 627.8h0.8v0.8h-0.8zM207.7 625.6h0.8v0.8h-0.8zM198.4 626.4h0.8v0.8h-0.8zM200.6 629.8h0.8v0.8h-0.8zM205.4 626.5h0.8v0.8h-0.8zM204.6 621.7h0.8v0.8h-0.8zM206.6 610.4h0.8v0.8h-0.8zM207.5 627.8h0.8v0.8h-0.8zM208.1 622.8h0.8v0.8h-0.8zM208.7 611.7h0.8v0.8h-0.8zM207.2 626.9h0.8v0.8h-0.8zM203.3 612.3h0.8v0.8h-0.8zM199.3 628.2h0.8v0.8h-0.8zM211.6 630.7h0.8v0.8h-0.8zM214.1 626.9h0.8v0.8h-0.8zM196.5 625.1h0.8v0.8h-0.8zM203.0 634.0h0.8v0.8h-0.8zM209.9 622.0h0.8v0.8h-0.8zM207.1 627.4h0.8v0.8h-0.8zM196.3 620.6h0.8v0.8h-0.8zM207.6 628.7h0.8v0.8h-0.8zM203.7 632.4h0.8v0.8h-0.8zM209.7 631.8h0.8v0.8h-0.8zM201.7 606.5h0.8v0.8h-0.8zM209.4 607.6h0.8v0.8h-0.8zM197.6 616.2h0.8v0.8h-0.8zM207.3 620.9h0.8v0.8h-0.8zM199.1 613.6h0.8v0.8h-0.8zM199.7 617.3h0.8v0.8h-0.8zM207.6 630.5h0.8v0.8h-0.8zM203.7 619.4h0.8v0.8h-0.8zM203.6 620.0h0.8v0.8h-0.8zM207.4 609.3h0.8v0.8h-0.8zM202.6 631.5h0.8v0.8h-0.8zM206.1 633.2h0.8v0.8h-0.8zM209.2 612.5h0.8v0.8h-0.8zM201.9 630.1h0.8v0.8h-0.8zM204.7 621.6h0.8v0.8h-0.8zM210.0 619.6h0.8v0.8h-0.8zM208.2 613.8h0.8v0.8h-0.8zM211.2 634.0h0.8v0.8h-0.8zM204.9 627.4h0.8v0.8h-0.8zM204.9 634.0h0.8v0.8h-0.8zM206.5 625.7h0.8v0.8h-0.8zM198.2 630.9h0.8v0.8h-0.8zM206.8 622.6h0.8v0.8h-0.8zM204.6 620.1h0.8v0.8h-0.8zM206.5 612.9h0.8v0.8h-0.8zM208.5 619.0h0.8v0.8h-0.8zM203.1 608.5h0.8v0.8h-0.8zM197.7 603.1h0.8v0.8h-0.8zM209.7 620.4h0.8v0.8h-0.8zM212.6 620.5h0.8v0.8h-0.8zM206.7 625.2h0.8v0.8h-0.8zM206.6 634.0h0.8v0.8h-0.8zM202.0 634.0h0.8v0.8h-0.8zM205.5 624.4h0.8v0.8h-0.8zM206.4 610.5h0.8v0.8h-0.8zM210.8 616.2h0.8v0.8h-0.8zM210.1 616.3h0.8v0.8h-0.8zM200.4 629.3h0.8v0.8h-0.8zM204.2 622.2h0.8v0.8h-0.8zM198.8 625.8h0.8v0.8h-0.8zM206.6 615.4h0.8v0.8h-0.8zM202.5 626.9h0.8v0.8h-0.8zM208.5 620.3h0.8v0.8h-0.8zM204.0 616.9h0.8v0.8h-0.8zM203.5 631.6h0.8v0.8h-0.8zM200.0 628.7h0.8v0.8h-0.8zM202.1 618.6h0.8v0.8h-0.8zM205.8 621.0h0.8v0.8h-0.8zM203.9 619.5h0.8v0.8h-0.8zM200.9 616.4h0.8v0.8h-0.8zM204.4 610.2h0.8v0.8h-0.8zM196.5 621.6h0.8v0.8h-0.8zM203.8 619.2h0.8v0.8h-0.8zM209.6 634.0h0.8v0.8h-0.8zM200.1 628.5h0.8v0.8h-0.8zM192.8 623.7h0.8v0.8h-0.8zM199.6 625.4h0.8v0.8h-0.8zM201.4 620.0h0.8v0.8h-0.8zM204.4 624.0h0.8v0.8h-0.8zM208.9 621.7h0.8v0.8h-0.8zM208.3 612.0h0.8v0.8h-0.8zM207.7 619.8h0.8v0.8h-0.8zM197.4 605.0h0.8v0.8h-0.8zM207.8 634.0h0.8v0.8h-0.8zM202.7 621.0h0.8v0.8h-0.8zM203.6 624.8h0.8v0.8h-0.8zM206.7 617.7h0.8v0.8h-0.8zM201.5 629.2h0.8v0.8h-0.8zM200.5 626.6h0.8v0.8h-0.8zM206.9 628.6h0.8v0.8h-0.8zM206.7 618.3h0.8v0.8h-0.8zM206.0 627.7h0.8v0.8h-0.8zM205.4 603.1h0.8v0.8h-0.8zM200.7 622.8h0.8v0.8h-0.8zM212.0 619.3h0.8v0.8h-0.8zM204.2 611.2h0.8v0.8h-0.8zM211.0 611.9h0.8v0.8h-0.8zM204.4 631.6h0.8v0.8h-0.8zM213.3 619.7h0.8v0.8h-0.8zM211.9 622.9h0.8v0.8h-0.8zM204.5 629.7h0.8v0.8h-0.8zM204.5 610.7h0.8v0.8h-0.8zM205.2 634.0h0.8v0.8h-0.8zM207.1 616.6h0.8v0.8h-0.8zM206.6 627.0h0.8v0.8h-0.8zM204.9 618.7h0.8v0.8h-0.8zM201.7 634.0h0.8v0.8h-0.8zM206.1 628.1h0.8v0.8h-0.8zM196.6 621.6h0.8v0.8h-0.8zM200.7 613.3h0.8v0.8h-0.8zM199.2 609.8h0.8v0.8h-0.8zM203.1 606.4h0.8v0.8h-0.8zM208.6 627.1h0.8v0.8h-0.8zM203.7 628.7h0.8v0.8h-0.8zM207.6 629.3h0.8v0.8h-0.8zM206.4 630.1h0.8v0.8h-0.8zM207.8 622.3h0.8v0.8h-0.8zM210.5 619.6h0.8v0.8h-0.8zM209.7 630.7h0.8v0.8h-0.8zM201.5 615.5h0.8v0.8h-0.8zM200.8 628.1h0.8v0.8h-0.8zM202.4 630.7h0.8v0.8h-0.8zM211.3 618.9h0.8v0.8h-0.8zM202.2 620.7h0.8v0.8h-0.8zM203.3 632.8h0.8v0.8h-0.8zM208.9 618.3h0.8v0.8h-0.8zM198.9 623.2h0.8v0.8h-0.8zM204.3 615.8h0.8v0.8h-0.8zM201.1 631.8h0.8v0.8h-0.8zM198.6 634.0h0.8v0.8h-0.8zM204.2 620.2h0.8v0.8h-0.8zM202.5 616.9h0.8v0.8h-0.8zM204.6 622.1h0.8v0.8h-0.8zM199.4 624.9h0.8v0.8h-0.8zM204.9 619.4h0.8v0.8h-0.8zM206.3 612.8h0.8v0.8h-0.8z" fill="#6e6e6e"/>
<path d="M210.8 622.0h0.8v0.8h-0.8zM206.4 607.9h0.8v0.8h-0.8zM202.1 619.8h0.8v0.8h-0.8zM211.3 630.9h0.8v0.8h-0.8zM203.8 634.0h0.8v0.8h-0.8zM197.3 613.8h0.8v0.8h-0.8zM224.7 628.3h0.8v0.8h-0.8zM198.9 622.8h0.8v0.8h-0.8zM193.3 627.9h0.8v0.8h-0.8zM208.4 618.4h0.8v0.8h-0.8zM204.7 628.3h0.8v0.8h-0.8zM201.6 626.1h0.8v0.8h-0.8zM210.2 623.1h0.8v0.8h-0.8zM199.7 634.0h0.8v0.8h-0.8zM206.5 626.9h0.8v0.8h-0.8zM194.8 604.9h0.8v0.8h-0.8zM213.8 620.0h0.8v0.8h-0.8zM211.3 622.2h0.8v0.8h-0.8zM194.2 627.0h0.8v0.8h-0.8zM195.1 627.8h0.8v0.8h-0.8zM193.5 634.0h0.8v0.8h-0.8zM203.8 630.7h0.8v0.8h-0.8zM205.4 625.9h0.8v0.8h-0.8zM199.3 616.2h0.8v0.8h-0.8zM205.0 622.6h0.8v0.8h-0.8zM213.6 621.5h0.8v0.8h-0.8zM202.3 618.4h0.8v0.8h-0.8zM193.1 620.3h0.8v0.8h-0.8zM205.3 634.0h0.8v0.8h-0.8zM209.7 611.7h0.8v0.8h-0.8zM202.9 608.8h0.8v0.8h-0.8zM191.1 632.7h0.8v0.8h-0.8zM207.2 634.0h0.8v0.8h-0.8zM208.0 621.8h0.8v0.8h-0.8zM211.6 624.8h0.8v0.8h-0.8zM200.5 604.8h0.8v0.8h-0.8zM203.5 628.1h0.8v0.8h-0.8zM198.6 616.6h0.8v0.8h-0.8zM206.5 622.4h0.8v0.8h-0.8zM189.3 600.7h0.8v0.8h-0.8zM211.1 601.5h0.8v0.8h-0.8zM209.2 620.1h0.8v0.8h-0.8zM194.0 618.6h0.8v0.8h-0.8zM209.0 610.3h0.8v0.8h-0.8zM197.8 608.7h0.8v0.8h-0.8zM201.8 600.9h0.8v0.8h-0.8zM203.6 613.7h0.8v0.8h-0.8zM203.0 609.8h0.8v0.8h-0.8zM205.2 630.3h0.8v0.8h-0.8zM201.7 627.4h0.8v0.8h-0.8zM213.1 618.4h0.8v0.8h-0.8zM199.4 629.1h0.8v0.8h-0.8zM198.9 613.6h0.8v0.8h-0.8zM195.4 615.8h0.8v0.8h-0.8zM209.4 622.9h0.8v0.8h-0.8zM188.6 616.2h0.8v0.8h-0.8zM209.4 634.0h0.8v0.8h-0.8zM203.3 613.3h0.8v0.8h-0.8zM207.7 610.4h0.8v0.8h-0.8zM216.9 617.2h0.8v0.8h-0.8zM198.1 620.0h0.8v0.8h-0.8zM209.3 608.3h0.8v0.8h-0.8zM211.9 606.8h0.8v0.8h-0.8zM212.5 600.6h0.8v0.8h-0.8zM190.5 612.2h0.8v0.8h-0.8zM206.8 624.6h0.8v0.8h-0.8zM198.4 607.9h0.8v0.8h-0.8zM213.6 634.0h0.8v0.8h-0.8zM202.9 626.5h0.8v0.8h-0.8zM207.1 612.9h0.8v0.8h-0.8zM203.5 624.0h0.8v0.8h-0.8zM202.4 621.2h0.8v0.8h-0.8zM206.6 606.3h0.8v0.8h-0.8zM197.8 634.0h0.8v0.8h-0.8zM205.1 620.1h0.8v0.8h-0.8zM196.4 634.0h0.8v0.8h-0.8zM210.8 634.0h0.8v0.8h-0.8zM202.5 632.9h0.8v0.8h-0.8zM199.7 631.1h0.8v0.8h-0.8zM211.4 634.0h0.8v0.8h-0.8zM206.6 625.0h0.8v0.8h-0.8zM196.5 631.2h0.8v0.8h-0.8zM205.4 618.9h0.8v0.8h-0.8zM206.4 608.0h0.8v0.8h-0.8zM203.0 627.2h0.8v0.8h-0.8zM204.1 630.8h0.8v0.8h-0.8zM207.3 618.1h0.8v0.8h-0.8zM196.1 634.0h0.8v0.8h-0.8z" fill="#8a8a8a"/>
<path d="M196.8 611.6h0.8v0.8h-0.8zM197.3 634.0h0.8v0.8h-0.8zM191.1 602.8h0.8v0.8h-0.8zM224.6 621.6h0.8v0.8h-0.8zM190.0 626.4h0.8v0.8h-0.8zM202.3 620.1h0.8v0.8h-0.8zM202.3 605.4h0.8v0.8h-0.8zM193.9 634.0h0.8v0.8h-0.8zM207.3 624.3h0.8v0.8h-0.8zM204.8 613.7h0.8v0.8h-0.8zM204.4 632.6h0.8v0.8h-0.8zM211.0 608.5h0.8v0.8h-0.8zM204.9 627.4h0.8v0.8h-0.8zM209.7 618.5h0.8v0.8h-0.8zM200.4 625.9h0.8v0.8h-0.8zM208.6 614.4h0.8v0.8h-0.8zM211.2 622.8h0.8v0.8h-0.8zM217.9 634.0h0.8v0.8h-0.8zM206.0 615.2h0.8v0.8h-0.8zM210.6 626.0h0.8v0.8h-0.8zM200.7 629.5h0.8v0.8h-0.8zM211.5 617.2h0.8v0.8h-0.8zM187.9 634.0h0.8v0.8h-0.8zM206.0 625.2h0.8v0.8h-0.8zM182.8 604.0h0.8v0.8h-0.8zM202.0 612.4h0.8v0.8h-0.8zM213.9 608.1h0.8v0.8h-0.8zM203.5 609.7h0.8v0.8h-0.8zM197.0 621.9h0.8v0.8h-0.8zM212.1 620.1h0.8v0.8h-0.8zM192.9 615.7h0.8v0.8h-0.8zM201.3 619.9h0.8v0.8h-0.8zM201.8 614.0h0.8v0.8h-0.8zM204.3 634.0h0.8v0.8h-0.8zM216.6 626.7h0.8v0.8h-0.8zM208.7 626.4h0.8v0.8h-0.8zM206.4 618.7h0.8v0.8h-0.8zM206.2 624.7h0.8v0.8h-0.8zM214.4 634.0h0.8v0.8h-0.8zM191.2 627.2h0.8v0.8h-0.8zM207.1 634.0h0.8v0.8h-0.8zM208.0 634.0h0.8v0.8h-0.8zM210.8 634.0h0.8v0.8h-0.8zM199.3 634.0h0.8v0.8h-0.8zM198.3 617.2h0.8v0.8h-0.8zM210.7 631.8h0.8v0.8h-0.8zM216.0 606.1h0.8v0.8h-0.8zM206.7 616.4h0.8v0.8h-0.8zM210.5 630.4h0.8v0.8h-0.8zM196.5 632.0h0.8v0.8h-0.8zM214.1 621.1h0.8v0.8h-0.8zM199.2 626.5h0.8v0.8h-0.8zM210.2 605.5h0.8v0.8h-0.8zM208.3 601.4h0.8v0.8h-0.8zM206.6 614.1h0.8v0.8h-0.8zM198.8 610.9h0.8v0.8h-0.8zM200.5 607.0h0.8v0.8h-0.8zM207.5 616.1h0.8v0.8h-0.8zM208.2 609.8h0.8v0.8h-0.8zM201.8 628.6h0.8v0.8h-0.8zM203.1 631.3h0.8v0.8h-0.8zM207.5 616.6h0.8v0.8h-0.8zM201.6 630.2h0.8v0.8h-0.8zM210.7 631.8h0.8v0.8h-0.8zM202.5 621.0h0.8v0.8h-0.8zM199.0 607.4h0.8v0.8h-0.8zM195.3 613.6h0.8v0.8h-0.8zM199.3 624.3h0.8v0.8h-0.8zM209.6 633.5h0.8v0.8h-0.8zM210.9 608.7h0.8v0.8h-0.8zM197.7 616.2h0.8v0.8h-0.8zM202.8 622.5h0.8v0.8h-0.8zM214.6 628.7h0.8v0.8h-0.8zM208.1 626.7h0.8v0.8h-0.8zM193.2 625.4h0.8v0.8h-0.8zM204.2 617.4h0.8v0.8h-0.8zM212.1 623.2h0.8v0.8h-0.8zM194.6 616.2h0.8v0.8h-0.8zM206.5 615.5h0.8v0.8h-0.8zM207.7 622.2h0.8v0.8h-0.8zM204.4 619.5h0.8v0.8h-0.8zM199.2 601.8h0.8v0.8h-0.8zM206.6 634.0h0.8v0.8h-0.8zM201.2 609.6h0.8v0.8h-0.8zM193.3 600.6h0.8v0.8h-0.8zM203.8 629.0h0.8v0.8h-0.8zM204.1 634.0h0.8v0.8h-0.8zM197.4 634.0h0.8v0.8h-0.8zM204.3 634.0h0.8v0.8h-0.8zM218.1 627.2h0.8v0.8h-0.8zM201.5 615.9h0.8v0.8h-0.8zM205.5 624.7h0.8v0.8h-0.8zM192.5 634.0h0.8v0.8h-0.8z" fill="#a4a4a4"/>
<path d="M202.5 622.7h0.8v0.8h-0.8zM199.6 622.2h0.8v0.8h-0.8zM214.3 620.1h0.8v0.8h-0.8zM215.7 609.5h0.8v0.8h-0.8zM200.7 631.3h0.8v0.8h-0.8zM206.5 621.5h0.8v0.8h-0.8zM206.4 622.8h0.8v0.8h-0.8zM203.6 623.6h0.8v0.8h-0.8zM211.5 615.0h0.8v0.8h-0.8zM207.3 612.0h0.8v0.8h-0.8zM204.9 616.9h0.8v0.8h-0.8zM202.3 601.9h0.8v0.8h-0.8zM208.2 605.1h0.8v0.8h-0.8zM202.8 623.1h0.8v0.8h-0.8zM211.5 633.8h0.8v0.8h-0.8zM206.5 624.1h0.8v0.8h-0.8zM199.3 621.5h0.8v0.8h-0.8zM201.9 634.0h0.8v0.8h-0.8zM211.9 617.5h0.8v0.8h-0.8zM208.4 602.8h0.8v0.8h-0.8zM201.0 625.0h0.8v0.8h-0.8zM204.7 616.6h0.8v0.8h-0.8zM210.5 634.0h0.8v0.8h-0.8zM200.9 613.0h0.8v0.8h-0.8zM208.5 625.3h0.8v0.8h-0.8zM204.1 612.2h0.8v0.8h-0.8zM210.3 632.8h0.8v0.8h-0.8zM213.4 625.4h0.8v0.8h-0.8zM206.3 623.5h0.8v0.8h-0.8zM197.2 601.5h0.8v0.8h-0.8zM193.7 626.3h0.8v0.8h-0.8zM200.1 629.7h0.8v0.8h-0.8zM198.4 615.5h0.8v0.8h-0.8zM211.7 620.3h0.8v0.8h-0.8zM199.4 620.3h0.8v0.8h-0.8zM202.2 624.7h0.8v0.8h-0.8zM210.4 605.4h0.8v0.8h-0.8zM202.6 633.5h0.8v0.8h-0.8zM205.0 622.4h0.8v0.8h-0.8zM201.7 634.0h0.8v0.8h-0.8zM214.3 628.0h0.8v0.8h-0.8zM213.8 613.3h0.8v0.8h-0.8zM206.4 616.1h0.8v0.8h-0.8zM208.4 634.0h0.8v0.8h-0.8zM199.3 634.0h0.8v0.8h-0.8zM210.0 617.6h0.8v0.8h-0.8zM211.2 611.6h0.8v0.8h-0.8zM197.2 619.7h0.8v0.8h-0.8zM202.0 628.3h0.8v0.8h-0.8zM204.0 621.1h0.8v0.8h-0.8zM208.9 606.2h0.8v0.8h-0.8zM195.3 602.2h0.8v0.8h-0.8zM203.3 623.2h0.8v0.8h-0.8zM213.1 621.2h0.8v0.8h-0.8zM195.8 609.1h0.8v0.8h-0.8zM199.2 618.2h0.8v0.8h-0.8zM200.3 634.0h0.8v0.8h-0.8zM190.5 621.3h0.8v0.8h-0.8zM189.0 620.0h0.8v0.8h-0.8zM204.2 617.2h0.8v0.8h-0.8zM215.1 605.9h0.8v0.8h-0.8zM195.2 634.0h0.8v0.8h-0.8zM189.5 632.4h0.8v0.8h-0.8zM201.6 627.7h0.8v0.8h-0.8zM203.4 634.0h0.8v0.8h-0.8zM208.2 619.1h0.8v0.8h-0.8zM198.2 623.5h0.8v0.8h-0.8zM208.4 630.7h0.8v0.8h-0.8zM205.2 610.5h0.8v0.8h-0.8zM201.3 606.1h0.8v0.8h-0.8zM198.6 628.6h0.8v0.8h-0.8zM216.3 634.0h0.8v0.8h-0.8zM200.1 634.0h0.8v0.8h-0.8zM207.6 622.3h0.8v0.8h-0.8zM199.0 612.6h0.8v0.8h-0.8zM196.2 616.0h0.8v0.8h-0.8zM199.7 621.7h0.8v0.8h-0.8zM207.9 610.5h0.8v0.8h-0.8zM206.8 602.3h0.8v0.8h-0.8zM198.5 613.0h0.8v0.8h-0.8zM207.4 627.4h0.8v0.8h-0.8zM210.8 611.6h0.8v0.8h-0.8zM217.1 615.6h0.8v0.8h-0.8zM204.8 607.6h0.8v0.8h-0.8zM198.3 634.0h0.8v0.8h-0.8zM195.5 621.4h0.8v0.8h-0.8zM199.1 605.2h0.8v0.8h-0.8zM211.4 624.0h0.8v0.8h-0.8zM205.1 615.1h0.8v0.8h-0.8zM213.3 607.1h0.8v0.8h-0.8zM206.3 634.0h0.8v0.8h-0.8zM200.9 634.0h0.8v0.8h-0.8zM207.9 615.8h0.8v0.8h-0.8zM210.4 613.2h0.8v0.8h-0.8zM211.1 610.3h0.8v0.8h-0.8zM206.5 614.0h0.8v0.8h-0.8zM217.5 605.9h0.8v0.8h-0.8zM193.3 629.6h0.8v0.8h-0.8zM198.1 633.7h0.8v0.8h-0.8zM214.9 634.0h0.8v0.8h-0.8zM199.0 608.9h0.8v0.8h-0.8zM202.9 617.8h0.8v0.8h-0.8zM214.8 634.0h0.8v0.8h-0.8zM210.6 621.8h0.8v0.8h-0.8zM195.4 630.2h0.8v0.8h-0.8zM207.7 628.0h0.8v0.8h-0.8zM198.8 614.9h0.8v0.8h-0.8zM200.1 621.8h0.8v0.8h-0.8zM201.4 618.6h0.8v0.8h-0.8zM200.6 622.2h0.8v0.8h-0.8zM194.5 614.7h0.8v0.8h-0.8zM207.4 616.2h0.8v0.8h-0.8zM203.5 620.1h0.8v0.8h-0.8zM212.8 611.7h0.8v0.8h-0.8z" fill="#b8b8b8"/>
<path d="M200.5 590.5h0.8v0.8h-0.8zM204.0 593.7h0.8v0.8h-0.8zM198.6 583.2h0.8v0.8h-0.8zM204.5 589.5h0.8v0.8h-0.8zM200.2 583.6h0.8v0.8h-0.8zM203.5 592.7h0.8v0.8h-0.8zM208.5 588.6h0.8v0.8h-0.8zM208.6 588.9h0.8v0.8h-0.8zM204.9 586.2h0.8v0.8h-0.8zM206.8 591.4h0.8v0.8h-0.8zM208.6 584.7h0.8v0.8h-0.8zM199.3 590.0h0.8v0.8h-0.8zM209.1 587.1h0.8v0.8h-0.8zM210.7 591.2h0.8v0.8h-0.8zM203.8 592.9h0.8v0.8h-0.8z" fill="#a8a8a8"/>
<path d="M201.0 590.8h0.8v0.8h-0.8zM205.0 590.6h0.8v0.8h-0.8zM204.5 589.1h0.8v0.8h-0.8zM204.8 588.4h0.8v0.8h-0.8zM204.2 586.8h0.8v0.8h-0.8zM213.3 592.6h0.8v0.8h-0.8zM207.7 586.4h0.8v0.8h-0.8zM203.4 590.2h0.8v0.8h-0.8zM207.8 582.1h0.8v0.8h-0.8zM203.4 589.3h0.8v0.8h-0.8zM204.4 584.7h0.8v0.8h-0.8zM202.5 591.2h0.8v0.8h-0.8zM204.4 590.5h0.8v0.8h-0.8zM205.4 590.6h0.8v0.8h-0.8zM199.7 587.1h0.8v0.8h-0.8zM208.1 589.3h0.8v0.8h-0.8zM202.2 593.5h0.8v0.8h-0.8zM206.1 588.1h0.8v0.8h-0.8zM203.1 590.5h0.8v0.8h-0.8z" fill="#888"/>
<path d="M206.8 584.8h0.8v0.8h-0.8zM203.1 594.6h0.8v0.8h-0.8zM202.7 593.6h0.8v0.8h-0.8zM196.9 583.5h0.8v0.8h-0.8zM202.7 589.9h0.8v0.8h-0.8zM205.0 596.1h0.8v0.8h-0.8zM204.9 586.6h0.8v0.8h-0.8zM204.2 585.5h0.8v0.8h-0.8zM203.7 579.9h0.8v0.8h-0.8zM205.4 583.6h0.8v0.8h-0.8zM201.8 592.1h0.8v0.8h-0.8z" fill="#6a6a6a"/>
<path d="M174.2 624.2h0.8v0.8h-0.8zM173.2 615.0h0.8v0.8h-0.8zM154.9 610.2h0.8v0.8h-0.8zM172.6 619.4h0.8v0.8h-0.8zM181.9 618.1h0.8v0.8h-0.8zM164.1 631.8h0.8v0.8h-0.8zM156.7 615.4h0.8v0.8h-0.8zM155.7 626.4h0.8v0.8h-0.8zM152.3 619.6h0.8v0.8h-0.8zM159.6 631.1h0.8v0.8h-0.8zM151.1 619.7h0.8v0.8h-0.8zM154.9 624.6h0.8v0.8h-0.8zM153.4 609.4h0.8v0.8h-0.8zM165.1 618.6h0.8v0.8h-0.8zM156.5 621.7h0.8v0.8h-0.8zM158.4 612.5h0.8v0.8h-0.8zM178.0 623.4h0.8v0.8h-0.8zM158.6 611.1h0.8v0.8h-0.8zM176.6 621.1h0.8v0.8h-0.8zM154.3 611.7h0.8v0.8h-0.8zM166.6 614.9h0.8v0.8h-0.8zM172.7 615.0h0.8v0.8h-0.8zM162.5 626.0h0.8v0.8h-0.8zM156.1 605.7h0.8v0.8h-0.8z" fill="#b8b8b8"/>
<path d="M157.8 615.0h0.8v0.8h-0.8zM171.5 607.9h0.8v0.8h-0.8zM164.7 606.0h0.8v0.8h-0.8zM178.8 613.0h0.8v0.8h-0.8zM180.5 625.8h0.8v0.8h-0.8zM167.9 624.2h0.8v0.8h-0.8zM166.5 623.1h0.8v0.8h-0.8zM161.4 619.8h0.8v0.8h-0.8zM153.3 614.9h0.8v0.8h-0.8zM180.0 612.8h0.8v0.8h-0.8zM179.1 616.2h0.8v0.8h-0.8zM162.7 610.4h0.8v0.8h-0.8zM169.4 628.6h0.8v0.8h-0.8zM179.8 610.3h0.8v0.8h-0.8zM178.2 617.6h0.8v0.8h-0.8zM168.5 619.9h0.8v0.8h-0.8zM166.6 617.8h0.8v0.8h-0.8zM158.6 631.2h0.8v0.8h-0.8zM151.3 626.8h0.8v0.8h-0.8z" fill="#8a8a8a"/>
<path d="M151.2 628.1h0.8v0.8h-0.8zM171.6 610.8h0.8v0.8h-0.8zM169.9 618.3h0.8v0.8h-0.8zM175.2 619.7h0.8v0.8h-0.8zM175.3 627.3h0.8v0.8h-0.8zM167.0 617.5h0.8v0.8h-0.8zM178.5 615.2h0.8v0.8h-0.8zM171.2 609.8h0.8v0.8h-0.8zM169.1 614.8h0.8v0.8h-0.8zM170.4 617.7h0.8v0.8h-0.8zM161.9 623.8h0.8v0.8h-0.8zM157.9 615.9h0.8v0.8h-0.8zM171.4 619.0h0.8v0.8h-0.8zM158.9 614.5h0.8v0.8h-0.8zM153.6 619.3h0.8v0.8h-0.8zM154.4 605.8h0.8v0.8h-0.8zM178.8 627.9h0.8v0.8h-0.8zM175.6 612.3h0.8v0.8h-0.8zM150.7 612.4h0.8v0.8h-0.8zM155.5 611.5h0.8v0.8h-0.8zM174.0 626.5h0.8v0.8h-0.8zM166.7 608.0h0.8v0.8h-0.8zM155.2 616.4h0.8v0.8h-0.8zM177.8 606.4h0.8v0.8h-0.8zM179.3 630.1h0.8v0.8h-0.8zM168.8 610.3h0.8v0.8h-0.8zM156.1 627.5h0.8v0.8h-0.8zM155.9 608.3h0.8v0.8h-0.8zM176.3 629.1h0.8v0.8h-0.8zM169.7 626.9h0.8v0.8h-0.8zM171.2 611.1h0.8v0.8h-0.8zM180.2 605.7h0.8v0.8h-0.8z" fill="#a4a4a4"/>
<path d="M158.8 635.1h0.8v0.8h-0.8zM172.4 634.8h0.8v0.8h-0.8zM175.3 634.5h0.8v0.8h-0.8zM167.3 634.6h0.8v0.8h-0.8zM157.5 634.5h0.8v0.8h-0.8zM217.8 635.1h0.8v0.8h-0.8zM182.8 634.9h0.8v0.8h-0.8zM180.8 635.1h0.8v0.8h-0.8zM186.0 634.7h0.8v0.8h-0.8zM209.4 635.0h0.8v0.8h-0.8zM177.2 634.9h0.8v0.8h-0.8zM166.3 634.6h0.8v0.8h-0.8zM229.4 635.2h0.8v0.8h-0.8zM166.0 635.0h0.8v0.8h-0.8zM189.5 634.8h0.8v0.8h-0.8zM219.1 635.2h0.8v0.8h-0.8zM181.8 634.5h0.8v0.8h-0.8zM219.2 634.3h0.8v0.8h-0.8zM231.6 634.5h0.8v0.8h-0.8zM232.7 635.0h0.8v0.8h-0.8zM199.3 634.7h0.8v0.8h-0.8zM174.6 635.2h0.8v0.8h-0.8zM218.9 635.3h0.8v0.8h-0.8zM214.0 635.0h0.8v0.8h-0.8zM224.8 634.8h0.8v0.8h-0.8zM173.2 634.7h0.8v0.8h-0.8zM183.1 634.7h0.8v0.8h-0.8zM187.2 634.3h0.8v0.8h-0.8zM194.8 635.1h0.8v0.8h-0.8zM175.7 634.9h0.8v0.8h-0.8zM211.6 634.6h0.8v0.8h-0.8zM170.6 635.2h0.8v0.8h-0.8zM214.4 635.1h0.8v0.8h-0.8zM176.6 634.5h0.8v0.8h-0.8zM213.4 635.3h0.8v0.8h-0.8zM225.0 634.3h0.8v0.8h-0.8zM172.9 634.7h0.8v0.8h-0.8zM154.0 634.6h0.8v0.8h-0.8zM211.9 634.7h0.8v0.8h-0.8zM159.3 634.8h0.8v0.8h-0.8zM156.8 634.6h0.8v0.8h-0.8zM234.7 634.6h0.8v0.8h-0.8zM156.5 634.7h0.8v0.8h-0.8zM175.6 635.1h0.8v0.8h-0.8zM152.8 634.6h0.8v0.8h-0.8zM200.1 634.9h0.8v0.8h-0.8z" fill="#888"/>
<path d="M183.9 635.2h0.8v0.8h-0.8zM222.2 634.5h0.8v0.8h-0.8zM230.7 634.6h0.8v0.8h-0.8zM223.8 634.5h0.8v0.8h-0.8zM156.9 634.4h0.8v0.8h-0.8zM234.2 634.9h0.8v0.8h-0.8zM187.3 634.6h0.8v0.8h-0.8zM186.1 634.3h0.8v0.8h-0.8zM163.3 635.0h0.8v0.8h-0.8zM155.4 635.2h0.8v0.8h-0.8zM209.2 634.9h0.8v0.8h-0.8zM202.1 635.0h0.8v0.8h-0.8zM201.1 635.2h0.8v0.8h-0.8zM182.0 635.0h0.8v0.8h-0.8zM155.5 635.1h0.8v0.8h-0.8zM216.6 635.2h0.8v0.8h-0.8zM233.1 634.4h0.8v0.8h-0.8zM164.4 635.1h0.8v0.8h-0.8zM187.1 634.5h0.8v0.8h-0.8zM185.3 634.5h0.8v0.8h-0.8zM162.6 635.1h0.8v0.8h-0.8zM204.8 634.9h0.8v0.8h-0.8zM216.9 634.8h0.8v0.8h-0.8zM233.8 634.8h0.8v0.8h-0.8zM171.1 634.7h0.8v0.8h-0.8zM235.5 635.1h0.8v0.8h-0.8zM223.2 635.1h0.8v0.8h-0.8zM186.1 634.9h0.8v0.8h-0.8zM219.6 634.9h0.8v0.8h-0.8zM224.7 635.2h0.8v0.8h-0.8zM173.5 634.3h0.8v0.8h-0.8zM164.7 635.0h0.8v0.8h-0.8zM153.0 634.8h0.8v0.8h-0.8zM179.5 635.1h0.8v0.8h-0.8zM236.7 635.3h0.8v0.8h-0.8zM230.1 634.4h0.8v0.8h-0.8zM176.4 634.9h0.8v0.8h-0.8zM163.5 634.2h0.8v0.8h-0.8zM210.0 634.2h0.8v0.8h-0.8zM209.7 634.7h0.8v0.8h-0.8zM165.0 634.3h0.8v0.8h-0.8zM226.7 634.8h0.8v0.8h-0.8zM208.4 634.8h0.8v0.8h-0.8zM233.1 634.4h0.8v0.8h-0.8zM158.4 634.4h0.8v0.8h-0.8z" fill="#666"/>
<path d="M196.3 635.1h0.8v0.8h-0.8zM195.0 635.1h0.8v0.8h-0.8zM173.5 634.9h0.8v0.8h-0.8zM155.4 634.4h0.8v0.8h-0.8zM163.5 635.1h0.8v0.8h-0.8zM170.0 634.8h0.8v0.8h-0.8zM234.7 634.3h0.8v0.8h-0.8zM210.4 635.1h0.8v0.8h-0.8zM224.1 634.6h0.8v0.8h-0.8zM185.1 634.9h0.8v0.8h-0.8zM177.9 635.1h0.8v0.8h-0.8zM193.7 634.8h0.8v0.8h-0.8zM207.1 634.8h0.8v0.8h-0.8zM234.6 634.4h0.8v0.8h-0.8zM166.5 634.4h0.8v0.8h-0.8zM196.0 634.2h0.8v0.8h-0.8zM170.1 635.3h0.8v0.8h-0.8zM211.2 634.3h0.8v0.8h-0.8zM236.2 635.0h0.8v0.8h-0.8zM222.4 634.8h0.8v0.8h-0.8zM173.6 634.4h0.8v0.8h-0.8zM224.8 634.8h0.8v0.8h-0.8zM212.8 634.8h0.8v0.8h-0.8zM222.6 634.3h0.8v0.8h-0.8zM200.0 634.4h0.8v0.8h-0.8zM233.4 635.3h0.8v0.8h-0.8zM175.3 635.0h0.8v0.8h-0.8zM235.1 634.8h0.8v0.8h-0.8zM213.1 634.8h0.8v0.8h-0.8zM165.1 634.9h0.8v0.8h-0.8zM161.0 634.7h0.8v0.8h-0.8zM236.4 635.3h0.8v0.8h-0.8zM216.4 635.2h0.8v0.8h-0.8zM167.8 635.2h0.8v0.8h-0.8zM158.4 634.8h0.8v0.8h-0.8zM160.1 635.1h0.8v0.8h-0.8zM215.8 634.6h0.8v0.8h-0.8zM222.6 635.2h0.8v0.8h-0.8zM174.2 634.8h0.8v0.8h-0.8z" fill="#444"/>
<line x1="148.0" y1="635.0" x2="148.0" y2="636.3" stroke="#666" stroke-width="0.5"/>
<line x1="138.0" y1="626.8" x2="139.8" y2="626.8" stroke="#333" stroke-width="0.7"/>
<line x1="152.9" y1="635.0" x2="152.9" y2="636.3" stroke="#666" stroke-width="0.5"/>
<line x1="138.0" y1="621.9" x2="139.8" y2="621.9" stroke="#333" stroke-width="0.7"/>
<line x1="156.3" y1="635.0" x2="156.3" y2="636.3" stroke="#666" stroke-width="0.5"/>
<line x1="138.0" y1="618.5" x2="139.8" y2="618.5" stroke="#333" stroke-width="0.7"/>
<line x1="158.9" y1="635.0" x2="158.9" y2="636.3" stroke="#666" stroke-width="0.5"/>
<line x1="138.0" y1="615.9" x2="139.8" y2="615.9" stroke="#333" stroke-width="0.7"/>
<line x1="161.1" y1="635.0" x2="161.1" y2="636.3" stroke="#666" stroke-width="0.5"/>
<line x1="138.0" y1="613.7" x2="139.8" y2="613.7" stroke="#333" stroke-width="0.7"/>
<line x1="162.9" y1="635.0" x2="162.9" y2="636.3" stroke="#666" stroke-width="0.5"/>
<line x1="138.0" y1="611.9" x2="139.8" y2="611.9" stroke="#333" stroke-width="0.7"/>
<line x1="164.5" y1="635.0" x2="164.5" y2="636.3" stroke="#666" stroke-width="0.5"/>
<line x1="138.0" y1="610.3" x2="139.8" y2="610.3" stroke="#333" stroke-width="0.7"/>
<line x1="165.9" y1="635.0" x2="165.9" y2="636.3" stroke="#666" stroke-width="0.5"/>
<line x1="138.0" y1="608.9" x2="139.8" y2="608.9" stroke="#333" stroke-width="0.7"/>
<line x1="175.4" y1="635.0" x2="175.4" y2="636.3" stroke="#666" stroke-width="0.5"/>
<line x1="138.0" y1="599.4" x2="139.8" y2="599.4" stroke="#333" stroke-width="0.7"/>
<line x1="180.2" y1="635.0" x2="180.2" y2="636.3" stroke="#666" stroke-width="0.5"/>
<line x1="138.0" y1="594.6" x2="139.8" y2="594.6" stroke="#333" stroke-width="0.7"/>
<line x1="183.7" y1="635.0" x2="183.7" y2="636.3" stroke="#666" stroke-width="0.5"/>
<line x1="138.0" y1="591.1" x2="139.8" y2="591.1" stroke="#333" stroke-width="0.7"/>
<line x1="186.3" y1="635.0" x2="186.3" y2="636.3" stroke="#666" stroke-width="0.5"/>
<line x1="138.0" y1="588.5" x2="139.8" y2="588.5" stroke="#333" stroke-width="0.7"/>
<line x1="188.5" y1="635.0" x2="188.5" y2="636.3" stroke="#666" stroke-width="0.5"/>
<line x1="138.0" y1="586.3" x2="139.8" y2="586.3" stroke="#333" stroke-width="0.7"/>
<line x1="190.3" y1="635.0" x2="190.3" y2="636.3" stroke="#666" stroke-width="0.5"/>
<line x1="138.0" y1="584.5" x2="139.8" y2="584.5" stroke="#333" stroke-width="0.7"/>
<line x1="191.9" y1="635.0" x2="191.9" y2="636.3" stroke="#666" stroke-width="0.5"/>
<line x1="138.0" y1="582.9" x2="139.8" y2="582.9" stroke="#333" stroke-width="0.7"/>
<line x1="193.3" y1="635.0" x2="193.3" y2="636.3" stroke="#666" stroke-width="0.5"/>
<line x1="138.0" y1="581.5" x2="139.8" y2="581.5" stroke="#333" stroke-width="0.7"/>
<line x1="202.8" y1="635.0" x2="202.8" y2="636.3" stroke="#666" stroke-width="0.5"/>
<line x1="138.0" y1="572.0" x2="139.8" y2="572.0" stroke="#333" stroke-width="0.7"/>
<line x1="207.6" y1="635.0" x2="207.6" y2="636.3" stroke="#666" stroke-width="0.5"/>
<line x1="138.0" y1="567.2" x2="139.8" y2="567.2" stroke="#333" stroke-width="0.7"/>
<line x1="211.0" y1="635.0" x2="211.0" y2="636.3" stroke="#666" stroke-width="0.5"/>
<line x1="138.0" y1="563.8" x2="139.8" y2="563.8" stroke="#333" stroke-width="0.7"/>
<line x1="213.7" y1="635.0" x2="213.7" y2="636.3" stroke="#666" stroke-width="0.5"/>
<line x1="138.0" y1="561.1" x2="139.8" y2="561.1" stroke="#333" stroke-width="0.7"/>
<line x1="215.9" y1="635.0" x2="215.9" y2="636.3" stroke="#666" stroke-width="0.5"/>
<line x1="138.0" y1="558.9" x2="139.8" y2="558.9" stroke="#333" stroke-width="0.7"/>
<line x1="217.7" y1="635.0" x2="217.7" y2="636.3" stroke="#666" stroke-width="0.5"/>
<line x1="138.0" y1="557.1" x2="139.8" y2="557.1" stroke="#333" stroke-width="0.7"/>
<line x1="219.3" y1="635.0" x2="219.3" y2="636.3" stroke="#666" stroke-width="0.5"/>
<line x1="138.0" y1="555.5" x2="139.8" y2="555.5" stroke="#333" stroke-width="0.7"/>
<line x1="220.7" y1="635.0" x2="220.7" y2="636.3" stroke="#666" stroke-width="0.5"/>
<line x1="138.0" y1="554.1" x2="139.8" y2="554.1" stroke="#333" stroke-width="0.7"/>
<line x1="230.2" y1="635.0" x2="230.2" y2="636.3" stroke="#666" stroke-width="0.5"/>
<line x1="138.0" y1="544.6" x2="139.8" y2="544.6" stroke="#333" stroke-width="0.7"/>
<line x1="235.0" y1="635.0" x2="235.0" y2="636.3" stroke="#666" stroke-width="0.5"/>
<line x1="138.0" y1="539.8" x2="139.8" y2="539.8" stroke="#333" stroke-width="0.7"/>
<line x1="238.4" y1="635.0" x2="238.4" y2="636.3" stroke="#666" stroke-width="0.5"/>
<line x1="138.0" y1="536.4" x2="139.8" y2="536.4" stroke="#333" stroke-width="0.7"/>
<line x1="241.1" y1="635.0" x2="241.1" y2="636.3" stroke="#666" stroke-width="0.5"/>
<line x1="138.0" y1="533.7" x2="139.8" y2="533.7" stroke="#333" stroke-width="0.7"/>
<line x1="243.2" y1="635.0" x2="243.2" y2="636.3" stroke="#666" stroke-width="0.5"/>
<line x1="138.0" y1="531.6" x2="139.8" y2="531.6" stroke="#333" stroke-width="0.7"/>
<line x1="245.1" y1="635.0" x2="245.1" y2="636.3" stroke="#666" stroke-width="0.5"/>
<line x1="138.0" y1="529.7" x2="139.8" y2="529.7" stroke="#333" stroke-width="0.7"/>
<line x1="246.6" y1="635.0" x2="246.6" y2="636.3" stroke="#666" stroke-width="0.5"/>
<line x1="138.0" y1="528.2" x2="139.8" y2="528.2" stroke="#333" stroke-width="0.7"/>
<line x1="248.0" y1="635.0" x2="248.0" y2="636.3" stroke="#666" stroke-width="0.5"/>
<line x1="138.0" y1="526.8" x2="139.8" y2="526.8" stroke="#333" stroke-width="0.7"/>
<line x1="139.8" y1="635.0" x2="139.8" y2="637.4" stroke="#444" stroke-width="0.6"/>
<line x1="137.2" y1="635.0" x2="139.8" y2="635.0" stroke="#333" stroke-width="0.7"/>
<text x="136.2" y="645.0" font-size="5.4" textLength="4.7" lengthAdjust="spacingAndGlyphs" fill="#222" style="stroke-width:0.2px">10</text>
<text x="141.0" y="642.8" font-size="3.4" fill="#222" style="stroke-width:0.15px">0</text>
<text x="127.7" y="636.9" font-size="5.4" textLength="4.7" lengthAdjust="spacingAndGlyphs" fill="#222" style="stroke-width:0.2px">10</text>
<text x="132.6" y="634.4" font-size="3.4" fill="#222" style="stroke-width:0.15px">0</text>
<line x1="167.2" y1="635.0" x2="167.2" y2="637.4" stroke="#444" stroke-width="0.6"/>
<line x1="137.2" y1="607.6" x2="139.8" y2="607.6" stroke="#333" stroke-width="0.7"/>
<text x="163.6" y="645.0" font-size="5.4" textLength="4.7" lengthAdjust="spacingAndGlyphs" fill="#222" style="stroke-width:0.2px">10</text>
<text x="168.4" y="642.8" font-size="3.4" fill="#222" style="stroke-width:0.15px">1</text>
<text x="127.7" y="609.5" font-size="5.4" textLength="4.7" lengthAdjust="spacingAndGlyphs" fill="#222" style="stroke-width:0.2px">10</text>
<text x="132.6" y="607.0" font-size="3.4" fill="#222" style="stroke-width:0.15px">1</text>
<line x1="194.6" y1="635.0" x2="194.6" y2="637.4" stroke="#444" stroke-width="0.6"/>
<line x1="137.2" y1="580.2" x2="139.8" y2="580.2" stroke="#333" stroke-width="0.7"/>
<text x="191.0" y="645.0" font-size="5.4" textLength="4.7" lengthAdjust="spacingAndGlyphs" fill="#222" style="stroke-width:0.2px">10</text>
<text x="195.8" y="642.8" font-size="3.4" fill="#222" style="stroke-width:0.15px">2</text>
<text x="127.7" y="582.1" font-size="5.4" textLength="4.7" lengthAdjust="spacingAndGlyphs" fill="#222" style="stroke-width:0.2px">10</text>
<text x="132.6" y="579.6" font-size="3.4" fill="#222" style="stroke-width:0.15px">2</text>
<line x1="221.9" y1="635.0" x2="221.9" y2="637.4" stroke="#444" stroke-width="0.6"/>
<line x1="137.2" y1="552.9" x2="139.8" y2="552.9" stroke="#333" stroke-width="0.7"/>
<text x="218.3" y="645.0" font-size="5.4" textLength="4.7" lengthAdjust="spacingAndGlyphs" fill="#222" style="stroke-width:0.2px">10</text>
<text x="223.1" y="642.8" font-size="3.4" fill="#222" style="stroke-width:0.15px">3</text>
<text x="127.7" y="554.8" font-size="5.4" textLength="4.7" lengthAdjust="spacingAndGlyphs" fill="#222" style="stroke-width:0.2px">10</text>
<text x="132.6" y="552.3" font-size="3.4" fill="#222" style="stroke-width:0.15px">3</text>
<line x1="249.3" y1="635.0" x2="249.3" y2="637.4" stroke="#444" stroke-width="0.6"/>
<line x1="137.2" y1="525.5" x2="139.8" y2="525.5" stroke="#333" stroke-width="0.7"/>
<text x="245.7" y="645.0" font-size="5.4" textLength="4.7" lengthAdjust="spacingAndGlyphs" fill="#222" style="stroke-width:0.2px">10</text>
<text x="250.5" y="642.8" font-size="3.4" fill="#222" style="stroke-width:0.15px">4</text>
<text x="127.7" y="527.4" font-size="5.4" textLength="4.7" lengthAdjust="spacingAndGlyphs" fill="#222" style="stroke-width:0.2px">10</text>
<text x="132.6" y="524.9" font-size="3.4" fill="#222" style="stroke-width:0.15px">4</text>
<text x="141.7" y="534.4" font-size="9.8" textLength="25.8" lengthAdjust="spacingAndGlyphs" fill="#222" style="stroke-width:0.12px">44.9%</text>
<text x="221.1" y="632.1" font-size="9.8" textLength="25.8" lengthAdjust="spacingAndGlyphs" fill="#222" style="stroke-width:0.12px">52.9%</text>
<rect x="256.2" y="400.6" width="3.8" height="230.2" fill="#111"/>
<rect x="259.5" y="510.2" width="9.5" height="4.0" fill="#111"/>
<path d="M297.9 512.3 L266.0 503.0 Q270.6 512.3 266.0 521.6Z" fill="#111"/>
<line x1="325.2" y1="400.8" x2="325.2" y2="478.9" stroke="#1a1a1a" stroke-width="1.3"/>
<line x1="324.6" y1="478.3" x2="440.8" y2="478.3" stroke="#1a1a1a" stroke-width="1.3"/>
<line x1="323.0" y1="478.3" x2="325.2" y2="478.3" stroke="#1a1a1a" stroke-width="0.9"/>
<text x="319.6" y="480.2" font-size="5.2" font-weight="bold" class="b" textLength="3.0" lengthAdjust="spacingAndGlyphs">0</text>
<line x1="323.0" y1="459.1" x2="325.2" y2="459.1" stroke="#1a1a1a" stroke-width="0.9"/>
<text x="316.6" y="461.0" font-size="5.2" font-weight="bold" class="b" textLength="6.0" lengthAdjust="spacingAndGlyphs">20</text>
<line x1="323.0" y1="439.9" x2="325.2" y2="439.9" stroke="#1a1a1a" stroke-width="0.9"/>
<text x="316.6" y="441.8" font-size="5.2" font-weight="bold" class="b" textLength="6.0" lengthAdjust="spacingAndGlyphs">40</text>
<line x1="323.0" y1="420.6" x2="325.2" y2="420.6" stroke="#1a1a1a" stroke-width="0.9"/>
<text x="316.6" y="422.5" font-size="5.2" font-weight="bold" class="b" textLength="6.0" lengthAdjust="spacingAndGlyphs">60</text>
<line x1="323.0" y1="401.4" x2="325.2" y2="401.4" stroke="#1a1a1a" stroke-width="0.9"/>
<text x="316.6" y="403.3" font-size="5.2" font-weight="bold" class="b" textLength="6.0" lengthAdjust="spacingAndGlyphs">80</text>
<text x="325.4" y="394.0" font-size="11.6" textLength="93.4" lengthAdjust="spacingAndGlyphs">Tail Vein Injection</text>
<text x="311.0" y="469.8" font-size="11.6" textLength="59.6" lengthAdjust="spacingAndGlyphs" transform="rotate(-90 311.0 469.8)">Percentage</text>
<line x1="354.1" y1="429.8" x2="354.1" y2="436.6" stroke="#1a1a1a" stroke-width="1.3"/>
<line x1="344.5" y1="429.8" x2="363.6" y2="429.8" stroke="#1a1a1a" stroke-width="1.3"/>
<rect x="335.0" y="437.2" width="37.8" height="41.0" fill="#fff" stroke="#1a1a1a" stroke-width="1.3"/>
<line x1="411.5" y1="418.9" x2="411.5" y2="425.5" stroke="#1a1a1a" stroke-width="1.3"/>
<line x1="401.4" y1="418.9" x2="421.7" y2="418.9" stroke="#1a1a1a" stroke-width="1.3"/>
<rect x="392.0" y="425.5" width="39.4" height="52.8" fill="#1a1a1a"/>
<text x="338.2" y="492.0" font-size="11.4" textLength="37.6" lengthAdjust="spacingAndGlyphs">CD45.1</text>
<text x="397.2" y="492.0" font-size="11.4" textLength="38.6" lengthAdjust="spacingAndGlyphs">CD45.2</text>
<line x1="382.2" y1="478.3" x2="382.2" y2="480.2" stroke="#1a1a1a" stroke-width="0.9"/>
<line x1="326.0" y1="526.8" x2="326.0" y2="604.6" stroke="#1a1a1a" stroke-width="1.3"/>
<line x1="325.4" y1="604.0" x2="442.0" y2="604.0" stroke="#1a1a1a" stroke-width="1.3"/>
<line x1="323.8" y1="604.0" x2="326.0" y2="604.0" stroke="#1a1a1a" stroke-width="0.9"/>
<text x="320.4" y="605.9" font-size="5.2" font-weight="bold" class="b" textLength="3.0" lengthAdjust="spacingAndGlyphs">0</text>
<line x1="323.8" y1="584.9" x2="326.0" y2="584.9" stroke="#1a1a1a" stroke-width="0.9"/>
<text x="317.4" y="586.8" font-size="5.2" font-weight="bold" class="b" textLength="6.0" lengthAdjust="spacingAndGlyphs">20</text>
<line x1="323.8" y1="565.7" x2="326.0" y2="565.7" stroke="#1a1a1a" stroke-width="0.9"/>
<text x="317.4" y="567.6" font-size="5.2" font-weight="bold" class="b" textLength="6.0" lengthAdjust="spacingAndGlyphs">40</text>
<line x1="323.8" y1="546.5" x2="326.0" y2="546.5" stroke="#1a1a1a" stroke-width="0.9"/>
<text x="317.4" y="548.4" font-size="5.2" font-weight="bold" class="b" textLength="6.0" lengthAdjust="spacingAndGlyphs">60</text>
<line x1="323.8" y1="527.4" x2="326.0" y2="527.4" stroke="#1a1a1a" stroke-width="0.9"/>
<text x="317.4" y="529.3" font-size="5.2" font-weight="bold" class="b" textLength="6.0" lengthAdjust="spacingAndGlyphs">80</text>
<text x="327.6" y="525.4" font-size="11.6" textLength="76.6" lengthAdjust="spacingAndGlyphs">Bone Injection</text>
<text x="313.8" y="613.0" font-size="11.6" textLength="59.6" lengthAdjust="spacingAndGlyphs" transform="rotate(-90 313.8 613.0)">Percentage</text>
<line x1="355.3" y1="547.0" x2="355.3" y2="561.0" stroke="#1a1a1a" stroke-width="1.3"/>
<line x1="345.8" y1="547.0" x2="364.8" y2="547.0" stroke="#1a1a1a" stroke-width="1.3"/>
<rect x="336.2" y="561.6" width="37.8" height="42.4" fill="#fff" stroke="#1a1a1a" stroke-width="1.3"/>
<line x1="412.9" y1="539.3" x2="412.9" y2="553.3" stroke="#1a1a1a" stroke-width="1.3"/>
<line x1="402.7" y1="539.3" x2="423.0" y2="539.3" stroke="#1a1a1a" stroke-width="1.3"/>
<rect x="393.0" y="553.3" width="39.4" height="50.7" fill="#1a1a1a"/>
<text x="338.2" y="618.8" font-size="11.4" textLength="37.6" lengthAdjust="spacingAndGlyphs">CD45.1</text>
<text x="397.2" y="618.8" font-size="11.4" textLength="38.6" lengthAdjust="spacingAndGlyphs">CD45.2</text>
<line x1="382.4" y1="604.0" x2="382.4" y2="605.9" stroke="#1a1a1a" stroke-width="0.9"/>
</g>
<defs><filter id="soft" x="0" y="0" width="100%" height="100%"><feGaussianBlur stdDeviation="0.35"/></filter></defs>
</svg>
</body></html>
